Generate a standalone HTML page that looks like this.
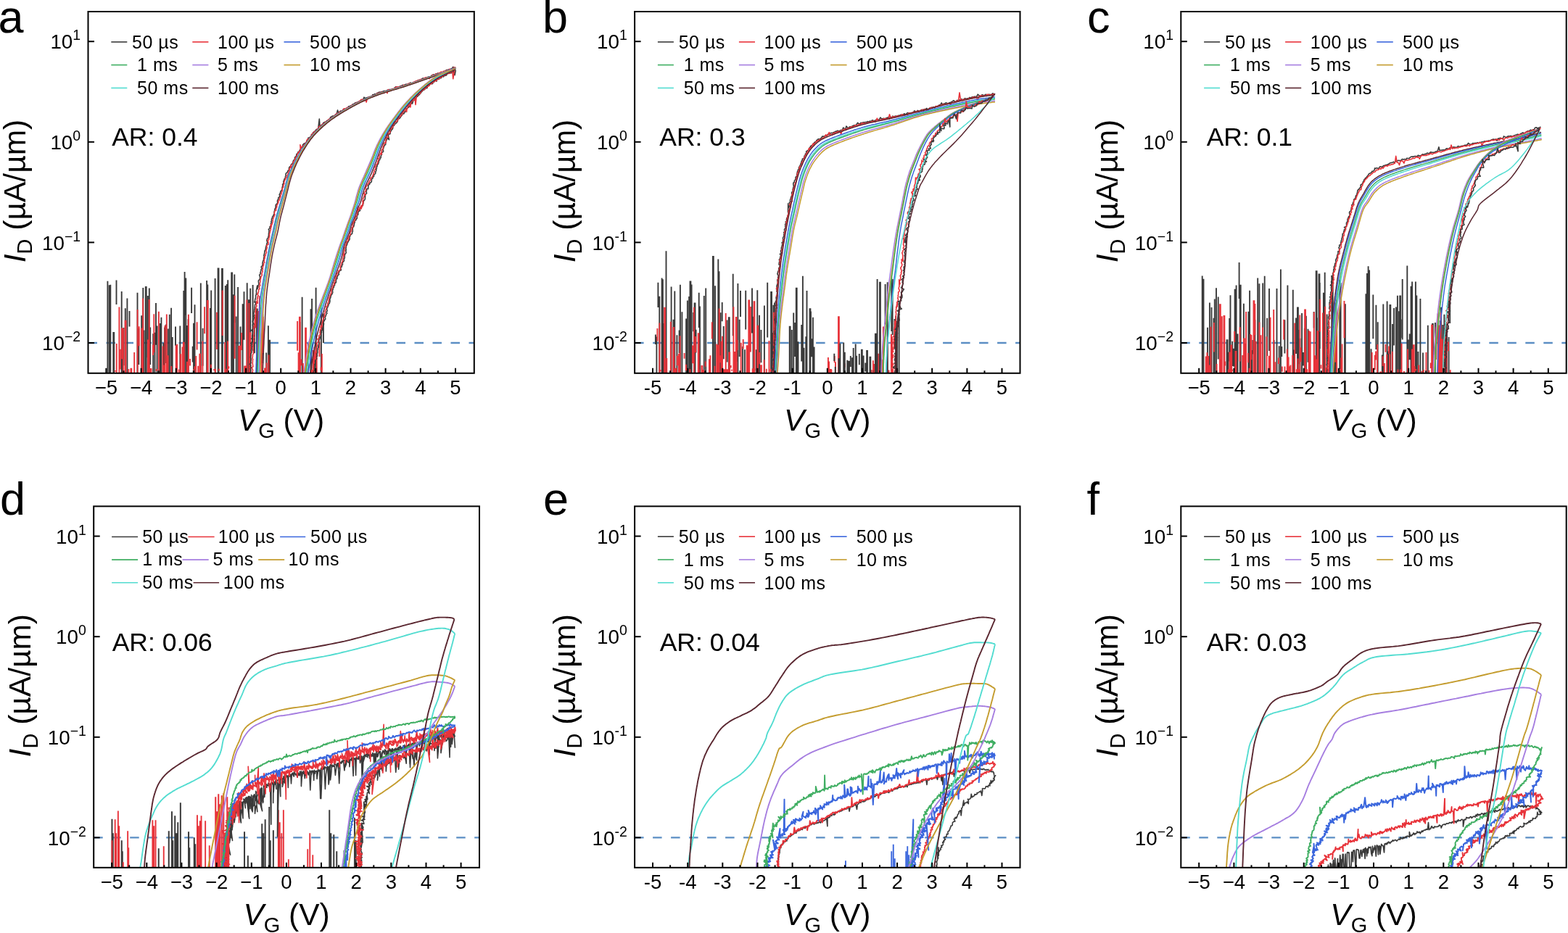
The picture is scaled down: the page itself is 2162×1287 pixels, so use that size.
<!DOCTYPE html>
<html><head><meta charset="utf-8"><style>html,body{margin:0;padding:0;background:#fff;overflow:hidden}svg{display:block}</style></head><body>
<svg xmlns="http://www.w3.org/2000/svg" width="2162" height="1287" viewBox="0 0 2162 1287" font-family='"Liberation Sans", Arial, sans-serif'>
<rect width="2162" height="1287" fill="#fff"/>
<line x1="121.5" y1="473" x2="653.8" y2="473" stroke="#5b8ec4" stroke-width="2.4" stroke-dasharray="12.5 12.5"/>
<line x1="875.1" y1="473" x2="1406.5" y2="473" stroke="#5b8ec4" stroke-width="2.4" stroke-dasharray="12.5 12.5"/>
<line x1="1628.3" y1="473" x2="2159.7" y2="473" stroke="#5b8ec4" stroke-width="2.4" stroke-dasharray="12.5 12.5"/>
<line x1="129.2" y1="1155.4" x2="661.0" y2="1155.4" stroke="#5b8ec4" stroke-width="2.4" stroke-dasharray="12.5 12.5"/>
<line x1="875.1" y1="1155.4" x2="1406.5" y2="1155.4" stroke="#5b8ec4" stroke-width="2.4" stroke-dasharray="12.5 12.5"/>
<line x1="1628.3" y1="1155.4" x2="2159.7" y2="1155.4" stroke="#5b8ec4" stroke-width="2.4" stroke-dasharray="12.5 12.5"/>
<clipPath id="clipa"><rect x="121.5" y="16.0" width="532.3" height="498.8"/></clipPath><g clip-path="url(#clipa)">
<path d="M148.4 517.8V387.7M150.7 517.8V393.2M152.3 517.8V392.7M156.3 517.8V458.9H157.2V489.9M157.2 489.9V517.8M160.5 419.9V386.5M167.7 517.8V402.1M169.2 517.8V481.2M170.5 504.2V451.9M172.8 517.8V425.2M175.4 517.8V411.5M178.5 450.6V429.0M189.5 517.8V403.8M191.4 502.9V452.9M195.2 517.8V435.3M197.3 517.8V397.1M198.5 517.8V455.4M200.8 517.8V396.0H201.7V462.9M201.7 462.9V517.8M203.8 493.2V408.0M205.8 517.8V397.5M207.2 503.0V451.4M211.2 517.8V460.3M213.5 517.8V458.7M215.0 475.8V417.9M216.6 517.8V449.4M220.7 517.8V446.1M222.4 517.8V437.7M225.4 517.8V473.3M227.0 517.8V451.4M229.0 501.1V447.5M231.7 517.8V453.4M233.8 517.8V433.7M236.1 517.8V424.8M237.7 517.8V465.1M242.0 476.7V450.6M248.3 517.8V449.6M253.3 517.8V401.9H254.2V463.8M254.2 463.8V517.8M254.6 434.7V374.9M256.3 517.8V383.6M258.1 517.8V449.0M259.5 517.8V440.3M264.1 432.1V396.7M265.7 499.4V477.8M267.0 517.8V446.8H267.9V468.1M267.9 468.1V517.8M268.5 517.8V420.3M276.8 517.8V390.6M279.6 504.8V452.8M285.1 517.8V387.0M286.3 517.8V392.4M289.9 517.8V425.1M291.2 517.8V400.5M296.6 517.8V384.0M300.6 517.8V370.4H301.5V407.6M301.5 407.6V517.8M306.0 517.8V371.0H306.9V400.5M306.9 400.5V517.8M310.8 517.8V393.9M312.8 517.8V392.1M314.2 517.8V386.3M319.2 517.8V376.4H320.1V408.6M320.1 408.6V517.8M322.0 517.8V406.2M323.3 445.2V378.6M325.7 517.8V436.6M328.1 517.8V396.1M329.9 517.8V478.5H330.8V488.0M330.8 488.0V517.8M331.5 517.8V450.5M334.6 517.8V419.2M336.5 468.8V402.2M340.7 517.8V390.3M342.8 517.8V414.2H343.7V467.7M343.7 467.7V517.8M345.2 517.8V397.8M348.6 484.2V393.0M350.9 487.3V445.9M353.9 517.8V426.5H354.8V442.4M354.8 442.4V517.8M362.3 501.1V433.6M367.2 517.8V486.6M369.9 517.8V449.2M371.2 517.8V469.8H372.1V496.2M372.1 496.2V517.8" fill="none" stroke="#3a3a3a" stroke-width="1.9" stroke-linecap="butt"/>
<path d="M158.6 512.8V511.0M160.7 517.8V474.0M164.4 517.8V423.4M165.9 509.6V481.7M168.1 495.2V452.1M169.9 517.8V453.0M172.6 517.8V442.8H173.5V457.5M173.5 457.5V517.8M177.3 517.8V509.0M180.4 517.8V508.8H181.3V510.5M181.3 510.5V517.8M185.2 517.8V485.9M189.6 517.8V427.0M191.7 477.2V450.3M195.5 517.8V452.4M197.1 517.8V411.5M203.9 517.8V468.4M205.7 517.8V413.1M207.6 517.8V509.0H208.5V510.9M208.5 510.9V517.8M211.0 490.0V475.8M212.3 486.2V433.3M215.8 512.1V508.9M218.9 517.8V429.7M224.5 517.8V477.5M225.8 517.8V503.6M227.5 517.8V448.7M229.8 517.8V433.4M231.6 517.8V490.3M236.3 517.8V505.1M242.7 517.8V476.3M244.2 517.8V474.7M246.8 517.8V509.6M249.1 517.8V488.3M251.5 517.8V478.4M252.8 517.8V472.7H253.7V477.8M253.7 477.8V517.8M257.9 517.8V499.6H258.8V507.7M258.8 507.7V517.8M259.9 517.8V433.8M262.1 504.5V495.1M267.2 517.8V509.2M268.4 509.4V505.2M270.2 517.8V491.0M271.6 482.6V444.3M273.2 517.8V504.8M275.3 517.8V488.6H276.2V497.4M276.2 497.4V517.8M276.7 517.8V504.3M279.4 517.8V470.5M282.1 460.3V423.2M285.8 517.8V414.9H286.7V459.1M286.7 459.1V517.8M290.8 517.8V502.8M295.3 511.3V508.9M296.9 517.8V508.8M299.0 481.9V430.7M301.9 511.4V508.8M306.7 463.0V400.4M310.1 517.8V472.0M311.6 513.8V508.8M314.0 517.8V470.5M315.4 508.6V505.3M323.6 494.8V407.7M329.3 517.8V477.1M331.1 517.8V476.5M333.1 482.9V458.9M337.1 517.8V505.5H338.0V507.7M338.0 507.7V517.8M339.1 510.1V504.5M340.3 517.8V413.4M343.4 517.8V418.1M345.3 517.8V458.3M352.6 452.4V425.3M355.9 517.8V429.1M357.8 517.8V408.2M360.8 517.8V429.8M362.8 487.1V436.7M365.0 517.8V508.4H365.9V510.2M365.9 510.2V517.8M367.6 517.8V500.4M370.5 517.8V489.4" fill="none" stroke="#e8333a" stroke-width="1.9" stroke-linecap="butt"/>
<path d="M413.6 517.8V444.1M416.6 517.8V409.7M424.9 517.8V473.7M428.5 517.8V427.2H429.4V477.6M429.4 477.6V517.8M430.1 483.9V411.9M435.6 517.8V396.8M442.9 517.8V421.0M445.9 472.9V432.4" fill="none" stroke="#3a3a3a" stroke-width="1.9" stroke-linecap="butt"/>
<path d="M410.1 483.7V442.9M411.6 517.8V486.2M412.9 517.8V437.7H413.8V463.7M413.8 463.7V517.8M415.5 504.3V495.5M417.9 517.8V501.1M419.6 514.0V510.2M421.1 517.8V452.7H422.0V462.1M422.0 462.1V517.8M424.3 517.8V509.8M429.9 517.8V509.9M431.9 517.8V482.9M433.5 517.8V478.6M436.7 517.8V484.6M440.4 492.1V471.5M442.5 510.9V506.4M443.9 517.8V488.1" fill="none" stroke="#e8333a" stroke-width="1.9" stroke-linecap="butt"/>
<path d="M628.2 92.8L626.9 94.0L624.6 92.3L623.5 94.1L622.1 95.0L620.7 95.7L619.0 95.7L617.5 96.2L615.9 96.5L614.5 97.4L613.1 98.3L611.7 99.0L610.1 100.1L608.5 99.7L607.2 100.6L605.6 101.2L603.9 101.1L602.3 101.6L600.8 102.0L599.6 103.3L597.7 102.9L596.2 103.5L594.8 104.5L593.6 106.0L592.0 106.0L590.3 106.1L588.9 107.1L587.2 107.0L585.8 107.9L584.2 108.1L582.5 108.1L581.2 109.4L579.8 110.1L578.2 110.5L576.6 110.6L575.4 112.1L573.7 112.2L572.2 112.8L570.8 113.5L569.2 114.0L567.9 115.0L565.9 114.1L564.4 114.9L563.1 115.9L561.5 116.3L559.8 116.3L558.3 116.8L557.0 117.9L555.1 117.3L553.7 118.2L552.2 118.7L550.7 119.4L549.2 119.9L547.7 120.5L545.8 119.7L544.4 120.8L543.2 122.4L541.6 122.5L540.2 123.4L538.5 123.6L536.8 123.5L535.3 123.9L533.8 124.6L532.4 125.4L530.7 125.6L529.0 125.6L527.6 126.3L526.0 126.6L524.5 127.3L522.7 127.1L521.4 128.2L519.8 128.4L518.9 130.6L516.8 129.5L515.5 130.7L513.8 130.6L512.8 132.5L511.3 133.2L509.7 133.4L508.2 134.1L506.7 134.6L505.1 135.1L503.5 135.3L501.9 134.2L500.8 137.2L499.2 137.7L497.9 138.5L496.5 139.4L495.0 139.9L493.6 140.8L492.1 141.3L490.4 141.6L489.0 142.4L487.8 143.5L486.2 143.9L485.2 145.4L483.5 145.7L482.2 146.6L480.5 146.9L479.5 148.4L478.3 149.5L476.5 151.2L475.2 150.7L473.4 150.6L472.5 152.3L471.2 153.2L469.2 153.1L468.2 154.5L466.7 155.2L465.5 151.9L464.2 157.2L462.7 157.8L461.7 159.3L460.3 160.0L458.3 160.0L457.1 161.1L455.6 161.7L455.1 163.9L453.6 164.5L452.6 165.8L451.0 166.4L449.4 167.9L448.3 168.2L446.8 168.9L445.6 169.9L444.9 171.6L443.4 172.3L442.2 173.4L441.1 174.5L440.3 164.1L438.8 176.8L438.0 178.3L436.1 178.6L435.2 180.0L434.0 181.1L432.7 182.1L431.5 183.1L431.6 185.4L429.4 185.6L429.3 187.6L428.1 188.7L426.9 189.8L424.9 190.3L425.0 192.4L423.6 193.3L422.8 194.7L422.4 196.4L421.0 197.4L419.2 198.1L418.1 199.3L417.5 199.6L417.2 202.6L416.0 203.7L414.4 205.6L414.0 206.2L413.1 207.5L412.5 209.1L410.7 209.9L410.7 211.8L408.9 212.5L408.7 214.3L408.1 215.8L406.6 216.8L406.4 218.6L406.3 220.3L404.7 221.3L404.1 222.8L403.9 224.5L402.9 225.8L401.5 226.8L401.1 228.5L400.1 229.7L398.8 230.9L398.4 232.4L398.6 234.4L397.0 235.4L396.5 236.9L395.4 238.2L394.2 239.4L394.0 241.1L393.9 242.8L393.3 244.3L393.3 246.0L391.9 247.2L391.7 248.8L390.8 250.2L391.1 252.0L390.4 253.5L389.5 254.9L390.0 256.7L389.1 258.1L389.3 259.8L389.0 261.4L388.0 262.8L386.9 264.1L386.5 265.7L386.0 267.2L385.1 268.6L386.2 270.7L384.7 271.9L383.6 273.2L383.9 275.0L382.6 276.2L382.5 277.9L382.7 279.7L381.8 281.1L380.4 282.3L380.1 283.9L380.2 285.6L379.6 287.1L378.9 288.6L378.7 290.2L378.2 291.7L378.1 293.4L378.2 295.1L377.2 296.4L376.6 298.0L375.5 299.3L375.4 300.9L374.4 302.3L374.7 304.1L373.9 305.5L374.1 307.3L373.4 308.7L373.9 310.5L373.0 311.9L371.8 313.2L372.3 315.1L370.3 316.2L371.1 318.1L370.8 319.7L370.8 321.3L370.3 322.9L370.6 324.5L369.9 326.0L370.0 327.7L368.6 329.0L368.2 330.3L367.8 332.2L368.9 334.0L368.1 335.5L367.8 337.1L367.3 338.6L366.8 340.2L366.4 341.7L366.3 343.3L365.8 344.9L364.9 346.3L364.8 348.0L364.6 349.6L364.3 351.1L363.8 352.7L364.4 354.4L363.5 355.9L363.8 357.6L363.1 359.1L362.6 360.6L362.1 362.2L362.0 363.8L362.0 365.4L362.5 365.6L360.1 368.3L361.2 370.2L360.1 371.6L359.8 373.2L359.4 374.7L358.9 376.3L359.1 377.9L357.6 379.3L358.3 381.1L358.5 382.8L358.4 384.4L357.6 385.9L356.3 387.2L356.5 388.9L356.6 390.6L356.9 392.3L356.1 393.7L355.8 395.3L355.0 398.5L354.5 398.3L354.7 394.1L353.3 401.4L353.6 403.1L353.4 404.7L353.3 406.3L352.5 407.8L352.6 409.4L352.5 411.0L351.9 412.6L351.6 414.2L350.9 417.0L351.8 415.7L352.7 419.1L351.5 420.6L351.5 421.5L351.2 423.8L351.1 425.4L350.7 427.0L350.5 428.6L350.2 430.2L349.8 431.8L350.0 433.4L350.4 435.0L349.0 436.5L350.8 437.0L349.9 439.8L349.5 441.4L348.3 442.9L348.5 444.5L349.2 446.2L348.4 447.8L348.5 449.4L348.8 451.0L348.5 452.6L348.6 454.2L346.6 455.7L348.5 457.4L348.0 462.0L348.2 460.6L347.9 462.2L347.6 463.8L348.1 465.5L346.9 467.0L347.9 468.7L348.0 470.3L346.8 472.8L345.8 473.4L347.1 475.1L346.4 476.6L347.1 478.3L346.7 479.5L346.9 481.5L346.4 483.1L346.8 484.7L346.8 486.3L346.0 487.9L345.8 489.5L345.9 491.1L345.4 492.7L345.9 494.3L346.2 495.9L345.9 497.5L345.7 499.1L346.1 500.7L344.3 502.3L345.8 503.9L345.3 505.5L346.4 507.2L345.1 508.7L345.8 510.4L345.6 513.2L344.8 513.6L345.2 515.2L344.8 516.8L345.1 518.4L345.4 520.0" fill="none" stroke="#3a3a3a" stroke-width="1.6" stroke-linejoin="round"/>
<path d="M628.3 93.3L626.5 93.0L625.0 93.8L623.8 95.1L622.2 96.6L620.4 95.1L619.1 96.3L617.6 96.8L616.1 97.5L614.5 97.6L613.0 98.3L611.3 98.4L610.1 99.7L608.2 99.1L606.8 100.1L605.4 100.8L603.8 101.3L602.6 102.7L600.6 101.9L599.5 103.5L597.9 103.9L596.1 103.5L595.2 105.9L593.4 105.5L592.1 108.6L590.3 106.5L589.0 107.5L587.1 107.1L585.6 107.6L584.2 108.4L582.8 109.5L581.1 109.5L579.4 109.5L578.2 110.8L576.6 111.0L575.0 111.3L573.5 112.1L572.0 112.5L570.5 113.2L569.1 114.1L567.7 115.0L566.0 114.8L564.4 115.2L562.8 115.6L561.4 116.4L560.0 117.2L558.4 117.5L556.6 117.3L555.5 118.9L553.7 118.7L552.3 119.7L550.8 120.1L549.0 119.7L547.4 120.1L545.9 120.6L544.4 121.2L543.1 122.6L541.6 123.2L539.9 123.1L538.5 124.0L537.0 124.5L535.0 123.6L534.0 128.7L532.3 125.8L530.7 126.0L529.3 128.7L527.7 127.2L526.0 127.1L524.9 128.7L522.9 127.9L521.7 129.4L519.8 129.0L518.7 130.5L517.1 130.8L515.6 131.5L514.0 131.8L512.8 132.9L511.3 133.6L509.6 133.7L508.0 134.2L506.7 135.2L505.1 141.0L503.7 136.8L502.3 137.1L500.7 137.4L498.9 137.4L498.0 137.2L496.2 139.2L494.8 140.0L493.7 141.4L492.0 141.6L490.6 142.4L489.2 143.2L487.9 144.2L486.4 144.8L484.9 145.3L483.5 146.1L482.4 147.5L480.7 147.7L479.3 148.5L477.6 148.9L476.6 150.2L474.4 149.7L473.4 151.2L472.6 152.9L471.3 153.9L469.6 154.3L467.9 154.6L467.1 156.3L465.3 156.5L463.9 157.3L462.7 158.4L461.5 159.5L460.2 160.4L459.2 161.8L457.5 162.1L456.2 163.1L454.8 163.8L453.5 164.9L452.0 165.6L451.3 167.2L449.9 168.0L448.2 168.5L447.5 170.2L445.9 170.8L444.3 171.4L443.8 173.2L441.9 173.6L440.4 174.3L439.3 175.5L439.6 178.1L437.2 178.0L436.8 179.9L435.8 181.2L433.7 181.3L432.9 182.8L431.9 184.0L430.3 184.8L429.9 186.6L428.8 187.8L428.2 189.4L427.2 190.6L425.8 191.5L423.9 192.1L423.1 193.5L423.3 195.7L421.7 196.5L421.2 198.1L419.8 199.1L419.4 200.7L417.9 201.7L416.5 202.6L415.3 203.8L413.9 199.7L414.3 207.0L413.7 208.5L412.2 209.5L411.9 211.2L411.3 210.7L409.8 213.7L409.3 215.3L408.6 216.7L407.2 217.8L407.2 219.6L406.5 220.0L405.4 222.3L404.4 223.6L404.1 225.3L402.5 237.2L401.6 227.5L400.8 228.9L400.4 231.6L399.5 231.9L399.1 233.5L399.1 235.3L398.2 236.7L397.6 238.1L397.2 239.7L396.5 241.1L395.7 242.5L396.0 244.4L393.8 245.3L393.9 247.0L392.8 248.3L392.3 249.8L391.6 251.3L391.9 253.1L391.3 254.6L390.6 256.1L390.8 257.8L389.8 259.2L388.6 260.5L389.6 262.5L388.4 265.1L388.0 265.3L388.2 267.1L387.2 268.5L386.8 270.0L386.8 271.7L385.8 273.1L385.7 274.7L385.1 276.2L383.7 277.4L383.9 279.2L383.1 280.6L382.6 282.2L381.5 283.5L381.8 285.3L381.2 286.8L380.4 288.2L380.7 290.0L378.8 291.1L378.6 292.7L378.2 294.3L379.0 296.2L378.2 297.6L377.6 299.1L377.0 300.6L376.5 302.2L376.2 303.8L376.2 305.4L375.8 307.0L375.3 308.5L374.8 310.0L374.1 311.5L374.1 313.2L373.4 309.8L373.4 316.3L372.9 317.8L372.4 319.4L372.2 321.0L371.6 322.5L371.5 324.1L371.7 325.8L371.2 327.4L370.6 329.5L370.8 330.5L369.0 331.8L369.9 333.6L370.0 335.3L370.1 337.0L367.9 338.2L367.7 339.8L368.3 341.5L367.8 343.1L367.4 344.6L366.8 346.4L367.5 347.9L366.3 350.7L366.2 350.9L366.1 352.6L364.8 354.0L365.3 355.7L364.4 357.1L364.4 358.8L364.1 360.4L364.8 362.1L363.2 363.5L363.7 365.2L363.0 366.7L362.9 366.4L362.2 369.8L362.4 371.5L361.7 373.0L362.1 374.7L361.2 376.2L361.0 377.8L361.3 379.5L360.4 380.9L359.7 382.4L359.5 384.0L359.1 385.6L358.9 387.2L358.8 388.8L358.4 390.4L358.1 392.0L358.8 393.7L357.3 395.1L357.5 396.8L357.9 398.5L356.5 399.8L356.7 401.5L355.2 406.5L355.2 404.5L354.9 406.1L356.2 407.9L355.0 409.4L355.4 411.0L354.4 412.5L355.3 418.1L353.9 415.7L353.5 417.3L354.0 419.0L353.2 420.2L354.1 422.2L353.0 423.7L353.0 425.3L353.5 427.0L352.6 428.5L352.1 430.1L352.8 431.7L352.8 434.8L351.8 434.9L352.6 436.6L351.7 438.1L351.9 439.7L351.5 441.3L351.3 442.9L351.3 444.5L351.0 446.1L351.8 447.8L350.2 449.3L350.5 450.9L349.5 452.5L350.9 454.2L350.7 455.8L350.9 457.4L350.4 459.0L350.4 460.6L350.0 462.2L349.5 463.7L351.0 465.5L349.7 467.0L349.8 468.6L350.4 470.3L349.6 471.8L349.3 473.4L348.9 475.0L349.1 476.6L349.2 478.2L348.2 479.8L349.0 481.4L349.2 483.1L349.4 484.7L349.3 486.3L349.4 487.9L348.3 489.5L348.5 491.1L348.1 492.7L348.4 496.2L348.8 495.9L348.3 497.5L348.5 499.1L348.1 500.7L348.5 502.3L348.6 503.9L348.9 505.6L347.2 507.1L347.7 508.7L348.6 510.4L347.4 518.8L347.9 513.6L347.4 515.2L347.5 516.8L346.4 518.4L347.3 520.0" fill="none" stroke="#e8333a" stroke-width="1.6" stroke-linejoin="round"/>
<path d="M628.2 93.6L626.4 94.2L624.6 94.9L622.8 95.5L621.0 96.1L619.3 96.8L617.5 97.4L615.7 98.1L613.9 98.7L612.1 99.4L610.3 100.0L608.5 100.6L606.7 101.3L604.9 101.9L603.1 102.5L601.4 103.2L599.6 103.8L597.8 104.5L596.0 105.1L594.2 105.7L592.4 106.3L590.6 107.0L588.8 107.6L587.0 108.2L585.2 108.9L583.4 109.5L581.6 110.1L579.8 110.7L578.0 111.4L576.2 112.0L574.4 112.6L572.7 113.2L570.9 113.9L569.1 114.5L567.3 115.1L565.5 115.7L563.7 116.3L561.9 116.9L560.0 117.5L558.2 118.1L556.4 118.7L554.6 119.3L552.8 119.8L551.0 120.4L549.2 120.9L547.4 121.5L545.5 122.0L543.7 122.6L541.9 123.1L540.1 123.7L538.2 124.2L536.4 124.8L534.6 125.3L532.8 125.9L531.0 126.5L529.2 127.0L527.4 127.6L525.6 128.2L523.8 128.8L522.0 129.5L520.2 130.1L518.4 130.8L516.6 131.5L514.9 132.2L513.1 132.9L511.3 133.6L509.6 134.3L507.8 135.0L506.1 135.8L504.3 136.5L502.6 137.3L500.9 138.1L499.1 138.9L497.4 139.7L495.7 140.6L494.0 141.4L492.3 142.3L490.6 143.2L488.9 144.0L487.3 144.9L485.6 145.8L483.9 146.7L482.3 147.7L480.6 148.6L479.0 149.5L477.3 150.5L475.7 151.4L474.0 152.4L472.4 153.4L470.8 154.4L469.2 155.4L467.5 156.4L465.9 157.4L464.3 158.4L462.7 159.4L461.1 160.5L459.6 161.5L458.0 162.6L456.4 163.7L454.9 164.8L453.4 166.0L451.9 167.1L450.4 168.3L448.9 169.5L447.4 170.7L446.0 171.9L444.5 173.1L443.1 174.4L441.7 175.7L440.3 177.0L438.9 178.3L437.6 179.6L436.2 181.0L434.9 182.3L433.6 183.7L432.3 185.1L431.0 186.5L429.8 187.9L428.5 189.4L427.3 190.9L426.2 192.4L425.0 193.9L423.9 195.4L422.7 196.9L421.6 198.5L420.5 200.0L419.5 201.6L418.4 203.2L417.3 204.7L416.3 206.3L415.3 207.9L414.3 209.6L413.4 211.2L412.4 212.8L411.5 214.5L410.5 216.2L409.6 217.8L408.7 219.5L407.8 221.2L406.9 222.8L406.0 224.5L405.1 226.2L404.3 227.9L403.4 229.6L402.6 231.3L401.7 233.0L400.9 234.7L400.1 236.4L399.4 238.2L398.6 239.9L397.9 241.7L397.3 243.5L396.6 245.2L396.0 247.1L395.5 248.9L394.9 250.7L394.4 252.5L394.0 254.4L393.5 256.2L393.0 258.1L392.6 259.9L392.1 261.7L391.6 263.6L391.0 265.4L390.5 267.2L389.9 269.0L389.4 270.8L388.8 272.7L388.2 274.5L387.7 276.3L387.1 278.1L386.6 279.9L386.0 281.7L385.5 283.5L384.9 285.4L384.4 287.2L383.8 289.0L383.3 290.8L382.8 292.7L382.2 294.5L381.7 296.3L381.2 298.2L380.8 300.0L380.3 301.8L379.8 303.7L379.4 305.5L379.0 307.4L378.5 309.2L378.1 311.1L377.7 312.9L377.3 314.8L376.9 316.6L376.5 318.5L376.0 320.4L375.6 322.2L375.2 324.1L374.8 325.9L374.3 327.8L373.9 329.6L373.5 331.5L373.1 333.3L372.7 335.2L372.3 337.0L371.9 338.9L371.5 340.8L371.2 342.6L370.8 344.5L370.4 346.4L370.0 348.2L369.7 350.1L369.3 352.0L369.0 353.8L368.6 355.7L368.2 357.6L367.9 359.4L367.6 361.3L367.2 363.2L366.9 365.0L366.6 366.9L366.3 368.8L365.9 370.7L365.6 372.5L365.3 374.4L364.9 376.3L364.6 378.1L364.3 380.0L363.9 381.9L363.6 383.8L363.2 385.6L362.9 387.5L362.6 389.4L362.2 391.2L361.9 393.1L361.6 395.0L361.3 396.9L360.9 398.7L360.6 400.6L360.3 402.5L360.0 404.3L359.7 406.2L359.4 408.1L359.2 410.0L358.9 411.9L358.7 413.7L358.6 415.6L358.4 417.5L358.2 419.4L358.0 421.3L357.9 423.2L357.7 425.1L357.6 427.0L357.5 428.9L357.3 430.8L357.2 432.7L357.0 434.6L356.9 436.5L356.8 438.4L356.6 440.3L356.5 442.2L356.4 444.1L356.3 446.0L356.1 447.9L356.0 449.7L355.9 451.6L355.7 453.5L355.6 455.4L355.5 457.3L355.4 459.2L355.2 461.1L355.1 463.0L355.0 464.9L354.9 466.8L354.8 468.7L354.7 470.6L354.6 472.5L354.5 474.4L354.4 476.3L354.3 478.2L354.2 480.1L354.1 482.0L354.0 483.9L353.9 485.8L353.8 487.7L353.7 489.6L353.7 491.5L353.6 493.4L353.5 495.3L353.4 497.2L353.4 499.1L353.3 501.0L353.2 502.9L353.2 504.8L353.1 506.7L353.0 508.6L353.0 510.5L352.9 512.4L352.8 514.3L352.8 516.2L352.7 518.1L352.7 520.0" fill="none" stroke="#3a66dd" stroke-width="1.5" stroke-linejoin="round"/>
<path d="M628.2 93.8L626.4 94.4L624.6 95.1L622.8 95.7L621.1 96.4L619.3 97.0L617.5 97.7L615.7 98.3L613.9 98.9L612.1 99.6L610.4 100.2L608.6 100.9L606.8 101.5L605.0 102.1L603.2 102.8L601.4 103.4L599.6 104.1L597.8 104.7L596.1 105.3L594.3 105.9L592.5 106.6L590.7 107.2L588.9 107.8L587.1 108.5L585.3 109.1L583.5 109.7L581.7 110.4L579.9 111.0L578.2 111.6L576.4 112.2L574.6 112.9L572.8 113.5L571.0 114.1L569.2 114.7L567.4 115.3L565.6 115.9L563.8 116.5L562.0 117.1L560.2 117.7L558.4 118.3L556.6 118.9L554.8 119.5L553.0 120.1L551.2 120.6L549.3 121.2L547.5 121.7L545.7 122.3L543.9 122.8L542.1 123.4L540.3 123.9L538.4 124.4L536.6 125.0L534.8 125.5L533.0 126.1L531.2 126.7L529.4 127.3L527.6 127.8L525.8 128.4L524.0 129.1L522.2 129.7L520.4 130.3L518.6 131.0L516.9 131.7L515.1 132.4L513.3 133.1L511.6 133.8L509.8 134.5L508.1 135.2L506.3 136.0L504.6 136.7L502.8 137.5L501.1 138.3L499.4 139.1L497.7 139.9L496.0 140.8L494.3 141.6L492.6 142.5L490.9 143.4L489.2 144.2L487.6 145.1L485.9 146.0L484.2 146.9L482.6 147.9L480.9 148.8L479.3 149.7L477.6 150.7L476.0 151.6L474.3 152.6L472.7 153.6L471.1 154.6L469.5 155.6L467.9 156.6L466.3 157.6L464.7 158.6L463.1 159.6L461.5 160.7L459.9 161.7L458.4 162.8L456.8 163.9L455.3 165.0L453.7 166.1L452.2 167.3L450.7 168.4L449.2 169.6L447.8 170.8L446.3 172.1L444.9 173.3L443.5 174.6L442.1 175.9L440.7 177.2L439.3 178.5L438.0 179.8L436.6 181.1L435.3 182.5L434.0 183.9L432.7 185.2L431.4 186.6L430.2 188.1L429.0 189.5L427.8 191.0L426.6 192.5L425.4 194.0L424.3 195.5L423.2 197.1L422.1 198.6L421.0 200.2L420.0 201.7L418.9 203.3L417.9 204.9L416.9 206.5L415.9 208.1L414.9 209.8L413.9 211.4L413.0 213.0L412.1 214.7L411.1 216.4L410.2 218.0L409.3 219.7L408.5 221.4L407.6 223.1L406.7 224.7L405.9 226.4L405.0 228.1L404.2 229.8L403.4 231.5L402.6 233.3L401.8 235.0L401.0 236.7L400.3 238.4L399.5 240.2L398.9 242.0L398.2 243.8L397.6 245.6L397.0 247.4L396.5 249.2L396.0 251.0L395.5 252.8L395.0 254.7L394.5 256.5L394.1 258.3L393.6 260.2L393.1 262.0L392.6 263.9L392.1 265.7L391.6 267.5L391.1 269.3L390.5 271.1L390.0 273.0L389.4 274.8L388.9 276.6L388.3 278.4L387.8 280.2L387.3 282.0L386.7 283.9L386.2 285.7L385.7 287.5L385.1 289.3L384.6 291.1L384.1 293.0L383.6 294.8L383.1 296.6L382.6 298.5L382.1 300.3L381.7 302.1L381.2 304.0L380.8 305.8L380.4 307.7L380.0 309.5L379.6 311.4L379.2 313.2L378.8 315.1L378.4 317.0L378.0 318.8L377.6 320.7L377.1 322.5L376.7 324.3L376.2 326.2L375.8 328.0L375.4 329.9L375.0 331.7L374.5 333.6L374.1 335.4L373.7 337.3L373.3 339.1L372.9 341.0L372.6 342.9L372.2 344.7L371.8 346.6L371.4 348.4L371.1 350.3L370.7 352.2L370.4 354.0L370.0 355.9L369.7 357.8L369.3 359.6L369.0 361.5L368.7 363.4L368.4 365.2L368.1 367.1L367.7 369.0L367.4 370.9L367.1 372.7L366.8 374.6L366.5 376.5L366.2 378.3L365.8 380.2L365.5 382.1L365.2 383.9L364.8 385.8L364.5 387.7L364.2 389.5L363.9 391.4L363.6 393.3L363.3 395.2L363.0 397.0L362.7 398.9L362.4 400.8L362.1 402.6L361.8 404.5L361.5 406.4L361.3 408.3L361.1 410.2L360.9 412.0L360.7 413.9L360.5 415.8L360.3 417.7L360.2 419.6L360.0 421.5L359.9 423.4L359.7 425.3L359.6 427.2L359.5 429.1L359.4 430.9L359.2 432.8L359.1 434.7L359.0 436.6L358.9 438.5L358.7 440.4L358.6 442.3L358.5 444.2L358.4 446.1L358.2 448.0L358.1 449.9L358.0 451.8L357.9 453.7L357.8 455.6L357.6 457.4L357.5 459.3L357.4 461.2L357.3 463.1L357.2 465.0L357.1 466.9L357.0 468.8L356.9 470.7L356.8 472.6L356.7 474.5L356.6 476.4L356.5 478.3L356.4 480.2L356.3 482.1L356.2 484.0L356.1 485.9L356.0 487.8L355.9 489.7L355.9 491.6L355.8 493.5L355.7 495.3L355.7 497.2L355.6 499.1L355.5 501.0L355.5 502.9L355.4 504.8L355.3 506.7L355.3 508.6L355.2 510.5L355.1 512.4L355.1 514.3L355.0 516.2L354.9 518.1L354.9 520.0" fill="none" stroke="#3fae62" stroke-width="1.5" stroke-linejoin="round"/>
<path d="M628.2 93.9L626.4 94.5L624.6 95.2L622.9 95.8L621.1 96.5L619.3 97.1L617.5 97.8L615.7 98.4L613.9 99.0L612.2 99.7L610.4 100.3L608.6 101.0L606.8 101.6L605.0 102.3L603.2 102.9L601.4 103.5L599.7 104.2L597.9 104.8L596.1 105.4L594.3 106.1L592.5 106.7L590.7 107.3L588.9 107.9L587.1 108.6L585.4 109.2L583.6 109.8L581.8 110.5L580.0 111.1L578.2 111.7L576.4 112.3L574.6 113.0L572.8 113.6L571.0 114.2L569.2 114.8L567.5 115.4L565.7 116.0L563.9 116.6L562.1 117.3L560.3 117.9L558.5 118.4L556.7 119.0L554.9 119.6L553.0 120.2L551.2 120.7L549.4 121.3L547.6 121.8L545.8 122.4L544.0 122.9L542.2 123.5L540.3 124.0L538.5 124.6L536.7 125.1L534.9 125.7L533.1 126.2L531.3 126.8L529.5 127.4L527.7 127.9L525.9 128.5L524.1 129.1L522.3 129.8L520.5 130.4L518.7 131.1L517.0 131.8L515.2 132.5L513.4 133.2L511.7 133.9L509.9 134.6L508.2 135.3L506.4 136.1L504.7 136.8L503.0 137.6L501.2 138.4L499.5 139.2L497.8 140.0L496.1 140.9L494.4 141.7L492.7 142.6L491.0 143.4L489.4 144.3L487.7 145.2L486.0 146.1L484.4 147.0L482.7 148.0L481.1 148.9L479.4 149.8L477.8 150.8L476.1 151.7L474.5 152.7L472.9 153.7L471.2 154.6L469.6 155.6L468.0 156.6L466.4 157.7L464.8 158.7L463.2 159.7L461.7 160.7L460.1 161.8L458.5 162.9L457.0 164.0L455.4 165.1L453.9 166.2L452.4 167.3L450.9 168.5L449.4 169.7L448.0 170.9L446.5 172.1L445.1 173.4L443.7 174.6L442.3 175.9L440.9 177.2L439.5 178.5L438.2 179.9L436.8 181.2L435.5 182.6L434.2 183.9L432.9 185.3L431.6 186.7L430.4 188.1L429.1 189.6L428.0 191.1L426.8 192.6L425.6 194.1L424.5 195.6L423.4 197.1L422.3 198.7L421.3 200.3L420.2 201.8L419.1 203.4L418.1 205.0L417.1 206.6L416.1 208.2L415.1 209.8L414.2 211.5L413.3 213.1L412.3 214.8L411.4 216.4L410.5 218.1L409.7 219.8L408.8 221.5L407.9 223.2L407.1 224.8L406.2 226.5L405.4 228.2L404.6 229.9L403.7 231.7L402.9 233.4L402.2 235.1L401.4 236.8L400.7 238.6L400.0 240.3L399.3 242.1L398.7 243.9L398.1 245.7L397.5 247.5L396.9 249.3L396.4 251.1L395.9 253.0L395.5 254.8L395.0 256.6L394.5 258.5L394.1 260.3L393.6 262.2L393.1 264.0L392.6 265.8L392.1 267.6L391.6 269.5L391.0 271.3L390.5 273.1L390.0 274.9L389.4 276.7L388.9 278.5L388.4 280.4L387.8 282.2L387.3 284.0L386.8 285.8L386.3 287.6L385.7 289.5L385.2 291.3L384.7 293.1L384.2 294.9L383.7 296.8L383.2 298.6L382.8 300.4L382.3 302.3L381.9 304.1L381.5 306.0L381.1 307.8L380.7 309.7L380.3 311.5L379.9 313.4L379.5 315.2L379.1 317.1L378.7 318.9L378.3 320.8L377.8 322.6L377.4 324.5L376.9 326.3L376.5 328.2L376.1 330.0L375.6 331.9L375.2 333.7L374.8 335.5L374.4 337.4L374.0 339.3L373.6 341.1L373.2 343.0L372.8 344.8L372.4 346.7L372.1 348.5L371.7 350.4L371.4 352.3L371.0 354.1L370.7 356.0L370.3 357.9L370.0 359.7L369.7 361.6L369.4 363.5L369.0 365.3L368.7 367.2L368.4 369.1L368.1 370.9L367.8 372.8L367.5 374.7L367.2 376.6L366.9 378.4L366.6 380.3L366.2 382.2L365.9 384.0L365.6 385.9L365.3 387.8L365.0 389.6L364.6 391.5L364.4 393.4L364.1 395.2L363.8 397.1L363.5 399.0L363.2 400.9L362.9 402.7L362.6 404.6L362.4 406.5L362.1 408.4L361.9 410.2L361.7 412.1L361.6 414.0L361.4 415.9L361.2 417.8L361.1 419.7L360.9 421.6L360.8 423.5L360.7 425.3L360.5 427.2L360.4 429.1L360.3 431.0L360.2 432.9L360.0 434.8L359.9 436.7L359.8 438.6L359.7 440.5L359.6 442.4L359.5 444.3L359.3 446.2L359.2 448.0L359.1 449.9L359.0 451.8L358.9 453.7L358.8 455.6L358.6 457.5L358.5 459.4L358.4 461.3L358.3 463.2L358.2 465.1L358.1 467.0L358.0 468.9L357.9 470.8L357.8 472.6L357.7 474.5L357.6 476.4L357.5 478.3L357.4 480.2L357.3 482.1L357.2 484.0L357.1 485.9L357.0 487.8L357.0 489.7L356.9 491.6L356.8 493.5L356.7 495.4L356.7 497.3L356.6 499.2L356.5 501.1L356.5 502.9L356.4 504.8L356.3 506.7L356.3 508.6L356.2 510.5L356.1 512.4L356.1 514.3L356.0 516.2L355.9 518.1L355.9 520.0" fill="none" stroke="#52dcd0" stroke-width="1.5" stroke-linejoin="round"/>
<path d="M628.2 94.0L626.4 94.7L624.6 95.3L622.9 96.0L621.1 96.6L619.3 97.2L617.5 97.9L615.7 98.5L614.0 99.2L612.2 99.8L610.4 100.5L608.6 101.1L606.8 101.8L605.0 102.4L603.3 103.0L601.5 103.7L599.7 104.3L597.9 104.9L596.1 105.6L594.3 106.2L592.6 106.8L590.8 107.5L589.0 108.1L587.2 108.7L585.4 109.4L583.6 110.0L581.8 110.6L580.1 111.2L578.3 111.9L576.5 112.5L574.7 113.1L572.9 113.7L571.1 114.3L569.3 115.0L567.5 115.6L565.7 116.2L563.9 116.8L562.2 117.4L560.4 118.0L558.6 118.6L556.8 119.2L555.0 119.8L553.1 120.3L551.3 120.9L549.5 121.4L547.7 122.0L545.9 122.5L544.1 123.1L542.3 123.6L540.5 124.1L538.6 124.7L536.8 125.2L535.0 125.8L533.2 126.3L531.4 126.9L529.6 127.5L527.8 128.1L526.0 128.7L524.2 129.3L522.4 129.9L520.6 130.6L518.9 131.2L517.1 131.9L515.3 132.6L513.6 133.3L511.8 134.0L510.1 134.7L508.3 135.4L506.6 136.2L504.8 137.0L503.1 137.7L501.4 138.5L499.7 139.3L498.0 140.2L496.3 141.0L494.6 141.8L492.9 142.7L491.2 143.6L489.5 144.4L487.9 145.3L486.2 146.2L484.5 147.2L482.9 148.1L481.2 149.0L479.6 149.9L478.0 150.9L476.3 151.8L474.7 152.8L473.1 153.8L471.4 154.8L469.8 155.8L468.2 156.8L466.6 157.8L465.0 158.8L463.4 159.8L461.9 160.9L460.3 161.9L458.7 163.0L457.2 164.1L455.6 165.2L454.1 166.3L452.6 167.4L451.1 168.6L449.6 169.8L448.2 171.0L446.7 172.2L445.3 173.5L443.9 174.7L442.5 176.0L441.1 177.3L439.8 178.6L438.4 180.0L437.1 181.3L435.7 182.7L434.4 184.0L433.1 185.4L431.9 186.8L430.6 188.2L429.4 189.7L428.2 191.1L427.1 192.6L425.9 194.2L424.8 195.7L423.7 197.2L422.6 198.8L421.6 200.4L420.5 201.9L419.5 203.5L418.4 205.1L417.4 206.7L416.4 208.3L415.5 209.9L414.5 211.6L413.6 213.2L412.7 214.9L411.8 216.6L410.9 218.2L410.1 219.9L409.2 221.6L408.3 223.3L407.5 225.0L406.7 226.7L405.8 228.4L405.0 230.1L404.2 231.8L403.5 233.5L402.7 235.3L402.0 237.0L401.2 238.8L400.5 240.5L399.9 242.3L399.3 244.1L398.7 245.9L398.1 247.7L397.6 249.5L397.0 251.3L396.5 253.1L396.1 255.0L395.6 256.8L395.2 258.7L394.7 260.5L394.2 262.3L393.8 264.2L393.3 266.0L392.8 267.8L392.3 269.6L391.7 271.5L391.2 273.3L390.7 275.1L390.2 276.9L389.7 278.7L389.1 280.6L388.6 282.4L388.1 284.2L387.6 286.0L387.1 287.8L386.6 289.7L386.0 291.5L385.5 293.3L385.0 295.1L384.5 297.0L384.1 298.8L383.6 300.6L383.2 302.5L382.7 304.3L382.3 306.2L382.0 308.0L381.6 309.9L381.2 311.7L380.8 313.6L380.4 315.4L380.0 317.3L379.6 319.1L379.2 321.0L378.7 322.8L378.3 324.7L377.9 326.5L377.4 328.3L377.0 330.2L376.5 332.0L376.1 333.9L375.6 335.7L375.2 337.6L374.8 339.4L374.4 341.3L374.1 343.1L373.7 345.0L373.3 346.8L372.9 348.7L372.6 350.5L372.2 352.4L371.9 354.3L371.5 356.1L371.2 358.0L370.9 359.8L370.6 361.7L370.3 363.6L370.0 365.5L369.7 367.3L369.4 369.2L369.1 371.1L368.8 372.9L368.5 374.8L368.1 376.7L367.8 378.5L367.5 380.4L367.2 382.3L366.9 384.1L366.6 386.0L366.3 387.9L366.0 389.7L365.7 391.6L365.4 393.5L365.1 395.4L364.8 397.2L364.5 399.1L364.3 401.0L364.0 402.8L363.7 404.7L363.5 406.6L363.3 408.5L363.1 410.3L362.9 412.2L362.7 414.1L362.6 416.0L362.4 417.9L362.3 419.8L362.2 421.7L362.0 423.6L361.9 425.4L361.8 427.3L361.7 429.2L361.5 431.1L361.4 433.0L361.3 434.9L361.2 436.8L361.1 438.7L361.0 440.6L360.9 442.5L360.7 444.3L360.6 446.2L360.5 448.1L360.4 450.0L360.3 451.9L360.2 453.8L360.1 455.7L360.0 457.6L359.9 459.5L359.7 461.4L359.6 463.2L359.5 465.1L359.4 467.0L359.3 468.9L359.2 470.8L359.1 472.7L359.0 474.6L358.9 476.5L358.8 478.4L358.7 480.3L358.7 482.2L358.6 484.0L358.5 485.9L358.4 487.8L358.3 489.7L358.3 491.6L358.2 493.5L358.1 495.4L358.0 497.3L358.0 499.2L357.9 501.1L357.8 503.0L357.8 504.9L357.7 506.8L357.6 508.6L357.6 510.5L357.5 512.4L357.4 514.3L357.4 516.2L357.3 518.1L357.2 520.0" fill="none" stroke="#a67ee0" stroke-width="1.5" stroke-linejoin="round"/>
<path d="M628.2 94.2L626.4 94.8L624.6 95.4L622.9 96.1L621.1 96.7L619.3 97.4L617.5 98.0L615.8 98.7L614.0 99.3L612.2 100.0L610.4 100.6L608.6 101.3L606.9 101.9L605.1 102.5L603.3 103.2L601.5 103.8L599.7 104.4L598.0 105.1L596.2 105.7L594.4 106.3L592.6 107.0L590.8 107.6L589.0 108.2L587.3 108.9L585.5 109.5L583.7 110.1L581.9 110.8L580.1 111.4L578.3 112.0L576.6 112.6L574.8 113.3L573.0 113.9L571.2 114.5L569.4 115.1L567.6 115.7L565.8 116.3L564.0 116.9L562.2 117.5L560.4 118.1L558.7 118.7L556.9 119.3L555.1 119.9L553.2 120.5L551.4 121.0L549.6 121.6L547.8 122.1L546.0 122.7L544.2 123.2L542.4 123.7L540.6 124.3L538.8 124.8L536.9 125.4L535.1 125.9L533.3 126.5L531.5 127.0L529.7 127.6L527.9 128.2L526.1 128.8L524.3 129.4L522.6 130.0L520.8 130.7L519.0 131.3L517.2 132.0L515.5 132.7L513.7 133.4L512.0 134.1L510.2 134.8L508.5 135.6L506.7 136.3L505.0 137.1L503.3 137.9L501.6 138.7L499.9 139.5L498.1 140.3L496.4 141.1L494.8 142.0L493.1 142.8L491.4 143.7L489.7 144.6L488.1 145.5L486.4 146.4L484.7 147.3L483.1 148.2L481.4 149.1L479.8 150.1L478.2 151.0L476.5 152.0L474.9 152.9L473.3 153.9L471.7 154.9L470.0 155.9L468.4 156.9L466.8 157.9L465.2 158.9L463.7 159.9L462.1 161.0L460.5 162.0L458.9 163.1L457.4 164.2L455.9 165.3L454.3 166.4L452.8 167.5L451.3 168.7L449.9 169.9L448.4 171.1L447.0 172.3L445.5 173.6L444.1 174.8L442.7 176.1L441.4 177.4L440.0 178.7L438.7 180.1L437.3 181.4L436.0 182.7L434.7 184.1L433.4 185.5L432.1 186.9L430.9 188.3L429.7 189.8L428.5 191.2L427.3 192.7L426.2 194.2L425.1 195.8L424.0 197.3L422.9 198.9L421.9 200.4L420.8 202.0L419.8 203.6L418.8 205.2L417.8 206.8L416.8 208.4L415.8 210.1L414.9 211.7L414.0 213.4L413.1 215.0L412.2 216.7L411.3 218.4L410.5 220.0L409.6 221.7L408.8 223.4L407.9 225.1L407.1 226.8L406.3 228.5L405.5 230.3L404.7 232.0L404.0 233.7L403.2 235.4L402.5 237.2L401.8 238.9L401.1 240.7L400.5 242.5L399.9 244.3L399.3 246.1L398.7 247.9L398.2 249.7L397.7 251.5L397.2 253.3L396.7 255.2L396.3 257.0L395.8 258.8L395.4 260.7L394.9 262.5L394.4 264.3L393.9 266.2L393.4 268.0L392.9 269.8L392.4 271.6L391.9 273.5L391.4 275.3L390.9 277.1L390.4 278.9L389.9 280.7L389.4 282.6L388.9 284.4L388.4 286.2L387.9 288.0L387.4 289.9L386.9 291.7L386.3 293.5L385.9 295.3L385.4 297.1L384.9 299.0L384.4 300.8L384.0 302.7L383.6 304.5L383.2 306.4L382.8 308.2L382.5 310.1L382.1 311.9L381.7 313.8L381.3 315.6L381.0 317.5L380.5 319.3L380.1 321.2L379.7 323.0L379.2 324.8L378.8 326.7L378.3 328.5L377.9 330.3L377.4 332.2L377.0 334.0L376.5 335.9L376.1 337.7L375.7 339.5L375.3 341.4L374.9 343.2L374.5 345.1L374.2 347.0L373.8 348.8L373.4 350.7L373.1 352.5L372.7 354.4L372.4 356.2L372.1 358.1L371.8 360.0L371.4 361.8L371.1 363.7L370.9 365.6L370.6 367.4L370.3 369.3L370.0 371.2L369.7 373.0L369.4 374.9L369.1 376.8L368.8 378.7L368.5 380.5L368.2 382.4L367.9 384.2L367.6 386.1L367.3 388.0L367.0 389.8L366.7 391.7L366.4 393.6L366.1 395.5L365.9 397.3L365.6 399.2L365.3 401.1L365.1 402.9L364.8 404.8L364.6 406.7L364.4 408.6L364.3 410.5L364.1 412.3L363.9 414.2L363.8 416.1L363.6 418.0L363.5 419.9L363.4 421.8L363.3 423.7L363.1 425.5L363.0 427.4L362.9 429.3L362.8 431.2L362.7 433.1L362.6 435.0L362.5 436.9L362.4 438.8L362.3 440.6L362.1 442.5L362.0 444.4L361.9 446.3L361.8 448.2L361.7 450.1L361.6 452.0L361.5 453.9L361.4 455.8L361.3 457.6L361.2 459.5L361.1 461.4L361.0 463.3L360.9 465.2L360.8 467.1L360.7 469.0L360.6 470.9L360.5 472.8L360.4 474.6L360.3 476.5L360.2 478.4L360.1 480.3L360.0 482.2L359.9 484.1L359.9 486.0L359.8 487.9L359.7 489.8L359.6 491.6L359.5 493.5L359.5 495.4L359.4 497.3L359.3 499.2L359.3 501.1L359.2 503.0L359.1 504.9L359.1 506.8L359.0 508.7L358.9 510.5L358.9 512.4L358.8 514.3L358.7 516.2L358.7 518.1L358.6 520.0" fill="none" stroke="#c49c2e" stroke-width="1.5" stroke-linejoin="round"/>
<path d="M628.2 94.5L626.4 95.1L624.7 95.8L622.9 96.4L621.1 97.1L619.3 97.7L617.6 98.4L615.8 99.0L614.0 99.7L612.3 100.3L610.5 101.0L608.7 101.6L606.9 102.3L605.2 102.9L603.4 103.5L601.6 104.2L599.8 104.8L598.1 105.4L596.3 106.1L594.5 106.7L592.7 107.3L591.0 108.0L589.2 108.6L587.4 109.2L585.6 109.9L583.8 110.5L582.1 111.1L580.3 111.7L578.5 112.4L576.7 113.0L575.0 113.6L573.2 114.2L571.4 114.9L569.6 115.5L567.8 116.1L566.0 116.7L564.2 117.3L562.5 117.9L560.7 118.5L558.9 119.1L557.1 119.7L555.3 120.3L553.5 120.8L551.7 121.4L549.9 121.9L548.1 122.5L546.3 123.0L544.5 123.6L542.7 124.1L540.9 124.6L539.0 125.2L537.2 125.7L535.4 126.3L533.6 126.8L531.8 127.4L530.0 128.0L528.2 128.5L526.5 129.1L524.7 129.7L522.9 130.4L521.1 131.0L519.3 131.7L517.6 132.3L515.8 133.0L514.1 133.7L512.3 134.4L510.6 135.1L508.8 135.9L507.1 136.6L505.4 137.4L503.7 138.2L502.0 139.0L500.3 139.8L498.6 140.6L496.9 141.4L495.2 142.3L493.5 143.1L491.8 144.0L490.2 144.9L488.5 145.8L486.8 146.7L485.2 147.6L483.5 148.5L481.9 149.4L480.3 150.4L478.6 151.3L477.0 152.3L475.4 153.2L473.8 154.2L472.2 155.2L470.5 156.2L468.9 157.2L467.4 158.2L465.8 159.2L464.2 160.2L462.6 161.2L461.0 162.3L459.5 163.4L457.9 164.5L456.4 165.5L454.9 166.7L453.4 167.8L451.9 169.0L450.4 170.2L449.0 171.4L447.6 172.6L446.1 173.8L444.7 175.1L443.3 176.4L442.0 177.7L440.6 179.0L439.3 180.3L437.9 181.6L436.6 183.0L435.3 184.3L434.0 185.7L432.7 187.1L431.5 188.5L430.3 190.0L429.1 191.4L428.0 192.9L426.9 194.5L425.8 196.0L424.7 197.6L423.7 199.1L422.6 200.7L421.6 202.3L420.6 203.9L419.6 205.5L418.6 207.1L417.6 208.7L416.7 210.3L415.8 212.0L414.9 213.7L414.0 215.3L413.2 217.0L412.3 218.7L411.5 220.4L410.6 222.1L409.8 223.8L409.0 225.5L408.2 227.2L407.5 228.9L406.7 230.6L406.0 232.4L405.3 234.1L404.6 235.9L403.9 237.6L403.2 239.4L402.5 241.2L401.9 242.9L401.3 244.7L400.8 246.5L400.3 248.3L399.7 250.2L399.2 252.0L398.7 253.8L398.3 255.6L397.8 257.5L397.4 259.3L397.0 261.1L396.5 263.0L396.0 264.8L395.6 266.6L395.1 268.4L394.6 270.3L394.2 272.1L393.7 273.9L393.2 275.7L392.8 277.6L392.3 279.4L391.8 281.2L391.4 283.1L390.9 284.9L390.4 286.7L389.9 288.5L389.4 290.3L388.9 292.2L388.4 294.0L387.9 295.8L387.4 297.6L387.0 299.5L386.6 301.3L386.2 303.1L385.8 305.0L385.4 306.8L385.1 308.7L384.7 310.5L384.4 312.4L384.0 314.2L383.7 316.1L383.3 317.9L382.9 319.8L382.5 321.6L382.0 323.5L381.5 325.3L381.1 327.1L380.6 328.9L380.1 330.8L379.6 332.6L379.2 334.4L378.7 336.2L378.3 338.1L377.9 339.9L377.5 341.8L377.1 343.6L376.7 345.4L376.3 347.3L375.9 349.1L375.6 351.0L375.2 352.9L374.9 354.7L374.6 356.6L374.3 358.4L374.0 360.3L373.7 362.1L373.4 364.0L373.1 365.9L372.8 367.7L372.6 369.6L372.3 371.5L372.0 373.3L371.8 375.2L371.5 377.1L371.2 378.9L370.9 380.8L370.6 382.7L370.3 384.5L370.0 386.4L369.7 388.3L369.5 390.1L369.2 392.0L369.0 393.9L368.7 395.7L368.5 397.6L368.2 399.5L368.0 401.3L367.8 403.2L367.6 405.1L367.5 407.0L367.3 408.9L367.2 410.7L367.0 412.6L366.9 414.5L366.8 416.4L366.7 418.3L366.5 420.1L366.4 422.0L366.3 423.9L366.2 425.8L366.1 427.7L366.0 429.6L365.9 431.4L365.8 433.3L365.7 435.2L365.6 437.1L365.6 439.0L365.5 440.9L365.4 442.7L365.3 444.6L365.2 446.5L365.1 448.4L365.0 450.3L364.9 452.2L364.8 454.1L364.7 455.9L364.6 457.8L364.5 459.7L364.4 461.6L364.3 463.5L364.2 465.4L364.1 467.2L364.0 469.1L363.9 471.0L363.9 472.9L363.8 474.8L363.7 476.7L363.6 478.5L363.5 480.4L363.4 482.3L363.3 484.2L363.3 486.1L363.2 488.0L363.1 489.8L363.0 491.7L363.0 493.6L362.9 495.5L362.8 497.4L362.7 499.3L362.7 501.2L362.6 503.0L362.5 504.9L362.5 506.8L362.4 508.7L362.3 510.6L362.3 512.5L362.2 514.3L362.1 516.2L362.1 518.1L362.0 520.0" fill="none" stroke="#5a2730" stroke-width="1.5" stroke-linejoin="round"/>
<path d="M628.3 96.8L627.1 103.7L625.2 97.8L624.5 99.7L623.0 100.4L621.4 100.8L619.8 101.3L618.1 101.4L616.4 101.7L615.7 103.8L614.2 104.3L612.4 104.5L611.4 106.0L609.6 104.3L608.6 107.5L606.9 107.8L605.6 108.8L604.1 109.4L602.3 109.6L602.0 112.2L600.0 110.2L598.7 112.9L597.2 113.5L596.5 115.4L595.0 115.8L593.6 112.4L592.2 117.7L590.5 118.1L589.4 119.2L589.0 121.4L587.1 121.6L586.0 122.7L584.8 123.9L583.2 124.5L582.2 125.8L581.0 126.8L580.2 128.3L579.1 129.5L578.1 130.7L576.6 131.5L575.8 133.0L574.2 133.7L573.4 135.1L572.4 136.4L571.6 137.8L569.9 138.5L568.5 143.0L568.2 141.2L567.4 142.7L565.5 143.2L565.7 145.4L564.5 146.5L563.6 147.8L562.1 148.8L560.7 149.7L560.1 151.2L558.6 153.9L558.9 154.4L557.5 155.3L556.9 156.9L554.5 157.1L554.4 159.0L553.1 160.1L552.3 161.5L551.4 162.8L550.1 163.8L548.3 164.5L548.5 166.7L547.6 168.5L546.7 169.3L545.6 170.5L544.0 171.4L543.6 173.0L541.8 173.8L541.8 175.7L541.5 177.4L540.5 178.7L539.3 179.8L538.8 181.4L537.9 182.7L538.1 184.6L536.0 185.4L535.4 186.9L536.5 192.8L534.2 190.4L534.0 191.0L533.1 192.9L532.5 194.4L531.8 196.8L531.6 197.5L531.7 199.3L530.2 200.4L529.6 201.9L528.9 203.4L528.6 205.0L527.8 206.4L528.7 208.4L527.8 209.8L525.9 210.9L526.6 212.8L525.6 214.2L525.2 215.7L525.2 217.4L524.0 218.7L523.7 220.3L522.5 221.6L522.3 223.2L521.9 224.8L521.4 226.3L520.3 227.6L520.1 229.3L519.3 230.7L519.3 232.4L518.7 233.9L518.7 235.6L517.7 237.0L517.9 238.8L516.9 240.1L515.5 241.2L515.6 243.1L514.2 244.2L514.0 245.9L512.5 246.9L512.4 248.7L512.3 250.4L511.3 251.7L509.6 252.7L509.6 254.4L507.8 255.4L507.8 257.1L507.6 260.6L506.8 260.2L505.5 261.4L505.5 263.2L505.0 264.7L505.7 266.5L504.2 267.8L503.7 269.3L502.8 270.8L503.7 267.6L503.4 274.2L502.8 275.8L501.5 277.1L501.1 278.6L501.0 279.8L500.5 281.8L500.3 283.5L498.5 284.4L498.0 285.9L496.8 287.0L495.8 288.4L496.6 290.5L494.6 291.5L493.7 292.9L493.3 294.5L493.7 296.2L493.9 293.0L492.1 299.1L492.4 300.9L491.3 302.2L490.7 303.8L489.1 304.6L489.3 306.5L488.5 308.0L488.4 309.6L488.0 311.2L487.6 312.7L486.2 314.1L486.3 315.7L486.2 317.3L486.4 319.1L485.7 320.1L485.6 322.2L484.1 323.4L482.9 324.6L482.6 326.2L481.8 327.7L482.2 329.6L481.5 331.0L480.6 332.4L479.9 333.8L478.9 335.2L478.7 336.8L478.1 338.3L477.2 339.7L477.2 341.4L476.9 343.0L477.3 344.8L476.7 346.2L477.3 347.9L476.8 349.5L475.5 350.9L475.4 352.5L475.2 354.1L475.3 355.8L474.2 357.2L474.5 358.9L474.0 360.4L472.6 361.6L472.3 363.2L472.4 365.0L471.3 366.3L471.3 368.0L469.5 369.0L470.0 371.0L470.3 372.8L467.9 373.6L467.7 375.2L466.7 376.6L467.4 378.6L466.0 379.7L465.4 381.2L464.7 382.7L464.9 384.5L463.8 384.4L463.3 387.3L463.5 389.1L462.6 390.5L461.8 389.7L461.5 393.5L460.3 394.8L460.3 396.5L459.0 397.7L459.1 399.5L458.2 400.9L458.8 402.7L458.4 404.3L457.7 405.8L456.7 407.1L456.1 408.6L455.9 410.3L455.3 411.7L454.7 413.2L455.0 415.0L454.7 416.6L454.3 418.2L453.2 419.5L452.9 421.1L452.2 422.6L451.7 424.1L450.7 425.5L450.8 426.0L451.2 429.0L450.0 430.3L450.9 432.2L449.7 433.5L449.4 435.1L448.7 436.6L448.0 438.1L448.8 440.0L447.7 441.3L446.9 442.8L446.0 444.2L446.4 446.0L446.4 447.6L445.7 449.1L444.5 450.5L444.7 452.2L444.6 453.8L444.3 455.4L443.4 456.8L443.6 458.5L441.7 459.7L441.9 461.4L442.6 463.2L441.8 464.7L441.0 466.2L440.9 467.8L440.4 464.7L440.0 469.8L439.8 472.5L439.7 474.1L439.1 478.6L438.9 477.2L439.4 479.0L438.0 480.3L438.2 482.0L437.6 483.5L437.8 485.2L437.7 486.8L437.0 488.3L437.4 490.0L437.0 491.6L435.7 493.0L436.8 494.8L435.2 496.2L434.7 497.7L434.6 499.3L435.2 501.0L433.7 502.4L434.1 504.1L434.4 501.8L433.8 507.3L433.8 509.0L434.1 510.6L432.6 512.0L431.9 513.5L431.4 515.1L431.8 516.8L432.0 518.4L431.4 520.0" fill="none" stroke="#3a3a3a" stroke-width="1.6" stroke-linejoin="round"/>
<path d="M627.9 95.7L626.7 96.8L624.7 108.8L623.8 98.2L622.2 98.6L621.2 100.2L619.8 101.0L618.1 101.1L616.6 101.7L615.2 102.6L613.8 103.3L612.3 103.9L610.8 104.6L609.9 105.6L608.2 106.5L606.9 107.4L605.7 108.6L604.0 108.8L602.6 109.7L601.8 111.4L600.0 111.6L598.6 112.4L597.3 113.3L596.0 114.3L594.9 115.4L593.3 115.9L592.2 117.2L591.2 118.5L589.9 119.4L588.3 120.1L587.0 121.0L586.3 122.6L584.8 123.3L583.3 124.1L582.1 125.2L580.9 126.2L579.7 127.3L579.4 129.2L577.3 129.4L576.0 130.4L575.2 131.9L574.2 133.1L573.0 144.4L572.0 135.5L571.2 136.9L570.3 138.2L568.3 138.7L567.7 140.3L566.7 141.5L565.9 147.9L564.8 144.1L564.0 145.5L562.6 146.4L560.9 151.5L560.7 154.2L559.7 150.3L559.4 152.1L557.9 152.9L556.9 154.2L555.7 155.3L554.9 156.7L553.9 158.0L553.0 159.3L552.2 160.7L550.3 161.3L549.6 162.8L549.3 164.6L548.0 165.6L547.7 167.4L546.0 168.1L544.0 168.7L543.8 170.5L543.1 171.9L541.9 173.1L541.8 174.9L540.7 176.1L539.9 177.5L538.3 178.5L537.5 179.9L538.0 182.0L537.4 183.5L535.9 184.5L534.3 185.5L533.8 187.1L535.2 189.5L532.1 189.9L532.8 191.9L531.9 193.3L531.8 197.5L531.3 196.5L529.8 197.6L529.3 199.1L529.2 200.9L528.3 202.2L528.1 203.8L528.0 205.5L526.6 206.7L526.1 208.2L526.2 213.1L524.9 211.2L524.3 212.7L523.0 214.0L523.2 215.7L523.3 217.5L521.6 218.6L521.9 220.4L521.5 222.0L520.6 223.3L520.6 225.0L519.7 226.4L518.4 227.7L518.2 229.6L517.1 230.6L517.7 232.5L517.1 234.0L515.9 235.3L516.0 237.5L515.1 238.4L514.9 240.1L514.2 241.6L513.6 243.0L512.9 244.5L511.1 245.4L510.8 247.0L510.6 248.7L509.4 249.9L508.7 251.4L508.1 252.9L506.9 254.1L506.3 255.2L505.4 257.0L504.1 258.2L504.3 260.0L504.5 261.8L504.3 263.4L503.1 264.7L501.7 267.3L504.0 268.3L502.3 269.5L502.0 271.1L501.4 272.6L500.4 274.0L500.8 281.2L499.9 277.2L500.3 279.0L499.8 283.4L497.9 288.3L498.0 283.3L497.1 287.3L496.0 285.9L495.5 289.7L494.4 288.7L494.3 290.4L493.4 285.3L492.8 293.3L492.4 294.8L492.3 296.5L491.6 297.9L490.1 299.1L490.3 300.9L489.6 302.3L489.2 303.8L488.6 305.4L487.5 306.6L487.2 308.3L486.2 309.6L486.6 311.4L486.6 313.1L485.1 314.4L485.4 316.1L484.5 317.5L484.1 319.1L483.1 320.4L482.7 321.9L483.1 323.8L481.9 325.1L481.0 326.4L481.0 328.2L479.7 329.4L480.3 331.4L479.2 332.6L477.9 333.8L477.6 335.4L477.3 337.1L476.5 338.5L476.6 340.2L475.2 341.5L474.7 343.1L475.3 344.8L474.6 346.3L474.4 347.9L474.5 349.6L474.0 348.6L474.6 352.9L473.6 350.4L473.4 354.4L472.7 357.4L472.5 359.0L472.3 360.6L471.3 362.0L470.6 363.5L470.2 365.0L469.6 366.5L469.1 368.0L469.4 369.9L469.2 371.5L468.2 372.8L466.6 373.9L466.4 375.6L465.0 376.8L464.6 378.3L464.8 380.1L463.2 381.2L463.0 382.9L462.9 384.6L462.4 386.1L461.6 387.5L461.7 389.2L460.5 390.5L461.0 392.4L459.7 393.6L459.1 395.1L458.8 396.7L458.0 398.2L457.0 399.5L456.7 401.1L456.8 402.8L456.6 404.5L455.8 405.9L455.3 407.4L454.6 408.9L454.2 410.4L453.5 411.9L453.5 413.6L453.1 415.1L453.1 416.8L451.9 418.1L451.7 419.7L451.8 421.5L449.9 422.6L449.9 424.2L449.9 425.9L449.3 427.4L448.3 428.8L448.0 430.4L448.3 432.1L447.2 433.5L447.7 436.5L446.9 436.7L446.3 438.2L445.9 439.8L445.3 441.3L444.9 442.9L444.8 444.5L444.0 445.9L444.0 451.2L443.2 449.1L442.1 450.4L442.2 452.1L442.9 453.9L441.3 455.2L441.5 456.9L440.9 458.4L441.5 460.2L441.3 461.8L439.6 463.0L439.8 464.7L440.0 466.4L437.9 467.6L438.8 469.5L438.9 471.1L437.2 473.3L436.5 473.9L437.7 475.8L437.2 477.3L436.7 478.9L436.3 479.1L436.2 482.0L435.3 486.3L435.3 485.1L434.9 487.6L435.1 488.4L435.2 495.3L434.4 491.5L433.9 493.0L433.8 494.6L433.0 496.1L433.0 497.8L432.1 499.3L432.7 501.0L432.3 502.6L431.5 504.0L431.4 505.7L431.4 507.3L432.2 509.0L431.4 510.5L431.0 512.1L430.5 513.6L430.6 515.3L430.0 516.8L429.8 518.4L429.0 519.9" fill="none" stroke="#e8333a" stroke-width="1.6" stroke-linejoin="round"/>
<path d="M628.2 95.5L626.7 96.2L625.2 96.8L623.7 97.4L622.2 98.0L620.7 98.7L619.2 99.3L617.7 99.9L616.2 100.6L614.7 101.2L613.2 101.9L611.8 102.6L610.3 103.3L608.8 104.0L607.4 104.7L605.9 105.5L604.5 106.3L603.1 107.1L601.7 107.9L600.3 108.8L598.9 109.7L597.6 110.6L596.2 111.5L594.9 112.4L593.6 113.4L592.3 114.4L591.0 115.3L589.7 116.3L588.4 117.4L587.2 118.4L585.9 119.4L584.7 120.5L583.4 121.6L582.2 122.6L581.0 123.7L579.8 124.8L578.6 125.9L577.4 127.0L576.2 128.2L575.1 129.3L573.9 130.4L572.7 131.6L571.6 132.8L570.5 133.9L569.3 135.1L568.2 136.3L567.1 137.5L566.0 138.7L564.9 139.9L563.9 141.1L562.8 142.4L561.7 143.6L560.7 144.8L559.6 146.1L558.6 147.4L557.6 148.6L556.5 149.9L555.5 151.2L554.5 152.5L553.5 153.7L552.5 155.0L551.5 156.3L550.5 157.6L549.5 158.9L548.5 160.2L547.6 161.5L546.6 162.8L545.6 164.1L544.6 165.4L543.6 166.7L542.7 168.0L541.7 169.4L540.8 170.7L539.9 172.1L539.0 173.4L538.1 174.8L537.2 176.2L536.4 177.5L535.6 178.9L534.7 180.3L533.9 181.8L533.1 183.2L532.4 184.6L531.6 186.1L530.8 187.5L530.1 188.9L529.4 190.4L528.7 191.9L527.9 193.3L527.3 194.8L526.6 196.3L525.9 197.8L525.2 199.2L524.6 200.7L523.9 202.2L523.3 203.7L522.7 205.2L522.1 206.8L521.5 208.3L520.9 209.8L520.4 211.3L519.8 212.9L519.2 214.4L518.7 215.9L518.1 217.5L517.6 219.0L517.0 220.5L516.4 222.0L515.8 223.6L515.3 225.1L514.7 226.6L514.1 228.1L513.5 229.6L512.9 231.1L512.2 232.7L511.6 234.2L511.0 235.7L510.3 237.2L509.7 238.6L509.0 240.1L508.3 241.6L507.6 243.1L506.9 244.6L506.2 246.0L505.5 247.5L504.8 249.0L504.1 250.4L503.4 251.9L502.7 253.4L502.1 254.9L501.4 256.4L500.8 257.9L500.3 259.4L499.7 261.0L499.2 262.5L498.8 264.1L498.3 265.7L497.9 267.2L497.4 268.8L497.0 270.4L496.6 272.0L496.2 273.5L495.8 275.1L495.3 276.7L494.9 278.2L494.3 279.8L493.8 281.3L493.1 282.8L492.5 284.3L491.8 285.7L491.2 287.2L490.6 288.8L490.1 290.3L489.6 291.9L489.2 293.4L488.7 295.0L488.2 296.5L487.7 298.1L487.1 299.6L486.5 301.1L485.8 302.6L485.2 304.1L484.6 305.6L484.0 307.1L483.4 308.6L482.9 310.2L482.4 311.7L481.9 313.3L481.5 314.9L481.0 316.4L480.5 318.0L480.0 319.5L479.4 321.1L478.9 322.6L478.3 324.1L477.7 325.6L477.2 327.2L476.6 328.7L476.0 330.2L475.4 331.7L474.8 333.2L474.2 334.8L473.6 336.3L473.1 337.8L472.6 339.4L472.1 340.9L471.7 342.5L471.3 344.1L470.9 345.7L470.5 347.2L470.2 348.8L469.8 350.4L469.4 352.0L468.9 353.5L468.5 355.1L468.0 356.7L467.6 358.2L467.1 359.8L466.6 361.3L466.1 362.9L465.6 364.4L465.0 366.0L464.5 367.5L464.0 369.1L463.5 370.6L463.0 372.1L462.4 373.7L461.9 375.2L461.4 376.8L460.8 378.3L460.3 379.8L459.8 381.4L459.3 382.9L458.7 384.5L458.2 386.0L457.7 387.6L457.1 389.1L456.6 390.6L456.1 392.2L455.5 393.7L455.0 395.3L454.4 396.8L453.9 398.3L453.3 399.9L452.8 401.4L452.3 402.9L451.7 404.5L451.2 406.0L450.7 407.6L450.1 409.1L449.6 410.6L449.1 412.2L448.6 413.7L448.1 415.3L447.5 416.8L447.0 418.4L446.5 419.9L446.0 421.5L445.5 423.0L445.0 424.5L444.5 426.1L444.0 427.6L443.5 429.2L443.0 430.8L442.5 432.3L442.0 433.9L441.6 435.4L441.1 437.0L440.7 438.6L440.2 440.1L439.8 441.7L439.4 443.3L438.9 444.9L438.5 446.4L438.1 448.0L437.6 449.6L437.2 451.2L436.8 452.7L436.4 454.3L436.0 455.9L435.6 457.5L435.2 459.1L434.8 460.6L434.5 462.2L434.1 463.8L433.7 465.4L433.4 467.0L433.0 468.6L432.7 470.2L432.3 471.8L432.0 473.4L431.7 475.0L431.4 476.6L431.1 478.2L430.8 479.8L430.5 481.4L430.2 483.0L430.0 484.6L429.7 486.2L429.4 487.8L429.1 489.4L428.8 491.0L428.6 492.6L428.3 494.2L428.0 495.9L427.8 497.5L427.5 499.1L427.3 500.7L427.0 502.3L426.7 503.9L426.5 505.5L426.2 507.1L425.9 508.7L425.7 510.3L425.4 512.0L425.2 513.6L424.9 515.2L424.7 516.8L424.4 518.4L424.1 520.0" fill="none" stroke="#3a66dd" stroke-width="1.5" stroke-linejoin="round"/>
<path d="M628.2 95.1L626.7 95.7L625.1 96.2L623.6 96.8L622.1 97.4L620.5 97.9L619.0 98.5L617.5 99.1L616.0 99.7L614.4 100.3L612.9 100.9L611.4 101.5L609.9 102.2L608.4 102.9L606.9 103.6L605.5 104.3L604.0 105.0L602.6 105.8L601.2 106.7L599.8 107.5L598.4 108.4L597.1 109.4L595.7 110.3L594.4 111.3L593.1 112.2L591.8 113.2L590.5 114.2L589.2 115.2L587.9 116.3L586.6 117.3L585.4 118.4L584.1 119.4L582.9 120.5L581.7 121.6L580.4 122.7L579.2 123.7L578.0 124.8L576.8 125.9L575.6 127.0L574.4 128.2L573.2 129.3L572.0 130.4L570.8 131.6L569.7 132.8L568.5 133.9L567.4 135.1L566.3 136.3L565.2 137.5L564.0 138.7L562.9 139.9L561.8 141.1L560.8 142.3L559.7 143.6L558.6 144.8L557.5 146.1L556.5 147.3L555.5 148.6L554.4 149.9L553.4 151.2L552.4 152.4L551.4 153.7L550.4 155.0L549.4 156.3L548.4 157.6L547.4 158.9L546.4 160.3L545.4 161.6L544.5 162.9L543.5 164.2L542.5 165.5L541.5 166.8L540.6 168.2L539.6 169.5L538.7 170.8L537.8 172.2L536.8 173.5L535.9 174.9L535.0 176.3L534.2 177.7L533.3 179.0L532.4 180.4L531.6 181.9L530.8 183.3L530.0 184.7L529.2 186.1L528.4 187.6L527.6 189.0L526.8 190.4L526.1 191.9L525.3 193.3L524.6 194.8L523.9 196.3L523.2 197.7L522.5 199.2L521.8 200.7L521.1 202.2L520.4 203.7L519.8 205.2L519.2 206.7L518.6 208.3L518.0 209.8L517.5 211.3L516.9 212.9L516.3 214.4L515.8 216.0L515.2 217.5L514.6 219.0L514.0 220.5L513.4 222.1L512.8 223.6L512.2 225.1L511.5 226.6L510.9 228.1L510.3 229.6L509.6 231.1L509.0 232.6L508.3 234.1L507.7 235.6L507.0 237.1L506.3 238.6L505.7 240.1L505.0 241.6L504.3 243.1L503.6 244.6L502.9 246.1L502.3 247.6L501.6 249.1L500.9 250.6L500.2 252.1L499.6 253.6L498.9 255.1L498.3 256.6L497.7 258.1L497.2 259.7L496.6 261.2L496.1 262.8L495.6 264.3L495.2 265.9L494.8 267.5L494.3 269.1L493.9 270.7L493.5 272.2L493.1 273.8L492.7 275.4L492.2 277.0L491.7 278.6L491.2 280.1L490.7 281.7L490.2 283.2L489.6 284.7L489.0 286.3L488.5 287.8L488.0 289.4L487.5 290.9L487.0 292.5L486.5 294.0L486.0 295.6L485.4 297.1L484.9 298.7L484.3 300.2L483.7 301.7L483.1 303.3L482.5 304.8L481.9 306.3L481.4 307.9L480.8 309.4L480.3 310.9L479.8 312.5L479.3 314.1L478.8 315.6L478.2 317.2L477.7 318.7L477.2 320.3L476.6 321.8L476.1 323.4L475.5 324.9L475.0 326.4L474.4 328.0L473.9 329.5L473.3 331.1L472.7 332.6L472.1 334.1L471.5 335.6L470.9 337.2L470.4 338.7L469.9 340.3L469.4 341.8L468.9 343.4L468.5 345.0L468.0 346.5L467.5 348.1L467.1 349.7L466.6 351.2L466.1 352.8L465.7 354.4L465.2 355.9L464.7 357.5L464.2 359.1L463.7 360.6L463.2 362.2L462.7 363.8L462.2 365.3L461.7 366.9L461.3 368.4L460.8 370.0L460.3 371.6L459.8 373.1L459.3 374.7L458.8 376.3L458.3 377.8L457.8 379.4L457.3 380.9L456.8 382.5L456.3 384.1L455.8 385.6L455.3 387.2L454.7 388.7L454.2 390.3L453.6 391.8L453.1 393.3L452.5 394.9L452.0 396.4L451.4 398.0L450.8 399.5L450.3 401.0L449.7 402.6L449.1 404.1L448.6 405.7L448.0 407.2L447.5 408.7L446.9 410.3L446.4 411.8L445.8 413.4L445.3 414.9L444.7 416.5L444.1 418.0L443.6 419.5L443.0 421.1L442.5 422.6L441.9 424.1L441.4 425.7L440.8 427.2L440.3 428.8L439.8 430.3L439.3 431.9L438.8 433.5L438.3 435.0L437.8 436.6L437.4 438.2L436.9 439.7L436.4 441.3L436.0 442.9L435.5 444.5L435.1 446.0L434.7 447.6L434.2 449.2L433.8 450.8L433.4 452.4L433.0 454.0L432.6 455.6L432.2 457.1L431.8 458.7L431.4 460.3L431.0 461.9L430.6 463.5L430.3 465.1L429.9 466.7L429.6 468.3L429.2 469.9L428.9 471.5L428.6 473.1L428.3 474.7L428.0 476.3L427.7 478.0L427.4 479.6L427.1 481.2L426.8 482.8L426.5 484.4L426.2 486.0L425.9 487.6L425.7 489.3L425.4 490.9L425.1 492.5L424.9 494.1L424.6 495.7L424.3 497.3L424.1 499.0L423.8 500.6L423.6 502.2L423.3 503.8L423.0 505.4L422.8 507.1L422.5 508.7L422.3 510.3L422.0 511.9L421.8 513.5L421.5 515.1L421.2 516.8L421.0 518.4L420.7 520.0" fill="none" stroke="#3fae62" stroke-width="1.5" stroke-linejoin="round"/>
<path d="M628.2 95.2L626.7 95.9L625.2 96.5L623.7 97.0L622.1 97.6L620.6 98.2L619.1 98.8L617.6 99.4L616.1 100.0L614.6 100.7L613.1 101.3L611.6 101.9L610.1 102.6L608.6 103.3L607.1 104.0L605.7 104.8L604.2 105.5L602.8 106.3L601.4 107.2L600.0 108.0L598.6 108.9L597.3 109.8L595.9 110.8L594.6 111.7L593.3 112.7L592.0 113.7L590.7 114.7L589.4 115.7L588.1 116.7L586.9 117.7L585.6 118.8L584.4 119.9L583.1 120.9L581.9 122.0L580.7 123.1L579.4 124.2L578.2 125.3L577.0 126.4L575.8 127.5L574.6 128.6L573.5 129.8L572.3 130.9L571.1 132.1L570.0 133.2L568.9 134.4L567.7 135.6L566.6 136.8L565.5 138.0L564.4 139.2L563.3 140.4L562.2 141.6L561.1 142.8L560.1 144.1L559.0 145.3L558.0 146.6L556.9 147.8L555.9 149.1L554.9 150.4L553.9 151.7L552.8 153.0L551.8 154.3L550.8 155.5L549.8 156.8L548.9 158.1L547.9 159.4L546.9 160.8L545.9 162.1L544.9 163.4L543.9 164.7L543.0 166.0L542.0 167.3L541.0 168.6L540.1 170.0L539.2 171.3L538.2 172.7L537.3 174.0L536.5 175.4L535.6 176.8L534.7 178.2L533.9 179.6L533.0 181.0L532.2 182.4L531.4 183.8L530.6 185.2L529.8 186.7L529.1 188.1L528.3 189.6L527.6 191.0L526.8 192.5L526.1 193.9L525.4 195.4L524.7 196.9L524.0 198.3L523.3 199.8L522.6 201.3L522.0 202.8L521.3 204.3L520.7 205.8L520.1 207.4L519.5 208.9L519.0 210.4L518.4 212.0L517.8 213.5L517.3 215.0L516.7 216.6L516.1 218.1L515.6 219.6L515.0 221.1L514.4 222.7L513.8 224.2L513.2 225.7L512.5 227.2L511.9 228.7L511.3 230.2L510.7 231.7L510.0 233.3L509.4 234.8L508.7 236.3L508.1 237.7L507.4 239.2L506.7 240.7L506.0 242.2L505.4 243.7L504.7 245.2L504.0 246.7L503.3 248.1L502.6 249.6L501.9 251.1L501.2 252.6L500.6 254.1L499.9 255.6L499.3 257.1L498.7 258.7L498.2 260.2L497.7 261.7L497.2 263.3L496.7 264.9L496.3 266.4L495.8 268.0L495.4 269.6L495.0 271.2L494.6 272.8L494.2 274.3L493.7 275.9L493.3 277.5L492.8 279.0L492.3 280.6L491.7 282.1L491.1 283.6L490.5 285.1L489.9 286.6L489.4 288.2L488.8 289.7L488.3 291.3L487.9 292.9L487.4 294.4L486.9 296.0L486.3 297.5L485.8 299.0L485.2 300.6L484.6 302.1L484.0 303.6L483.3 305.1L482.7 306.6L482.2 308.2L481.6 309.7L481.1 311.3L480.6 312.8L480.2 314.4L479.7 315.9L479.2 317.5L478.6 319.0L478.1 320.6L477.5 322.1L477.0 323.7L476.4 325.2L475.9 326.7L475.3 328.3L474.7 329.8L474.1 331.3L473.5 332.9L472.9 334.4L472.3 335.9L471.8 337.4L471.3 339.0L470.8 340.5L470.3 342.1L469.9 343.7L469.5 345.2L469.0 346.8L468.6 348.4L468.1 350.0L467.7 351.5L467.3 353.1L466.8 354.7L466.3 356.2L465.8 357.8L465.4 359.4L464.9 360.9L464.4 362.5L463.9 364.0L463.4 365.6L462.9 367.1L462.4 368.7L461.9 370.2L461.4 371.8L460.9 373.4L460.3 374.9L459.8 376.5L459.3 378.0L458.8 379.6L458.3 381.1L457.8 382.7L457.3 384.2L456.8 385.8L456.2 387.3L455.7 388.9L455.2 390.4L454.6 392.0L454.1 393.5L453.5 395.0L453.0 396.6L452.4 398.1L451.8 399.7L451.3 401.2L450.7 402.7L450.2 404.3L449.6 405.8L449.1 407.3L448.5 408.9L448.0 410.4L447.5 412.0L446.9 413.5L446.4 415.1L445.8 416.6L445.3 418.1L444.8 419.7L444.2 421.2L443.7 422.8L443.1 424.3L442.6 425.9L442.1 427.4L441.6 428.9L441.1 430.5L440.6 432.1L440.1 433.6L439.6 435.2L439.1 436.8L438.7 438.3L438.2 439.9L437.8 441.5L437.3 443.0L436.9 444.6L436.5 446.2L436.0 447.8L435.6 449.4L435.2 450.9L434.8 452.5L434.3 454.1L433.9 455.7L433.5 457.3L433.2 458.9L432.8 460.4L432.4 462.0L432.0 463.6L431.7 465.2L431.3 466.8L431.0 468.4L430.6 470.0L430.3 471.6L430.0 473.2L429.6 474.8L429.3 476.4L429.0 478.0L428.7 479.7L428.4 481.3L428.2 482.9L427.9 484.5L427.6 486.1L427.3 487.7L427.1 489.3L426.8 490.9L426.5 492.5L426.2 494.2L426.0 495.8L425.7 497.4L425.5 499.0L425.2 500.6L424.9 502.2L424.7 503.9L424.4 505.5L424.2 507.1L423.9 508.7L423.6 510.3L423.4 511.9L423.1 513.5L422.9 515.2L422.6 516.8L422.3 518.4L422.1 520.0" fill="none" stroke="#52dcd0" stroke-width="1.5" stroke-linejoin="round"/>
<path d="M628.2 94.7L626.7 95.3L625.1 95.8L623.5 96.3L622.0 96.8L620.4 97.3L618.9 97.9L617.3 98.4L615.7 99.0L614.2 99.5L612.7 100.1L611.1 100.7L609.6 101.3L608.1 102.0L606.6 102.6L605.1 103.3L603.6 104.1L602.2 104.9L600.8 105.7L599.4 106.6L598.0 107.5L596.6 108.4L595.3 109.3L594.0 110.3L592.6 111.3L591.3 112.3L590.0 113.3L588.8 114.4L587.5 115.4L586.2 116.4L585.0 117.5L583.7 118.6L582.5 119.6L581.2 120.7L580.0 121.8L578.7 122.9L577.5 124.0L576.3 125.0L575.0 126.2L573.8 127.3L572.6 128.4L571.4 129.5L570.2 130.7L569.1 131.8L567.9 133.0L566.7 134.1L565.6 135.3L564.5 136.5L563.3 137.7L562.2 138.9L561.1 140.1L560.0 141.3L558.9 142.6L557.8 143.8L556.7 145.0L555.7 146.3L554.6 147.6L553.6 148.8L552.5 150.1L551.5 151.4L550.5 152.7L549.5 154.0L548.5 155.3L547.5 156.6L546.5 157.9L545.5 159.3L544.5 160.6L543.6 161.9L542.6 163.2L541.6 164.5L540.6 165.9L539.6 167.2L538.7 168.5L537.7 169.8L536.8 171.2L535.8 172.5L534.9 173.9L534.0 175.3L533.0 176.6L532.1 178.0L531.3 179.4L530.4 180.8L529.5 182.2L528.7 183.6L527.8 185.0L527.0 186.4L526.2 187.9L525.4 189.3L524.6 190.7L523.8 192.2L523.0 193.6L522.3 195.1L521.5 196.6L520.8 198.0L520.0 199.5L519.3 201.0L518.7 202.5L518.0 204.0L517.4 205.5L516.8 207.1L516.2 208.6L515.6 210.1L515.0 211.7L514.4 213.2L513.9 214.7L513.3 216.3L512.7 217.8L512.1 219.3L511.4 220.9L510.8 222.4L510.1 223.9L509.5 225.4L508.8 226.9L508.2 228.4L507.5 229.9L506.9 231.4L506.2 232.9L505.5 234.4L504.9 235.9L504.2 237.5L503.5 239.0L502.9 240.5L502.2 242.0L501.6 243.5L500.9 245.0L500.2 246.5L499.5 248.0L498.9 249.5L498.2 251.0L497.6 252.5L496.9 254.0L496.3 255.6L495.7 257.1L495.1 258.6L494.5 260.2L494.0 261.7L493.5 263.3L493.1 264.9L492.6 266.5L492.2 268.0L491.7 269.6L491.3 271.2L490.9 272.8L490.5 274.4L490.1 276.0L489.7 277.6L489.2 279.2L488.8 280.8L488.3 282.3L487.8 283.9L487.3 285.5L486.8 287.0L486.3 288.6L485.7 290.2L485.2 291.7L484.7 293.3L484.2 294.8L483.7 296.4L483.1 298.0L482.6 299.5L482.0 301.1L481.5 302.6L480.9 304.1L480.3 305.7L479.7 307.2L479.2 308.8L478.6 310.3L478.0 311.9L477.5 313.4L476.9 315.0L476.4 316.5L475.9 318.1L475.3 319.6L474.8 321.2L474.3 322.7L473.7 324.3L473.2 325.9L472.7 327.4L472.2 329.0L471.6 330.5L471.0 332.1L470.4 333.6L469.8 335.1L469.2 336.7L468.6 338.2L468.1 339.8L467.5 341.3L467.0 342.9L466.5 344.4L466.0 346.0L465.4 347.5L464.9 349.1L464.4 350.7L463.9 352.2L463.4 353.8L462.9 355.4L462.4 356.9L461.9 358.5L461.4 360.1L460.9 361.6L460.4 363.2L460.0 364.8L459.5 366.4L459.1 368.0L458.6 369.5L458.1 371.1L457.7 372.7L457.2 374.3L456.8 375.9L456.3 377.4L455.8 379.0L455.4 380.6L454.9 382.2L454.4 383.7L453.9 385.3L453.3 386.9L452.8 388.4L452.3 390.0L451.7 391.5L451.1 393.1L450.6 394.6L450.0 396.1L449.4 397.7L448.8 399.2L448.2 400.8L447.7 402.3L447.1 403.8L446.5 405.4L445.9 406.9L445.3 408.5L444.7 410.0L444.2 411.5L443.6 413.1L443.0 414.6L442.4 416.2L441.8 417.7L441.2 419.2L440.6 420.8L440.1 422.3L439.5 423.8L438.9 425.4L438.3 426.9L437.7 428.5L437.2 430.0L436.7 431.6L436.2 433.1L435.7 434.7L435.2 436.3L434.7 437.8L434.2 439.4L433.8 441.0L433.3 442.6L432.8 444.2L432.4 445.7L432.0 447.3L431.5 448.9L431.1 450.5L430.7 452.1L430.2 453.7L429.8 455.3L429.4 456.9L429.0 458.5L428.7 460.1L428.3 461.7L427.9 463.3L427.5 464.9L427.2 466.5L426.8 468.1L426.5 469.7L426.1 471.3L425.8 472.9L425.5 474.5L425.2 476.2L424.9 477.8L424.6 479.4L424.3 481.0L424.0 482.6L423.7 484.3L423.5 485.9L423.2 487.5L422.9 489.1L422.6 490.7L422.4 492.4L422.1 494.0L421.9 495.6L421.6 497.2L421.3 498.9L421.1 500.5L420.8 502.1L420.6 503.7L420.3 505.4L420.1 507.0L419.8 508.6L419.5 510.2L419.3 511.9L419.0 513.5L418.8 515.1L418.5 516.8L418.3 518.4L418.0 520.0" fill="none" stroke="#a67ee0" stroke-width="1.5" stroke-linejoin="round"/>
<path d="M628.2 94.9L626.7 95.5L625.1 96.0L623.6 96.6L622.0 97.1L620.5 97.6L618.9 98.2L617.4 98.7L615.9 99.3L614.3 99.9L612.8 100.5L611.3 101.1L609.8 101.8L608.2 102.4L606.8 103.1L605.3 103.8L603.8 104.6L602.4 105.3L601.0 106.2L599.6 107.1L598.2 108.0L596.8 108.9L595.5 109.8L594.2 110.8L592.9 111.8L591.5 112.8L590.3 113.8L589.0 114.8L587.7 115.8L586.4 116.9L585.2 117.9L583.9 119.0L582.7 120.1L581.4 121.1L580.2 122.2L579.0 123.3L577.7 124.4L576.5 125.5L575.3 126.6L574.1 127.7L572.9 128.8L571.7 130.0L570.5 131.1L569.4 132.3L568.2 133.4L567.1 134.6L565.9 135.8L564.8 137.0L563.7 138.2L562.6 139.4L561.5 140.6L560.4 141.8L559.3 143.1L558.2 144.3L557.1 145.6L556.1 146.8L555.0 148.1L554.0 149.4L553.0 150.6L552.0 151.9L550.9 153.2L549.9 154.5L548.9 155.8L548.0 157.1L547.0 158.4L546.0 159.8L545.0 161.1L544.0 162.4L543.0 163.7L542.0 165.0L541.1 166.3L540.1 167.7L539.1 169.0L538.2 170.3L537.3 171.7L536.3 173.0L535.4 174.4L534.5 175.8L533.6 177.1L532.7 178.5L531.9 179.9L531.0 181.3L530.2 182.7L529.3 184.2L528.5 185.6L527.7 187.0L526.9 188.4L526.1 189.9L525.3 191.3L524.6 192.8L523.8 194.2L523.1 195.7L522.3 197.2L521.6 198.6L520.9 200.1L520.2 201.6L519.6 203.1L518.9 204.6L518.3 206.1L517.7 207.7L517.1 209.2L516.5 210.7L516.0 212.3L515.4 213.8L514.8 215.4L514.2 216.9L513.6 218.4L513.0 219.9L512.4 221.5L511.8 223.0L511.2 224.5L510.5 226.0L509.9 227.5L509.2 229.0L508.6 230.5L507.9 232.0L507.2 233.5L506.6 235.0L505.9 236.5L505.3 238.1L504.6 239.6L503.9 241.1L503.3 242.6L502.6 244.1L501.9 245.5L501.2 247.0L500.6 248.5L499.9 250.0L499.2 251.5L498.6 253.0L497.9 254.6L497.3 256.1L496.7 257.6L496.1 259.1L495.6 260.7L495.1 262.3L494.6 263.8L494.1 265.4L493.7 267.0L493.2 268.6L492.8 270.1L492.4 271.7L492.0 273.3L491.6 274.9L491.1 276.5L490.7 278.1L490.2 279.6L489.7 281.2L489.2 282.8L488.7 284.3L488.2 285.9L487.6 287.4L487.1 289.0L486.6 290.5L486.1 292.1L485.6 293.7L485.1 295.2L484.5 296.8L484.0 298.3L483.4 299.9L482.9 301.4L482.3 302.9L481.7 304.5L481.1 306.0L480.5 307.5L480.0 309.1L479.4 310.6L478.9 312.2L478.4 313.7L477.8 315.3L477.3 316.8L476.8 318.4L476.2 319.9L475.7 321.5L475.2 323.1L474.6 324.6L474.1 326.2L473.6 327.7L473.0 329.3L472.5 330.8L471.9 332.3L471.3 333.9L470.6 335.4L470.1 336.9L469.5 338.5L469.0 340.0L468.5 341.6L468.0 343.1L467.5 344.7L467.0 346.3L466.5 347.8L466.0 349.4L465.5 351.0L465.0 352.5L464.5 354.1L464.0 355.7L463.5 357.2L463.0 358.8L462.5 360.3L462.1 361.9L461.6 363.5L461.1 365.1L460.6 366.6L460.2 368.2L459.7 369.8L459.2 371.3L458.7 372.9L458.3 374.5L457.8 376.1L457.3 377.6L456.8 379.2L456.3 380.8L455.9 382.3L455.3 383.9L454.8 385.5L454.3 387.0L453.8 388.6L453.2 390.1L452.7 391.7L452.1 393.2L451.5 394.7L451.0 396.3L450.4 397.8L449.8 399.4L449.3 400.9L448.7 402.4L448.1 404.0L447.5 405.5L447.0 407.1L446.4 408.6L445.8 410.1L445.3 411.7L444.7 413.2L444.1 414.8L443.6 416.3L443.0 417.8L442.4 419.4L441.8 420.9L441.3 422.5L440.7 424.0L440.1 425.5L439.6 427.1L439.0 428.6L438.5 430.2L438.0 431.7L437.5 433.3L437.0 434.9L436.5 436.4L436.0 438.0L435.6 439.6L435.1 441.2L434.6 442.7L434.2 444.3L433.8 445.9L433.3 447.5L432.9 449.1L432.5 450.6L432.0 452.2L431.6 453.8L431.2 455.4L430.8 457.0L430.4 458.6L430.0 460.2L429.6 461.8L429.3 463.4L428.9 465.0L428.6 466.6L428.2 468.2L427.9 469.8L427.5 471.4L427.2 473.0L426.9 474.6L426.6 476.3L426.3 477.9L426.0 479.5L425.7 481.1L425.4 482.7L425.1 484.3L424.8 486.0L424.6 487.6L424.3 489.2L424.0 490.8L423.8 492.4L423.5 494.1L423.2 495.7L423.0 497.3L422.7 498.9L422.4 500.5L422.2 502.2L421.9 503.8L421.7 505.4L421.4 507.0L421.2 508.6L420.9 510.3L420.7 511.9L420.4 513.5L420.1 515.1L419.9 516.8L419.6 518.4L419.4 520.0" fill="none" stroke="#c49c2e" stroke-width="1.5" stroke-linejoin="round"/>
<path d="M628.2 95.9L626.7 96.6L625.3 97.2L623.8 97.9L622.3 98.6L620.8 99.2L619.4 99.9L617.9 100.6L616.4 101.3L615.0 102.0L613.5 102.7L612.1 103.4L610.6 104.1L609.2 104.9L607.7 105.6L606.3 106.4L604.9 107.2L603.5 108.0L602.1 108.9L600.7 109.7L599.4 110.6L598.0 111.5L596.7 112.4L595.3 113.4L594.0 114.3L592.7 115.3L591.4 116.2L590.1 117.2L588.8 118.2L587.6 119.3L586.3 120.3L585.1 121.4L583.9 122.4L582.7 123.5L581.5 124.6L580.3 125.7L579.1 126.8L577.9 127.9L576.8 129.1L575.6 130.2L574.5 131.4L573.3 132.5L572.2 133.7L571.1 134.9L570.0 136.1L568.9 137.3L567.8 138.5L566.7 139.7L565.6 140.9L564.6 142.1L563.5 143.4L562.5 144.6L561.5 145.9L560.4 147.1L559.4 148.4L558.4 149.7L557.4 150.9L556.4 152.2L555.4 153.5L554.4 154.8L553.4 156.1L552.4 157.3L551.4 158.6L550.4 159.9L549.4 161.2L548.5 162.5L547.5 163.8L546.5 165.1L545.5 166.4L544.6 167.7L543.6 169.0L542.7 170.3L541.8 171.7L540.9 173.0L540.0 174.4L539.1 175.8L538.3 177.2L537.5 178.6L536.7 180.0L535.9 181.4L535.1 182.8L534.3 184.2L533.6 185.7L532.9 187.1L532.2 188.6L531.5 190.1L530.8 191.5L530.1 193.0L529.4 194.5L528.8 196.0L528.1 197.4L527.5 198.9L526.9 200.4L526.3 201.9L525.6 203.4L525.0 204.9L524.5 206.5L523.9 208.0L523.3 209.5L522.8 211.0L522.2 212.6L521.7 214.1L521.1 215.6L520.6 217.1L520.0 218.7L519.5 220.2L518.9 221.7L518.4 223.2L517.8 224.8L517.2 226.3L516.7 227.8L516.1 229.3L515.5 230.8L514.9 232.4L514.3 233.9L513.7 235.4L513.1 236.9L512.5 238.4L511.8 239.9L511.1 241.3L510.4 242.8L509.7 244.3L509.0 245.7L508.3 247.2L507.6 248.6L506.8 250.1L506.1 251.5L505.4 253.0L504.7 254.5L504.1 256.0L503.5 257.5L502.9 259.0L502.3 260.5L501.8 262.0L501.3 263.6L500.9 265.1L500.4 266.7L500.0 268.3L499.6 269.8L499.2 271.4L498.8 273.0L498.4 274.6L498.0 276.1L497.5 277.7L497.0 279.2L496.4 280.7L495.8 282.2L495.1 283.7L494.3 285.1L493.6 286.5L492.9 288.0L492.4 289.5L491.8 291.1L491.4 292.6L490.9 294.2L490.5 295.7L490.0 297.3L489.4 298.8L488.8 300.3L488.2 301.8L487.5 303.3L486.9 304.8L486.2 306.3L485.6 307.8L485.0 309.3L484.5 310.8L484.1 312.4L483.7 314.0L483.3 315.5L482.8 317.1L482.4 318.6L481.8 320.2L481.3 321.7L480.7 323.2L480.1 324.7L479.5 326.2L478.9 327.8L478.3 329.3L477.7 330.8L477.1 332.3L476.5 333.8L475.9 335.3L475.3 336.8L474.8 338.3L474.3 339.9L473.9 341.5L473.6 343.0L473.2 344.6L472.9 346.2L472.6 347.8L472.3 349.4L471.9 351.0L471.6 352.5L471.2 354.1L470.8 355.7L470.3 357.2L469.9 358.8L469.4 360.4L468.9 361.9L468.4 363.4L467.8 365.0L467.3 366.5L466.8 368.0L466.2 369.6L465.7 371.1L465.1 372.6L464.5 374.1L464.0 375.6L463.4 377.2L462.9 378.7L462.3 380.2L461.7 381.7L461.2 383.3L460.7 384.8L460.1 386.3L459.6 387.9L459.1 389.4L458.5 390.9L458.0 392.5L457.5 394.0L456.9 395.5L456.4 397.1L455.9 398.6L455.4 400.2L454.8 401.7L454.3 403.2L453.8 404.8L453.3 406.3L452.8 407.8L452.3 409.4L451.8 410.9L451.3 412.5L450.8 414.0L450.3 415.6L449.8 417.1L449.3 418.7L448.8 420.2L448.4 421.8L447.9 423.3L447.4 424.9L446.9 426.4L446.5 428.0L446.0 429.5L445.5 431.1L445.1 432.6L444.6 434.2L444.2 435.8L443.8 437.3L443.3 438.9L442.9 440.5L442.5 442.0L442.1 443.6L441.6 445.2L441.2 446.7L440.8 448.3L440.4 449.9L439.9 451.4L439.5 453.0L439.1 454.6L438.7 456.2L438.3 457.7L438.0 459.3L437.6 460.9L437.2 462.5L436.8 464.1L436.5 465.6L436.1 467.2L435.8 468.8L435.4 470.4L435.1 472.0L434.8 473.6L434.5 475.2L434.2 476.8L433.9 478.4L433.6 480.0L433.3 481.6L433.0 483.2L432.7 484.8L432.4 486.4L432.2 488.0L431.9 489.6L431.6 491.2L431.3 492.8L431.1 494.4L430.8 496.0L430.5 497.6L430.3 499.2L430.0 500.8L429.7 502.4L429.5 504.0L429.2 505.6L428.9 507.2L428.7 508.8L428.4 510.4L428.2 512.0L427.9 513.6L427.6 515.2L427.4 516.8L427.1 518.4L426.8 520.0" fill="none" stroke="#5a2730" stroke-width="1.5" stroke-linejoin="round"/>
</g>
<clipPath id="clipb"><rect x="875.1" y="16.0" width="531.4" height="498.8"/></clipPath><g clip-path="url(#clipb)">
<path d="M903.9 474.9V461.5M905.4 517.8V464.6M907.4 424.1V389.8M909.3 517.8V408.8M912.6 517.8V383.6M913.9 517.8V385.3M915.7 517.8V445.9M918.5 517.8V346.2M925.6 517.8V395.5M928.5 517.8V440.8M930.3 517.8V401.6M933.4 517.8V462.2M936.6 487.0V455.6M937.9 517.8V392.7M940.4 517.8V430.2M946.1 517.8V440.4H947.0V463.4M947.0 463.4V517.8M947.9 517.8V414.6M950.1 517.8V408.9M951.5 517.8V388.5H952.4V437.0M952.4 437.0V517.8M953.6 517.8V392.4M956.1 457.2V431.0M957.6 517.8V418.4H958.5V460.4M958.5 460.4V517.8M959.6 486.5V454.7M963.7 452.0V403.8M965.0 517.8V422.4M970.8 517.8V408.1M973.2 517.8V397.5M982.9 517.8V353.9H983.8V392.0M983.8 392.0V517.8M986.0 517.8V394.2M990.3 517.8V357.6M991.5 517.8V374.2M993.5 517.8V431.2M995.7 443.3V416.9M997.7 495.2V450.0M1002.5 499.5V441.6M1004.8 517.8V438.2H1005.7V456.0M1005.7 456.0V517.8M1010.7 463.2V377.8M1015.3 498.9V478.9M1017.4 517.8V390.9M1019.7 491.9V440.8M1021.0 436.9V400.9M1024.1 517.8V478.1M1026.9 517.8V482.3M1028.2 454.4V400.7M1037.0 459.6V397.4M1038.5 517.8V436.7M1042.8 517.8V483.2H1043.7V492.0M1043.7 492.0V517.8M1044.3 517.8V400.2M1047.0 517.8V434.7M1049.4 500.2V455.1M1053.9 517.8V421.4M1058.2 465.6V389.8M1063.1 517.8V402.9H1064.0V433.3M1064.0 433.3V517.8M1064.7 493.7V459.1M1066.4 517.8V420.7M1067.9 517.8V417.5" fill="none" stroke="#3a3a3a" stroke-width="1.9" stroke-linecap="butt"/>
<path d="M906.4 470.4V453.1M909.4 517.8V445.6M910.7 512.6V509.9M916.1 517.8V424.7H917.0V450.7M917.0 450.7V517.8M919.3 517.8V494.1M924.8 517.8V443.7M928.4 517.8V452.0H929.3V480.8M929.3 480.8V517.8M930.0 517.8V508.7M931.7 517.8V508.6H932.6V512.0M932.6 512.0V517.8M933.8 504.3V490.7M935.8 517.8V487.7M937.6 517.8V463.3M943.6 494.7V486.9M945.9 511.3V502.8M947.6 510.3V508.8M951.4 517.8V509.2M955.0 501.3V476.6M956.9 517.8V423.8M959.1 486.3V464.1M962.7 517.8V460.2H963.6V485.2M963.6 485.2V517.8M963.9 512.7V509.8M967.4 517.8V504.9H968.3V507.7M968.3 507.7V517.8M970.1 517.8V509.9M972.6 505.7V498.6M977.9 517.8V496.1H978.8V502.1M978.8 502.1V517.8M979.4 517.8V490.2M981.8 467.4V444.2M985.3 517.8V504.8M988.2 517.8V474.5M989.8 517.8V476.6H990.7V484.3M990.7 484.3V517.8M991.7 517.8V425.5M993.3 500.3V490.2M994.5 517.8V471.8H995.4V480.9M995.4 480.9V517.8M996.0 517.8V463.7M997.5 517.8V510.3H998.4V511.5M998.4 511.5V517.8M999.2 517.8V510.3H1000.1V511.2M1000.1 511.2V517.8M1000.7 517.8V432.0M1002.1 517.8V510.2H1003.0V511.9M1003.0 511.9V517.8M1003.6 517.8V510.1M1005.3 517.8V486.4H1006.2V493.5M1006.2 493.5V517.8M1007.7 507.6V504.0M1009.0 511.6V509.8M1011.4 517.8V423.3M1013.2 517.8V485.1M1014.8 517.8V437.9H1015.7V482.4M1015.7 482.4V517.8M1016.6 483.1V469.1M1021.7 517.8V472.8M1024.7 481.1V468.1M1029.7 517.8V477.1H1030.6V498.4M1030.6 498.4V517.8M1032.3 517.8V414.5H1033.2V460.2M1033.2 460.2V517.8M1034.9 485.5V423.0M1037.7 517.8V508.3M1039.5 517.8V416.1H1040.4V467.2M1040.4 467.2V517.8M1040.7 510.9V508.3M1044.3 517.8V449.6H1045.2V467.1M1045.2 467.1V517.8M1047.4 502.3V485.9M1049.0 517.8V504.2H1049.9V510.2M1049.9 510.2V517.8M1053.6 517.8V496.3M1056.8 517.8V508.7M1060.5 517.8V470.1M1062.7 512.9V509.0M1066.8 484.6V430.8" fill="none" stroke="#e8333a" stroke-width="1.9" stroke-linecap="butt"/>
<path d="M1088.7 517.8V450.8H1089.6V484.4M1089.6 484.4V517.8M1091.8 517.8V454.9M1094.2 517.8V431.6M1096.2 492.0V445.1M1097.8 517.8V397.7H1098.7V426.6M1098.7 426.6V517.8M1099.6 517.8V472.3H1100.5V489.5M1100.5 489.5V517.8M1105.2 498.5V448.1M1106.9 517.8V380.8M1108.5 517.8V479.7M1111.3 517.8V465.2H1112.2V475.9M1112.2 475.9V517.8M1112.5 517.8V401.1M1116.5 517.8V426.2H1117.4V456.4M1117.4 456.4V517.8M1118.0 485.6V429.5M1119.3 492.3V467.3M1120.9 517.8V437.8M1122.6 517.8V478.5" fill="none" stroke="#3a3a3a" stroke-width="1.9" stroke-linecap="butt"/>
<path d="M1141.9 517.8V493.0M1143.1 517.8V498.4M1145.0 517.8V509.9H1145.9V510.8M1145.9 510.8V517.8M1146.4 517.8V509.9M1150.7 500.3V491.1M1152.0 517.8V499.2M1156.0 517.8V437.3H1156.9V473.5M1156.9 473.5V517.8M1157.9 511.8V509.9M1164.9 506.7V501.2M1200.3 513.7V512.2M1201.7 517.8V510.2M1203.9 517.8V497.2M1205.2 517.8V502.1M1207.4 517.8V479.2M1211.0 517.8V487.8M1213.4 517.8V446.6M1216.0 517.8V496.7H1216.9V500.7M1216.9 500.7V517.8M1217.9 517.8V450.6M1223.7 517.8V466.5M1225.6 517.8V510.6M1228.9 517.8V461.1M1230.1 495.6V464.6M1234.4 517.8V490.7H1235.3V504.5M1235.3 504.5V517.8M1235.9 510.5V505.6M1237.2 511.9V510.0" fill="none" stroke="#e8333a" stroke-width="1.9" stroke-linecap="butt"/>
<path d="M1150.3 498.0V487.7M1151.7 517.8V506.1M1156.5 517.8V494.2M1158.4 517.8V473.7M1163.2 517.8V472.4M1164.8 517.8V485.8M1168.3 517.8V496.7M1170.1 517.8V498.8H1171.0V502.0M1171.0 502.0V517.8M1172.8 506.1V490.9M1174.9 517.8V494.2H1175.8V504.2M1175.8 504.2V517.8M1176.7 517.8V480.1M1179.7 517.8V474.6M1181.1 517.8V490.8M1184.8 503.2V488.1M1187.9 517.8V482.6H1188.8V498.5M1188.8 498.5V517.8M1189.2 517.8V490.6M1190.6 517.8V490.6M1193.3 512.5V500.6M1195.1 517.8V484.0H1196.0V487.2M1196.0 487.2V517.8M1199.4 517.8V492.8H1200.3V499.8M1200.3 499.8V517.8M1203.9 512.5V511.5M1206.9 517.8V460.8H1207.8V490.5M1207.8 490.5V517.8M1209.6 517.8V385.0M1213.0 517.8V389.7H1213.9V424.9M1213.9 424.9V517.8M1220.6 447.6V392.1M1223.7 517.8V389.3M1229.3 457.1V382.9M1230.6 462.1V384.9M1233.5 481.0V439.9M1235.2 517.8V436.1M1237.0 517.8V442.9M1239.6 517.8V417.7" fill="none" stroke="#3a3a3a" stroke-width="1.9" stroke-linecap="butt"/>
<path d="M1372.0 129.4L1370.5 129.8L1368.7 128.8L1367.3 130.3L1365.7 130.6L1364.1 130.3L1362.5 130.5L1360.9 130.7L1359.2 130.3L1357.7 131.2L1356.2 131.7L1354.4 130.7L1352.9 131.6L1351.4 132.6L1349.6 131.3L1348.2 130.2L1346.7 133.4L1345.0 133.4L1343.4 133.3L1341.9 133.8L1340.2 133.9L1338.8 135.0L1337.1 134.4L1335.7 135.5L1334.1 135.8L1332.6 136.5L1330.7 135.6L1329.3 136.5L1328.0 138.1L1326.0 136.5L1324.6 137.7L1323.0 137.7L1321.7 139.4L1319.8 138.3L1318.5 139.6L1317.1 140.7L1314.9 138.6L1313.5 139.7L1312.1 140.5L1310.7 141.5L1309.0 141.6L1307.7 142.7L1305.9 142.3L1304.1 141.8L1302.8 142.9L1301.1 143.1L1299.8 144.3L1298.2 141.9L1296.6 144.9L1295.0 144.9L1293.6 146.2L1292.2 146.8L1290.4 146.5L1288.6 148.9L1287.3 147.5L1285.8 148.0L1284.2 148.3L1282.7 148.7L1281.2 149.4L1279.5 152.8L1277.9 149.4L1276.5 150.5L1274.9 150.6L1273.4 151.2L1271.9 151.8L1270.2 151.6L1268.8 152.8L1267.3 153.5L1265.4 152.4L1264.0 153.6L1262.4 153.8L1260.8 152.9L1259.4 154.8L1257.8 155.2L1256.2 155.5L1254.6 155.7L1253.1 156.2L1251.3 155.6L1249.9 156.8L1248.6 158.0L1246.7 156.8L1245.3 158.2L1243.7 158.3L1242.0 158.2L1240.6 159.3L1239.0 159.2L1237.4 159.8L1235.9 160.2L1234.2 160.0L1232.8 161.3L1230.9 160.1L1229.5 163.2L1227.8 161.0L1226.4 163.8L1224.7 161.8L1223.3 162.6L1221.7 162.8L1220.2 163.8L1218.5 163.4L1216.9 163.7L1215.5 163.9L1213.9 162.0L1212.3 165.2L1210.6 165.0L1209.0 165.1L1207.5 165.6L1206.0 166.6L1204.3 166.2L1202.6 165.7L1201.4 167.7L1199.6 167.0L1198.2 168.1L1196.2 167.6L1195.0 168.5L1193.3 168.6L1191.8 168.8L1190.1 168.7L1188.7 169.9L1187.1 169.1L1185.8 171.3L1183.9 170.5L1182.5 169.3L1181.0 172.0L1179.4 172.5L1177.8 172.7L1176.4 173.5L1174.9 174.0L1173.6 175.2L1171.8 174.9L1170.4 175.9L1169.0 176.6L1166.9 174.0L1165.7 179.2L1164.0 177.1L1162.7 176.1L1161.5 179.5L1159.8 179.5L1158.3 180.1L1156.9 180.9L1154.9 180.3L1153.5 181.1L1151.9 181.3L1150.5 182.3L1149.0 182.7L1147.7 183.8L1145.8 183.3L1144.5 184.4L1143.2 185.5L1141.4 185.3L1140.3 186.9L1138.9 187.6L1137.1 187.7L1135.6 188.2L1133.7 188.1L1132.9 190.0L1131.6 190.9L1130.4 192.0L1128.3 191.7L1127.1 192.8L1125.7 193.7L1125.2 195.6L1123.5 196.0L1122.5 197.4L1121.4 198.5L1120.6 199.9L1119.1 200.7L1117.6 201.6L1117.1 203.3L1116.0 204.4L1115.4 205.9L1114.4 207.2L1112.8 208.1L1111.6 209.2L1112.1 211.4L1110.5 212.3L1110.3 214.1L1109.1 215.2L1108.8 216.9L1108.4 218.4L1106.3 219.2L1106.3 221.0L1105.2 222.3L1104.8 224.7L1104.2 225.3L1103.9 227.0L1103.1 228.4L1102.4 229.8L1101.4 231.2L1101.6 233.0L1100.4 234.2L1100.0 235.8L1099.3 237.3L1099.2 238.9L1098.7 240.4L1098.8 242.1L1097.9 243.6L1096.9 244.9L1097.1 246.7L1096.3 248.1L1095.3 249.5L1095.4 251.2L1093.8 252.4L1093.9 255.8L1095.4 256.2L1094.1 257.5L1093.7 259.1L1093.3 260.6L1093.0 262.2L1093.5 264.0L1091.8 265.2L1091.6 266.8L1092.2 268.6L1091.5 270.1L1090.9 271.6L1090.4 273.1L1089.9 274.7L1089.3 276.2L1089.9 278.0L1088.4 279.3L1088.7 281.0L1089.7 282.8L1088.2 284.2L1088.0 285.5L1087.1 287.1L1086.7 280.8L1086.5 292.5L1086.8 292.1L1087.1 289.7L1087.0 296.3L1086.3 296.9L1085.8 298.4L1085.7 300.0L1084.9 300.7L1084.4 303.1L1084.8 304.8L1083.1 306.1L1084.1 307.9L1082.6 309.3L1082.9 310.9L1082.7 312.6L1083.3 314.3L1081.9 315.7L1081.4 317.2L1082.6 319.1L1080.8 320.4L1081.3 322.1L1080.8 323.6L1081.0 325.3L1080.2 326.8L1079.4 328.3L1079.8 330.0L1079.4 331.5L1079.3 338.8L1078.2 334.6L1078.8 336.3L1078.5 337.9L1078.1 339.5L1077.6 341.0L1077.3 342.6L1077.6 344.3L1076.6 345.7L1076.6 347.4L1077.5 349.1L1075.4 350.4L1076.8 352.2L1076.0 353.8L1075.7 355.3L1075.3 356.9L1074.3 358.4L1075.7 360.2L1074.6 361.7L1074.6 360.8L1074.0 364.8L1075.5 366.6L1074.1 369.8L1073.7 369.7L1073.9 371.3L1073.8 372.9L1072.8 374.4L1072.4 376.0L1071.9 377.6L1072.5 379.2L1073.6 381.0L1072.6 382.5L1073.0 384.1L1071.9 385.6L1071.9 387.2L1072.3 388.9L1072.6 388.0L1071.9 392.1L1071.2 393.6L1070.9 395.2L1071.1 396.8L1070.5 398.4L1071.4 400.0L1070.8 401.7L1071.6 403.3L1071.4 404.9L1071.4 406.5L1071.8 408.2L1070.2 409.7L1070.1 411.3L1070.4 412.9L1070.3 414.5L1069.3 416.0L1069.2 417.7L1070.5 419.3L1069.2 420.9L1069.9 422.5L1070.3 424.2L1069.9 425.7L1069.7 427.3L1069.7 428.9L1069.9 430.5L1069.7 432.1L1069.8 433.8L1070.0 435.4L1068.5 436.9L1069.5 438.6L1068.2 440.1L1068.2 441.7L1069.3 443.4L1069.1 445.0L1068.8 446.6L1069.5 448.2L1069.2 449.8L1068.7 451.4L1068.1 453.0L1068.7 454.6L1068.5 456.2L1067.3 457.3L1067.7 459.4L1067.7 461.0L1068.5 462.6L1068.4 464.3L1068.6 465.9L1067.2 472.8L1067.8 469.0L1068.1 470.7L1067.6 472.2L1067.3 473.8L1069.0 475.5L1067.2 477.1L1066.4 478.6L1067.4 480.3L1066.7 481.9L1067.5 483.5L1067.1 485.1L1066.5 486.7L1067.2 485.6L1067.3 489.9L1066.4 491.5L1066.5 493.1L1066.2 494.7L1065.8 496.3L1066.0 497.9L1066.3 499.5L1066.3 501.1L1066.0 502.7L1066.0 504.3L1066.2 499.4L1065.5 507.5L1066.0 509.2L1064.9 510.7L1066.4 512.4L1065.3 514.0L1066.1 515.6L1066.3 517.2L1065.4 518.8L1065.4 520.4L1066.0 522.0" fill="none" stroke="#3a3a3a" stroke-width="1.6" stroke-linejoin="round"/>
<path d="M1372.0 130.0L1370.4 129.8L1368.8 130.0L1367.2 130.7L1365.6 130.7L1364.0 131.0L1362.3 130.3L1360.7 130.5L1359.3 131.8L1357.7 132.0L1356.1 132.3L1354.5 132.6L1352.7 131.6L1351.3 133.0L1349.7 132.7L1348.0 140.0L1346.7 134.1L1345.0 134.1L1343.5 134.5L1341.7 134.0L1340.4 135.6L1338.7 135.5L1337.2 135.8L1335.5 135.8L1334.2 137.2L1332.6 137.3L1330.9 137.0L1329.2 137.0L1327.8 138.1L1326.2 137.8L1324.7 138.7L1323.0 127.9L1321.5 139.2L1319.9 139.6L1318.4 139.9L1316.8 140.5L1315.5 141.7L1313.7 141.3L1312.1 141.5L1310.7 144.1L1309.1 142.7L1307.5 142.8L1306.0 143.4L1304.4 143.7L1302.9 144.2L1301.1 143.7L1299.6 144.3L1298.1 145.0L1296.5 145.3L1295.0 145.7L1293.4 146.0L1292.0 147.0L1290.2 146.6L1289.0 148.1L1287.3 148.2L1285.8 148.6L1284.1 148.5L1282.5 148.8L1281.1 149.9L1279.7 150.7L1278.0 153.6L1276.5 151.4L1274.7 150.8L1273.5 153.8L1271.5 151.1L1270.3 153.0L1268.6 152.8L1267.1 153.5L1265.5 153.5L1264.0 154.1L1262.3 154.4L1260.8 154.7L1259.2 155.0L1257.7 155.4L1256.3 156.6L1254.5 156.1L1252.9 156.2L1251.7 158.1L1250.0 157.9L1248.5 158.5L1247.0 158.9L1245.2 158.3L1243.5 158.0L1242.1 159.3L1240.6 160.0L1239.0 160.3L1237.3 159.7L1236.0 161.2L1234.2 160.9L1232.7 161.3L1231.2 160.9L1229.6 162.4L1228.1 162.9L1226.5 157.7L1225.0 163.6L1223.4 164.1L1221.7 163.5L1220.2 164.1L1218.4 163.7L1217.1 165.2L1215.4 165.1L1213.9 165.6L1212.4 166.2L1210.7 166.2L1209.3 163.2L1207.5 167.9L1206.1 167.5L1204.4 167.0L1202.8 167.6L1201.2 167.7L1199.9 169.1L1198.2 168.9L1196.6 169.2L1194.6 170.0L1193.7 170.6L1191.9 169.7L1190.5 171.0L1188.4 169.6L1187.3 171.4L1185.7 171.7L1184.0 171.6L1182.8 173.1L1181.0 173.0L1179.3 172.7L1177.9 173.8L1176.6 175.1L1174.8 174.7L1173.3 175.2L1172.0 176.3L1170.4 176.8L1168.9 177.3L1167.4 177.8L1166.1 179.0L1164.1 178.1L1163.0 179.9L1161.1 179.2L1159.7 185.2L1158.3 181.0L1156.9 181.7L1155.1 181.5L1153.7 182.5L1152.3 183.3L1150.6 183.3L1149.0 183.7L1147.8 186.3L1146.4 185.7L1144.4 185.2L1143.3 182.5L1141.4 186.3L1140.1 187.4L1138.6 185.9L1137.1 188.4L1136.0 190.0L1134.4 190.3L1132.7 191.9L1131.8 192.3L1130.3 192.8L1128.8 193.4L1127.3 194.2L1125.9 195.0L1124.9 196.4L1123.7 197.5L1122.6 198.7L1122.0 200.3L1121.1 198.0L1119.3 202.2L1118.6 203.2L1117.0 204.5L1116.6 206.2L1115.4 204.5L1114.6 208.7L1113.1 209.6L1112.7 211.2L1111.6 212.4L1111.2 214.1L1109.7 215.1L1109.7 216.9L1108.4 218.1L1108.5 219.9L1107.9 221.4L1106.9 222.7L1105.7 223.9L1105.3 225.5L1105.7 227.4L1105.0 228.9L1103.6 229.0L1102.1 231.2L1102.6 233.1L1102.2 234.7L1100.9 235.9L1100.8 237.6L1099.4 238.8L1099.6 240.5L1098.9 242.0L1099.4 243.8L1098.2 245.2L1098.0 246.8L1097.8 249.5L1097.8 250.1L1097.1 251.5L1096.3 253.0L1096.0 254.6L1095.9 256.2L1095.3 257.7L1094.8 259.2L1094.4 260.8L1093.3 262.2L1094.1 264.0L1092.9 265.4L1093.6 267.2L1091.8 268.4L1092.5 270.2L1092.0 271.7L1091.5 273.3L1090.8 274.8L1092.5 277.8L1091.1 278.1L1090.5 279.6L1089.5 281.1L1088.7 282.5L1090.5 284.5L1089.8 286.0L1089.0 287.5L1088.1 290.1L1087.6 290.5L1087.4 292.1L1087.5 293.8L1087.2 295.4L1086.3 296.8L1086.2 298.4L1085.9 300.0L1085.5 301.6L1085.4 303.2L1085.7 304.9L1083.9 306.2L1084.8 308.0L1084.3 309.5L1084.4 311.2L1083.8 312.7L1083.8 314.3L1083.4 315.9L1083.9 317.6L1082.4 318.9L1082.0 320.5L1082.1 324.2L1081.9 323.8L1082.0 325.4L1082.3 327.1L1081.9 328.6L1081.1 330.1L1079.8 331.5L1080.7 333.3L1080.2 334.9L1079.4 336.4L1080.3 338.1L1079.2 339.6L1079.1 341.2L1079.3 342.8L1078.0 344.3L1078.1 345.9L1078.2 347.5L1078.6 349.2L1077.8 350.7L1077.5 352.3L1076.8 353.8L1076.5 355.4L1076.3 357.0L1075.4 358.5L1075.3 360.1L1075.8 361.8L1075.3 363.3L1075.9 365.0L1075.7 366.6L1075.7 368.3L1074.6 369.7L1074.8 371.4L1074.4 372.9L1074.1 374.5L1074.3 376.2L1074.5 377.8L1074.3 379.4L1074.3 381.0L1073.6 382.6L1073.2 384.1L1072.4 385.7L1073.2 387.4L1072.5 388.9L1072.3 390.5L1072.8 392.2L1072.7 395.8L1072.7 395.4L1072.7 395.3L1072.1 398.5L1071.7 400.1L1072.1 401.8L1070.9 396.9L1072.2 405.0L1071.4 406.5L1070.4 408.1L1071.6 409.8L1071.4 411.4L1071.3 413.0L1070.7 414.5L1070.8 416.1L1070.4 417.7L1070.6 419.3L1071.7 421.0L1069.9 422.5L1071.2 424.2L1070.7 425.8L1069.7 427.3L1070.7 429.0L1069.4 430.5L1069.5 438.6L1069.6 433.8L1069.8 435.4L1070.0 437.0L1070.3 438.6L1070.3 440.2L1069.7 441.8L1070.2 443.4L1069.8 445.0L1069.4 446.6L1069.2 448.2L1069.0 449.8L1068.8 451.4L1068.6 453.0L1068.7 454.6L1069.3 456.3L1068.5 457.8L1069.2 459.5L1069.6 461.1L1068.3 462.6L1068.7 464.3L1068.5 465.9L1067.9 467.4L1069.4 469.1L1068.0 470.7L1068.5 472.3L1068.8 473.9L1068.5 475.5L1067.7 477.1L1068.3 478.7L1068.3 480.3L1067.1 481.9L1066.4 483.4L1067.8 485.1L1067.3 486.7L1067.5 488.3L1066.4 489.9L1066.9 491.5L1066.3 493.1L1067.6 494.7L1067.6 496.3L1067.2 497.9L1066.5 499.5L1067.2 501.2L1066.4 502.7L1066.8 504.4L1065.9 506.1L1066.3 504.0L1066.7 509.2L1067.1 510.8L1066.1 512.4L1065.9 511.8L1065.9 515.6L1065.9 517.2L1066.3 518.8L1065.6 520.4L1065.8 522.0" fill="none" stroke="#e8333a" stroke-width="1.6" stroke-linejoin="round"/>
<path d="M1372.0 130.8L1370.0 131.1L1368.1 131.4L1366.1 131.6L1364.2 131.9L1362.2 132.1L1360.2 132.4L1358.3 132.6L1356.3 132.9L1354.4 133.2L1352.4 133.5L1350.5 133.9L1348.5 134.2L1346.6 134.6L1344.6 134.9L1342.7 135.3L1340.8 135.7L1338.8 136.1L1336.9 136.5L1335.0 137.0L1333.0 137.4L1331.1 137.8L1329.2 138.2L1327.3 138.7L1325.3 139.1L1323.4 139.5L1321.5 140.0L1319.6 140.4L1317.6 140.9L1315.7 141.3L1313.8 141.8L1311.9 142.3L1309.9 142.7L1308.0 143.2L1306.1 143.7L1304.2 144.1L1302.3 144.6L1300.3 145.1L1298.4 145.6L1296.5 146.1L1294.6 146.6L1292.7 147.1L1290.8 147.6L1288.9 148.1L1287.0 148.6L1285.1 149.2L1283.2 149.7L1281.3 150.2L1279.3 150.7L1277.4 151.2L1275.5 151.7L1273.6 152.2L1271.7 152.7L1269.8 153.2L1267.9 153.7L1266.0 154.2L1264.0 154.7L1262.1 155.1L1260.2 155.6L1258.3 156.1L1256.4 156.6L1254.5 157.1L1252.5 157.5L1250.6 158.0L1248.7 158.5L1246.8 158.9L1244.9 159.4L1242.9 159.9L1241.0 160.3L1239.1 160.8L1237.2 161.3L1235.3 161.7L1233.3 162.2L1231.4 162.6L1229.5 163.1L1227.6 163.5L1225.6 163.9L1223.7 164.3L1221.8 164.8L1219.8 165.2L1217.9 165.5L1216.0 165.9L1214.0 166.3L1212.1 166.7L1210.2 167.1L1208.2 167.5L1206.3 167.9L1204.4 168.3L1202.4 168.7L1200.5 169.1L1198.6 169.5L1196.6 170.0L1194.7 170.5L1192.8 170.9L1190.9 171.4L1189.0 172.0L1187.1 172.5L1185.2 173.0L1183.3 173.6L1181.4 174.2L1179.5 174.8L1177.6 175.4L1175.8 176.0L1173.9 176.6L1172.0 177.3L1170.1 177.9L1168.3 178.5L1166.4 179.2L1164.5 179.9L1162.7 180.5L1160.8 181.2L1159.0 181.8L1157.1 182.5L1155.2 183.2L1153.4 183.9L1151.5 184.5L1149.7 185.2L1147.8 185.9L1146.0 186.6L1144.1 187.3L1142.3 188.1L1140.5 188.8L1138.7 189.6L1136.9 190.4L1135.1 191.3L1133.3 192.2L1131.6 193.2L1130.0 194.3L1128.4 195.4L1126.8 196.7L1125.3 198.0L1123.9 199.3L1122.5 200.7L1121.1 202.1L1119.8 203.6L1118.5 205.1L1117.3 206.6L1116.1 208.2L1115.0 209.9L1113.9 211.5L1112.9 213.2L1111.9 214.9L1111.0 216.7L1110.1 218.4L1109.2 220.2L1108.3 222.0L1107.5 223.8L1106.7 225.6L1105.9 227.4L1105.1 229.2L1104.3 231.0L1103.6 232.8L1102.9 234.7L1102.2 236.6L1101.6 238.4L1101.0 240.3L1100.4 242.2L1099.9 244.1L1099.3 246.0L1098.8 247.9L1098.3 249.8L1097.8 251.7L1097.3 253.6L1096.8 255.6L1096.3 257.5L1095.8 259.4L1095.4 261.3L1094.9 263.2L1094.4 265.1L1094.0 267.1L1093.6 269.0L1093.1 270.9L1092.7 272.9L1092.3 274.8L1091.8 276.7L1091.4 278.7L1091.0 280.6L1090.6 282.5L1090.2 284.5L1089.8 286.4L1089.4 288.3L1089.0 290.3L1088.7 292.2L1088.3 294.1L1087.9 296.1L1087.5 298.0L1087.1 299.9L1086.7 301.9L1086.3 303.8L1085.9 305.8L1085.6 307.7L1085.2 309.6L1084.8 311.6L1084.5 313.5L1084.1 315.5L1083.8 317.4L1083.4 319.4L1083.1 321.3L1082.7 323.3L1082.4 325.2L1082.1 327.2L1081.7 329.1L1081.4 331.1L1081.1 333.0L1080.8 335.0L1080.4 336.9L1080.1 338.9L1079.8 340.8L1079.5 342.8L1079.2 344.7L1078.9 346.7L1078.6 348.6L1078.3 350.6L1078.0 352.5L1077.7 354.5L1077.4 356.4L1077.2 358.4L1076.9 360.4L1076.6 362.3L1076.4 364.3L1076.1 366.2L1075.9 368.2L1075.7 370.2L1075.4 372.1L1075.2 374.1L1075.0 376.0L1074.8 378.0L1074.5 380.0L1074.3 381.9L1074.1 383.9L1073.9 385.9L1073.7 387.8L1073.6 389.8L1073.4 391.8L1073.2 393.7L1073.0 395.7L1072.8 397.7L1072.6 399.6L1072.5 401.6L1072.3 403.6L1072.1 405.5L1072.0 407.5L1071.8 409.5L1071.7 411.5L1071.5 413.4L1071.4 415.4L1071.2 417.4L1071.1 419.3L1071.0 421.3L1070.8 423.3L1070.7 425.3L1070.6 427.2L1070.5 429.2L1070.4 431.2L1070.3 433.2L1070.3 435.1L1070.2 437.1L1070.1 439.1L1070.0 441.0L1070.0 443.0L1069.9 445.0L1069.8 447.0L1069.7 448.9L1069.6 450.9L1069.6 452.9L1069.5 454.9L1069.4 456.8L1069.3 458.8L1069.2 460.8L1069.1 462.8L1069.0 464.7L1068.9 466.7L1068.8 468.7L1068.6 470.7L1068.5 472.6L1068.4 474.6L1068.3 476.6L1068.2 478.6L1068.1 480.5L1068.0 482.5L1068.0 484.5L1067.9 486.5L1067.8 488.4L1067.7 490.4L1067.6 492.4L1067.5 494.3L1067.4 496.3L1067.4 498.3L1067.3 500.3L1067.2 502.2L1067.1 504.2L1067.1 506.2L1067.0 508.2L1066.9 510.1L1066.9 512.1L1066.8 514.1L1066.7 516.1L1066.7 518.0L1066.6 520.0L1066.6 522.0" fill="none" stroke="#5a2730" stroke-width="1.5" stroke-linejoin="round"/>
<path d="M1372.0 133.7L1370.1 134.0L1368.1 134.2L1366.2 134.5L1364.2 134.7L1362.3 135.0L1360.3 135.2L1358.4 135.5L1356.5 135.7L1354.5 136.0L1352.6 136.3L1350.7 136.6L1348.7 136.9L1346.8 137.3L1344.9 137.6L1343.0 138.0L1341.0 138.4L1339.1 138.8L1337.2 139.1L1335.3 139.5L1333.4 139.9L1331.4 140.3L1329.5 140.7L1327.6 141.1L1325.7 141.5L1323.8 141.9L1321.9 142.4L1320.0 142.8L1318.0 143.2L1316.1 143.6L1314.2 144.1L1312.3 144.5L1310.4 144.9L1308.5 145.4L1306.6 145.8L1304.7 146.3L1302.8 146.7L1300.9 147.2L1299.0 147.6L1297.1 148.1L1295.2 148.6L1293.3 149.1L1291.4 149.5L1289.5 150.0L1287.6 150.5L1285.7 151.0L1283.8 151.5L1281.9 152.0L1280.0 152.5L1278.1 153.0L1276.2 153.5L1274.3 154.0L1272.4 154.5L1270.5 154.9L1268.6 155.4L1266.8 155.9L1264.9 156.4L1263.0 156.9L1261.1 157.4L1259.2 157.9L1257.3 158.4L1255.4 159.0L1253.5 159.5L1251.6 160.0L1249.7 160.5L1247.9 161.0L1246.0 161.5L1244.1 162.0L1242.2 162.6L1240.3 163.1L1238.4 163.6L1236.5 164.1L1234.7 164.6L1232.8 165.1L1230.9 165.6L1229.0 166.1L1227.1 166.5L1225.2 167.0L1223.3 167.4L1221.4 167.9L1219.5 168.3L1217.6 168.8L1215.7 169.2L1213.8 169.6L1211.8 170.1L1209.9 170.5L1208.0 170.9L1206.1 171.4L1204.2 171.8L1202.3 172.3L1200.4 172.8L1198.5 173.2L1196.6 173.7L1194.7 174.2L1192.8 174.7L1191.0 175.3L1189.1 175.8L1187.2 176.4L1185.3 176.9L1183.5 177.5L1181.6 178.1L1179.7 178.7L1177.9 179.3L1176.0 180.0L1174.2 180.6L1172.3 181.2L1170.5 181.9L1168.6 182.5L1166.8 183.2L1164.9 183.8L1163.1 184.5L1161.3 185.2L1159.4 185.8L1157.6 186.5L1155.7 187.2L1153.9 187.9L1152.1 188.6L1150.2 189.3L1148.4 190.0L1146.6 190.7L1144.8 191.4L1143.0 192.2L1141.2 193.0L1139.4 193.8L1137.6 194.6L1135.9 195.6L1134.2 196.5L1132.6 197.6L1131.0 198.7L1129.5 200.0L1128.0 201.2L1126.6 202.6L1125.2 204.0L1123.8 205.4L1122.5 206.8L1121.2 208.3L1120.0 209.8L1118.8 211.4L1117.7 213.0L1116.6 214.7L1115.6 216.3L1114.6 218.0L1113.6 219.7L1112.7 221.4L1111.8 223.2L1110.9 224.9L1110.1 226.7L1109.3 228.5L1108.5 230.3L1107.7 232.1L1107.0 233.9L1106.3 235.7L1105.6 237.5L1105.0 239.4L1104.3 241.2L1103.7 243.1L1103.2 245.0L1102.6 246.9L1102.1 248.7L1101.6 250.6L1101.2 252.5L1100.7 254.4L1100.2 256.3L1099.7 258.2L1099.2 260.1L1098.8 262.0L1098.3 263.9L1097.8 265.8L1097.4 267.7L1096.9 269.6L1096.5 271.6L1096.1 273.5L1095.6 275.4L1095.2 277.3L1094.8 279.2L1094.4 281.1L1094.0 283.0L1093.6 284.9L1093.2 286.9L1092.8 288.8L1092.4 290.7L1091.9 292.6L1091.5 294.5L1091.1 296.4L1090.7 298.3L1090.3 300.3L1089.9 302.2L1089.5 304.1L1089.1 306.0L1088.7 307.9L1088.3 309.8L1087.9 311.8L1087.6 313.7L1087.2 315.6L1086.9 317.5L1086.5 319.5L1086.2 321.4L1085.8 323.3L1085.5 325.2L1085.2 327.2L1084.9 329.1L1084.5 331.0L1084.2 333.0L1083.9 334.9L1083.6 336.8L1083.3 338.8L1082.9 340.7L1082.6 342.6L1082.3 344.6L1082.0 346.5L1081.7 348.4L1081.4 350.4L1081.1 352.3L1080.8 354.2L1080.5 356.2L1080.2 358.1L1079.9 360.0L1079.6 362.0L1079.4 363.9L1079.1 365.9L1078.8 367.8L1078.6 369.7L1078.3 371.7L1078.1 373.6L1077.9 375.6L1077.6 377.5L1077.4 379.5L1077.2 381.4L1077.0 383.3L1076.8 385.3L1076.6 387.2L1076.3 389.2L1076.1 391.1L1075.9 393.1L1075.7 395.0L1075.5 397.0L1075.3 398.9L1075.1 400.9L1074.9 402.8L1074.7 404.8L1074.5 406.7L1074.3 408.7L1074.2 410.6L1074.0 412.5L1073.8 414.5L1073.6 416.4L1073.4 418.4L1073.3 420.3L1073.1 422.3L1073.0 424.2L1072.8 426.2L1072.7 428.2L1072.5 430.1L1072.4 432.1L1072.3 434.0L1072.2 436.0L1072.1 437.9L1072.0 439.9L1071.9 441.8L1071.8 443.8L1071.7 445.7L1071.6 447.7L1071.5 449.6L1071.4 451.6L1071.3 453.6L1071.2 455.5L1071.1 457.5L1071.0 459.4L1070.9 461.4L1070.8 463.3L1070.7 465.3L1070.6 467.2L1070.5 469.2L1070.4 471.2L1070.3 473.1L1070.2 475.1L1070.1 477.0L1070.0 479.0L1069.9 480.9L1069.8 482.9L1069.7 484.8L1069.6 486.8L1069.5 488.8L1069.4 490.7L1069.3 492.7L1069.2 494.6L1069.1 496.6L1069.0 498.5L1069.0 500.5L1068.9 502.4L1068.8 504.4L1068.7 506.3L1068.6 508.3L1068.5 510.3L1068.4 512.2L1068.3 514.2L1068.3 516.1L1068.2 518.1L1068.2 520.0L1068.1 522.0" fill="none" stroke="#3a66dd" stroke-width="1.5" stroke-linejoin="round"/>
<path d="M1372.0 135.5L1370.1 135.7L1368.1 136.0L1366.2 136.2L1364.3 136.4L1362.3 136.7L1360.4 136.9L1358.5 137.2L1356.5 137.4L1354.6 137.7L1352.7 138.0L1350.8 138.3L1348.9 138.6L1346.9 138.9L1345.0 139.3L1343.1 139.6L1341.2 140.0L1339.3 140.3L1337.4 140.7L1335.5 141.1L1333.5 141.4L1331.6 141.8L1329.7 142.2L1327.8 142.6L1325.9 143.0L1324.0 143.4L1322.1 143.8L1320.2 144.2L1318.3 144.6L1316.4 145.0L1314.5 145.4L1312.6 145.8L1310.7 146.2L1308.8 146.7L1306.9 147.1L1305.0 147.5L1303.1 148.0L1301.2 148.4L1299.3 148.9L1297.4 149.3L1295.5 149.8L1293.6 150.2L1291.7 150.7L1289.9 151.2L1288.0 151.6L1286.1 152.1L1284.2 152.6L1282.3 153.1L1280.4 153.5L1278.5 154.0L1276.6 154.5L1274.8 155.0L1272.9 155.5L1271.0 156.0L1269.1 156.5L1267.2 157.0L1265.4 157.5L1263.5 158.0L1261.6 158.5L1259.7 159.0L1257.9 159.6L1256.0 160.1L1254.1 160.6L1252.2 161.2L1250.4 161.7L1248.5 162.3L1246.6 162.8L1244.8 163.3L1242.9 163.9L1241.0 164.4L1239.2 165.0L1237.3 165.5L1235.4 166.0L1233.6 166.6L1231.7 167.1L1229.8 167.6L1227.9 168.1L1226.1 168.6L1224.2 169.1L1222.3 169.5L1220.4 170.0L1218.5 170.5L1216.6 170.9L1214.7 171.4L1212.9 171.9L1211.0 172.3L1209.1 172.8L1207.2 173.3L1205.3 173.7L1203.4 174.2L1201.5 174.7L1199.7 175.2L1197.8 175.7L1195.9 176.2L1194.0 176.7L1192.1 177.3L1190.3 177.8L1188.4 178.4L1186.6 178.9L1184.7 179.5L1182.9 180.1L1181.0 180.7L1179.2 181.4L1177.3 182.0L1175.5 182.6L1173.6 183.2L1171.8 183.9L1170.0 184.5L1168.1 185.2L1166.3 185.8L1164.5 186.5L1162.6 187.2L1160.8 187.8L1159.0 188.5L1157.1 189.2L1155.3 189.9L1153.5 190.6L1151.7 191.3L1149.9 192.0L1148.1 192.7L1146.3 193.4L1144.5 194.2L1142.7 195.0L1140.9 195.8L1139.2 196.6L1137.5 197.5L1135.8 198.5L1134.1 199.6L1132.6 200.7L1131.0 201.9L1129.6 203.2L1128.2 204.6L1126.8 205.9L1125.4 207.3L1124.1 208.8L1122.9 210.3L1121.6 211.8L1120.5 213.3L1119.3 214.9L1118.2 216.5L1117.2 218.1L1116.2 219.8L1115.2 221.5L1114.3 223.2L1113.4 224.9L1112.5 226.7L1111.7 228.4L1110.8 230.2L1110.1 232.0L1109.3 233.8L1108.6 235.6L1107.9 237.4L1107.2 239.2L1106.6 241.1L1106.0 242.9L1105.4 244.8L1104.8 246.6L1104.3 248.5L1103.8 250.4L1103.3 252.3L1102.9 254.2L1102.4 256.1L1101.9 257.9L1101.4 259.8L1101.0 261.7L1100.5 263.6L1100.1 265.5L1099.6 267.4L1099.2 269.3L1098.7 271.2L1098.3 273.1L1097.8 275.0L1097.4 276.9L1097.0 278.8L1096.6 280.7L1096.1 282.6L1095.7 284.5L1095.3 286.4L1094.9 288.3L1094.5 290.2L1094.1 292.1L1093.7 294.0L1093.3 295.9L1092.8 297.8L1092.4 299.7L1092.0 301.6L1091.6 303.5L1091.1 305.4L1090.7 307.3L1090.3 309.2L1089.9 311.1L1089.6 313.0L1089.2 314.9L1088.9 316.8L1088.5 318.8L1088.2 320.7L1087.8 322.6L1087.5 324.5L1087.2 326.4L1086.9 328.4L1086.5 330.3L1086.2 332.2L1085.9 334.1L1085.6 336.0L1085.3 338.0L1085.0 339.9L1084.6 341.8L1084.3 343.7L1084.0 345.6L1083.7 347.6L1083.4 349.5L1083.1 351.4L1082.8 353.3L1082.5 355.3L1082.2 357.2L1081.9 359.1L1081.6 361.0L1081.3 363.0L1081.0 364.9L1080.7 366.8L1080.5 368.7L1080.2 370.7L1080.0 372.6L1079.7 374.5L1079.5 376.5L1079.2 378.4L1079.0 380.3L1078.8 382.3L1078.6 384.2L1078.3 386.1L1078.1 388.1L1077.9 390.0L1077.7 391.9L1077.5 393.9L1077.3 395.8L1077.1 397.7L1076.8 399.7L1076.6 401.6L1076.4 403.5L1076.2 405.5L1076.0 407.4L1075.8 409.3L1075.6 411.3L1075.4 413.2L1075.2 415.1L1075.0 417.1L1074.8 419.0L1074.6 420.9L1074.4 422.9L1074.3 424.8L1074.1 426.8L1073.9 428.7L1073.8 430.6L1073.6 432.6L1073.5 434.5L1073.3 436.5L1073.2 438.4L1073.1 440.3L1073.0 442.3L1072.9 444.2L1072.7 446.2L1072.6 448.1L1072.5 450.1L1072.4 452.0L1072.3 453.9L1072.2 455.9L1072.1 457.8L1072.0 459.8L1071.9 461.7L1071.8 463.7L1071.7 465.6L1071.6 467.6L1071.5 469.5L1071.4 471.4L1071.3 473.4L1071.3 475.3L1071.2 477.3L1071.1 479.2L1071.0 481.2L1070.9 483.1L1070.8 485.1L1070.7 487.0L1070.6 488.9L1070.5 490.9L1070.4 492.8L1070.3 494.8L1070.2 496.7L1070.1 498.7L1069.9 500.6L1069.8 502.6L1069.7 504.5L1069.6 506.4L1069.5 508.4L1069.4 510.3L1069.4 512.3L1069.3 514.2L1069.2 516.2L1069.1 518.1L1069.1 520.1L1069.1 522.0" fill="none" stroke="#52dcd0" stroke-width="1.5" stroke-linejoin="round"/>
<path d="M1372.0 136.6L1370.1 136.9L1368.2 137.1L1366.2 137.3L1364.3 137.6L1362.4 137.8L1360.4 138.0L1358.5 138.3L1356.6 138.5L1354.7 138.8L1352.8 139.1L1350.8 139.4L1348.9 139.7L1347.0 140.0L1345.1 140.3L1343.2 140.7L1341.3 141.0L1339.4 141.4L1337.5 141.7L1335.6 142.1L1333.7 142.5L1331.8 142.8L1329.9 143.2L1328.0 143.6L1326.1 144.0L1324.2 144.3L1322.3 144.7L1320.4 145.1L1318.5 145.5L1316.6 145.9L1314.7 146.3L1312.8 146.7L1310.9 147.1L1309.0 147.5L1307.1 148.0L1305.2 148.4L1303.3 148.8L1301.4 149.2L1299.5 149.7L1297.6 150.1L1295.8 150.6L1293.9 151.0L1292.0 151.5L1290.1 151.9L1288.2 152.4L1286.3 152.8L1284.5 153.3L1282.6 153.8L1280.7 154.3L1278.8 154.7L1276.9 155.2L1275.1 155.7L1273.2 156.2L1271.3 156.7L1269.4 157.2L1267.6 157.7L1265.7 158.2L1263.8 158.7L1261.9 159.2L1260.1 159.8L1258.2 160.3L1256.4 160.9L1254.5 161.4L1252.7 162.0L1250.8 162.5L1248.9 163.1L1247.1 163.6L1245.2 164.2L1243.4 164.8L1241.5 165.3L1239.7 165.9L1237.8 166.4L1236.0 167.0L1234.1 167.5L1232.2 168.1L1230.4 168.6L1228.5 169.1L1226.7 169.6L1224.8 170.1L1222.9 170.6L1221.0 171.1L1219.2 171.6L1217.3 172.1L1215.4 172.6L1213.5 173.1L1211.7 173.5L1209.8 174.0L1207.9 174.5L1206.0 175.0L1204.1 175.5L1202.3 176.0L1200.4 176.5L1198.5 177.0L1196.7 177.5L1194.8 178.0L1192.9 178.6L1191.1 179.1L1189.2 179.7L1187.4 180.3L1185.5 180.9L1183.7 181.5L1181.8 182.1L1180.0 182.7L1178.2 183.3L1176.3 183.9L1174.5 184.6L1172.7 185.2L1170.8 185.9L1169.0 186.5L1167.2 187.2L1165.4 187.8L1163.5 188.5L1161.7 189.2L1159.9 189.8L1158.1 190.5L1156.3 191.2L1154.5 191.9L1152.7 192.6L1150.9 193.3L1149.1 194.0L1147.3 194.8L1145.5 195.5L1143.7 196.3L1141.9 197.1L1140.2 198.0L1138.5 198.9L1136.8 199.9L1135.2 200.9L1133.6 202.0L1132.1 203.3L1130.6 204.5L1129.2 205.9L1127.9 207.2L1126.5 208.6L1125.2 210.1L1124.0 211.6L1122.7 213.1L1121.6 214.6L1120.4 216.2L1119.3 217.8L1118.3 219.4L1117.2 221.0L1116.2 222.7L1115.3 224.4L1114.4 226.1L1113.5 227.8L1112.7 229.6L1111.9 231.4L1111.1 233.1L1110.4 234.9L1109.7 236.7L1109.0 238.5L1108.3 240.4L1107.7 242.2L1107.1 244.0L1106.5 245.9L1105.9 247.7L1105.4 249.6L1104.9 251.5L1104.5 253.4L1104.0 255.3L1103.5 257.1L1103.1 259.0L1102.6 260.9L1102.1 262.8L1101.7 264.7L1101.2 266.6L1100.8 268.4L1100.3 270.3L1099.9 272.2L1099.5 274.1L1099.0 276.0L1098.6 277.9L1098.2 279.8L1097.7 281.7L1097.3 283.6L1096.9 285.5L1096.5 287.4L1096.1 289.3L1095.7 291.1L1095.3 293.0L1094.9 294.9L1094.4 296.8L1094.0 298.7L1093.6 300.6L1093.1 302.5L1092.7 304.4L1092.3 306.3L1091.8 308.2L1091.4 310.1L1091.0 312.0L1090.7 313.9L1090.3 315.8L1090.0 317.7L1089.6 319.6L1089.3 321.5L1088.9 323.4L1088.6 325.3L1088.3 327.2L1088.0 329.1L1087.7 331.1L1087.4 333.0L1087.0 334.9L1086.7 336.8L1086.4 338.7L1086.1 340.6L1085.8 342.5L1085.5 344.5L1085.1 346.4L1084.8 348.3L1084.5 350.2L1084.2 352.1L1083.9 354.0L1083.6 355.9L1083.3 357.9L1083.0 359.8L1082.7 361.7L1082.4 363.6L1082.1 365.5L1081.8 367.4L1081.5 369.4L1081.3 371.3L1081.0 373.2L1080.8 375.1L1080.5 377.0L1080.3 379.0L1080.1 380.9L1079.8 382.8L1079.6 384.8L1079.4 386.7L1079.2 388.6L1079.0 390.5L1078.7 392.5L1078.5 394.4L1078.3 396.3L1078.1 398.2L1077.8 400.2L1077.6 402.1L1077.4 404.0L1077.2 405.9L1076.9 407.9L1076.7 409.8L1076.5 411.7L1076.3 413.6L1076.1 415.6L1075.9 417.5L1075.7 419.4L1075.5 421.4L1075.3 423.3L1075.1 425.2L1074.9 427.1L1074.7 429.1L1074.6 431.0L1074.4 432.9L1074.3 434.9L1074.1 436.8L1074.0 438.7L1073.8 440.7L1073.7 442.6L1073.6 444.5L1073.5 446.5L1073.3 448.4L1073.2 450.3L1073.1 452.3L1073.0 454.2L1072.9 456.1L1072.8 458.1L1072.7 460.0L1072.6 462.0L1072.5 463.9L1072.4 465.8L1072.3 467.8L1072.2 469.7L1072.1 471.6L1072.0 473.6L1072.0 475.5L1071.9 477.5L1071.8 479.4L1071.7 481.3L1071.6 483.3L1071.5 485.2L1071.4 487.1L1071.3 489.1L1071.2 491.0L1071.1 492.9L1070.9 494.9L1070.8 496.8L1070.7 498.8L1070.6 500.7L1070.5 502.6L1070.4 504.6L1070.3 506.5L1070.2 508.4L1070.1 510.4L1070.0 512.3L1069.9 514.2L1069.8 516.2L1069.7 518.1L1069.7 520.1L1069.7 522.0" fill="none" stroke="#3fae62" stroke-width="1.5" stroke-linejoin="round"/>
<path d="M1372.0 139.0L1370.1 139.2L1368.2 139.4L1366.3 139.6L1364.4 139.9L1362.4 140.1L1360.5 140.3L1358.6 140.5L1356.7 140.8L1354.8 141.0L1352.9 141.3L1351.0 141.6L1349.1 141.9L1347.2 142.2L1345.3 142.5L1343.4 142.8L1341.5 143.1L1339.6 143.5L1337.7 143.8L1335.8 144.1L1333.9 144.5L1332.0 144.8L1330.1 145.2L1328.2 145.5L1326.4 145.9L1324.5 146.3L1322.6 146.6L1320.7 147.0L1318.8 147.4L1316.9 147.7L1315.0 148.1L1313.1 148.5L1311.3 148.9L1309.4 149.3L1307.5 149.7L1305.6 150.1L1303.7 150.5L1301.8 150.9L1300.0 151.3L1298.1 151.7L1296.2 152.2L1294.3 152.6L1292.5 153.0L1290.6 153.4L1288.7 153.9L1286.8 154.3L1285.0 154.8L1283.1 155.2L1281.2 155.7L1279.4 156.1L1277.5 156.6L1275.6 157.1L1273.8 157.6L1271.9 158.1L1270.0 158.6L1268.2 159.1L1266.3 159.6L1264.5 160.1L1262.6 160.7L1260.8 161.2L1259.0 161.8L1257.1 162.4L1255.3 163.0L1253.5 163.5L1251.6 164.1L1249.8 164.7L1248.0 165.3L1246.1 165.9L1244.3 166.5L1242.5 167.1L1240.7 167.7L1238.8 168.3L1237.0 168.9L1235.2 169.5L1233.3 170.1L1231.5 170.6L1229.7 171.2L1227.8 171.8L1226.0 172.3L1224.1 172.8L1222.3 173.4L1220.4 173.9L1218.6 174.4L1216.7 174.9L1214.9 175.4L1213.0 175.9L1211.2 176.5L1209.3 177.0L1207.5 177.5L1205.6 178.0L1203.8 178.5L1201.9 179.0L1200.1 179.6L1198.2 180.1L1196.4 180.7L1194.5 181.2L1192.7 181.8L1190.8 182.4L1189.0 183.0L1187.2 183.5L1185.4 184.1L1183.5 184.8L1181.7 185.4L1179.9 186.0L1178.1 186.6L1176.2 187.2L1174.4 187.9L1172.6 188.5L1170.8 189.2L1169.0 189.8L1167.2 190.5L1165.4 191.2L1163.6 191.8L1161.8 192.5L1160.0 193.2L1158.2 193.9L1156.4 194.6L1154.6 195.3L1152.8 196.0L1151.0 196.7L1149.2 197.4L1147.5 198.2L1145.7 199.0L1144.0 199.8L1142.2 200.6L1140.5 201.5L1138.9 202.5L1137.3 203.6L1135.7 204.7L1134.2 205.9L1132.7 207.1L1131.3 208.5L1130.0 209.8L1128.7 211.2L1127.4 212.7L1126.2 214.1L1124.9 215.6L1123.7 217.1L1122.6 218.7L1121.5 220.2L1120.4 221.8L1119.4 223.5L1118.4 225.1L1117.4 226.8L1116.5 228.5L1115.6 230.2L1114.8 231.9L1114.0 233.7L1113.2 235.4L1112.5 237.2L1111.8 239.0L1111.1 240.8L1110.5 242.6L1109.9 244.5L1109.3 246.3L1108.7 248.1L1108.1 249.9L1107.6 251.8L1107.1 253.7L1106.7 255.6L1106.3 257.4L1105.8 259.3L1105.4 261.2L1104.9 263.0L1104.5 264.9L1104.0 266.8L1103.6 268.7L1103.1 270.5L1102.7 272.4L1102.3 274.3L1101.8 276.1L1101.4 278.0L1101.0 279.9L1100.5 281.8L1100.1 283.7L1099.7 285.5L1099.3 287.4L1098.9 289.3L1098.4 291.2L1098.0 293.0L1097.6 294.9L1097.2 296.8L1096.7 298.7L1096.3 300.5L1095.8 302.4L1095.4 304.3L1094.9 306.2L1094.5 308.0L1094.0 309.9L1093.6 311.8L1093.2 313.7L1092.9 315.6L1092.5 317.4L1092.1 319.3L1091.8 321.2L1091.5 323.1L1091.2 325.0L1090.8 326.9L1090.5 328.8L1090.2 330.7L1089.9 332.6L1089.6 334.5L1089.3 336.4L1089.0 338.3L1088.7 340.2L1088.4 342.1L1088.0 344.0L1087.7 345.9L1087.4 347.8L1087.1 349.7L1086.8 351.6L1086.4 353.5L1086.1 355.4L1085.8 357.3L1085.5 359.2L1085.2 361.1L1084.9 363.0L1084.6 364.9L1084.3 366.8L1084.0 368.7L1083.7 370.6L1083.4 372.5L1083.2 374.4L1082.9 376.3L1082.7 378.2L1082.4 380.1L1082.2 382.1L1082.0 384.0L1081.7 385.9L1081.5 387.8L1081.3 389.7L1081.0 391.6L1080.8 393.5L1080.6 395.4L1080.3 397.3L1080.1 399.2L1079.8 401.2L1079.6 403.1L1079.3 405.0L1079.1 406.9L1078.9 408.8L1078.6 410.7L1078.4 412.6L1078.1 414.5L1077.9 416.4L1077.7 418.3L1077.4 420.2L1077.2 422.2L1077.0 424.1L1076.8 426.0L1076.6 427.9L1076.4 429.8L1076.2 431.7L1076.0 433.6L1075.8 435.6L1075.7 437.5L1075.5 439.4L1075.3 441.3L1075.2 443.2L1075.0 445.1L1074.9 447.1L1074.7 449.0L1074.6 450.9L1074.5 452.8L1074.4 454.7L1074.3 456.7L1074.2 458.6L1074.1 460.5L1074.0 462.4L1073.9 464.3L1073.8 466.3L1073.7 468.2L1073.6 470.1L1073.5 472.0L1073.4 474.0L1073.4 475.9L1073.3 477.8L1073.2 479.7L1073.1 481.6L1073.0 483.6L1072.9 485.5L1072.8 487.4L1072.7 489.3L1072.5 491.3L1072.4 493.2L1072.3 495.1L1072.2 497.0L1072.1 498.9L1071.9 500.9L1071.8 502.8L1071.7 504.7L1071.6 506.6L1071.4 508.5L1071.3 510.5L1071.2 512.4L1071.1 514.3L1071.0 516.2L1071.0 518.2L1070.9 520.1L1070.9 522.0" fill="none" stroke="#a67ee0" stroke-width="1.5" stroke-linejoin="round"/>
<path d="M1372.0 140.7L1370.1 140.9L1368.2 141.1L1366.3 141.4L1364.4 141.6L1362.5 141.8L1360.6 142.0L1358.7 142.2L1356.8 142.5L1354.9 142.7L1353.0 143.0L1351.1 143.2L1349.2 143.5L1347.3 143.8L1345.4 144.1L1343.5 144.4L1341.7 144.7L1339.8 145.0L1337.9 145.4L1336.0 145.7L1334.1 146.0L1332.2 146.3L1330.3 146.7L1328.5 147.0L1326.6 147.3L1324.7 147.7L1322.8 148.0L1320.9 148.4L1319.0 148.7L1317.2 149.1L1315.3 149.5L1313.4 149.8L1311.5 150.2L1309.7 150.6L1307.8 151.0L1305.9 151.4L1304.0 151.8L1302.2 152.2L1300.3 152.5L1298.4 152.9L1296.6 153.3L1294.7 153.8L1292.8 154.2L1290.9 154.6L1289.1 155.0L1287.2 155.4L1285.4 155.9L1283.5 156.3L1281.6 156.7L1279.8 157.2L1277.9 157.7L1276.1 158.1L1274.2 158.6L1272.4 159.1L1270.5 159.6L1268.7 160.1L1266.8 160.7L1265.0 161.2L1263.2 161.8L1261.3 162.3L1259.5 162.9L1257.7 163.5L1255.9 164.1L1254.1 164.7L1252.3 165.3L1250.5 166.0L1248.6 166.6L1246.8 167.2L1245.0 167.9L1243.2 168.5L1241.4 169.1L1239.6 169.7L1237.8 170.4L1236.0 171.0L1234.2 171.6L1232.4 172.2L1230.5 172.8L1228.7 173.3L1226.9 173.9L1225.1 174.5L1223.2 175.0L1221.4 175.6L1219.6 176.1L1217.7 176.7L1215.9 177.2L1214.0 177.8L1212.2 178.3L1210.4 178.8L1208.5 179.4L1206.7 179.9L1204.9 180.4L1203.0 181.0L1201.2 181.5L1199.4 182.1L1197.5 182.6L1195.7 183.2L1193.9 183.8L1192.1 184.4L1190.2 185.0L1188.4 185.6L1186.6 186.2L1184.8 186.8L1183.0 187.4L1181.2 188.0L1179.4 188.6L1177.6 189.3L1175.7 189.9L1173.9 190.5L1172.1 191.2L1170.3 191.8L1168.5 192.5L1166.8 193.1L1165.0 193.8L1163.2 194.5L1161.4 195.2L1159.6 195.9L1157.8 196.6L1156.0 197.3L1154.3 198.0L1152.5 198.7L1150.7 199.4L1149.0 200.2L1147.2 201.0L1145.5 201.8L1143.8 202.6L1142.1 203.5L1140.4 204.5L1138.8 205.5L1137.3 206.7L1135.8 207.9L1134.3 209.1L1132.9 210.4L1131.6 211.8L1130.3 213.2L1129.0 214.6L1127.8 216.1L1126.6 217.6L1125.4 219.1L1124.2 220.6L1123.1 222.1L1122.0 223.7L1120.9 225.3L1119.9 226.9L1119.0 228.6L1118.1 230.3L1117.2 231.9L1116.3 233.7L1115.5 235.4L1114.8 237.2L1114.1 238.9L1113.4 240.7L1112.8 242.5L1112.1 244.3L1111.5 246.2L1110.9 248.0L1110.3 249.8L1109.7 251.6L1109.2 253.5L1108.8 255.3L1108.4 257.2L1108.0 259.1L1107.6 260.9L1107.1 262.8L1106.7 264.6L1106.2 266.5L1105.8 268.4L1105.3 270.2L1104.9 272.1L1104.5 274.0L1104.0 275.8L1103.6 277.7L1103.2 279.5L1102.7 281.4L1102.3 283.3L1101.9 285.1L1101.5 287.0L1101.0 288.9L1100.6 290.7L1100.2 292.6L1099.8 294.5L1099.4 296.3L1098.9 298.2L1098.5 300.1L1098.0 301.9L1097.5 303.8L1097.1 305.6L1096.6 307.5L1096.1 309.3L1095.7 311.2L1095.3 313.1L1094.9 314.9L1094.5 316.8L1094.1 318.7L1093.8 320.6L1093.5 322.5L1093.1 324.3L1092.8 326.2L1092.5 328.1L1092.2 330.0L1091.9 331.9L1091.6 333.8L1091.3 335.7L1091.0 337.6L1090.7 339.5L1090.4 341.3L1090.1 343.2L1089.7 345.1L1089.4 347.0L1089.1 348.9L1088.8 350.8L1088.4 352.7L1088.1 354.6L1087.8 356.4L1087.5 358.3L1087.1 360.2L1086.8 362.1L1086.5 364.0L1086.2 365.9L1085.9 367.8L1085.6 369.7L1085.3 371.5L1085.1 373.4L1084.8 375.3L1084.5 377.2L1084.3 379.1L1084.0 381.0L1083.8 382.9L1083.6 384.8L1083.3 386.7L1083.1 388.6L1082.8 390.5L1082.6 392.4L1082.4 394.3L1082.1 396.2L1081.9 398.1L1081.6 400.0L1081.3 401.9L1081.1 403.8L1080.8 405.7L1080.6 407.6L1080.3 409.5L1080.0 411.4L1079.8 413.3L1079.5 415.2L1079.3 417.1L1079.0 419.0L1078.8 420.9L1078.5 422.8L1078.3 424.7L1078.1 426.6L1077.9 428.5L1077.6 430.4L1077.4 432.3L1077.2 434.2L1077.0 436.1L1076.8 438.0L1076.6 439.9L1076.4 441.8L1076.3 443.7L1076.1 445.6L1075.9 447.5L1075.8 449.4L1075.7 451.3L1075.5 453.2L1075.4 455.1L1075.3 457.0L1075.2 459.0L1075.1 460.9L1075.0 462.8L1074.9 464.7L1074.8 466.6L1074.7 468.5L1074.7 470.4L1074.6 472.3L1074.5 474.2L1074.4 476.2L1074.3 478.1L1074.2 480.0L1074.1 481.9L1074.0 483.8L1073.9 485.7L1073.8 487.6L1073.7 489.5L1073.6 491.4L1073.5 493.4L1073.3 495.3L1073.2 497.2L1073.1 499.1L1072.9 501.0L1072.8 502.9L1072.7 504.8L1072.5 506.7L1072.4 508.6L1072.3 510.5L1072.1 512.4L1072.0 514.4L1071.9 516.3L1071.9 518.2L1071.8 520.1L1071.8 522.0" fill="none" stroke="#c49c2e" stroke-width="1.5" stroke-linejoin="round"/>
<path d="M1369.4 133.0L1368.0 133.5L1366.6 134.1L1365.2 134.6L1363.8 135.2L1362.3 135.7L1360.9 136.2L1359.5 136.8L1358.1 137.3L1356.7 137.8L1355.3 138.4L1353.9 138.9L1352.4 139.4L1351.0 140.0L1349.6 140.5L1348.2 141.1L1346.8 141.6L1345.4 142.1L1344.0 142.7L1342.6 143.2L1341.1 143.8L1339.7 144.3L1338.3 144.9L1336.9 145.4L1335.5 146.0L1334.1 146.5L1332.7 147.1L1331.3 147.7L1329.9 148.2L1328.5 148.8L1327.1 149.4L1325.7 150.0L1324.3 150.6L1322.9 151.2L1321.6 151.8L1320.2 152.4L1318.8 153.1L1317.5 153.7L1316.1 154.4L1314.8 155.2L1313.5 155.9L1312.2 156.7L1310.9 157.5L1309.7 158.4L1308.5 159.3L1307.3 160.2L1306.1 161.1L1304.9 162.1L1303.7 163.0L1302.6 164.0L1301.3 164.9L1300.1 165.8L1298.9 166.7L1297.7 167.6L1296.5 168.5L1295.3 169.4L1294.1 170.4L1292.9 171.3L1291.8 172.3L1290.6 173.3L1289.5 174.2L1288.3 175.2L1287.2 176.2L1286.1 177.2L1284.9 178.2L1283.8 179.2L1282.7 180.3L1281.7 181.4L1280.6 182.5L1279.6 183.6L1278.7 184.8L1277.8 186.0L1277.0 187.3L1276.2 188.5L1275.4 189.8L1274.6 191.1L1273.9 192.5L1273.1 193.8L1272.4 195.1L1271.7 196.4L1271.0 197.8L1270.2 199.1L1269.5 200.4L1268.8 201.8L1268.1 203.1L1267.5 204.5L1266.8 205.8L1266.1 207.2L1265.5 208.5L1264.9 209.9L1264.2 211.3L1263.6 212.7L1263.0 214.1L1262.5 215.5L1261.9 216.9L1261.4 218.3L1260.8 219.7L1260.3 221.1L1259.7 222.5L1259.2 223.9L1258.6 225.3L1258.0 226.7L1257.4 228.1L1256.9 229.5L1256.3 230.9L1255.7 232.3L1255.2 233.7L1254.6 235.1L1254.1 236.6L1253.6 238.0L1253.2 239.4L1252.7 240.9L1252.3 242.3L1251.8 243.8L1251.4 245.2L1251.0 246.7L1250.6 248.1L1250.2 249.6L1249.8 251.0L1249.3 252.5L1249.0 253.9L1248.6 255.4L1248.3 256.9L1247.9 258.4L1247.6 259.8L1247.3 261.3L1247.0 262.8L1246.7 264.3L1246.5 265.8L1246.2 267.3L1245.9 268.7L1245.6 270.2L1245.3 271.7L1245.0 273.2L1244.7 274.7L1244.5 276.2L1244.2 277.7L1243.9 279.1L1243.6 280.6L1243.3 282.1L1243.0 283.6L1242.8 285.1L1242.5 286.6L1242.2 288.0L1241.9 289.5L1241.6 291.0L1241.3 292.5L1241.0 294.0L1240.7 295.5L1240.4 296.9L1240.1 298.4L1239.8 299.9L1239.5 301.4L1239.2 302.9L1238.9 304.3L1238.6 305.8L1238.3 307.3L1238.0 308.8L1237.7 310.3L1237.4 311.7L1237.1 313.2L1236.8 314.7L1236.5 316.2L1236.2 317.7L1236.0 319.2L1235.7 320.7L1235.4 322.2L1235.2 323.6L1234.9 325.1L1234.7 326.6L1234.4 328.1L1234.2 329.6L1233.9 331.1L1233.7 332.6L1233.5 334.1L1233.2 335.6L1233.0 337.1L1232.8 338.6L1232.5 340.1L1232.3 341.6L1232.1 343.0L1231.9 344.5L1231.6 346.0L1231.4 347.5L1231.2 349.0L1231.0 350.5L1230.8 352.0L1230.6 353.5L1230.4 355.0L1230.2 356.5L1230.0 358.0L1229.8 359.5L1229.6 361.0L1229.4 362.5L1229.2 364.0L1229.0 365.5L1228.8 367.0L1228.7 368.5L1228.5 370.0L1228.2 371.5L1228.0 373.0L1227.8 374.5L1227.6 376.0L1227.4 377.5L1227.2 379.0L1227.0 380.5L1226.8 382.0L1226.6 383.5L1226.4 385.0L1226.2 386.5L1226.0 388.0L1225.8 389.5L1225.6 391.0L1225.4 392.5L1225.2 394.0L1225.0 395.5L1224.8 397.0L1224.6 398.5L1224.5 400.0L1224.3 401.5L1224.1 403.0L1224.0 404.5L1223.8 406.0L1223.7 407.5L1223.5 409.0L1223.4 410.5L1223.2 412.0L1223.1 413.5L1223.0 415.0L1222.8 416.5L1222.7 418.0L1222.5 419.5L1222.4 421.0L1222.2 422.5L1222.1 424.1L1221.9 425.6L1221.8 427.1L1221.6 428.6L1221.5 430.1L1221.4 431.6L1221.2 433.1L1221.1 434.6L1220.9 436.1L1220.8 437.6L1220.6 439.1L1220.5 440.6L1220.3 442.1L1220.2 443.6L1220.0 445.1L1219.9 446.6L1219.8 448.1L1219.6 449.6L1219.5 451.1L1219.3 452.6L1219.1 454.1L1219.0 455.6L1218.8 457.1L1218.6 458.7L1218.5 460.2L1218.3 461.7L1218.1 463.2L1218.0 464.7L1217.8 466.2L1217.7 467.7L1217.5 469.2L1217.4 470.7L1217.2 472.2L1217.1 473.7L1217.0 475.2L1216.9 476.7L1216.8 478.2L1216.7 479.7L1216.6 481.2L1216.5 482.7L1216.4 484.2L1216.3 485.8L1216.2 487.3L1216.1 488.8L1216.0 490.3L1216.0 491.8L1215.9 493.3L1215.8 494.8L1215.8 496.3L1215.7 497.8L1215.6 499.3L1215.5 500.9L1215.5 502.4L1215.4 503.9L1215.3 505.4L1215.3 506.9L1215.2 508.4L1215.1 509.9L1215.1 511.4L1215.0 512.9L1214.9 514.4L1214.9 516.0L1214.8 517.5L1214.8 519.0L1214.8 520.5L1214.8 522.0" fill="none" stroke="#a67ee0" stroke-width="1.5" stroke-linejoin="round"/>
<path d="M1369.4 133.1L1368.0 133.7L1366.6 134.2L1365.2 134.8L1363.8 135.3L1362.4 135.9L1361.0 136.4L1359.6 136.9L1358.2 137.5L1356.8 138.0L1355.3 138.6L1353.9 139.1L1352.5 139.6L1351.1 140.2L1349.7 140.7L1348.3 141.3L1346.9 141.8L1345.5 142.4L1344.1 142.9L1342.7 143.5L1341.3 144.0L1339.9 144.6L1338.5 145.1L1337.1 145.7L1335.7 146.3L1334.3 146.8L1332.9 147.4L1331.5 148.0L1330.1 148.5L1328.7 149.1L1327.3 149.7L1326.0 150.3L1324.6 150.9L1323.2 151.5L1321.8 152.1L1320.5 152.8L1319.1 153.4L1317.8 154.1L1316.4 154.8L1315.1 155.6L1313.8 156.3L1312.5 157.1L1311.3 157.9L1310.0 158.8L1308.8 159.7L1307.6 160.6L1306.4 161.5L1305.3 162.5L1304.1 163.4L1302.9 164.4L1301.8 165.3L1300.6 166.2L1299.4 167.2L1298.2 168.1L1297.0 169.0L1295.8 170.0L1294.7 170.9L1293.5 171.9L1292.3 172.8L1291.2 173.8L1290.1 174.8L1289.0 175.8L1287.9 176.8L1286.7 177.9L1285.6 178.9L1284.6 179.9L1283.5 181.0L1282.5 182.1L1281.4 183.2L1280.5 184.4L1279.6 185.5L1278.7 186.8L1277.9 188.0L1277.1 189.3L1276.3 190.6L1275.5 191.9L1274.8 193.2L1274.1 194.5L1273.4 195.9L1272.7 197.2L1271.9 198.5L1271.2 199.9L1270.6 201.2L1269.9 202.5L1269.2 203.9L1268.5 205.3L1267.9 206.6L1267.3 208.0L1266.6 209.3L1266.0 210.7L1265.4 212.1L1264.8 213.5L1264.3 214.9L1263.7 216.3L1263.2 217.7L1262.6 219.1L1262.1 220.5L1261.5 221.9L1261.0 223.3L1260.5 224.7L1259.9 226.1L1259.3 227.5L1258.8 228.9L1258.2 230.3L1257.6 231.7L1257.1 233.1L1256.5 234.5L1256.0 235.9L1255.5 237.3L1255.0 238.8L1254.5 240.2L1254.1 241.6L1253.6 243.1L1253.2 244.5L1252.8 246.0L1252.4 247.4L1252.0 248.9L1251.6 250.3L1251.2 251.8L1250.7 253.2L1250.3 254.7L1250.0 256.1L1249.6 257.6L1249.3 259.1L1249.0 260.6L1248.7 262.0L1248.4 263.5L1248.1 265.0L1247.8 266.5L1247.5 267.9L1247.2 269.4L1246.9 270.9L1246.6 272.4L1246.4 273.9L1246.1 275.3L1245.8 276.8L1245.5 278.3L1245.2 279.8L1244.9 281.3L1244.6 282.7L1244.4 284.2L1244.1 285.7L1243.8 287.2L1243.5 288.7L1243.2 290.1L1242.9 291.6L1242.6 293.1L1242.3 294.6L1242.0 296.0L1241.7 297.5L1241.4 299.0L1241.1 300.5L1240.8 302.0L1240.5 303.4L1240.2 304.9L1239.9 306.4L1239.6 307.9L1239.3 309.3L1239.0 310.8L1238.7 312.3L1238.4 313.8L1238.2 315.3L1237.9 316.7L1237.6 318.2L1237.4 319.7L1237.1 321.2L1236.9 322.7L1236.6 324.2L1236.4 325.7L1236.2 327.1L1235.9 328.6L1235.7 330.1L1235.5 331.6L1235.2 333.1L1235.0 334.6L1234.8 336.1L1234.6 337.6L1234.3 339.1L1234.1 340.6L1233.9 342.0L1233.7 343.5L1233.5 345.0L1233.3 346.5L1233.1 348.0L1232.9 349.5L1232.7 351.0L1232.5 352.5L1232.3 354.0L1232.1 355.5L1231.9 357.0L1231.7 358.5L1231.5 360.0L1231.4 361.5L1231.2 363.0L1231.0 364.5L1230.8 366.0L1230.6 367.5L1230.4 368.9L1230.2 370.4L1230.0 371.9L1229.8 373.4L1229.6 374.9L1229.4 376.4L1229.2 377.9L1229.0 379.4L1228.8 380.9L1228.6 382.4L1228.4 383.9L1228.2 385.4L1228.0 386.9L1227.8 388.4L1227.6 389.9L1227.4 391.4L1227.2 392.9L1227.0 394.3L1226.8 395.8L1226.6 397.3L1226.5 398.8L1226.3 400.3L1226.1 401.8L1226.0 403.3L1225.8 404.8L1225.6 406.3L1225.5 407.8L1225.3 409.3L1225.2 410.8L1225.0 412.3L1224.9 413.8L1224.7 415.3L1224.6 416.8L1224.4 418.3L1224.3 419.8L1224.1 421.3L1224.0 422.8L1223.8 424.3L1223.7 425.8L1223.5 427.3L1223.4 428.8L1223.2 430.3L1223.1 431.8L1223.0 433.3L1222.8 434.8L1222.7 436.3L1222.5 437.8L1222.4 439.3L1222.2 440.8L1222.1 442.3L1221.9 443.8L1221.8 445.3L1221.7 446.8L1221.5 448.3L1221.4 449.8L1221.2 451.3L1221.1 452.8L1220.9 454.3L1220.8 455.8L1220.6 457.3L1220.4 458.8L1220.3 460.3L1220.1 461.8L1220.0 463.3L1219.8 464.8L1219.6 466.3L1219.5 467.8L1219.3 469.3L1219.2 470.8L1219.1 472.3L1219.0 473.8L1218.8 475.3L1218.7 476.8L1218.6 478.3L1218.5 479.8L1218.4 481.3L1218.3 482.8L1218.3 484.4L1218.2 485.9L1218.1 487.4L1218.0 488.9L1217.9 490.4L1217.9 491.9L1217.8 493.4L1217.7 494.9L1217.7 496.4L1217.6 497.9L1217.5 499.4L1217.5 500.9L1217.4 502.4L1217.3 503.9L1217.3 505.4L1217.2 506.9L1217.1 508.4L1217.1 509.9L1217.0 511.5L1217.0 513.0L1216.9 514.5L1216.8 516.0L1216.8 517.5L1216.8 519.0L1216.8 520.5L1216.8 522.0" fill="none" stroke="#c49c2e" stroke-width="1.5" stroke-linejoin="round"/>
<path d="M1369.4 133.2L1368.0 133.7L1366.6 134.3L1365.2 134.8L1363.8 135.4L1362.4 135.9L1361.0 136.5L1359.6 137.0L1358.2 137.6L1356.8 138.1L1355.4 138.7L1354.0 139.2L1352.6 139.8L1351.2 140.3L1349.8 140.8L1348.4 141.4L1347.0 141.9L1345.6 142.5L1344.2 143.1L1342.8 143.6L1341.4 144.2L1340.0 144.7L1338.6 145.3L1337.2 145.8L1335.8 146.4L1334.4 147.0L1333.0 147.6L1331.6 148.1L1330.2 148.7L1328.8 149.3L1327.5 149.9L1326.1 150.5L1324.7 151.1L1323.3 151.7L1322.0 152.3L1320.6 153.0L1319.3 153.6L1317.9 154.3L1316.6 155.0L1315.3 155.7L1314.0 156.5L1312.7 157.3L1311.4 158.1L1310.2 159.0L1309.0 159.9L1307.8 160.8L1306.6 161.7L1305.5 162.7L1304.3 163.7L1303.1 164.6L1302.0 165.6L1300.8 166.5L1299.6 167.4L1298.4 168.3L1297.3 169.3L1296.1 170.2L1294.9 171.2L1293.8 172.1L1292.6 173.1L1291.5 174.1L1290.4 175.1L1289.3 176.1L1288.2 177.2L1287.1 178.2L1286.0 179.2L1284.9 180.3L1283.9 181.3L1282.9 182.4L1281.9 183.6L1280.9 184.7L1280.0 185.9L1279.1 187.1L1278.3 188.4L1277.5 189.7L1276.7 191.0L1276.0 192.3L1275.3 193.6L1274.5 194.9L1273.8 196.3L1273.1 197.6L1272.4 198.9L1271.7 200.2L1271.1 201.6L1270.4 202.9L1269.7 204.3L1269.1 205.6L1268.5 207.0L1267.8 208.4L1267.2 209.7L1266.6 211.1L1266.0 212.5L1265.4 213.9L1264.9 215.3L1264.3 216.7L1263.8 218.1L1263.3 219.5L1262.7 220.9L1262.2 222.3L1261.6 223.7L1261.1 225.1L1260.5 226.5L1260.0 227.9L1259.4 229.3L1258.9 230.7L1258.3 232.1L1257.8 233.5L1257.2 234.9L1256.7 236.3L1256.2 237.7L1255.7 239.2L1255.2 240.6L1254.8 242.0L1254.3 243.5L1253.9 244.9L1253.5 246.4L1253.1 247.8L1252.7 249.2L1252.3 250.7L1251.8 252.1L1251.4 253.6L1251.0 255.0L1250.7 256.5L1250.3 258.0L1250.0 259.4L1249.7 260.9L1249.4 262.4L1249.1 263.9L1248.8 265.3L1248.5 266.8L1248.2 268.3L1247.9 269.8L1247.6 271.2L1247.3 272.7L1247.0 274.2L1246.7 275.7L1246.4 277.1L1246.2 278.6L1245.9 280.1L1245.6 281.6L1245.3 283.1L1245.0 284.5L1244.7 286.0L1244.4 287.5L1244.1 289.0L1243.8 290.4L1243.5 291.9L1243.3 293.4L1243.0 294.9L1242.7 296.3L1242.3 297.8L1242.0 299.3L1241.7 300.8L1241.4 302.2L1241.1 303.7L1240.8 305.2L1240.5 306.7L1240.3 308.1L1240.0 309.6L1239.7 311.1L1239.4 312.6L1239.1 314.1L1238.9 315.5L1238.6 317.0L1238.3 318.5L1238.1 320.0L1237.8 321.5L1237.6 323.0L1237.4 324.4L1237.1 325.9L1236.9 327.4L1236.7 328.9L1236.4 330.4L1236.2 331.9L1236.0 333.4L1235.8 334.9L1235.6 336.3L1235.3 337.8L1235.1 339.3L1234.9 340.8L1234.7 342.3L1234.5 343.8L1234.3 345.3L1234.1 346.8L1233.9 348.3L1233.7 349.8L1233.5 351.2L1233.3 352.7L1233.1 354.2L1232.9 355.7L1232.8 357.2L1232.6 358.7L1232.4 360.2L1232.2 361.7L1232.0 363.2L1231.9 364.7L1231.7 366.2L1231.5 367.7L1231.3 369.2L1231.1 370.7L1230.9 372.2L1230.7 373.6L1230.5 375.1L1230.3 376.6L1230.1 378.1L1229.9 379.6L1229.7 381.1L1229.5 382.6L1229.3 384.1L1229.1 385.6L1228.9 387.1L1228.7 388.6L1228.5 390.1L1228.3 391.5L1228.1 393.0L1227.9 394.5L1227.7 396.0L1227.6 397.5L1227.4 399.0L1227.2 400.5L1227.0 402.0L1226.9 403.5L1226.7 405.0L1226.6 406.5L1226.4 408.0L1226.2 409.5L1226.1 411.0L1225.9 412.5L1225.8 414.0L1225.6 415.5L1225.5 417.0L1225.3 418.5L1225.2 420.0L1225.0 421.5L1224.9 423.0L1224.7 424.5L1224.6 426.0L1224.4 427.5L1224.3 429.0L1224.1 430.5L1224.0 431.9L1223.8 433.4L1223.7 434.9L1223.5 436.4L1223.4 437.9L1223.3 439.4L1223.1 440.9L1223.0 442.4L1222.8 443.9L1222.7 445.4L1222.5 446.9L1222.4 448.4L1222.2 449.9L1222.1 451.4L1222.0 452.9L1221.8 454.4L1221.6 455.9L1221.5 457.4L1221.3 458.9L1221.2 460.4L1221.0 461.9L1220.9 463.4L1220.7 464.9L1220.6 466.4L1220.4 467.9L1220.3 469.4L1220.1 470.9L1220.0 472.4L1219.9 473.9L1219.8 475.4L1219.7 476.9L1219.6 478.4L1219.5 479.9L1219.4 481.4L1219.3 482.9L1219.2 484.4L1219.1 485.9L1219.0 487.4L1219.0 488.9L1218.9 490.4L1218.8 491.9L1218.7 493.4L1218.7 494.9L1218.6 496.4L1218.5 497.9L1218.5 499.4L1218.4 500.9L1218.3 502.4L1218.3 503.9L1218.2 505.5L1218.2 507.0L1218.1 508.5L1218.0 510.0L1218.0 511.5L1217.9 513.0L1217.9 514.5L1217.8 516.0L1217.8 517.5L1217.8 519.0L1217.7 520.5L1217.8 522.0" fill="none" stroke="#3fae62" stroke-width="1.5" stroke-linejoin="round"/>
<path d="M1369.4 133.4L1368.0 134.0L1366.6 134.6L1365.2 135.1L1363.9 135.7L1362.5 136.2L1361.1 136.8L1359.7 137.4L1358.3 137.9L1356.9 138.5L1355.5 139.0L1354.2 139.6L1352.8 140.2L1351.4 140.7L1350.0 141.3L1348.6 141.9L1347.2 142.4L1345.8 143.0L1344.5 143.5L1343.1 144.1L1341.7 144.7L1340.3 145.3L1338.9 145.8L1337.5 146.4L1336.2 147.0L1334.8 147.6L1333.4 148.2L1332.0 148.8L1330.7 149.3L1329.3 149.9L1327.9 150.5L1326.6 151.2L1325.2 151.8L1323.8 152.4L1322.5 153.0L1321.1 153.7L1319.8 154.4L1318.5 155.1L1317.2 155.8L1315.9 156.5L1314.6 157.3L1313.3 158.1L1312.1 158.9L1310.9 159.8L1309.7 160.7L1308.5 161.6L1307.3 162.5L1306.2 163.5L1305.1 164.5L1303.9 165.5L1302.8 166.4L1301.7 167.4L1300.5 168.4L1299.4 169.3L1298.3 170.3L1297.1 171.3L1296.0 172.3L1294.9 173.2L1293.8 174.2L1292.7 175.3L1291.6 176.3L1290.5 177.3L1289.5 178.4L1288.4 179.5L1287.4 180.5L1286.4 181.6L1285.4 182.7L1284.4 183.9L1283.5 185.0L1282.6 186.2L1281.7 187.4L1280.9 188.7L1280.1 189.9L1279.3 191.2L1278.6 192.5L1277.8 193.8L1277.1 195.1L1276.4 196.4L1275.7 197.8L1275.1 199.1L1274.4 200.4L1273.7 201.8L1273.1 203.1L1272.5 204.5L1271.9 205.9L1271.3 207.2L1270.7 208.6L1270.1 210.0L1269.5 211.3L1269.0 212.7L1268.4 214.1L1267.9 215.5L1267.3 216.9L1266.8 218.3L1266.3 219.7L1265.8 221.1L1265.2 222.5L1264.7 223.9L1264.2 225.3L1263.7 226.7L1263.1 228.1L1262.6 229.5L1262.1 230.9L1261.5 232.3L1261.0 233.7L1260.5 235.1L1259.9 236.5L1259.4 237.9L1259.0 239.3L1258.5 240.7L1258.0 242.2L1257.5 243.6L1257.1 245.0L1256.7 246.4L1256.2 247.9L1255.8 249.3L1255.4 250.8L1255.0 252.2L1254.6 253.6L1254.2 255.1L1253.8 256.5L1253.5 258.0L1253.1 259.4L1252.8 260.9L1252.5 262.4L1252.1 263.8L1251.8 265.3L1251.5 266.7L1251.2 268.2L1250.9 269.7L1250.6 271.1L1250.3 272.6L1250.0 274.1L1249.7 275.5L1249.4 277.0L1249.1 278.5L1248.8 279.9L1248.5 281.4L1248.2 282.9L1247.9 284.3L1247.6 285.8L1247.3 287.3L1247.0 288.7L1246.7 290.2L1246.4 291.7L1246.1 293.1L1245.8 294.6L1245.6 296.1L1245.3 297.5L1245.0 299.0L1244.7 300.5L1244.4 301.9L1244.1 303.4L1243.8 304.9L1243.5 306.3L1243.2 307.8L1242.9 309.3L1242.6 310.7L1242.4 312.2L1242.1 313.7L1241.9 315.2L1241.6 316.6L1241.4 318.1L1241.1 319.6L1240.9 321.1L1240.7 322.5L1240.5 324.0L1240.3 325.5L1240.0 327.0L1239.8 328.5L1239.6 329.9L1239.4 331.4L1239.2 332.9L1239.0 334.4L1238.8 335.9L1238.7 337.4L1238.5 338.8L1238.3 340.3L1238.1 341.8L1237.9 343.3L1237.7 344.8L1237.5 346.3L1237.3 347.7L1237.2 349.2L1237.0 350.7L1236.8 352.2L1236.7 353.7L1236.5 355.2L1236.3 356.7L1236.2 358.1L1236.0 359.6L1235.8 361.1L1235.7 362.6L1235.5 364.1L1235.3 365.6L1235.2 367.1L1235.0 368.6L1234.8 370.0L1234.6 371.5L1234.5 373.0L1234.3 374.5L1234.1 376.0L1233.9 377.5L1233.7 378.9L1233.5 380.4L1233.3 381.9L1233.1 383.4L1232.9 384.9L1232.7 386.4L1232.5 387.8L1232.4 389.3L1232.2 390.8L1232.0 392.3L1231.8 393.8L1231.6 395.3L1231.4 396.8L1231.2 398.2L1231.1 399.7L1230.9 401.2L1230.7 402.7L1230.5 404.2L1230.3 405.7L1230.2 407.2L1230.0 408.6L1229.8 410.1L1229.7 411.6L1229.5 413.1L1229.3 414.6L1229.2 416.1L1229.0 417.6L1228.9 419.1L1228.7 420.5L1228.5 422.0L1228.4 423.5L1228.2 425.0L1228.1 426.5L1227.9 428.0L1227.8 429.5L1227.6 431.0L1227.5 432.4L1227.3 433.9L1227.2 435.4L1227.0 436.9L1226.9 438.4L1226.8 439.9L1226.6 441.4L1226.5 442.9L1226.3 444.4L1226.2 445.9L1226.1 447.3L1225.9 448.8L1225.8 450.3L1225.6 451.8L1225.5 453.3L1225.3 454.8L1225.2 456.3L1225.1 457.8L1224.9 459.3L1224.8 460.7L1224.6 462.2L1224.5 463.7L1224.3 465.2L1224.2 466.7L1224.1 468.2L1223.9 469.7L1223.8 471.2L1223.7 472.7L1223.6 474.2L1223.5 475.7L1223.4 477.1L1223.3 478.6L1223.2 480.1L1223.1 481.6L1223.0 483.1L1222.9 484.6L1222.9 486.1L1222.8 487.6L1222.7 489.1L1222.7 490.6L1222.6 492.1L1222.5 493.6L1222.5 495.1L1222.4 496.6L1222.4 498.1L1222.3 499.6L1222.2 501.1L1222.2 502.6L1222.1 504.1L1222.1 505.5L1222.0 507.0L1222.0 508.5L1221.9 510.0L1221.9 511.5L1221.8 513.0L1221.8 514.5L1221.7 516.0L1221.7 517.5L1221.7 519.0L1221.7 520.5L1221.7 522.0" fill="none" stroke="#3a66dd" stroke-width="1.5" stroke-linejoin="round"/>
<path d="M1369.6 132.7L1367.5 133.7L1366.7 135.8L1364.9 135.7L1363.5 136.5L1362.4 138.1L1360.5 137.7L1359.5 139.5L1357.9 139.8L1356.2 140.0L1354.1 139.1L1353.1 140.8L1351.4 141.0L1350.1 140.0L1349.1 143.7L1347.7 144.7L1345.4 143.4L1344.4 145.2L1342.8 147.0L1341.0 145.5L1340.4 145.3L1338.4 147.5L1336.8 148.0L1335.0 147.8L1334.0 149.5L1332.3 140.0L1331.1 150.9L1329.2 150.7L1328.0 154.3L1326.9 153.4L1325.6 154.3L1324.1 155.0L1322.6 155.5L1321.1 156.1L1320.1 167.4L1318.4 157.8L1317.3 159.1L1315.5 159.4L1314.8 159.1L1313.3 161.7L1311.1 161.5L1309.9 162.6L1308.7 163.8L1308.0 165.3L1306.2 165.8L1305.8 167.8L1304.3 168.5L1302.8 163.6L1302.1 170.9L1300.2 170.1L1299.4 172.7L1299.0 174.6L1297.3 175.1L1296.7 176.9L1295.6 178.0L1294.7 179.3L1293.3 180.2L1292.0 181.3L1292.7 183.8L1289.8 183.6L1289.7 185.6L1288.9 187.0L1286.8 187.5L1287.3 189.8L1285.3 190.4L1284.3 191.7L1284.7 193.8L1283.9 195.2L1282.4 196.2L1281.5 197.6L1281.4 199.3L1280.9 200.8L1279.2 201.8L1278.8 203.4L1278.1 204.9L1277.7 206.4L1277.1 207.9L1276.5 209.4L1275.4 210.7L1276.6 212.9L1274.6 213.9L1273.9 215.4L1274.2 217.2L1272.6 218.3L1273.5 220.3L1274.1 222.2L1271.3 223.0L1271.2 220.9L1270.5 226.1L1269.0 227.3L1269.0 229.0L1270.2 231.1L1269.5 232.6L1267.0 233.4L1268.6 235.7L1268.0 237.2L1267.7 238.8L1266.2 239.9L1265.9 241.6L1265.6 244.0L1264.6 244.5L1263.9 246.0L1263.2 247.4L1262.5 245.1L1262.2 250.5L1262.1 252.2L1261.7 253.7L1261.1 255.3L1260.6 256.8L1261.3 265.4L1260.1 260.0L1258.8 261.3L1259.8 263.2L1257.6 264.3L1256.8 265.8L1258.8 268.0L1257.5 264.9L1258.5 271.2L1258.3 272.8L1256.1 273.9L1256.0 275.6L1255.4 277.1L1255.5 278.8L1254.7 280.2L1255.2 282.0L1255.0 283.6L1254.2 285.1L1253.6 286.6L1254.3 288.4L1253.3 289.8L1253.5 291.0L1251.7 292.8L1251.3 294.3L1252.5 296.2L1251.5 299.5L1251.1 299.2L1251.0 300.8L1250.5 302.4L1249.1 303.8L1250.5 307.3L1249.1 307.1L1250.7 309.0L1248.5 310.2L1248.7 311.9L1249.9 310.9L1247.6 315.0L1248.4 316.7L1247.8 318.3L1246.8 319.8L1247.1 321.4L1247.3 323.1L1246.7 324.6L1246.3 326.2L1246.6 327.7L1245.4 329.4L1247.1 331.2L1246.2 329.7L1247.2 332.2L1246.4 328.7L1245.5 337.5L1246.6 339.2L1246.2 340.9L1245.3 342.3L1246.7 344.1L1245.0 345.5L1244.8 347.1L1243.8 348.7L1244.3 350.3L1244.8 352.0L1245.1 359.5L1244.8 355.2L1243.7 359.9L1242.9 358.3L1244.6 360.0L1242.9 361.5L1243.0 363.1L1244.0 364.8L1243.6 366.4L1242.8 368.0L1241.8 369.5L1242.2 371.1L1243.0 372.8L1243.2 374.5L1242.4 376.0L1242.8 377.7L1241.9 379.2L1241.2 380.7L1242.0 382.5L1241.5 384.0L1241.9 385.7L1240.7 387.2L1239.7 388.7L1241.0 390.5L1240.7 392.0L1239.7 385.7L1239.9 395.2L1239.3 396.7L1239.2 398.4L1240.1 400.1L1240.2 401.7L1238.6 403.1L1238.7 404.8L1238.6 406.4L1238.1 407.9L1238.6 409.6L1237.6 411.1L1238.6 412.9L1235.8 425.2L1237.3 416.0L1236.6 417.5L1237.2 419.2L1237.3 420.8L1237.4 422.5L1235.5 423.9L1236.1 423.4L1235.5 427.1L1235.8 428.8L1235.1 430.3L1235.6 432.0L1235.6 433.6L1235.3 435.2L1235.0 436.8L1235.3 438.4L1235.3 440.0L1234.6 452.2L1233.6 443.1L1235.7 444.9L1233.5 446.4L1234.2 453.0L1234.1 449.6L1233.4 451.2L1233.2 452.8L1232.8 455.4L1234.8 456.2L1232.9 457.6L1233.6 459.3L1232.9 460.9L1233.3 462.5L1231.6 464.0L1233.1 465.7L1232.5 467.3L1232.1 468.9L1233.1 470.6L1231.6 472.1L1232.4 473.7L1232.4 475.3L1233.0 477.0L1232.3 478.6L1231.8 480.1L1232.0 481.8L1230.6 483.3L1231.8 485.0L1230.3 486.5L1229.4 488.1L1231.8 489.8L1231.3 491.4L1231.5 493.0L1230.1 494.6L1231.7 516.5L1230.3 497.8L1230.6 495.8L1230.4 501.0L1231.7 502.7L1230.1 499.6L1229.8 505.9L1232.3 507.5L1231.0 509.1L1229.3 510.7L1230.4 512.3L1231.2 517.5L1230.8 515.6L1230.5 517.2L1231.1 521.1L1231.0 520.4L1230.6 522.0" fill="none" stroke="#e8333a" stroke-width="1.6" stroke-linejoin="round"/>
<path d="M1369.6 132.3L1367.3 133.6L1366.9 136.5L1364.4 134.9L1363.0 135.9L1362.3 137.9L1360.7 138.4L1358.9 138.2L1357.8 139.8L1356.0 139.8L1354.7 140.7L1353.7 142.4L1351.9 142.4L1350.5 143.1L1348.4 142.4L1347.0 143.3L1346.4 145.7L1344.9 146.4L1343.4 146.9L1340.9 145.4L1340.0 149.9L1339.2 149.3L1337.5 149.4L1335.7 149.5L1334.1 149.8L1331.8 148.8L1331.2 151.2L1330.6 151.5L1328.8 153.6L1326.2 152.0L1324.9 153.1L1324.6 156.0L1322.5 155.5L1320.5 155.2L1319.9 157.4L1318.5 163.9L1316.8 158.5L1315.7 157.2L1314.3 160.7L1313.9 162.8L1311.9 162.9L1309.8 162.9L1309.8 175.1L1308.2 166.0L1307.5 167.6L1306.7 168.2L1306.4 170.9L1302.8 169.8L1303.9 173.1L1300.8 172.3L1302.0 175.7L1301.7 177.7L1299.2 177.4L1296.4 177.1L1297.9 180.5L1295.8 171.1L1295.8 182.8L1292.6 182.4L1293.4 184.9L1291.1 185.3L1290.7 187.0L1289.7 188.2L1288.2 189.2L1287.2 190.5L1286.5 191.9L1287.5 194.4L1286.4 195.6L1285.6 194.0L1283.5 197.7L1283.6 199.6L1284.3 198.8L1282.0 202.3L1283.3 204.7L1280.3 205.1L1281.5 207.3L1277.8 207.7L1278.9 209.8L1278.5 211.3L1278.5 213.0L1276.7 214.2L1278.7 216.5L1275.9 221.4L1276.0 219.0L1273.8 220.0L1277.5 222.9L1275.0 223.8L1275.5 225.6L1274.7 227.0L1272.1 227.9L1272.7 229.8L1271.6 231.1L1272.2 233.0L1271.3 234.4L1271.6 236.2L1270.4 237.5L1268.6 238.6L1267.9 240.0L1269.0 242.1L1269.2 243.8L1267.8 245.1L1267.5 246.7L1268.2 248.6L1265.2 249.3L1267.9 239.4L1265.5 253.2L1263.9 254.0L1264.2 255.7L1264.2 257.4L1263.7 258.9L1265.2 261.0L1262.9 262.0L1263.4 263.8L1262.2 265.2L1262.0 266.8L1261.3 268.3L1262.5 270.2L1258.1 270.8L1258.8 272.6L1259.9 274.6L1260.2 276.3L1258.5 277.5L1258.1 279.1L1258.6 280.8L1258.0 282.4L1257.6 283.9L1258.4 285.3L1254.9 286.6L1257.3 288.8L1256.0 288.4L1256.0 291.8L1252.2 292.6L1255.4 295.0L1252.8 296.0L1252.8 297.7L1254.4 299.7L1252.4 300.9L1254.5 303.0L1254.5 304.6L1252.7 305.9L1253.3 307.6L1252.9 309.2L1252.7 310.8L1253.4 312.5L1251.8 313.9L1249.9 315.2L1250.4 316.9L1251.8 318.7L1250.7 323.5L1250.9 321.9L1249.5 323.3L1248.6 324.9L1251.0 326.7L1249.2 328.1L1248.1 329.7L1248.8 331.3L1249.4 333.0L1247.4 334.5L1248.8 327.4L1249.4 337.8L1248.6 339.4L1249.8 341.1L1248.6 342.6L1247.1 344.1L1248.6 345.8L1247.5 347.4L1247.2 349.0L1248.3 350.7L1247.2 352.2L1247.6 353.8L1247.9 355.5L1247.8 357.1L1247.6 358.7L1246.3 361.3L1247.2 361.9L1247.6 363.5L1247.0 365.1L1247.8 366.8L1246.2 368.2L1246.3 369.9L1246.8 371.5L1245.3 373.0L1246.8 374.7L1245.8 376.3L1246.5 378.0L1246.9 379.6L1244.5 381.0L1246.4 382.8L1244.6 384.2L1243.2 385.7L1245.3 387.5L1244.0 389.0L1245.4 390.8L1244.8 392.3L1244.3 393.9L1243.5 395.4L1242.4 396.9L1246.3 399.0L1243.2 403.9L1243.9 402.0L1242.4 403.4L1242.8 405.1L1243.8 406.8L1243.9 410.3L1240.8 409.6L1243.2 411.6L1242.2 413.1L1242.7 414.8L1238.5 415.8L1240.6 417.7L1239.1 419.2L1239.9 420.9L1241.1 422.7L1241.4 424.3L1243.3 426.1L1239.6 427.3L1237.4 428.7L1239.5 430.6L1238.4 433.0L1240.0 433.8L1238.2 435.3L1238.4 436.9L1238.4 438.5L1239.1 440.2L1240.2 441.9L1238.4 433.0L1237.2 444.9L1236.9 446.5L1237.3 448.1L1238.8 449.8L1237.4 451.3L1235.1 453.5L1236.0 454.5L1236.7 456.1L1235.9 454.1L1237.5 459.4L1237.3 461.0L1234.7 468.5L1237.0 464.2L1237.5 465.9L1236.0 467.4L1237.4 469.1L1235.4 470.2L1236.4 472.2L1235.4 473.8L1235.4 475.4L1234.1 476.9L1236.7 478.7L1234.0 480.2L1234.3 481.8L1235.5 483.4L1235.4 483.6L1234.5 486.6L1233.6 488.2L1235.8 489.9L1233.6 491.4L1235.0 493.1L1235.3 491.5L1233.4 496.2L1234.2 497.9L1235.7 499.5L1233.2 501.1L1235.1 502.7L1234.3 504.3L1231.7 506.9L1233.2 507.5L1235.4 509.1L1234.4 510.7L1233.8 512.4L1233.3 516.5L1234.3 515.6L1235.7 517.2L1235.7 518.8L1235.5 520.4L1234.9 522.0" fill="none" stroke="#3a3a3a" stroke-width="1.6" stroke-linejoin="round"/>
<path d="M1369.4 135.5L1368.0 136.9L1366.2 138.8L1364.0 141.0L1361.6 143.5L1359.0 146.2L1356.3 148.9L1353.5 151.6L1350.9 154.3L1348.4 156.7L1346.1 158.9L1344.0 160.9L1342.0 162.7L1340.0 164.5L1338.1 166.2L1336.2 167.8L1334.3 169.4L1332.4 171.0L1330.5 172.5L1328.6 174.1L1326.7 175.7L1324.8 177.3L1322.8 178.9L1320.9 180.5L1318.9 182.1L1317.0 183.7L1315.0 185.2L1313.0 186.8L1311.1 188.3L1309.1 189.8L1307.2 191.2L1305.2 192.6L1303.1 194.0L1301.0 195.4L1298.9 196.7L1296.8 198.0L1294.8 199.3L1292.9 200.6L1291.0 201.8L1289.3 203.0L1287.8 204.2L1286.5 205.3L1285.3 206.4L1284.2 207.4L1283.3 208.4L1282.4 209.3L1281.7 210.3L1280.9 211.3L1280.2 212.3L1279.5 213.4L1278.7 214.5L1277.9 215.7L1277.2 216.9L1276.5 218.1L1275.9 219.4L1275.3 220.7L1274.6 222.0L1274.0 223.3L1273.5 224.7L1272.9 226.1L1272.3 227.5L1271.7 228.9L1271.2 230.4L1270.6 231.9L1270.1 233.4L1269.6 235.0L1269.1 236.6L1268.6 238.2L1268.1 239.8L1267.6 241.4L1267.1 243.0L1266.6 244.6L1266.1 246.1L1265.7 247.6L1265.2 249.1L1264.7 250.6L1264.2 252.2L1263.7 253.9L1263.2 255.7L1262.6 257.8L1262.0 260.0L1261.3 262.5L1260.6 265.2L1259.8 268.1L1259.0 271.2L1258.1 274.4L1257.3 277.6L1256.4 280.8L1255.6 284.0L1254.8 287.1L1254.0 290.0L1253.3 292.8L1252.5 295.6L1251.8 298.3L1251.1 301.0L1250.4 303.6L1249.7 306.2L1249.0 308.9L1248.3 311.5L1247.7 314.1L1247.0 316.8L1246.4 319.5L1245.7 322.2L1245.1 324.8L1244.5 327.5L1243.8 330.2L1243.2 332.9L1242.7 335.6L1242.1 338.2L1241.5 340.9L1241.0 343.6L1240.5 346.3L1240.0 349.0L1239.5 351.6L1239.1 354.3L1238.6 357.0L1238.2 359.7L1237.8 362.4L1237.3 365.0L1236.9 367.7L1236.5 370.4L1236.1 373.1L1235.7 375.7L1235.2 378.4L1234.8 381.1L1234.4 383.8L1234.0 386.4L1233.6 389.1L1233.3 391.8L1232.9 394.4L1232.5 397.1L1232.1 399.8L1231.8 402.5L1231.4 405.1L1231.0 407.8L1230.7 410.5L1230.3 413.2L1230.0 415.9L1229.7 418.5L1229.3 421.2L1229.0 423.9L1228.7 426.6L1228.4 429.3L1228.0 431.9L1227.7 434.6L1227.4 437.3L1227.1 440.0L1226.8 442.7L1226.6 445.3L1226.3 448.0L1226.0 450.7L1225.7 453.3L1225.5 455.9L1225.2 458.5L1224.9 461.0L1224.7 463.6L1224.4 466.2L1224.2 468.8L1224.0 471.6L1223.7 474.5L1223.5 477.5L1223.3 480.8L1223.0 484.5L1222.8 488.3L1222.6 492.3L1222.4 496.4L1222.2 500.3L1222.0 504.0L1221.8 507.5L1221.6 510.5L1221.5 513.0L1221.4 515.0L1221.3 516.6L1221.2 517.9L1221.2 518.9L1221.1 519.7L1221.1 520.3L1221.1 520.8L1221.0 521.2L1221.0 521.6L1221.0 522.0" fill="none" stroke="#52dcd0" stroke-width="1.5" stroke-linejoin="round"/>
<path d="M1372.0 129.1L1370.5 131.1L1368.5 133.7L1366.1 136.8L1363.5 140.3L1360.7 144.0L1357.7 147.9L1354.7 151.8L1351.7 155.7L1348.8 159.3L1346.1 162.7L1343.5 165.9L1340.9 169.0L1338.3 172.0L1335.7 175.1L1333.1 178.1L1330.6 181.0L1328.0 184.0L1325.4 186.9L1322.8 189.7L1320.2 192.5L1317.6 195.3L1314.8 198.1L1312.0 200.9L1309.2 203.6L1306.4 206.3L1303.7 209.0L1301.1 211.5L1298.7 213.9L1296.4 216.2L1294.3 218.4L1292.5 220.4L1290.8 222.2L1289.3 223.8L1288.0 225.4L1286.7 226.9L1285.6 228.3L1284.5 229.7L1283.4 231.1L1282.4 232.5L1281.3 234.0L1280.2 235.6L1279.2 237.2L1278.2 238.8L1277.2 240.4L1276.3 242.1L1275.4 243.7L1274.6 245.2L1273.8 246.7L1273.0 248.2L1272.3 249.5L1271.6 250.7L1271.1 251.6L1270.6 252.4L1270.1 253.1L1269.7 253.8L1269.3 254.6L1268.8 255.6L1268.3 256.7L1267.8 258.2L1267.1 260.0L1266.3 262.2L1265.5 264.8L1264.6 267.7L1263.6 270.7L1262.6 274.0L1261.6 277.3L1260.6 280.6L1259.7 283.9L1258.8 287.0L1258.0 290.0L1257.3 292.8L1256.5 295.6L1255.9 298.3L1255.2 301.0L1254.6 303.6L1254.0 306.2L1253.4 308.9L1252.9 311.5L1252.4 314.1L1252.0 316.8L1251.6 319.5L1251.3 322.2L1251.0 324.8L1250.7 327.5L1250.5 330.2L1250.3 332.9L1250.1 335.6L1249.9 338.2L1249.7 340.9L1249.5 343.6L1249.3 346.3L1249.1 349.0L1248.9 351.6L1248.7 354.3L1248.6 357.0L1248.4 359.7L1248.2 362.4L1248.0 365.0L1247.8 367.7L1247.5 370.4L1247.2 373.1L1246.9 375.7L1246.6 378.4L1246.2 381.1L1245.8 383.8L1245.5 386.4L1245.1 389.1L1244.7 391.8L1244.4 394.4L1244.0 397.1L1243.6 399.8L1243.3 402.5L1242.9 405.1L1242.6 407.8L1242.2 410.5L1241.8 413.2L1241.5 415.9L1241.1 418.5L1240.8 421.2L1240.5 423.9L1240.2 426.6L1239.9 429.3L1239.6 431.9L1239.3 434.6L1239.0 437.3L1238.8 440.0L1238.5 442.7L1238.3 445.3L1238.0 448.0L1237.8 450.7L1237.6 453.3L1237.4 455.8L1237.2 458.2L1237.0 460.6L1236.8 463.0L1236.6 465.5L1236.5 468.2L1236.3 471.0L1236.1 474.1L1236.0 477.5L1235.9 481.4L1235.7 486.0L1235.6 491.0L1235.5 496.2L1235.4 501.4L1235.3 506.6L1235.2 511.4L1235.1 515.7L1235.1 519.3L1235.0 522.0" fill="none" stroke="#5a2730" stroke-width="1.5" stroke-linejoin="round"/>
</g>
<clipPath id="clipc"><rect x="1628.3" y="16.0" width="531.4" height="498.8"/></clipPath><g clip-path="url(#clipc)">
<path d="M1657.7 517.8V380.4M1659.5 517.8V384.7M1665.0 517.8V451.7M1667.9 517.8V417.5M1670.5 517.8V423.9M1673.5 517.8V439.6H1674.4V466.1M1674.4 466.1V517.8M1674.8 517.8V412.4M1677.0 517.8V397.2M1679.7 495.5V409.6M1687.9 468.0V446.8M1691.6 517.8V469.1H1692.5V491.0M1692.5 491.0V517.8M1693.4 517.8V485.7M1695.2 498.4V439.1M1696.5 517.8V407.3M1699.2 505.0V470.8M1701.0 505.6V480.8M1702.6 517.8V399.7H1703.5V441.5M1703.5 441.5V517.8M1704.6 517.8V393.5M1706.5 517.8V460.5M1708.6 412.0V362.1M1709.8 517.8V393.7H1710.7V447.3M1710.7 447.3V517.8M1714.9 471.9V418.8M1717.8 500.1V486.0M1721.4 517.8V430.6H1722.3V459.8M1722.3 459.8V517.8M1723.1 517.8V400.7M1725.5 517.8V483.9H1726.4V490.0M1726.4 490.0V517.8M1727.4 488.4V469.0M1730.4 517.8V441.2M1734.2 517.8V383.4M1736.4 517.8V391.2M1741.2 517.8V390.5M1743.7 517.8V380.8M1747.2 491.0V438.7M1750.0 484.1V398.0M1756.6 517.8V469.0M1760.5 517.8V397.9M1763.7 517.8V477.3M1765.9 517.8V371.4M1767.3 492.0V477.9M1771.4 487.6V441.2M1775.4 517.8V393.6M1782.8 517.8V399.7M1784.1 517.8V482.5M1787.0 488.1V438.5M1789.0 517.8V424.4H1789.9V469.5M1789.9 469.5V517.8M1790.3 502.2V455.0M1792.5 517.8V466.8M1795.1 517.8V432.1M1796.8 504.6V485.9M1798.8 517.8V453.8H1799.7V465.0M1799.7 465.0V517.8M1800.0 517.8V436.7H1800.9V472.5M1800.9 472.5V517.8M1803.5 499.8V453.8M1811.6 452.6V429.9M1814.7 517.8V374.2H1815.6V401.6M1815.6 401.6V517.8M1816.0 517.8V438.2M1818.5 517.8V378.5H1819.4V400.5M1819.4 400.5V517.8M1819.8 481.1V389.9M1824.9 517.8V403.7M1826.7 517.8V375.8M1829.6 517.8V433.4M1836.3 517.8V380.8H1837.2V434.4M1837.2 434.4V517.8M1837.7 478.3V384.8M1838.9 517.8V450.7H1839.8V473.9M1839.8 473.9V517.8M1840.5 517.8V417.7M1841.8 517.8V457.5M1847.3 517.8V385.7M1848.6 517.8V390.1M1854.0 517.8V420.2H1854.9V449.2M1854.9 449.2V517.8" fill="none" stroke="#3a3a3a" stroke-width="1.9" stroke-linecap="butt"/>
<path d="M1662.7 517.8V491.5M1664.4 517.8V486.3M1666.1 517.8V491.1M1667.7 517.8V504.5H1668.6V506.3M1668.6 506.3V517.8M1669.5 517.8V450.8M1673.8 485.5V445.1M1677.6 517.8V502.0M1681.9 517.8V420.1H1682.8V471.3M1682.8 471.3V517.8M1683.1 517.8V496.1M1684.8 517.8V436.3M1687.5 517.8V435.9H1688.4V457.6M1688.4 457.6V517.8M1689.3 504.6V498.5M1694.0 517.8V509.5M1695.3 517.8V486.5H1696.2V490.7M1696.2 490.7V517.8M1697.3 517.8V476.5H1698.2V494.6M1698.2 494.6V517.8M1699.0 512.3V509.5M1702.2 472.0V457.1M1703.5 517.8V485.0H1704.4V500.2M1704.4 500.2V517.8M1709.6 498.5V451.3M1713.2 517.8V490.9H1714.1V501.7M1714.1 501.7V517.8M1715.0 517.8V467.4H1715.9V481.8M1715.9 481.8V517.8M1716.3 517.8V473.7M1718.1 517.8V430.0M1720.9 500.2V487.1M1722.6 517.8V507.8M1724.2 517.8V461.1M1725.4 496.2V462.0M1728.5 517.8V415.2H1729.4V437.4M1729.4 437.4V517.8M1730.4 462.2V419.0M1731.7 517.8V470.8M1736.5 517.8V444.5M1738.5 517.8V462.3M1741.1 517.8V451.6M1746.5 517.8V464.3M1749.7 517.8V490.8M1751.6 517.8V437.8M1756.2 517.8V427.1M1758.4 517.8V499.2M1763.0 501.9V493.5M1767.8 512.8V505.6M1770.2 468.6V440.8M1771.5 517.8V505.5M1774.8 517.8V481.4M1776.6 517.8V492.6M1777.9 517.8V506.2H1778.8V508.6M1778.8 508.6V517.8M1779.4 517.8V503.4M1782.2 517.8V489.9M1785.2 517.8V445.6M1787.9 517.8V510.1H1788.8V512.0M1788.8 512.0V517.8M1789.5 517.8V494.4M1791.1 517.8V510.2H1792.0V512.6M1792.0 512.6V517.8M1792.3 517.8V434.6M1793.6 499.2V479.3M1799.1 517.8V427.5H1800.0V445.7M1800.0 445.7V517.8M1801.3 517.8V510.2H1802.2V511.1M1802.2 511.1V517.8M1804.8 517.8V456.0M1806.7 517.8V457.2M1811.8 517.8V430.4M1813.6 517.8V490.2M1815.0 517.8V496.4H1815.9V505.5M1815.9 505.5V517.8M1816.5 517.8V457.1H1817.4V490.1M1817.4 490.1V517.8M1820.1 457.6V412.8M1821.4 508.6V503.3M1823.9 517.8V431.5M1827.2 517.8V422.7M1828.8 517.8V507.4M1832.5 517.8V455.7M1836.2 502.9V485.4M1841.2 499.8V417.4M1843.2 517.8V413.5M1847.2 511.2V508.9M1849.2 517.8V493.5M1850.5 517.8V474.6M1853.5 466.2V414.9" fill="none" stroke="#e8333a" stroke-width="1.9" stroke-linecap="butt"/>
<path d="M1883.4 517.8V405.2M1884.9 517.8V377.0M1886.6 517.8V367.2M1888.1 517.8V372.6M1890.5 517.8V481.3M1893.3 467.3V406.4M1897.4 482.1V420.7M1899.7 517.8V444.3M1905.8 517.8V489.5M1907.3 517.8V419.6M1912.6 517.8V415.5M1914.1 517.8V484.5M1916.4 517.8V421.0H1917.3V457.8M1917.3 457.8V517.8M1920.0 517.8V446.9M1922.1 476.4V425.1M1924.9 517.8V423.6M1926.9 517.8V407.8M1929.0 517.8V430.2H1929.9V453.4M1929.9 453.4V517.8M1930.2 517.8V408.4H1931.1V471.6M1931.1 471.6V517.8M1931.6 466.2V440.4M1933.7 468.4V384.9M1940.3 517.8V366.6M1941.7 517.8V468.4M1943.7 496.2V460.6M1945.5 517.8V394.8M1947.1 517.8V388.5M1951.9 517.8V388.4M1953.3 517.8V407.6M1955.4 517.8V484.9M1958.4 517.8V411.9M1962.0 517.8V486.6M1968.8 517.8V448.8M1975.0 517.8V447.0H1975.9V467.2M1975.9 467.2V517.8M1978.9 517.8V444.9M1985.7 517.8V442.2M1987.1 517.8V423.8M1989.3 490.2V448.0M1991.4 473.7V433.7M1993.0 517.8V447.5H1993.9V457.3M1993.9 457.3V517.8M1994.8 517.8V456.7M1997.6 517.8V465.1M1999.2 445.9V408.2" fill="none" stroke="#3a3a3a" stroke-width="1.9" stroke-linecap="butt"/>
<path d="M1891.7 517.8V486.1M1893.5 517.8V508.0M1895.8 510.1V489.7M1897.0 496.6V484.5M1899.1 517.8V475.1M1903.1 517.8V512.6M1905.0 517.8V512.6M1906.6 505.0V491.2M1908.8 517.8V501.1M1910.5 485.7V474.9M1912.2 517.8V488.9M1915.1 487.7V477.6M1916.3 517.8V488.4M1919.7 517.8V484.7M1927.5 517.8V509.4M1931.1 517.8V510.5H1932.0V512.1M1932.0 512.1V517.8M1932.6 517.8V473.7M1935.9 517.8V512.1M1941.0 517.8V481.6M1947.0 517.8V481.6M1948.8 517.8V476.3H1949.7V494.3M1949.7 494.3V517.8M1950.6 512.4V505.0M1952.3 511.3V509.0M1956.1 517.8V503.5M1960.3 517.8V511.8M1962.9 517.8V510.1M1966.5 517.8V486.1M1970.4 517.8V510.8M1972.7 508.0V500.5M1974.1 517.8V448.6H1975.0V458.6M1975.0 458.6V517.8M1979.9 495.9V451.2M1982.5 517.8V432.6M1984.4 517.8V449.4H1985.3V469.3M1985.3 469.3V517.8M1986.5 517.8V431.3M1987.9 517.8V468.4H1988.8V492.3M1988.8 492.3V517.8M1990.1 517.8V502.5M1991.7 502.8V478.6M1994.5 517.8V483.0M1997.0 484.2V471.4M1999.7 517.8V510.3" fill="none" stroke="#e8333a" stroke-width="1.9" stroke-linecap="butt"/>
<path d="M2124.2 174.7L2123.0 176.2L2121.3 176.2L2120.0 177.4L2118.2 175.7L2116.3 176.5L2115.4 178.8L2113.7 178.8L2112.4 179.9L2110.5 179.2L2109.1 180.4L2107.5 180.7L2106.0 181.0L2104.6 181.9L2103.2 182.9L2101.8 183.8L2099.8 182.9L2098.4 183.7L2096.9 184.3L2095.7 185.8L2093.9 185.6L2092.2 185.3L2090.7 186.1L2089.2 186.5L2087.6 186.8L2086.2 188.1L2084.6 188.1L2082.8 187.5L2081.2 188.0L2079.6 187.8L2078.1 188.7L2076.7 189.8L2074.8 188.6L2073.4 187.9L2072.1 191.7L2070.4 191.1L2068.6 190.2L2067.1 191.1L2065.5 191.0L2064.0 194.1L2062.4 192.0L2060.8 192.6L2059.1 192.1L2057.6 192.6L2056.0 193.1L2054.6 194.3L2052.9 194.1L2051.4 194.4L2049.7 194.5L2048.3 195.2L2046.5 194.8L2045.1 195.8L2043.4 195.7L2042.0 196.5L2040.2 196.2L2038.9 197.7L2037.1 196.6L2035.6 197.5L2033.9 197.3L2032.4 197.9L2030.8 197.6L2029.3 198.7L2027.8 199.5L2026.0 198.7L2024.5 197.4L2022.9 199.8L2021.4 200.3L2019.8 200.3L2018.2 201.0L2016.7 201.2L2015.1 201.5L2013.5 202.1L2012.0 202.3L2010.2 201.6L2008.9 203.4L2007.3 203.4L2005.5 203.0L2003.9 202.9L2002.4 203.7L2000.8 204.0L1999.1 203.8L1997.8 205.7L1996.1 205.0L1994.4 204.8L1993.1 206.2L1991.6 206.9L1989.9 206.9L1988.3 207.0L1986.7 207.4L1985.1 207.7L1983.9 202.8L1982.1 208.8L1980.4 208.7L1979.0 209.6L1977.5 210.2L1975.9 210.4L1974.1 210.1L1972.4 209.7L1971.1 211.3L1969.5 211.8L1967.8 211.1L1966.5 212.6L1964.8 212.4L1963.3 213.4L1961.5 212.7L1960.1 213.8L1958.7 214.8L1957.2 215.3L1955.3 214.2L1954.0 215.8L1952.4 215.6L1950.6 215.6L1949.1 216.1L1947.4 216.0L1945.8 216.2L1944.4 217.2L1943.0 218.4L1941.4 218.5L1939.7 218.2L1938.6 220.3L1936.7 219.5L1935.2 220.0L1933.3 219.4L1932.1 221.1L1930.7 221.7L1928.9 221.3L1927.2 221.5L1925.9 222.5L1924.1 222.2L1923.1 224.4L1921.1 223.3L1919.7 224.5L1918.0 224.4L1916.5 224.9L1915.2 226.1L1913.7 226.7L1912.3 227.5L1910.6 227.6L1909.2 228.4L1907.5 228.5L1906.4 230.1L1904.6 230.0L1902.9 229.9L1901.6 231.2L1900.7 232.8L1898.3 231.6L1896.8 232.4L1895.7 231.9L1894.7 235.2L1893.4 236.1L1891.7 236.4L1891.0 238.3L1889.5 238.8L1888.0 239.6L1886.8 240.7L1886.1 242.3L1884.9 243.3L1884.2 244.8L1882.6 245.6L1882.0 247.1L1880.7 248.2L1880.4 249.9L1879.3 251.1L1879.0 252.8L1878.0 254.1L1876.2 254.9L1876.1 256.7L1876.1 258.6L1874.5 259.5L1874.1 261.1L1873.0 261.2L1871.7 263.5L1871.7 265.3L1871.0 266.7L1871.1 268.6L1869.7 269.7L1869.2 271.2L1868.7 274.6L1868.0 274.2L1866.7 275.4L1866.7 277.1L1866.1 278.6L1865.3 280.1L1865.3 281.8L1863.6 282.9L1864.7 284.9L1863.3 286.2L1863.2 287.8L1862.8 289.4L1862.6 291.0L1860.8 292.1L1860.5 293.7L1861.2 295.6L1859.6 302.9L1859.6 298.5L1859.1 300.0L1858.4 301.5L1857.9 303.0L1858.1 304.8L1857.4 306.2L1856.4 307.6L1856.6 309.4L1856.4 312.3L1856.1 312.6L1853.5 313.4L1855.7 315.8L1853.5 316.8L1853.3 318.4L1852.7 319.9L1852.5 321.5L1851.1 322.8L1851.2 324.5L1850.9 326.1L1850.5 327.7L1850.0 329.2L1849.9 330.8L1849.2 332.3L1849.1 334.0L1848.5 335.4L1849.1 337.3L1846.6 338.3L1847.1 340.1L1846.0 341.4L1846.6 343.3L1846.6 344.9L1846.5 346.6L1844.9 346.8L1845.0 349.5L1844.3 351.0L1843.6 352.5L1843.6 354.1L1843.2 355.7L1842.4 357.1L1841.8 358.6L1841.7 360.3L1842.3 362.1L1840.8 363.4L1840.5 365.0L1840.4 366.6L1839.3 368.0L1839.4 369.7L1839.4 371.3L1838.8 371.6L1838.7 374.4L1838.4 376.0L1837.6 377.5L1837.9 379.2L1838.0 380.8L1836.2 381.1L1837.6 384.0L1837.4 385.6L1836.5 387.1L1835.5 388.6L1835.9 390.3L1836.1 391.9L1834.5 393.4L1836.2 395.2L1835.3 396.7L1835.7 398.4L1835.6 400.0L1836.3 401.7L1834.7 403.1L1834.9 404.7L1834.4 406.3L1835.2 408.0L1833.6 409.5L1834.2 410.5L1834.6 412.8L1833.6 414.3L1834.0 416.0L1833.0 417.5L1833.2 419.1L1833.1 420.7L1833.6 422.4L1833.3 422.0L1832.8 425.6L1833.8 427.2L1834.0 428.9L1832.5 430.4L1832.7 432.0L1832.4 433.6L1832.7 435.2L1831.9 436.8L1831.7 438.4L1832.2 440.0L1832.3 441.6L1831.9 443.2L1831.8 444.8L1831.4 446.4L1831.9 448.0L1832.2 449.7L1831.3 451.2L1831.4 452.9L1831.1 454.5L1830.5 456.0L1830.4 457.6L1831.1 459.3L1830.6 460.9L1831.8 462.5L1830.9 464.1L1831.1 465.7L1831.1 467.3L1830.4 468.9L1830.4 470.5L1831.2 472.2L1830.9 473.8L1830.6 475.4L1829.5 476.9L1830.0 478.6L1830.0 480.2L1830.8 481.8L1830.5 483.4L1831.1 485.0L1830.7 486.6L1830.7 488.2L1830.1 489.8L1830.3 490.3L1830.7 493.1L1829.6 494.7L1830.0 496.3L1830.3 497.9L1830.1 499.5L1830.4 501.1L1829.3 502.7L1829.7 504.3L1830.7 505.9L1829.5 507.5L1830.5 509.1L1829.9 510.7L1829.8 512.3L1829.9 514.0L1830.5 515.6L1830.5 517.2L1830.6 518.8L1830.3 520.4L1829.8 522.0" fill="none" stroke="#3a3a3a" stroke-width="1.6" stroke-linejoin="round"/>
<path d="M2124.4 176.4L2123.1 177.7L2121.7 178.3L2120.1 178.7L2118.4 178.8L2117.0 179.6L2115.6 180.4L2113.6 179.1L2112.2 180.4L2110.7 181.0L2109.2 181.6L2107.4 181.2L2106.0 182.1L2104.3 182.1L2103.1 183.6L2101.6 184.1L2100.1 184.7L2098.6 185.2L2097.1 185.9L2095.2 185.2L2093.9 186.3L2092.4 187.1L2090.9 188.0L2089.5 188.7L2087.6 187.9L2086.0 188.0L2084.6 189.1L2082.9 188.7L2081.3 189.0L2079.8 189.7L2078.4 190.6L2076.6 189.9L2075.1 190.9L2073.5 193.3L2072.0 191.4L2070.2 190.6L2068.7 191.6L2067.3 193.3L2065.7 192.9L2063.9 191.8L2062.5 193.2L2060.8 192.9L2059.3 193.6L2057.6 193.2L2056.1 193.6L2054.6 194.3L2053.1 195.1L2051.4 195.1L2049.8 194.9L2048.2 195.5L2046.8 196.4L2045.1 196.4L2043.5 200.8L2041.9 196.8L2040.3 196.8L2038.8 197.3L2037.2 197.7L2035.7 198.1L2034.0 198.2L2032.5 198.6L2031.0 199.4L2029.4 199.6L2027.8 199.7L2026.3 201.4L2024.6 200.3L2023.1 200.9L2021.7 201.8L2020.0 201.5L2018.2 201.2L2016.8 202.3L2015.2 202.3L2013.7 203.0L2012.1 203.1L2010.6 204.0L2009.0 204.0L2007.3 203.7L2005.8 204.6L2004.1 204.2L2002.7 205.2L2001.0 200.0L1999.7 206.4L1997.7 204.9L1996.4 206.4L1994.8 206.7L1993.3 207.2L1991.8 208.1L1990.3 208.6L1988.7 208.7L1987.3 209.8L1985.5 209.5L1983.7 208.9L1982.3 209.5L1980.9 210.6L1979.3 211.1L1977.7 211.2L1976.2 211.9L1974.8 212.8L1972.8 211.5L1971.4 212.5L1970.0 213.4L1968.3 213.3L1966.9 214.4L1965.2 214.2L1963.6 214.5L1962.0 214.4L1960.3 214.2L1959.0 215.8L1957.3 219.2L1955.9 216.5L1954.4 217.3L1952.5 216.2L1951.2 217.8L1949.8 218.7L1948.0 218.1L1946.6 219.3L1945.1 219.8L1943.5 220.1L1942.0 220.7L1940.5 221.1L1938.7 220.8L1937.2 221.4L1935.8 225.1L1934.0 222.0L1932.4 222.0L1930.9 222.6L1929.5 227.8L1928.0 224.2L1926.3 224.2L1924.7 215.4L1923.3 225.2L1921.8 225.7L1920.4 226.8L1918.7 226.7L1917.3 227.5L1915.6 227.6L1914.1 228.1L1912.8 229.3L1910.8 228.6L1909.4 229.4L1908.1 230.5L1907.1 232.2L1904.9 231.1L1904.1 233.3L1901.9 232.3L1900.9 233.9L1899.4 234.5L1897.5 234.4L1896.7 236.2L1895.5 237.3L1893.7 237.6L1892.5 238.6L1891.5 239.9L1890.0 240.7L1889.1 242.0L1887.5 242.7L1886.2 243.7L1885.5 245.2L1884.2 246.2L1883.1 247.4L1881.8 248.5L1881.5 250.2L1880.4 251.5L1879.5 252.8L1878.9 254.3L1878.7 256.0L1877.4 257.2L1877.2 258.9L1876.6 261.8L1875.2 261.4L1874.4 262.9L1873.7 264.3L1873.2 265.8L1872.1 267.1L1871.8 268.7L1870.9 270.1L1870.6 271.7L1869.8 273.1L1869.7 274.8L1867.6 275.7L1866.7 277.1L1866.8 278.9L1866.4 280.4L1866.9 282.3L1866.1 283.7L1864.8 285.0L1864.2 286.5L1864.9 288.4L1864.1 283.1L1863.3 291.2L1863.5 293.0L1861.8 294.1L1862.6 296.1L1860.9 297.2L1861.3 299.0L1860.8 300.6L1858.9 301.6L1859.1 303.4L1859.5 305.2L1858.5 306.6L1858.2 308.1L1857.6 309.7L1857.0 311.1L1856.6 312.7L1855.3 314.0L1855.2 317.5L1855.2 317.3L1854.5 318.8L1853.9 320.3L1852.9 321.6L1853.3 323.4L1853.2 325.1L1851.6 326.3L1852.1 328.1L1852.1 329.8L1851.8 331.3L1851.4 332.9L1851.1 333.6L1849.3 335.7L1849.5 337.4L1848.8 338.8L1849.6 340.7L1848.6 342.1L1847.6 343.5L1846.6 344.9L1847.1 346.7L1846.9 348.3L1847.0 350.0L1845.5 351.3L1844.4 352.6L1844.7 354.4L1844.7 356.0L1844.0 357.5L1844.1 359.2L1843.1 360.6L1842.6 362.1L1842.0 365.2L1841.6 365.2L1842.0 366.9L1841.2 368.4L1840.2 369.8L1841.4 371.7L1840.2 373.1L1840.1 374.7L1838.7 376.1L1838.1 377.7L1839.3 379.5L1838.1 380.9L1839.0 382.7L1838.6 382.6L1839.3 385.9L1837.8 387.4L1838.1 389.0L1838.8 390.7L1837.1 392.1L1837.6 393.8L1837.5 395.4L1836.8 397.0L1837.0 398.6L1837.8 400.3L1837.0 401.8L1836.4 403.4L1836.0 404.9L1836.3 406.6L1835.1 408.1L1835.6 409.7L1835.0 411.3L1835.1 412.9L1835.8 414.6L1835.5 416.2L1834.7 417.7L1834.1 419.3L1833.6 420.9L1834.3 421.7L1834.7 424.2L1833.7 425.7L1834.2 427.4L1834.3 429.0L1832.9 430.5L1832.8 432.1L1833.4 433.7L1833.9 435.4L1833.3 436.9L1834.0 438.9L1833.4 440.1L1832.2 441.7L1832.8 446.2L1832.4 444.9L1831.9 446.5L1832.8 448.2L1832.3 449.8L1833.8 451.4L1832.8 453.0L1831.4 454.5L1832.5 456.2L1832.4 457.8L1831.6 459.4L1832.1 461.0L1831.5 462.6L1832.1 464.2L1831.1 465.8L1831.3 467.4L1831.5 469.0L1830.8 470.6L1832.2 472.2L1831.1 473.8L1831.0 475.4L1831.7 477.0L1831.3 478.6L1830.7 486.4L1830.5 481.8L1831.4 483.5L1831.5 485.1L1831.1 486.7L1830.6 488.3L1831.1 489.9L1831.0 491.5L1831.4 493.1L1831.9 494.7L1831.4 496.3L1831.5 497.9L1830.8 499.5L1831.3 501.1L1830.4 508.8L1830.3 505.1L1831.3 505.9L1830.3 507.5L1831.3 509.2L1831.4 510.8L1831.0 512.4L1830.7 514.0L1830.7 515.6L1831.0 517.2L1831.8 518.8L1830.5 520.4L1831.4 522.0" fill="none" stroke="#e8333a" stroke-width="1.6" stroke-linejoin="round"/>
<path d="M2125.0 182.6L2123.3 183.0L2121.6 183.5L2119.9 184.0L2118.2 184.5L2116.5 184.9L2114.8 185.4L2113.1 185.9L2111.5 186.3L2109.8 186.8L2108.1 187.3L2106.4 187.7L2104.7 188.2L2103.0 188.6L2101.3 189.1L2099.6 189.5L2097.9 189.9L2096.2 190.4L2094.4 190.8L2092.7 191.2L2091.0 191.5L2089.3 191.9L2087.6 192.3L2085.9 192.6L2084.1 193.0L2082.4 193.3L2080.7 193.7L2078.9 194.0L2077.2 194.3L2075.5 194.7L2073.8 195.0L2072.0 195.3L2070.3 195.6L2068.6 196.0L2066.8 196.3L2065.1 196.6L2063.4 197.0L2061.6 197.3L2059.9 197.6L2058.2 198.0L2056.5 198.3L2054.7 198.7L2053.0 199.1L2051.3 199.4L2049.6 199.8L2047.9 200.2L2046.1 200.5L2044.4 200.9L2042.7 201.3L2041.0 201.7L2039.3 202.1L2037.6 202.5L2035.8 202.8L2034.1 203.2L2032.4 203.6L2030.7 204.0L2029.0 204.4L2027.3 204.8L2025.5 205.2L2023.8 205.6L2022.1 206.0L2020.4 206.4L2018.7 206.8L2017.0 207.2L2015.3 207.7L2013.6 208.1L2011.9 208.5L2010.2 209.0L2008.5 209.4L2006.8 209.8L2005.1 210.3L2003.4 210.7L2001.7 211.2L2000.0 211.7L1998.3 212.1L1996.6 212.6L1994.9 213.0L1993.2 213.5L1991.5 214.0L1989.8 214.5L1988.1 214.9L1986.4 215.4L1984.7 215.9L1983.0 216.4L1981.3 216.8L1979.6 217.3L1977.9 217.8L1976.2 218.3L1974.6 218.7L1972.9 219.2L1971.2 219.7L1969.5 220.1L1967.8 220.6L1966.1 221.1L1964.4 221.5L1962.7 222.0L1961.0 222.4L1959.3 222.9L1957.6 223.3L1955.9 223.8L1954.2 224.3L1952.5 224.7L1950.8 225.2L1949.1 225.6L1947.4 226.1L1945.7 226.6L1944.0 227.1L1942.3 227.5L1940.6 228.0L1938.9 228.5L1937.2 229.0L1935.6 229.6L1933.9 230.1L1932.2 230.6L1930.5 231.1L1928.9 231.7L1927.2 232.2L1925.5 232.8L1923.8 233.4L1922.2 233.9L1920.5 234.5L1918.9 235.1L1917.2 235.7L1915.6 236.3L1913.9 237.0L1912.3 237.6L1910.7 238.3L1909.0 239.0L1907.4 239.7L1905.8 240.5L1904.3 241.3L1902.7 242.1L1901.2 242.9L1899.7 243.8L1898.2 244.8L1896.7 245.8L1895.3 246.8L1894.0 248.0L1892.6 249.1L1891.4 250.3L1890.2 251.6L1889.0 253.0L1888.0 254.3L1886.9 255.7L1885.9 257.2L1885.0 258.7L1884.1 260.2L1883.2 261.7L1882.3 263.2L1881.4 264.8L1880.6 266.3L1879.7 267.8L1878.8 269.3L1877.9 270.9L1877.0 272.4L1876.1 273.9L1875.3 275.4L1874.4 276.9L1873.7 278.5L1872.9 280.1L1872.3 281.7L1871.7 283.4L1871.1 285.1L1870.5 286.7L1870.0 288.4L1869.5 290.1L1869.0 291.8L1868.5 293.5L1868.0 295.2L1867.5 296.8L1866.9 298.5L1866.4 300.2L1865.9 301.9L1865.3 303.5L1864.8 305.2L1864.3 306.9L1863.7 308.6L1863.2 310.3L1862.7 311.9L1862.1 313.6L1861.6 315.3L1861.0 317.0L1860.5 318.6L1860.0 320.3L1859.5 322.0L1859.0 323.7L1858.5 325.4L1858.0 327.1L1857.5 328.8L1857.0 330.5L1856.6 332.2L1856.1 333.9L1855.6 335.6L1855.2 337.3L1854.7 339.0L1854.3 340.7L1853.9 342.4L1853.4 344.1L1853.0 345.8L1852.6 347.5L1852.1 349.2L1851.7 350.9L1851.2 352.6L1850.8 354.3L1850.4 356.0L1849.9 357.7L1849.5 359.4L1849.0 361.1L1848.6 362.8L1848.2 364.5L1847.8 366.2L1847.3 368.0L1847.0 369.7L1846.6 371.4L1846.2 373.1L1845.9 374.8L1845.5 376.6L1845.2 378.3L1844.9 380.0L1844.6 381.8L1844.3 383.5L1844.0 385.2L1843.8 387.0L1843.5 388.7L1843.3 390.5L1843.0 392.2L1842.8 394.0L1842.5 395.7L1842.3 397.4L1842.0 399.2L1841.8 400.9L1841.6 402.7L1841.3 404.4L1841.1 406.2L1840.9 407.9L1840.6 409.7L1840.4 411.4L1840.2 413.1L1840.0 414.9L1839.8 416.6L1839.5 418.4L1839.3 420.1L1839.1 421.9L1838.9 423.6L1838.8 425.4L1838.6 427.1L1838.4 428.9L1838.2 430.6L1838.0 432.4L1837.9 434.1L1837.7 435.9L1837.5 437.6L1837.4 439.4L1837.2 441.1L1837.1 442.9L1836.9 444.7L1836.8 446.4L1836.7 448.2L1836.5 449.9L1836.4 451.7L1836.3 453.4L1836.2 455.2L1836.1 456.9L1835.9 458.7L1835.8 460.5L1835.7 462.2L1835.6 464.0L1835.5 465.7L1835.4 467.5L1835.3 469.2L1835.2 471.0L1835.1 472.7L1835.0 474.5L1834.9 476.3L1834.9 478.0L1834.8 479.8L1834.7 481.5L1834.6 483.3L1834.5 485.1L1834.5 486.8L1834.4 488.6L1834.3 490.3L1834.3 492.1L1834.2 493.8L1834.2 495.6L1834.1 497.4L1834.1 499.1L1834.0 500.9L1834.0 502.6L1833.9 504.4L1833.9 506.2L1833.8 507.9L1833.8 509.7L1833.7 511.4L1833.7 513.2L1833.7 515.0L1833.6 516.7L1833.6 518.5L1833.5 520.2L1833.5 522.0" fill="none" stroke="#5a2730" stroke-width="1.5" stroke-linejoin="round"/>
<path d="M2125.1 183.9L2123.4 184.4L2121.7 184.8L2120.0 185.3L2118.3 185.8L2116.7 186.2L2115.0 186.7L2113.3 187.1L2111.6 187.6L2109.9 188.0L2108.2 188.5L2106.5 188.9L2104.8 189.3L2103.1 189.8L2101.4 190.2L2099.7 190.6L2098.0 191.0L2096.3 191.4L2094.6 191.8L2092.9 192.2L2091.2 192.5L2089.5 192.9L2087.8 193.3L2086.0 193.6L2084.3 193.9L2082.6 194.3L2080.9 194.6L2079.2 194.9L2077.4 195.3L2075.7 195.6L2074.0 195.9L2072.3 196.2L2070.6 196.6L2068.8 196.9L2067.1 197.2L2065.4 197.5L2063.7 197.9L2061.9 198.2L2060.2 198.6L2058.5 198.9L2056.8 199.3L2055.1 199.6L2053.4 200.0L2051.7 200.4L2049.9 200.8L2048.2 201.1L2046.5 201.5L2044.8 201.9L2043.1 202.3L2041.4 202.7L2039.7 203.1L2038.0 203.5L2036.3 203.9L2034.6 204.2L2032.9 204.6L2031.2 205.0L2029.5 205.5L2027.7 205.9L2026.0 206.3L2024.3 206.7L2022.6 207.1L2020.9 207.5L2019.2 207.9L2017.5 208.4L2015.8 208.8L2014.1 209.2L2012.5 209.7L2010.8 210.1L2009.1 210.6L2007.4 211.0L2005.7 211.5L2004.0 211.9L2002.3 212.4L2000.6 212.9L1998.9 213.4L1997.3 213.8L1995.6 214.3L1993.9 214.8L1992.2 215.3L1990.5 215.8L1988.8 216.2L1987.2 216.7L1985.5 217.2L1983.8 217.7L1982.1 218.2L1980.4 218.7L1978.8 219.2L1977.1 219.6L1975.4 220.1L1973.7 220.6L1972.0 221.1L1970.3 221.6L1968.6 222.0L1967.0 222.5L1965.3 223.0L1963.6 223.4L1961.9 223.9L1960.2 224.4L1958.5 224.8L1956.8 225.3L1955.1 225.8L1953.5 226.2L1951.8 226.7L1950.1 227.2L1948.4 227.6L1946.7 228.1L1945.0 228.6L1943.3 229.1L1941.7 229.6L1940.0 230.1L1938.3 230.6L1936.6 231.1L1935.0 231.7L1933.3 232.2L1931.6 232.8L1930.0 233.3L1928.3 233.9L1926.7 234.4L1925.0 235.0L1923.3 235.6L1921.7 236.1L1920.0 236.7L1918.4 237.3L1916.7 238.0L1915.1 238.6L1913.5 239.2L1911.9 239.9L1910.3 240.6L1908.7 241.3L1907.1 242.1L1905.5 242.8L1903.9 243.6L1902.4 244.5L1900.9 245.4L1899.4 246.3L1898.0 247.3L1896.6 248.3L1895.2 249.4L1893.9 250.6L1892.6 251.8L1891.4 253.0L1890.2 254.4L1889.1 255.7L1888.1 257.1L1887.1 258.5L1886.1 260.0L1885.2 261.5L1884.3 263.0L1883.4 264.5L1882.6 266.0L1881.7 267.5L1880.8 269.1L1880.0 270.6L1879.0 272.1L1878.1 273.6L1877.2 275.0L1876.3 276.5L1875.5 278.1L1874.7 279.6L1874.0 281.2L1873.3 282.8L1872.7 284.5L1872.1 286.1L1871.6 287.8L1871.0 289.5L1870.5 291.2L1870.0 292.8L1869.5 294.5L1869.0 296.2L1868.5 297.9L1868.0 299.5L1867.5 301.2L1866.9 302.9L1866.4 304.6L1865.9 306.2L1865.4 307.9L1864.8 309.6L1864.3 311.2L1863.8 312.9L1863.2 314.6L1862.7 316.3L1862.2 317.9L1861.6 319.6L1861.1 321.3L1860.6 322.9L1860.1 324.6L1859.6 326.3L1859.1 328.0L1858.6 329.7L1858.2 331.4L1857.7 333.0L1857.2 334.7L1856.8 336.4L1856.3 338.1L1855.9 339.8L1855.4 341.5L1855.0 343.2L1854.6 344.9L1854.1 346.6L1853.7 348.3L1853.3 350.0L1852.9 351.7L1852.4 353.4L1852.0 355.1L1851.5 356.8L1851.1 358.5L1850.7 360.2L1850.3 361.9L1849.8 363.6L1849.4 365.3L1849.0 367.0L1848.6 368.7L1848.2 370.4L1847.8 372.1L1847.5 373.8L1847.1 375.6L1846.8 377.3L1846.5 379.0L1846.2 380.7L1845.9 382.5L1845.6 384.2L1845.3 385.9L1845.0 387.6L1844.8 389.4L1844.5 391.1L1844.2 392.8L1844.0 394.6L1843.7 396.3L1843.5 398.0L1843.2 399.8L1843.0 401.5L1842.7 403.2L1842.5 405.0L1842.2 406.7L1842.0 408.5L1841.8 410.2L1841.5 411.9L1841.3 413.7L1841.1 415.4L1840.9 417.1L1840.7 418.9L1840.4 420.6L1840.2 422.4L1840.0 424.1L1839.8 425.8L1839.6 427.6L1839.5 429.3L1839.3 431.1L1839.1 432.8L1838.9 434.6L1838.7 436.3L1838.6 438.0L1838.4 439.8L1838.2 441.5L1838.1 443.3L1837.9 445.0L1837.8 446.8L1837.6 448.5L1837.5 450.3L1837.4 452.0L1837.2 453.8L1837.1 455.5L1837.0 457.2L1836.9 459.0L1836.7 460.7L1836.6 462.5L1836.5 464.2L1836.4 466.0L1836.3 467.7L1836.2 469.5L1836.1 471.2L1836.0 473.0L1835.9 474.7L1835.8 476.5L1835.7 478.2L1835.6 480.0L1835.5 481.7L1835.4 483.5L1835.3 485.2L1835.2 487.0L1835.2 488.7L1835.1 490.5L1835.0 492.2L1835.0 494.0L1834.9 495.7L1834.8 497.5L1834.8 499.2L1834.7 501.0L1834.7 502.7L1834.6 504.5L1834.6 506.2L1834.5 508.0L1834.5 509.7L1834.4 511.5L1834.4 513.2L1834.3 515.0L1834.3 516.7L1834.2 518.5L1834.2 520.2L1834.1 522.0" fill="none" stroke="#3a66dd" stroke-width="1.5" stroke-linejoin="round"/>
<path d="M2125.3 186.0L2123.6 186.4L2121.9 186.9L2120.2 187.3L2118.5 187.7L2116.8 188.1L2115.2 188.5L2113.5 189.0L2111.8 189.4L2110.1 189.8L2108.4 190.2L2106.7 190.6L2105.0 191.0L2103.3 191.4L2101.6 191.8L2100.0 192.2L2098.3 192.6L2096.6 193.0L2094.9 193.3L2093.2 193.7L2091.5 194.0L2089.7 194.4L2088.0 194.7L2086.3 195.0L2084.6 195.4L2082.9 195.7L2081.2 196.0L2079.5 196.3L2077.8 196.7L2076.1 197.0L2074.4 197.3L2072.6 197.6L2070.9 197.9L2069.2 198.3L2067.5 198.6L2065.8 198.9L2064.1 199.3L2062.4 199.6L2060.7 200.0L2059.0 200.3L2057.3 200.7L2055.6 201.0L2053.9 201.4L2052.2 201.8L2050.5 202.2L2048.8 202.6L2047.1 203.0L2045.4 203.4L2043.7 203.7L2042.0 204.2L2040.3 204.6L2038.6 205.0L2036.9 205.4L2035.2 205.8L2033.5 206.2L2031.9 206.6L2030.2 207.0L2028.5 207.4L2026.8 207.9L2025.1 208.3L2023.4 208.7L2021.7 209.2L2020.1 209.6L2018.4 210.0L2016.7 210.5L2015.0 210.9L2013.3 211.4L2011.7 211.8L2010.0 212.3L2008.3 212.8L2006.6 213.3L2005.0 213.7L2003.3 214.2L2001.6 214.7L2000.0 215.2L1998.3 215.7L1996.6 216.2L1995.0 216.7L1993.3 217.2L1991.6 217.7L1990.0 218.2L1988.3 218.7L1986.6 219.2L1985.0 219.7L1983.3 220.2L1981.6 220.7L1980.0 221.2L1978.3 221.7L1976.6 222.2L1975.0 222.7L1973.3 223.2L1971.6 223.7L1970.0 224.2L1968.3 224.7L1966.6 225.1L1965.0 225.6L1963.3 226.1L1961.6 226.6L1959.9 227.1L1958.3 227.5L1956.6 228.0L1954.9 228.5L1953.3 229.0L1951.6 229.5L1949.9 230.0L1948.2 230.5L1946.6 231.0L1944.9 231.5L1943.2 232.0L1941.6 232.5L1939.9 233.0L1938.3 233.5L1936.6 234.1L1935.0 234.6L1933.3 235.2L1931.7 235.7L1930.0 236.3L1928.4 236.8L1926.7 237.4L1925.1 238.0L1923.4 238.6L1921.8 239.2L1920.2 239.8L1918.5 240.4L1916.9 241.0L1915.3 241.6L1913.7 242.3L1912.1 243.0L1910.5 243.7L1908.9 244.4L1907.3 245.2L1905.8 245.9L1904.2 246.8L1902.7 247.6L1901.3 248.6L1899.8 249.5L1898.4 250.5L1897.0 251.6L1895.7 252.7L1894.4 253.9L1893.2 255.2L1892.1 256.5L1890.9 257.8L1889.9 259.1L1888.8 260.5L1887.8 262.0L1886.9 263.4L1886.0 264.9L1885.1 266.4L1884.3 267.9L1883.4 269.4L1882.5 270.9L1881.6 272.4L1880.7 273.9L1879.8 275.3L1878.8 276.8L1877.9 278.3L1877.0 279.8L1876.2 281.3L1875.5 282.9L1874.8 284.5L1874.2 286.1L1873.6 287.8L1873.1 289.4L1872.6 291.1L1872.0 292.7L1871.5 294.4L1871.0 296.1L1870.5 297.7L1870.0 299.4L1869.5 301.1L1869.0 302.7L1868.5 304.4L1868.0 306.1L1867.5 307.7L1867.0 309.4L1866.5 311.1L1866.0 312.7L1865.4 314.4L1864.9 316.0L1864.4 317.7L1863.9 319.4L1863.3 321.0L1862.8 322.7L1862.3 324.4L1861.8 326.0L1861.3 327.7L1860.8 329.4L1860.3 331.0L1859.9 332.7L1859.4 334.4L1858.9 336.1L1858.5 337.7L1858.0 339.4L1857.6 341.1L1857.2 342.8L1856.7 344.5L1856.3 346.2L1855.9 347.9L1855.4 349.5L1855.0 351.2L1854.6 352.9L1854.2 354.6L1853.8 356.3L1853.3 358.0L1852.9 359.7L1852.5 361.4L1852.1 363.1L1851.7 364.8L1851.3 366.4L1850.9 368.1L1850.5 369.8L1850.1 371.5L1849.7 373.2L1849.4 374.9L1849.0 376.6L1848.7 378.4L1848.4 380.1L1848.1 381.8L1847.8 383.5L1847.5 385.2L1847.2 386.9L1846.9 388.6L1846.6 390.4L1846.3 392.1L1846.1 393.8L1845.8 395.5L1845.5 397.2L1845.3 399.0L1845.0 400.7L1844.8 402.4L1844.5 404.1L1844.2 405.8L1844.0 407.6L1843.7 409.3L1843.5 411.0L1843.2 412.7L1843.0 414.5L1842.8 416.2L1842.5 417.9L1842.3 419.6L1842.1 421.4L1841.9 423.1L1841.7 424.8L1841.5 426.5L1841.3 428.3L1841.1 430.0L1840.9 431.7L1840.7 433.5L1840.5 435.2L1840.3 436.9L1840.1 438.6L1839.9 440.4L1839.8 442.1L1839.6 443.8L1839.4 445.6L1839.3 447.3L1839.1 449.0L1839.0 450.8L1838.8 452.5L1838.7 454.2L1838.5 456.0L1838.4 457.7L1838.3 459.4L1838.1 461.2L1838.0 462.9L1837.9 464.6L1837.7 466.4L1837.6 468.1L1837.5 469.9L1837.4 471.6L1837.2 473.3L1837.1 475.1L1837.0 476.8L1836.9 478.5L1836.8 480.3L1836.7 482.0L1836.6 483.7L1836.5 485.5L1836.4 487.2L1836.3 489.0L1836.2 490.7L1836.1 492.4L1836.1 494.2L1836.0 495.9L1835.9 497.6L1835.9 499.4L1835.8 501.1L1835.7 502.9L1835.7 504.6L1835.6 506.3L1835.5 508.1L1835.5 509.8L1835.4 511.6L1835.3 513.3L1835.3 515.0L1835.2 516.8L1835.2 518.5L1835.1 520.3L1835.0 522.0" fill="none" stroke="#3fae62" stroke-width="1.5" stroke-linejoin="round"/>
<path d="M2125.4 187.8L2123.7 188.1L2122.0 188.5L2120.4 188.9L2118.7 189.3L2117.0 189.7L2115.3 190.1L2113.6 190.5L2112.0 190.9L2110.3 191.3L2108.6 191.7L2106.9 192.1L2105.2 192.4L2103.5 192.8L2101.8 193.2L2100.1 193.6L2098.5 193.9L2096.8 194.3L2095.1 194.6L2093.4 194.9L2091.7 195.3L2090.0 195.6L2088.3 195.9L2086.6 196.2L2084.9 196.6L2083.2 196.9L2081.5 197.2L2079.8 197.5L2078.1 197.8L2076.4 198.1L2074.7 198.4L2073.0 198.8L2071.3 199.1L2069.6 199.4L2067.9 199.7L2066.2 200.1L2064.5 200.4L2062.8 200.8L2061.1 201.1L2059.4 201.5L2057.7 201.9L2056.0 202.2L2054.3 202.6L2052.6 203.0L2050.9 203.4L2049.3 203.8L2047.6 204.2L2045.9 204.6L2044.2 205.0L2042.5 205.4L2040.8 205.8L2039.2 206.2L2037.5 206.6L2035.8 207.0L2034.1 207.5L2032.4 207.9L2030.8 208.3L2029.1 208.8L2027.4 209.2L2025.7 209.6L2024.1 210.1L2022.4 210.5L2020.7 211.0L2019.1 211.4L2017.4 211.9L2015.7 212.3L2014.1 212.8L2012.4 213.3L2010.7 213.8L2009.1 214.3L2007.4 214.7L2005.8 215.2L2004.1 215.7L2002.5 216.2L2000.8 216.7L1999.1 217.3L1997.5 217.8L1995.8 218.3L1994.2 218.8L1992.5 219.3L1990.9 219.8L1989.2 220.3L1987.6 220.9L1985.9 221.4L1984.3 221.9L1982.6 222.4L1981.0 222.9L1979.3 223.4L1977.7 223.9L1976.0 224.4L1974.4 224.9L1972.7 225.5L1971.1 226.0L1969.4 226.4L1967.7 226.9L1966.1 227.4L1964.4 227.9L1962.8 228.4L1961.1 228.9L1959.5 229.4L1957.8 229.9L1956.1 230.4L1954.5 230.9L1952.8 231.4L1951.2 231.9L1949.5 232.4L1947.9 232.9L1946.2 233.4L1944.6 233.9L1942.9 234.5L1941.3 235.0L1939.6 235.5L1938.0 236.1L1936.3 236.6L1934.7 237.2L1933.1 237.7L1931.4 238.3L1929.8 238.9L1928.1 239.4L1926.5 240.0L1924.9 240.6L1923.3 241.2L1921.6 241.8L1920.0 242.4L1918.4 243.0L1916.8 243.6L1915.2 244.3L1913.6 245.0L1912.0 245.6L1910.4 246.4L1908.9 247.1L1907.3 247.9L1905.8 248.7L1904.3 249.5L1902.8 250.4L1901.3 251.4L1899.9 252.4L1898.6 253.4L1897.2 254.6L1896.0 255.7L1894.7 256.9L1893.6 258.2L1892.4 259.5L1891.3 260.8L1890.3 262.2L1889.3 263.6L1888.3 265.0L1887.4 266.5L1886.5 268.0L1885.7 269.5L1884.8 271.0L1883.9 272.5L1883.0 274.0L1882.1 275.4L1881.1 276.8L1880.1 278.3L1879.2 279.7L1878.3 281.2L1877.5 282.7L1876.7 284.3L1876.1 285.9L1875.5 287.5L1874.9 289.1L1874.3 290.8L1873.8 292.4L1873.3 294.1L1872.8 295.7L1872.3 297.4L1871.8 299.0L1871.3 300.7L1870.8 302.4L1870.3 304.0L1869.9 305.7L1869.4 307.3L1868.9 309.0L1868.4 310.7L1867.9 312.3L1867.3 314.0L1866.8 315.6L1866.3 317.3L1865.8 318.9L1865.3 320.6L1864.8 322.2L1864.2 323.9L1863.7 325.5L1863.2 327.2L1862.7 328.8L1862.2 330.5L1861.8 332.2L1861.3 333.8L1860.8 335.5L1860.4 337.2L1859.9 338.8L1859.4 340.5L1859.0 342.2L1858.6 343.9L1858.1 345.5L1857.7 347.2L1857.3 348.9L1856.9 350.6L1856.5 352.3L1856.1 353.9L1855.6 355.6L1855.2 357.3L1854.8 359.0L1854.4 360.7L1854.0 362.3L1853.6 364.0L1853.2 365.7L1852.8 367.4L1852.4 369.1L1852.1 370.8L1851.7 372.5L1851.3 374.2L1851.0 375.9L1850.6 377.5L1850.3 379.2L1850.0 380.9L1849.6 382.6L1849.3 384.3L1849.0 386.1L1848.7 387.8L1848.4 389.5L1848.2 391.2L1847.9 392.9L1847.6 394.6L1847.3 396.3L1847.0 398.0L1846.8 399.7L1846.5 401.4L1846.2 403.1L1846.0 404.8L1845.7 406.5L1845.4 408.3L1845.2 410.0L1844.9 411.7L1844.7 413.4L1844.4 415.1L1844.2 416.8L1843.9 418.5L1843.7 420.2L1843.5 422.0L1843.2 423.7L1843.0 425.4L1842.8 427.1L1842.6 428.8L1842.4 430.5L1842.2 432.3L1842.0 434.0L1841.8 435.7L1841.6 437.4L1841.4 439.1L1841.2 440.9L1841.0 442.6L1840.9 444.3L1840.7 446.0L1840.5 447.8L1840.4 449.5L1840.2 451.2L1840.0 452.9L1839.9 454.6L1839.7 456.4L1839.6 458.1L1839.4 459.8L1839.3 461.5L1839.1 463.3L1839.0 465.0L1838.8 466.7L1838.7 468.4L1838.6 470.2L1838.4 471.9L1838.3 473.6L1838.2 475.3L1838.1 477.1L1837.9 478.8L1837.8 480.5L1837.7 482.2L1837.6 484.0L1837.5 485.7L1837.4 487.4L1837.3 489.2L1837.2 490.9L1837.1 492.6L1837.0 494.3L1836.9 496.1L1836.8 497.8L1836.7 499.5L1836.7 501.2L1836.6 503.0L1836.5 504.7L1836.4 506.4L1836.4 508.2L1836.3 509.9L1836.2 511.6L1836.2 513.4L1836.1 515.1L1836.0 516.8L1836.0 518.5L1835.9 520.3L1835.8 522.0" fill="none" stroke="#52dcd0" stroke-width="1.5" stroke-linejoin="round"/>
<path d="M2125.7 190.9L2124.0 191.2L2122.3 191.6L2120.6 191.9L2119.0 192.3L2117.3 192.6L2115.6 192.9L2113.9 193.3L2112.2 193.6L2110.6 194.0L2108.9 194.3L2107.2 194.7L2105.5 195.0L2103.9 195.3L2102.2 195.7L2100.5 196.0L2098.8 196.3L2097.1 196.6L2095.4 196.9L2093.8 197.2L2092.1 197.5L2090.4 197.8L2088.7 198.1L2087.0 198.4L2085.3 198.7L2083.6 199.0L2081.9 199.3L2080.3 199.6L2078.6 199.9L2076.9 200.2L2075.2 200.5L2073.5 200.8L2071.8 201.2L2070.2 201.5L2068.5 201.8L2066.8 202.2L2065.1 202.5L2063.4 202.9L2061.8 203.2L2060.1 203.6L2058.4 204.0L2056.8 204.3L2055.1 204.7L2053.4 205.1L2051.7 205.5L2050.1 205.9L2048.4 206.3L2046.8 206.8L2045.1 207.2L2043.4 207.6L2041.8 208.0L2040.1 208.5L2038.5 208.9L2036.8 209.3L2035.2 209.8L2033.5 210.2L2031.8 210.7L2030.2 211.1L2028.5 211.6L2026.9 212.0L2025.2 212.5L2023.6 213.0L2022.0 213.5L2020.3 213.9L2018.7 214.4L2017.0 214.9L2015.4 215.4L2013.7 215.9L2012.1 216.4L2010.5 216.9L2008.8 217.4L2007.2 217.9L2005.6 218.5L2003.9 219.0L2002.3 219.5L2000.7 220.1L1999.1 220.6L1997.4 221.1L1995.8 221.7L1994.2 222.2L1992.6 222.8L1990.9 223.3L1989.3 223.8L1987.7 224.4L1986.1 224.9L1984.4 225.5L1982.8 226.0L1981.2 226.5L1979.6 227.1L1977.9 227.6L1976.3 228.1L1974.7 228.6L1973.0 229.2L1971.4 229.7L1969.8 230.2L1968.1 230.7L1966.5 231.2L1964.9 231.8L1963.2 232.3L1961.6 232.8L1960.0 233.3L1958.3 233.8L1956.7 234.3L1955.1 234.9L1953.4 235.4L1951.8 235.9L1950.2 236.4L1948.6 237.0L1946.9 237.5L1945.3 238.0L1943.7 238.6L1942.0 239.1L1940.4 239.7L1938.8 240.2L1937.2 240.8L1935.6 241.3L1934.0 241.9L1932.3 242.5L1930.7 243.1L1929.1 243.6L1927.5 244.2L1925.9 244.8L1924.3 245.4L1922.7 246.0L1921.1 246.6L1919.5 247.2L1917.9 247.9L1916.3 248.5L1914.7 249.2L1913.2 249.9L1911.6 250.6L1910.1 251.3L1908.5 252.1L1907.0 253.0L1905.6 253.8L1904.1 254.7L1902.7 255.7L1901.3 256.7L1900.0 257.8L1898.7 258.9L1897.5 260.1L1896.3 261.4L1895.1 262.6L1894.0 263.9L1892.9 265.2L1891.8 266.5L1890.9 268.0L1889.9 269.4L1889.1 270.9L1888.2 272.3L1887.3 273.8L1886.5 275.3L1885.5 276.7L1884.6 278.2L1883.6 279.5L1882.5 280.9L1881.5 282.3L1880.6 283.7L1879.8 285.2L1879.0 286.8L1878.4 288.3L1877.7 289.9L1877.2 291.6L1876.6 293.2L1876.1 294.8L1875.6 296.4L1875.1 298.1L1874.6 299.7L1874.1 301.4L1873.7 303.0L1873.2 304.7L1872.7 306.3L1872.2 308.0L1871.8 309.6L1871.3 311.3L1870.8 312.9L1870.3 314.5L1869.8 316.2L1869.3 317.8L1868.8 319.5L1868.3 321.1L1867.8 322.7L1867.3 324.4L1866.8 326.0L1866.3 327.6L1865.8 329.3L1865.3 330.9L1864.8 332.6L1864.3 334.2L1863.8 335.9L1863.4 337.5L1862.9 339.1L1862.4 340.8L1862.0 342.5L1861.6 344.1L1861.1 345.8L1860.7 347.4L1860.3 349.1L1859.9 350.8L1859.5 352.4L1859.1 354.1L1858.7 355.8L1858.3 357.4L1857.9 359.1L1857.5 360.8L1857.1 362.4L1856.7 364.1L1856.4 365.8L1856.0 367.4L1855.6 369.1L1855.3 370.8L1854.9 372.5L1854.5 374.1L1854.2 375.8L1853.8 377.5L1853.5 379.2L1853.1 380.8L1852.8 382.5L1852.5 384.2L1852.2 385.9L1851.9 387.6L1851.5 389.3L1851.2 390.9L1850.9 392.6L1850.6 394.3L1850.3 396.0L1850.0 397.7L1849.7 399.4L1849.5 401.1L1849.2 402.8L1848.9 404.4L1848.6 406.1L1848.3 407.8L1848.0 409.5L1847.8 411.2L1847.5 412.9L1847.2 414.6L1847.0 416.3L1846.7 418.0L1846.5 419.7L1846.2 421.4L1846.0 423.1L1845.7 424.8L1845.5 426.5L1845.2 428.2L1845.0 429.9L1844.8 431.6L1844.6 433.2L1844.3 434.9L1844.1 436.6L1843.9 438.3L1843.7 440.0L1843.5 441.8L1843.3 443.5L1843.1 445.2L1842.9 446.9L1842.8 448.6L1842.6 450.3L1842.4 452.0L1842.2 453.7L1842.0 455.4L1841.9 457.1L1841.7 458.8L1841.5 460.5L1841.3 462.2L1841.2 463.9L1841.0 465.6L1840.8 467.3L1840.7 469.0L1840.5 470.7L1840.4 472.4L1840.2 474.1L1840.1 475.8L1839.9 477.5L1839.8 479.2L1839.6 481.0L1839.5 482.7L1839.4 484.4L1839.2 486.1L1839.1 487.8L1839.0 489.5L1838.9 491.2L1838.8 492.9L1838.7 494.6L1838.6 496.3L1838.5 498.0L1838.4 499.8L1838.3 501.5L1838.2 503.2L1838.1 504.9L1838.0 506.6L1837.9 508.3L1837.8 510.0L1837.7 511.7L1837.7 513.4L1837.6 515.2L1837.5 516.9L1837.4 518.6L1837.3 520.3L1837.2 522.0" fill="none" stroke="#a67ee0" stroke-width="1.5" stroke-linejoin="round"/>
<path d="M2125.8 192.6L2124.1 192.9L2122.5 193.2L2120.8 193.6L2119.1 193.9L2117.4 194.2L2115.8 194.5L2114.1 194.8L2112.4 195.2L2110.7 195.5L2109.1 195.8L2107.4 196.1L2105.7 196.4L2104.0 196.7L2102.4 197.0L2100.7 197.3L2099.0 197.6L2097.3 197.9L2095.7 198.2L2094.0 198.5L2092.3 198.8L2090.6 199.0L2088.9 199.3L2087.3 199.6L2085.6 199.9L2083.9 200.2L2082.2 200.5L2080.5 200.8L2078.9 201.1L2077.2 201.4L2075.5 201.7L2073.8 202.0L2072.2 202.3L2070.5 202.6L2068.8 203.0L2067.1 203.3L2065.5 203.6L2063.8 204.0L2062.1 204.4L2060.5 204.7L2058.8 205.1L2057.2 205.5L2055.5 205.9L2053.9 206.3L2052.2 206.7L2050.5 207.1L2048.9 207.5L2047.2 208.0L2045.6 208.4L2043.9 208.8L2042.3 209.3L2040.7 209.7L2039.0 210.2L2037.4 210.6L2035.7 211.1L2034.1 211.5L2032.4 212.0L2030.8 212.4L2029.2 212.9L2027.5 213.4L2025.9 213.9L2024.3 214.3L2022.6 214.8L2021.0 215.3L2019.4 215.8L2017.7 216.3L2016.1 216.8L2014.5 217.3L2012.9 217.9L2011.2 218.4L2009.6 218.9L2008.0 219.4L2006.4 220.0L2004.8 220.5L2003.2 221.1L2001.6 221.6L1999.9 222.2L1998.3 222.7L1996.7 223.3L1995.1 223.8L1993.5 224.4L1991.9 224.9L1990.3 225.5L1988.7 226.0L1987.1 226.6L1985.4 227.2L1983.8 227.7L1982.2 228.2L1980.6 228.8L1979.0 229.3L1977.4 229.9L1975.8 230.4L1974.1 230.9L1972.5 231.5L1970.9 232.0L1969.3 232.5L1967.7 233.1L1966.0 233.6L1964.4 234.1L1962.8 234.7L1961.2 235.2L1959.6 235.7L1957.9 236.2L1956.3 236.8L1954.7 237.3L1953.1 237.8L1951.5 238.4L1949.9 238.9L1948.2 239.5L1946.6 240.0L1945.0 240.5L1943.4 241.1L1941.8 241.6L1940.2 242.2L1938.6 242.8L1937.0 243.3L1935.4 243.9L1933.8 244.5L1932.2 245.1L1930.6 245.7L1929.0 246.2L1927.4 246.8L1925.8 247.4L1924.2 248.0L1922.6 248.6L1921.0 249.2L1919.4 249.9L1917.8 250.5L1916.3 251.2L1914.7 251.8L1913.1 252.6L1911.6 253.3L1910.1 254.1L1908.6 254.9L1907.1 255.7L1905.7 256.6L1904.2 257.6L1902.9 258.6L1901.5 259.6L1900.3 260.7L1899.0 261.9L1897.8 263.1L1896.6 264.3L1895.4 265.6L1894.3 266.8L1893.3 268.2L1892.3 269.6L1891.4 271.0L1890.5 272.5L1889.6 273.9L1888.7 275.4L1887.9 276.9L1886.9 278.3L1885.9 279.7L1884.9 281.0L1883.9 282.4L1882.9 283.7L1881.9 285.2L1881.1 286.6L1880.3 288.2L1879.6 289.7L1879.0 291.3L1878.4 292.9L1877.9 294.5L1877.4 296.1L1876.9 297.8L1876.4 299.4L1875.9 301.0L1875.4 302.7L1875.0 304.3L1874.5 306.0L1874.0 307.6L1873.6 309.2L1873.1 310.9L1872.6 312.5L1872.2 314.2L1871.7 315.8L1871.2 317.4L1870.7 319.0L1870.2 320.7L1869.7 322.3L1869.2 323.9L1868.7 325.6L1868.2 327.2L1867.7 328.8L1867.2 330.4L1866.7 332.1L1866.2 333.7L1865.7 335.3L1865.3 337.0L1864.8 338.6L1864.3 340.3L1863.9 341.9L1863.4 343.5L1863.0 345.2L1862.6 346.8L1862.1 348.5L1861.7 350.1L1861.3 351.8L1860.9 353.4L1860.5 355.1L1860.1 356.8L1859.8 358.4L1859.4 360.1L1859.0 361.7L1858.6 363.4L1858.3 365.1L1857.9 366.7L1857.5 368.4L1857.2 370.1L1856.8 371.7L1856.5 373.4L1856.1 375.1L1855.8 376.7L1855.4 378.4L1855.1 380.1L1854.7 381.7L1854.4 383.4L1854.1 385.1L1853.7 386.8L1853.4 388.4L1853.1 390.1L1852.8 391.8L1852.5 393.4L1852.2 395.1L1851.9 396.8L1851.6 398.5L1851.2 400.1L1850.9 401.8L1850.6 403.5L1850.4 405.2L1850.1 406.9L1849.8 408.5L1849.5 410.2L1849.2 411.9L1848.9 413.6L1848.6 415.3L1848.4 416.9L1848.1 418.6L1847.8 420.3L1847.6 422.0L1847.3 423.7L1847.1 425.4L1846.8 427.0L1846.6 428.7L1846.4 430.4L1846.1 432.1L1845.9 433.8L1845.7 435.5L1845.4 437.2L1845.2 438.9L1845.0 440.6L1844.8 442.2L1844.6 443.9L1844.4 445.6L1844.2 447.3L1844.0 449.0L1843.8 450.7L1843.6 452.4L1843.4 454.1L1843.2 455.8L1843.0 457.5L1842.9 459.2L1842.7 460.9L1842.5 462.6L1842.3 464.2L1842.1 465.9L1842.0 467.6L1841.8 469.3L1841.6 471.0L1841.4 472.7L1841.3 474.4L1841.1 476.1L1841.0 477.8L1840.8 479.5L1840.6 481.2L1840.5 482.9L1840.4 484.6L1840.2 486.3L1840.1 488.0L1839.9 489.7L1839.8 491.4L1839.7 493.1L1839.6 494.8L1839.5 496.5L1839.4 498.2L1839.3 499.9L1839.2 501.6L1839.1 503.3L1839.0 505.0L1838.9 506.7L1838.8 508.4L1838.7 510.1L1838.6 511.8L1838.5 513.5L1838.4 515.2L1838.3 516.9L1838.2 518.6L1838.1 520.3L1838.0 522.0" fill="none" stroke="#c49c2e" stroke-width="1.5" stroke-linejoin="round"/>
<path d="M2123.0 178.0L2121.7 178.4L2120.4 178.9L2119.2 179.3L2117.9 179.8L2116.6 180.2L2115.3 180.7L2114.0 181.1L2112.8 181.5L2111.5 182.0L2110.2 182.4L2108.9 182.9L2107.6 183.3L2106.4 183.8L2105.1 184.2L2103.8 184.7L2102.5 185.1L2101.3 185.6L2100.0 186.0L2098.7 186.4L2097.4 186.9L2096.1 187.3L2094.8 187.7L2093.5 188.1L2092.3 188.6L2091.0 189.0L2089.7 189.4L2088.4 189.8L2087.1 190.2L2085.8 190.7L2084.5 191.1L2083.3 191.6L2082.0 192.0L2080.7 192.5L2079.5 193.1L2078.2 193.6L2077.0 194.2L2075.8 194.8L2074.6 195.4L2073.4 196.0L2072.2 196.7L2071.1 197.4L2069.9 198.1L2068.7 198.8L2067.6 199.5L2066.5 200.3L2065.3 201.0L2064.2 201.8L2063.1 202.6L2062.0 203.3L2060.9 204.1L2059.8 204.9L2058.7 205.8L2057.7 206.6L2056.6 207.4L2055.5 208.3L2054.5 209.1L2053.4 210.0L2052.4 210.8L2051.4 211.7L2050.4 212.6L2049.4 213.6L2048.4 214.5L2047.5 215.5L2046.5 216.5L2045.6 217.4L2044.7 218.4L2043.8 219.4L2042.9 220.5L2042.0 221.5L2041.1 222.5L2040.3 223.5L2039.4 224.6L2038.6 225.7L2037.8 226.8L2037.0 227.9L2036.2 229.0L2035.5 230.1L2034.7 231.3L2034.0 232.4L2033.3 233.5L2032.5 234.7L2031.8 235.8L2031.1 237.0L2030.3 238.1L2029.6 239.2L2028.9 240.4L2028.1 241.5L2027.4 242.6L2026.7 243.8L2026.0 245.0L2025.3 246.1L2024.7 247.3L2024.0 248.5L2023.4 249.7L2022.8 250.9L2022.3 252.2L2021.7 253.4L2021.2 254.7L2020.7 255.9L2020.1 257.2L2019.6 258.4L2019.1 259.7L2018.7 260.9L2018.2 262.2L2017.8 263.5L2017.3 264.8L2016.9 266.1L2016.5 267.3L2016.1 268.6L2015.7 269.9L2015.3 271.2L2015.0 272.6L2014.7 273.9L2014.4 275.2L2014.1 276.5L2013.8 277.8L2013.5 279.2L2013.2 280.5L2012.9 281.8L2012.6 283.1L2012.3 284.4L2012.0 285.8L2011.7 287.1L2011.3 288.4L2011.0 289.7L2010.6 291.0L2010.2 292.3L2009.9 293.6L2009.5 294.9L2009.1 296.2L2008.7 297.5L2008.3 298.8L2007.9 300.1L2007.5 301.4L2007.1 302.7L2006.7 304.0L2006.3 305.3L2005.9 306.6L2005.5 307.8L2005.1 309.1L2004.7 310.4L2004.3 311.7L2003.9 313.0L2003.6 314.3L2003.2 315.6L2002.9 317.0L2002.5 318.3L2002.2 319.6L2001.8 320.9L2001.5 322.2L2001.2 323.5L2000.9 324.8L2000.5 326.1L2000.2 327.5L1999.9 328.8L1999.6 330.1L1999.3 331.4L1999.0 332.7L1998.7 334.1L1998.4 335.4L1998.1 336.7L1997.8 338.0L1997.5 339.4L1997.2 340.7L1996.9 342.0L1996.7 343.3L1996.4 344.6L1996.1 346.0L1995.8 347.3L1995.5 348.6L1995.3 349.9L1995.0 351.3L1994.7 352.6L1994.4 353.9L1994.2 355.3L1993.9 356.6L1993.7 357.9L1993.4 359.2L1993.1 360.6L1992.9 361.9L1992.6 363.2L1992.4 364.6L1992.1 365.9L1991.9 367.2L1991.6 368.6L1991.4 369.9L1991.1 371.2L1990.9 372.6L1990.7 373.9L1990.4 375.2L1990.2 376.6L1990.0 377.9L1989.7 379.2L1989.5 380.6L1989.3 381.9L1989.0 383.2L1988.8 384.6L1988.6 385.9L1988.4 387.2L1988.1 388.6L1987.9 389.9L1987.7 391.2L1987.5 392.6L1987.3 393.9L1987.1 395.3L1986.9 396.6L1986.7 397.9L1986.5 399.3L1986.3 400.6L1986.1 402.0L1985.9 403.3L1985.7 404.6L1985.5 406.0L1985.3 407.3L1985.1 408.7L1985.0 410.0L1984.8 411.4L1984.6 412.7L1984.4 414.0L1984.2 415.4L1984.1 416.7L1983.9 418.1L1983.7 419.4L1983.6 420.8L1983.4 422.1L1983.3 423.4L1983.1 424.8L1982.9 426.1L1982.8 427.5L1982.6 428.8L1982.5 430.2L1982.4 431.5L1982.2 432.9L1982.1 434.2L1982.0 435.6L1981.8 436.9L1981.7 438.3L1981.6 439.6L1981.4 441.0L1981.3 442.3L1981.2 443.7L1981.1 445.0L1980.9 446.4L1980.8 447.7L1980.7 449.0L1980.5 450.4L1980.4 451.7L1980.3 453.1L1980.1 454.4L1980.0 455.8L1979.8 457.1L1979.7 458.5L1979.5 459.8L1979.4 461.2L1979.3 462.5L1979.1 463.9L1979.0 465.2L1978.8 466.6L1978.7 467.9L1978.6 469.3L1978.5 470.6L1978.3 472.0L1978.2 473.3L1978.1 474.7L1978.0 476.0L1977.9 477.4L1977.8 478.7L1977.7 480.1L1977.6 481.4L1977.6 482.8L1977.5 484.1L1977.4 485.5L1977.3 486.8L1977.3 488.2L1977.2 489.5L1977.1 490.9L1977.1 492.2L1977.0 493.6L1976.9 494.9L1976.9 496.3L1976.8 497.6L1976.7 499.0L1976.7 500.3L1976.6 501.7L1976.6 503.1L1976.5 504.4L1976.4 505.8L1976.4 507.1L1976.3 508.5L1976.3 509.8L1976.2 511.2L1976.1 512.5L1976.1 513.9L1976.0 515.2L1975.9 516.6L1975.9 517.9L1975.9 519.3L1975.8 520.6L1975.8 522.0" fill="none" stroke="#a67ee0" stroke-width="1.5" stroke-linejoin="round"/>
<path d="M2123.0 178.0L2121.7 178.5L2120.5 178.9L2119.2 179.4L2118.0 179.9L2116.7 180.4L2115.4 180.8L2114.2 181.3L2112.9 181.8L2111.7 182.3L2110.4 182.7L2109.1 183.2L2107.9 183.7L2106.6 184.2L2105.4 184.6L2104.1 185.1L2102.8 185.6L2101.6 186.1L2100.3 186.6L2099.1 187.0L2097.8 187.5L2096.5 187.9L2095.3 188.4L2094.0 188.8L2092.7 189.3L2091.4 189.7L2090.2 190.2L2088.9 190.6L2087.6 191.1L2086.4 191.5L2085.1 192.0L2083.8 192.5L2082.6 193.0L2081.3 193.5L2080.1 194.0L2078.8 194.5L2077.6 195.1L2076.4 195.7L2075.2 196.3L2074.0 196.9L2072.8 197.6L2071.6 198.2L2070.5 198.9L2069.3 199.6L2068.2 200.3L2067.0 201.0L2065.9 201.7L2064.7 202.5L2063.6 203.2L2062.5 204.0L2061.4 204.7L2060.3 205.5L2059.2 206.3L2058.1 207.1L2057.0 207.9L2056.0 208.7L2054.9 209.6L2053.8 210.4L2052.8 211.3L2051.8 212.2L2050.8 213.0L2049.8 214.0L2048.8 214.9L2047.8 215.8L2046.9 216.8L2046.0 217.8L2045.1 218.8L2044.2 219.8L2043.3 220.8L2042.4 221.8L2041.5 222.9L2040.7 223.9L2039.9 225.0L2039.1 226.1L2038.3 227.2L2037.5 228.3L2036.8 229.4L2036.0 230.6L2035.3 231.7L2034.6 232.8L2033.9 234.0L2033.2 235.1L2032.5 236.3L2031.8 237.4L2031.0 238.6L2030.3 239.7L2029.6 240.9L2028.9 242.0L2028.2 243.2L2027.5 244.3L2026.9 245.5L2026.2 246.7L2025.6 247.9L2025.0 249.1L2024.4 250.3L2023.8 251.5L2023.3 252.8L2022.7 254.0L2022.2 255.2L2021.7 256.5L2021.2 257.7L2020.7 259.0L2020.2 260.2L2019.7 261.5L2019.3 262.8L2018.8 264.1L2018.4 265.3L2017.9 266.6L2017.5 267.9L2017.1 269.2L2016.7 270.5L2016.4 271.8L2016.0 273.1L2015.7 274.4L2015.4 275.7L2015.1 277.0L2014.8 278.3L2014.5 279.7L2014.2 281.0L2013.9 282.3L2013.6 283.6L2013.2 284.9L2012.9 286.2L2012.6 287.6L2012.3 288.9L2011.9 290.2L2011.6 291.5L2011.2 292.8L2010.8 294.1L2010.5 295.4L2010.1 296.7L2009.7 298.0L2009.3 299.3L2008.9 300.5L2008.5 301.8L2008.1 303.1L2007.7 304.4L2007.3 305.7L2007.0 307.0L2006.6 308.3L2006.2 309.6L2005.8 310.9L2005.4 312.2L2005.1 313.5L2004.7 314.8L2004.4 316.1L2004.0 317.4L2003.7 318.7L2003.3 320.0L2003.0 321.3L2002.7 322.6L2002.4 324.0L2002.0 325.3L2001.7 326.6L2001.4 327.9L2001.1 329.2L2000.8 330.5L2000.5 331.8L2000.2 333.2L1999.9 334.5L1999.6 335.8L1999.3 337.1L1999.1 338.4L1998.8 339.8L1998.5 341.1L1998.2 342.4L1997.9 343.7L1997.6 345.0L1997.4 346.4L1997.1 347.7L1996.8 349.0L1996.6 350.3L1996.3 351.7L1996.0 353.0L1995.8 354.3L1995.5 355.6L1995.2 357.0L1995.0 358.3L1994.7 359.6L1994.5 360.9L1994.2 362.3L1994.0 363.6L1993.7 364.9L1993.5 366.3L1993.2 367.6L1993.0 368.9L1992.8 370.2L1992.5 371.6L1992.3 372.9L1992.0 374.2L1991.8 375.6L1991.6 376.9L1991.3 378.2L1991.1 379.6L1990.9 380.9L1990.6 382.2L1990.4 383.6L1990.2 384.9L1990.0 386.2L1989.7 387.5L1989.5 388.9L1989.3 390.2L1989.1 391.6L1988.9 392.9L1988.7 394.2L1988.5 395.6L1988.3 396.9L1988.1 398.2L1987.9 399.6L1987.7 400.9L1987.5 402.2L1987.3 403.6L1987.1 404.9L1986.9 406.3L1986.8 407.6L1986.6 408.9L1986.4 410.3L1986.2 411.6L1986.1 413.0L1985.9 414.3L1985.7 415.6L1985.6 417.0L1985.4 418.3L1985.2 419.7L1985.1 421.0L1984.9 422.3L1984.7 423.7L1984.6 425.0L1984.4 426.4L1984.3 427.7L1984.1 429.1L1984.0 430.4L1983.9 431.7L1983.7 433.1L1983.6 434.4L1983.5 435.8L1983.3 437.1L1983.2 438.5L1983.1 439.8L1982.9 441.1L1982.8 442.5L1982.7 443.8L1982.6 445.2L1982.4 446.5L1982.3 447.9L1982.2 449.2L1982.0 450.6L1981.9 451.9L1981.8 453.3L1981.6 454.6L1981.5 455.9L1981.4 457.3L1981.2 458.6L1981.1 460.0L1980.9 461.3L1980.8 462.7L1980.7 464.0L1980.5 465.3L1980.4 466.7L1980.3 468.0L1980.1 469.4L1980.0 470.7L1979.9 472.1L1979.8 473.4L1979.7 474.8L1979.6 476.1L1979.5 477.5L1979.4 478.8L1979.3 480.2L1979.3 481.5L1979.2 482.9L1979.1 484.2L1979.0 485.6L1979.0 486.9L1978.9 488.3L1978.8 489.6L1978.8 491.0L1978.7 492.3L1978.6 493.7L1978.6 495.0L1978.5 496.4L1978.5 497.7L1978.4 499.1L1978.3 500.4L1978.3 501.8L1978.2 503.1L1978.2 504.4L1978.1 505.8L1978.0 507.1L1978.0 508.5L1977.9 509.8L1977.9 511.2L1977.8 512.5L1977.8 513.9L1977.7 515.2L1977.6 516.6L1977.6 517.9L1977.6 519.3L1977.5 520.6L1977.5 522.0" fill="none" stroke="#c49c2e" stroke-width="1.5" stroke-linejoin="round"/>
<path d="M2123.0 178.0L2121.7 178.5L2120.5 179.0L2119.2 179.5L2118.0 180.0L2116.7 180.4L2115.5 180.9L2114.2 181.4L2113.0 181.9L2111.7 182.4L2110.5 182.9L2109.2 183.4L2108.0 183.9L2106.7 184.4L2105.5 184.9L2104.2 185.4L2103.0 185.8L2101.7 186.3L2100.5 186.8L2099.2 187.3L2098.0 187.8L2096.7 188.3L2095.5 188.7L2094.2 189.2L2092.9 189.7L2091.7 190.1L2090.4 190.6L2089.1 191.0L2087.9 191.5L2086.6 192.0L2085.4 192.4L2084.1 192.9L2082.9 193.4L2081.6 193.9L2080.4 194.5L2079.1 195.0L2077.9 195.6L2076.7 196.1L2075.5 196.8L2074.3 197.4L2073.1 198.0L2071.9 198.7L2070.7 199.3L2069.6 200.0L2068.4 200.7L2067.3 201.4L2066.1 202.1L2065.0 202.8L2063.9 203.6L2062.8 204.3L2061.6 205.1L2060.5 205.8L2059.4 206.6L2058.3 207.4L2057.3 208.2L2056.2 209.0L2055.1 209.8L2054.1 210.6L2053.0 211.5L2052.0 212.4L2051.0 213.2L2050.0 214.2L2049.0 215.1L2048.0 216.0L2047.1 217.0L2046.2 218.0L2045.2 219.0L2044.4 220.0L2043.5 221.0L2042.6 222.0L2041.7 223.1L2040.9 224.1L2040.1 225.2L2039.3 226.3L2038.5 227.4L2037.8 228.5L2037.0 229.6L2036.3 230.8L2035.6 231.9L2034.9 233.1L2034.2 234.2L2033.5 235.4L2032.8 236.5L2032.1 237.7L2031.4 238.8L2030.7 240.0L2030.0 241.1L2029.3 242.3L2028.6 243.4L2028.0 244.6L2027.3 245.8L2026.7 247.0L2026.0 248.2L2025.4 249.4L2024.9 250.6L2024.3 251.8L2023.8 253.0L2023.2 254.3L2022.7 255.5L2022.2 256.8L2021.7 258.0L2021.2 259.3L2020.7 260.5L2020.2 261.8L2019.8 263.1L2019.3 264.3L2018.9 265.6L2018.5 266.9L2018.1 268.2L2017.7 269.5L2017.3 270.8L2016.9 272.1L2016.6 273.4L2016.2 274.7L2015.9 276.0L2015.6 277.3L2015.3 278.6L2015.0 279.9L2014.7 281.2L2014.3 282.5L2014.0 283.9L2013.7 285.2L2013.4 286.5L2013.1 287.8L2012.7 289.1L2012.4 290.4L2012.0 291.7L2011.7 293.0L2011.3 294.3L2010.9 295.6L2010.6 296.9L2010.2 298.2L2009.8 299.5L2009.4 300.8L2009.0 302.1L2008.6 303.4L2008.3 304.7L2007.9 305.9L2007.5 307.2L2007.1 308.5L2006.7 309.8L2006.4 311.1L2006.0 312.4L2005.6 313.7L2005.3 315.0L2004.9 316.3L2004.6 317.6L2004.3 318.9L2003.9 320.2L2003.6 321.6L2003.3 322.9L2003.0 324.2L2002.6 325.5L2002.3 326.8L2002.0 328.1L2001.7 329.4L2001.4 330.7L2001.1 332.1L2000.8 333.4L2000.5 334.7L2000.3 336.0L2000.0 337.3L1999.7 338.7L1999.4 340.0L1999.1 341.3L1998.8 342.6L1998.6 343.9L1998.3 345.3L1998.0 346.6L1997.7 347.9L1997.5 349.2L1997.2 350.5L1996.9 351.9L1996.7 353.2L1996.4 354.5L1996.2 355.8L1995.9 357.2L1995.6 358.5L1995.4 359.8L1995.1 361.1L1994.9 362.5L1994.7 363.8L1994.4 365.1L1994.2 366.4L1993.9 367.8L1993.7 369.1L1993.4 370.4L1993.2 371.8L1993.0 373.1L1992.7 374.4L1992.5 375.7L1992.2 377.1L1992.0 378.4L1991.8 379.7L1991.5 381.1L1991.3 382.4L1991.1 383.7L1990.9 385.0L1990.6 386.4L1990.4 387.7L1990.2 389.0L1990.0 390.4L1989.8 391.7L1989.6 393.0L1989.4 394.4L1989.2 395.7L1989.0 397.0L1988.8 398.4L1988.6 399.7L1988.4 401.0L1988.2 402.4L1988.0 403.7L1987.8 405.1L1987.7 406.4L1987.5 407.7L1987.3 409.1L1987.1 410.4L1987.0 411.7L1986.8 413.1L1986.6 414.4L1986.5 415.8L1986.3 417.1L1986.1 418.4L1986.0 419.8L1985.8 421.1L1985.7 422.5L1985.5 423.8L1985.3 425.1L1985.2 426.5L1985.0 427.8L1984.9 429.2L1984.8 430.5L1984.6 431.8L1984.5 433.2L1984.3 434.5L1984.2 435.9L1984.1 437.2L1983.9 438.6L1983.8 439.9L1983.7 441.2L1983.6 442.6L1983.4 443.9L1983.3 445.3L1983.2 446.6L1983.0 448.0L1982.9 449.3L1982.8 450.6L1982.7 452.0L1982.5 453.3L1982.4 454.7L1982.3 456.0L1982.1 457.4L1982.0 458.7L1981.8 460.0L1981.7 461.4L1981.6 462.7L1981.4 464.1L1981.3 465.4L1981.2 466.8L1981.0 468.1L1980.9 469.4L1980.8 470.8L1980.7 472.1L1980.6 473.5L1980.5 474.8L1980.4 476.2L1980.3 477.5L1980.2 478.9L1980.1 480.2L1980.1 481.6L1980.0 482.9L1979.9 484.3L1979.8 485.6L1979.8 486.9L1979.7 488.3L1979.6 489.6L1979.6 491.0L1979.5 492.3L1979.5 493.7L1979.4 495.0L1979.3 496.4L1979.3 497.7L1979.2 499.1L1979.2 500.4L1979.1 501.8L1979.1 503.1L1979.0 504.5L1978.9 505.8L1978.9 507.2L1978.8 508.5L1978.8 509.9L1978.7 511.2L1978.7 512.6L1978.6 513.9L1978.5 515.3L1978.5 516.6L1978.4 518.0L1978.4 519.3L1978.4 520.7L1978.3 522.0" fill="none" stroke="#3fae62" stroke-width="1.5" stroke-linejoin="round"/>
<path d="M2123.0 178.0L2121.8 178.5L2120.6 179.1L2119.4 179.6L2118.1 180.2L2116.9 180.8L2115.7 181.3L2114.5 181.9L2113.3 182.4L2112.1 183.0L2110.9 183.5L2109.7 184.1L2108.5 184.6L2107.3 185.2L2106.0 185.7L2104.8 186.3L2103.6 186.8L2102.4 187.4L2101.2 187.9L2100.0 188.5L2098.8 189.0L2097.5 189.6L2096.3 190.1L2095.1 190.6L2093.9 191.1L2092.6 191.6L2091.4 192.1L2090.2 192.7L2088.9 193.2L2087.7 193.7L2086.5 194.2L2085.2 194.7L2084.0 195.3L2082.8 195.8L2081.5 196.3L2080.3 196.9L2079.1 197.4L2077.9 198.0L2076.7 198.6L2075.5 199.2L2074.3 199.8L2073.1 200.4L2071.9 201.0L2070.7 201.6L2069.5 202.3L2068.4 202.9L2067.2 203.6L2066.0 204.2L2064.9 204.9L2063.7 205.6L2062.6 206.3L2061.5 207.0L2060.4 207.7L2059.2 208.5L2058.1 209.2L2057.0 210.0L2056.0 210.8L2054.9 211.5L2053.8 212.4L2052.8 213.2L2051.7 214.0L2050.7 214.9L2049.7 215.8L2048.8 216.8L2047.8 217.7L2046.9 218.7L2046.0 219.7L2045.1 220.7L2044.3 221.7L2043.4 222.8L2042.6 223.8L2041.8 224.9L2041.0 226.0L2040.3 227.1L2039.5 228.2L2038.8 229.4L2038.1 230.5L2037.4 231.6L2036.8 232.8L2036.1 234.0L2035.4 235.1L2034.8 236.3L2034.1 237.5L2033.5 238.6L2032.8 239.8L2032.2 241.0L2031.5 242.1L2030.9 243.3L2030.2 244.5L2029.6 245.7L2029.0 246.9L2028.4 248.1L2027.9 249.3L2027.3 250.5L2026.8 251.7L2026.2 253.0L2025.7 254.2L2025.2 255.4L2024.7 256.7L2024.2 257.9L2023.8 259.2L2023.3 260.4L2022.8 261.7L2022.4 263.0L2021.9 264.2L2021.5 265.5L2021.0 266.8L2020.6 268.0L2020.2 269.3L2019.8 270.6L2019.4 271.9L2019.0 273.1L2018.6 274.4L2018.3 275.7L2017.9 277.0L2017.6 278.3L2017.3 279.6L2016.9 280.9L2016.6 282.2L2016.3 283.5L2016.0 284.8L2015.6 286.1L2015.3 287.4L2015.0 288.7L2014.6 290.0L2014.3 291.3L2013.9 292.6L2013.6 293.9L2013.2 295.2L2012.9 296.5L2012.5 297.8L2012.2 299.1L2011.8 300.4L2011.4 301.7L2011.1 303.0L2010.7 304.3L2010.4 305.6L2010.0 306.9L2009.6 308.2L2009.3 309.4L2008.9 310.7L2008.6 312.0L2008.2 313.3L2007.9 314.6L2007.6 315.9L2007.2 317.2L2006.9 318.5L2006.6 319.8L2006.3 321.1L2006.0 322.4L2005.6 323.7L2005.3 325.1L2005.0 326.4L2004.7 327.7L2004.4 329.0L2004.1 330.3L2003.9 331.6L2003.6 332.9L2003.3 334.2L2003.0 335.5L2002.7 336.9L2002.4 338.2L2002.2 339.5L2001.9 340.8L2001.6 342.1L2001.4 343.4L2001.1 344.7L2000.8 346.1L2000.6 347.4L2000.3 348.7L2000.0 350.0L1999.8 351.3L1999.5 352.6L1999.3 354.0L1999.0 355.3L1998.8 356.6L1998.5 357.9L1998.3 359.2L1998.1 360.6L1997.8 361.9L1997.6 363.2L1997.3 364.5L1997.1 365.8L1996.9 367.2L1996.6 368.5L1996.4 369.8L1996.2 371.1L1995.9 372.5L1995.7 373.8L1995.4 375.1L1995.2 376.4L1995.0 377.7L1994.7 379.1L1994.5 380.4L1994.3 381.7L1994.1 383.0L1993.8 384.4L1993.6 385.7L1993.4 387.0L1993.2 388.3L1993.0 389.7L1992.7 391.0L1992.5 392.3L1992.3 393.6L1992.1 395.0L1991.9 396.3L1991.7 397.6L1991.6 398.9L1991.4 400.3L1991.2 401.6L1991.0 402.9L1990.9 404.3L1990.7 405.6L1990.5 406.9L1990.3 408.3L1990.2 409.6L1990.0 410.9L1989.9 412.3L1989.7 413.6L1989.6 414.9L1989.4 416.3L1989.2 417.6L1989.1 418.9L1988.9 420.3L1988.8 421.6L1988.6 422.9L1988.5 424.3L1988.3 425.6L1988.2 426.9L1988.0 428.3L1987.9 429.6L1987.8 430.9L1987.6 432.3L1987.5 433.6L1987.3 434.9L1987.2 436.3L1987.1 437.6L1986.9 439.0L1986.8 440.3L1986.7 441.6L1986.6 443.0L1986.4 444.3L1986.3 445.6L1986.2 447.0L1986.0 448.3L1985.9 449.6L1985.8 451.0L1985.7 452.3L1985.5 453.7L1985.4 455.0L1985.3 456.3L1985.2 457.7L1985.0 459.0L1984.9 460.3L1984.8 461.7L1984.6 463.0L1984.5 464.3L1984.4 465.7L1984.3 467.0L1984.2 468.4L1984.1 469.7L1984.0 471.0L1983.9 472.4L1983.8 473.7L1983.7 475.1L1983.6 476.4L1983.5 477.7L1983.4 479.1L1983.3 480.4L1983.3 481.8L1983.2 483.1L1983.1 484.4L1983.1 485.8L1983.0 487.1L1983.0 488.5L1982.9 489.8L1982.8 491.1L1982.8 492.5L1982.7 493.8L1982.7 495.2L1982.6 496.5L1982.6 497.8L1982.5 499.2L1982.5 500.5L1982.4 501.9L1982.4 503.2L1982.3 504.6L1982.3 505.9L1982.2 507.2L1982.2 508.6L1982.1 509.9L1982.1 511.3L1982.0 512.6L1982.0 513.9L1981.9 515.3L1981.9 516.6L1981.8 518.0L1981.8 519.3L1981.8 520.7L1981.8 522.0" fill="none" stroke="#3a66dd" stroke-width="1.5" stroke-linejoin="round"/>
<path d="M2122.8 177.6L2121.4 179.7L2120.6 180.3L2118.9 180.5L2117.0 180.6L2116.6 183.0L2114.7 182.9L2113.8 184.6L2112.0 184.7L2110.7 185.7L2108.9 185.9L2108.0 186.4L2106.4 186.9L2105.6 189.7L2104.2 190.5L2102.5 190.8L2101.5 192.2L2099.9 192.6L2098.2 190.0L2097.2 192.4L2095.5 195.9L2094.6 197.9L2092.8 196.4L2091.9 198.1L2090.3 198.6L2089.0 199.6L2087.6 200.4L2085.3 199.5L2084.1 200.7L2083.1 202.3L2081.5 202.6L2079.6 202.3L2079.0 205.1L2077.0 204.6L2075.7 205.5L2073.7 205.0L2072.2 205.6L2070.8 206.3L2069.1 206.5L2068.0 207.9L2066.4 208.4L2065.3 209.7L2063.9 210.5L2062.5 211.2L2060.7 211.5L2059.6 212.7L2057.6 212.6L2056.9 214.4L2054.9 214.4L2053.3 214.9L2052.5 216.7L2051.4 217.7L2050.5 219.1L2048.2 219.2L2048.3 221.4L2047.2 222.6L2045.0 223.0L2045.0 225.0L2043.9 226.2L2042.7 227.4L2042.8 229.3L2042.0 230.7L2040.4 231.7L2041.1 232.8L2039.9 235.0L2040.2 236.2L2039.6 238.4L2038.6 239.7L2037.3 240.9L2037.3 242.7L2035.4 243.6L2035.0 245.2L2034.9 246.9L2034.5 248.4L2033.4 249.8L2033.0 251.3L2032.6 252.9L2031.6 254.2L2031.5 255.9L2029.8 257.0L2030.0 258.8L2029.0 260.1L2028.6 261.7L2028.6 263.4L2029.2 265.3L2027.2 266.3L2027.2 268.0L2027.0 269.7L2025.8 271.0L2025.9 270.9L2024.6 274.0L2023.6 275.3L2024.2 277.2L2022.8 278.5L2024.1 280.5L2021.0 281.3L2021.3 283.1L2021.3 284.7L2021.1 286.4L2021.6 288.2L2019.5 289.3L2019.3 290.9L2020.4 292.8L2018.9 294.1L2017.4 295.4L2018.5 297.3L2016.6 298.5L2017.4 300.3L2018.6 302.3L2015.4 303.2L2016.9 305.2L2015.7 300.9L2016.1 308.4L2015.2 313.1L2014.1 311.2L2015.9 313.2L2014.3 314.5L2013.6 316.0L2014.2 317.8L2013.5 319.3L2014.2 321.1L2012.7 319.5L2012.5 324.0L2010.0 325.1L2011.8 327.2L2011.5 328.7L2010.3 329.7L2010.6 331.8L2010.1 333.4L2009.8 336.3L2008.6 336.3L2009.7 338.2L2008.5 339.6L2008.6 341.3L2007.3 341.3L2008.0 344.4L2007.3 346.0L2006.7 347.5L2007.0 349.2L2007.5 350.9L2006.6 352.4L2006.3 353.9L2005.5 355.4L2005.7 357.1L2006.2 358.8L2004.7 362.7L2004.5 361.8L2006.0 363.7L2003.4 364.9L2004.9 366.8L2004.2 368.3L2003.2 369.7L2003.9 371.5L2001.7 373.3L2001.5 374.4L2002.5 378.5L2001.6 377.7L2001.6 379.3L2001.6 380.9L2000.8 382.4L2001.9 384.2L2000.5 385.6L2000.8 387.3L1999.8 388.8L2000.6 392.4L1999.3 392.0L2000.0 393.7L1998.7 395.1L1999.1 396.8L1999.7 398.5L1998.8 400.0L1998.2 401.6L1998.9 403.3L1997.2 404.7L1998.2 406.4L1997.4 408.0L1998.1 410.2L1996.9 411.2L1998.2 416.3L1996.9 414.4L1997.5 416.1L1996.8 417.6L1995.6 419.1L1996.6 420.8L1995.1 422.3L1996.2 424.0L1996.5 425.7L1995.5 427.2L1993.8 428.6L1995.8 430.5L1994.7 432.0L1994.9 433.6L1995.5 435.3L1995.9 436.9L1994.8 438.4L1993.6 439.9L1994.2 441.6L1992.9 443.1L1994.5 444.9L1993.5 446.4L1993.8 448.0L1992.6 449.6L1991.9 451.1L1993.4 452.9L1993.1 454.5L1993.1 456.1L1993.0 457.7L1992.9 459.3L1993.4 460.9L1991.5 462.4L1993.3 464.2L1993.2 465.8L1991.4 467.2L1992.1 467.5L1991.5 470.5L1992.9 472.2L1991.7 475.1L1992.4 475.4L1991.3 476.9L1991.8 478.6L1991.6 480.2L1992.0 481.8L1988.8 483.3L1992.7 485.0L1991.1 486.6L1990.8 488.2L1991.3 489.8L1991.8 491.4L1991.3 496.7L1990.4 494.6L1991.8 496.3L1990.7 497.9L1990.1 499.3L1990.9 494.9L1991.2 502.7L1990.6 504.3L1989.4 505.9L1990.7 507.5L1991.8 509.2L1990.4 510.7L1989.6 512.3L1990.4 514.0L1990.2 515.6L1990.5 517.2L1990.0 518.8L1989.8 520.4L1991.1 522.0" fill="none" stroke="#e8333a" stroke-width="1.6" stroke-linejoin="round"/>
<path d="M2122.8 177.7L2121.0 178.0L2120.9 180.6L2118.9 180.6L2117.9 182.0L2116.0 182.0L2115.2 183.7L2113.2 185.4L2112.6 185.6L2109.7 184.3L2109.7 187.1L2107.8 187.2L2107.3 189.3L2105.9 190.1L2103.3 189.1L2102.9 191.5L2101.7 192.5L2100.1 193.1L2099.5 195.1L2097.8 195.4L2096.0 195.5L2096.0 198.5L2092.9 196.6L2093.1 208.7L2090.0 198.1L2090.1 201.6L2088.1 201.1L2087.1 202.8L2085.4 203.1L2083.7 203.2L2082.0 203.4L2080.6 204.2L2078.9 204.2L2077.0 203.9L2076.1 206.0L2074.3 205.6L2072.7 206.1L2071.9 207.3L2069.9 207.6L2068.9 209.6L2066.7 210.7L2065.1 204.9L2064.4 207.4L2062.8 211.6L2061.5 212.7L2060.7 214.5L2058.6 214.1L2057.1 214.7L2055.1 214.6L2053.7 215.5L2052.4 214.0L2053.5 220.3L2051.1 220.0L2049.3 220.4L2048.3 221.8L2047.4 223.1L2046.8 224.7L2043.9 219.9L2043.9 224.0L2045.5 229.4L2045.7 231.3L2042.1 231.3L2041.5 232.8L2041.5 234.5L2040.1 235.7L2039.5 237.2L2039.7 239.0L2039.5 240.4L2041.2 243.1L2038.1 243.5L2037.2 244.9L2037.3 246.7L2035.8 247.8L2034.1 248.9L2034.3 249.9L2033.5 252.2L2033.7 253.9L2034.3 255.8L2033.3 257.2L2032.4 258.6L2031.3 259.9L2031.8 261.8L2031.2 263.3L2029.6 264.5L2029.5 266.1L2028.9 267.6L2028.5 269.2L2027.3 270.5L2027.6 272.3L2026.7 273.7L2025.9 275.1L2026.0 276.9L2025.4 279.4L2025.6 280.1L2024.5 281.4L2023.5 285.8L2021.8 284.0L2022.9 286.0L2018.9 286.9L2021.3 288.1L2021.9 290.7L2020.0 291.9L2020.0 293.6L2019.4 295.1L2019.1 296.7L2020.6 298.7L2019.4 300.1L2018.9 301.6L2019.1 303.3L2017.8 304.6L2018.1 306.4L2017.8 307.9L2019.0 309.9L2016.6 311.0L2015.9 312.5L2015.9 314.1L2016.2 315.9L2013.3 316.9L2013.8 318.6L2014.5 320.4L2013.5 321.9L2014.0 323.6L2013.4 325.1L2014.6 327.0L2014.7 328.7L2012.6 329.9L2012.7 331.6L2013.4 333.4L2012.3 334.8L2011.1 336.2L2010.8 337.8L2010.8 339.4L2011.9 341.3L2010.5 342.6L2008.6 343.9L2008.9 344.4L2006.7 346.9L2010.1 349.1L2008.4 346.3L2008.0 350.6L2009.2 353.8L2009.1 355.5L2007.9 356.9L2008.2 355.8L2005.6 362.8L2007.2 361.7L2007.8 363.4L2008.0 365.1L2005.2 366.3L2006.4 368.1L2003.5 363.5L2004.3 371.0L2005.8 372.9L2004.4 374.3L2002.8 375.7L2005.1 376.5L2003.9 379.1L2004.6 380.9L2004.0 382.4L2002.8 383.8L2002.9 385.5L2000.5 386.7L2002.7 388.7L2002.0 385.3L2000.3 391.6L2001.9 393.5L2000.7 394.9L2000.6 396.6L2000.5 398.2L2000.6 399.8L2001.6 401.6L2001.7 403.2L1999.1 404.5L2000.7 408.0L2001.0 407.9L1999.5 409.4L1998.9 410.4L2000.1 412.7L1998.1 417.6L1997.3 415.7L1999.8 417.5L1999.7 419.2L1997.2 420.5L1998.7 416.2L1997.0 423.8L1998.9 425.6L1997.8 427.1L1999.5 428.9L1995.9 430.1L1996.9 431.8L1999.3 433.7L1996.8 435.1L1997.6 436.8L1996.5 438.3L1997.0 439.9L1997.7 441.6L1998.7 443.4L1997.8 444.9L1996.1 446.3L1995.5 447.9L1997.2 449.7L1996.8 451.2L1997.4 452.9L1996.1 454.4L1993.6 455.8L1995.9 457.6L1993.9 459.1L1994.6 460.8L1992.9 463.2L1994.5 461.4L1994.6 465.6L1994.7 467.2L1995.5 468.9L1993.6 470.4L1995.0 472.1L1994.8 473.7L1992.7 475.2L1992.2 476.8L1994.8 476.8L1993.3 480.1L1994.4 481.7L1994.2 483.3L1992.5 484.9L1992.0 485.1L1994.1 488.2L1991.9 489.7L1994.2 491.4L1994.0 493.0L1993.0 494.6L1992.0 496.2L1992.2 497.8L1992.8 499.4L1991.3 501.0L1993.1 502.7L1991.5 499.8L1991.6 505.9L1994.2 507.5L1992.5 509.1L1990.2 510.7L1991.5 512.3L1993.1 513.9L1992.9 509.3L1992.4 517.2L1993.8 518.8L1994.5 523.1L1993.2 524.2" fill="none" stroke="#3a3a3a" stroke-width="1.6" stroke-linejoin="round"/>
<path d="M2123.0 180.8L2121.9 182.5L2120.4 184.6L2118.7 187.2L2116.7 190.1L2114.6 193.2L2112.4 196.4L2110.1 199.7L2107.9 202.9L2105.7 205.9L2103.6 208.6L2101.6 211.2L2099.5 213.8L2097.5 216.3L2095.4 218.9L2093.3 221.4L2091.2 223.8L2089.1 226.1L2087.0 228.3L2084.9 230.3L2082.8 232.2L2080.7 233.9L2078.6 235.4L2076.6 236.7L2074.5 237.8L2072.4 238.9L2070.3 240.0L2068.2 241.0L2066.2 242.1L2064.1 243.3L2062.0 244.6L2059.9 246.0L2057.7 247.5L2055.5 249.0L2053.3 250.6L2051.2 252.2L2049.0 253.7L2046.9 255.3L2044.9 256.9L2043.0 258.4L2041.2 259.9L2039.5 261.4L2037.9 262.8L2036.3 264.3L2034.8 265.7L2033.4 267.1L2032.0 268.5L2030.7 269.9L2029.5 271.2L2028.4 272.5L2027.3 273.8L2026.3 275.0L2025.4 276.2L2024.6 277.4L2023.9 278.5L2023.2 279.6L2022.6 280.7L2022.1 281.7L2021.5 282.8L2020.9 283.8L2020.4 284.9L2019.9 285.9L2019.4 286.7L2019.0 287.5L2018.6 288.3L2018.2 289.1L2017.8 289.9L2017.4 290.9L2017.1 292.0L2016.6 293.4L2016.2 295.0L2015.7 296.9L2015.2 299.0L2014.7 301.4L2014.2 303.9L2013.6 306.6L2013.1 309.3L2012.6 312.0L2012.0 314.8L2011.5 317.4L2011.0 320.0L2010.5 322.5L2010.0 325.0L2009.5 327.4L2008.9 329.9L2008.4 332.4L2007.9 334.9L2007.4 337.4L2006.9 339.9L2006.5 342.4L2006.0 345.0L2005.6 347.6L2005.1 350.3L2004.7 352.9L2004.3 355.6L2003.9 358.3L2003.6 361.0L2003.2 363.8L2002.8 366.5L2002.4 369.3L2002.0 372.0L2001.6 374.8L2001.2 377.6L2000.8 380.4L2000.4 383.2L1999.9 386.0L1999.5 388.8L1999.1 391.6L1998.7 394.4L1998.4 397.2L1998.0 400.0L1997.7 402.7L1997.3 405.4L1997.0 408.1L1996.7 410.8L1996.4 413.5L1996.1 416.2L1995.8 418.9L1995.6 421.6L1995.3 424.3L1995.0 427.0L1994.7 429.8L1994.5 432.6L1994.2 435.4L1993.9 438.3L1993.7 441.1L1993.4 444.0L1993.2 446.8L1993.0 449.6L1992.7 452.3L1992.5 455.0L1992.3 457.5L1992.1 459.9L1991.8 462.2L1991.6 464.4L1991.4 466.6L1991.2 468.9L1991.0 471.3L1990.8 474.0L1990.7 476.8L1990.5 480.0L1990.4 483.7L1990.2 488.0L1990.1 492.7L1990.0 497.6L1989.9 502.6L1989.8 507.4L1989.7 512.0L1989.6 516.0L1989.6 519.4L1989.5 522.0" fill="none" stroke="#52dcd0" stroke-width="1.5" stroke-linejoin="round"/>
<path d="M2123.0 178.0L2121.9 180.3L2120.4 183.2L2118.7 186.7L2116.7 190.6L2114.6 194.8L2112.4 199.2L2110.1 203.6L2107.9 207.8L2105.7 211.9L2103.6 215.5L2101.6 218.9L2099.5 222.2L2097.5 225.6L2095.4 228.8L2093.3 232.0L2091.2 235.0L2089.1 238.0L2087.0 240.8L2084.9 243.5L2082.8 246.0L2080.7 248.3L2078.6 250.4L2076.6 252.4L2074.5 254.2L2072.4 255.9L2070.3 257.6L2068.2 259.2L2066.2 260.8L2064.1 262.4L2062.0 264.1L2059.8 265.9L2057.6 267.6L2055.2 269.4L2052.9 271.2L2050.6 272.9L2048.3 274.7L2046.2 276.3L2044.3 277.9L2042.6 279.3L2041.2 280.7L2040.1 281.9L2039.3 282.9L2038.8 283.9L2038.5 284.7L2038.3 285.5L2038.1 286.3L2037.9 287.1L2037.7 287.9L2037.3 288.9L2036.8 290.0L2036.1 291.2L2035.3 292.5L2034.5 293.8L2033.6 295.2L2032.6 296.6L2031.7 298.1L2030.7 299.6L2029.8 301.1L2028.8 302.7L2027.9 304.3L2027.0 305.9L2026.1 307.6L2025.1 309.3L2024.2 311.0L2023.3 312.8L2022.4 314.5L2021.5 316.4L2020.6 318.2L2019.7 320.2L2018.9 322.1L2018.1 324.1L2017.3 326.1L2016.6 328.1L2015.9 330.2L2015.2 332.3L2014.5 334.4L2013.8 336.6L2013.1 338.9L2012.4 341.2L2011.8 343.6L2011.2 346.1L2010.5 348.6L2009.9 351.3L2009.3 353.9L2008.7 356.7L2008.2 359.4L2007.6 362.2L2007.1 365.0L2006.5 367.7L2006.0 370.4L2005.5 373.1L2005.0 375.7L2004.5 378.4L2004.0 381.1L2003.6 383.8L2003.1 386.4L2002.7 389.1L2002.3 391.8L2001.9 394.4L2001.5 397.1L2001.1 399.8L2000.8 402.5L2000.5 405.1L2000.2 407.8L1999.9 410.5L1999.7 413.2L1999.4 415.9L1999.1 418.5L1998.9 421.2L1998.6 423.9L1998.3 426.6L1998.0 429.3L1997.8 431.9L1997.5 434.6L1997.2 437.3L1997.0 440.0L1996.7 442.7L1996.5 445.3L1996.2 448.0L1996.0 450.7L1995.8 453.3L1995.6 455.8L1995.4 458.2L1995.2 460.6L1995.0 463.0L1994.8 465.5L1994.6 468.2L1994.5 471.0L1994.3 474.1L1994.2 477.5L1994.1 481.4L1993.9 486.0L1993.8 491.0L1993.7 496.2L1993.6 501.4L1993.6 506.6L1993.5 511.4L1993.4 515.7L1993.3 519.3L1993.3 522.0" fill="none" stroke="#5a2730" stroke-width="1.5" stroke-linejoin="round"/>
</g>
<clipPath id="clipd"><rect x="129.2" y="698.4" width="531.8" height="498.4"/></clipPath><g clip-path="url(#clipd)">
<path d="M154.2 1221.8L154.2 1130.5L154.7 1130.5L154.7 1221.8L154.7 1221.8L155.5 1221.8L155.5 1150.0L156.0 1150.0L156.0 1221.8L156.0 1221.8L167.5 1221.8L167.5 1160.0L168.0 1160.0L168.0 1221.8L168.0 1221.8L168.5 1221.8L168.5 1175.0L169.0 1175.0L169.0 1221.8L169.0 1221.8L218.5 1221.8L218.5 1171.0L219.0 1171.0L219.0 1221.8L219.0 1221.8L232.5 1221.8L232.5 1147.0L233.0 1147.0L233.0 1221.8L233.0 1221.8L236.7 1221.8L236.7 1120.0L237.2 1120.0L237.2 1221.8L237.2 1221.8L238.0 1221.8L238.0 1160.0L238.5 1160.0L238.5 1221.8L238.5 1221.8L241.0 1221.8L241.0 1126.0L241.5 1126.0L241.5 1221.8L241.5 1221.8L243.0 1221.8L243.0 1150.0L243.5 1150.0L243.5 1221.8L243.5 1221.8L245.0 1221.8L245.0 1135.0L245.5 1135.0L245.5 1221.8L245.5 1221.8L248.6 1221.8L248.6 1108.0L249.1 1108.0L249.1 1221.8L249.1 1221.8L259.8 1221.8L259.8 1148.0L260.3 1148.0L260.3 1221.8L260.3 1221.8L261.0 1221.8L261.0 1170.0L261.5 1170.0L261.5 1221.8L261.5 1221.8L267.5 1221.8L267.5 1156.0L268.0 1156.0L268.0 1221.8L268.0 1221.8L269.0 1221.8L269.0 1165.0L269.5 1165.0L269.5 1221.8L269.5 1221.8L336.8 1221.8L336.8 1148.0L337.3 1148.0L337.3 1221.8L337.3 1221.8L341.6 1221.8L341.6 1181.0L342.1 1181.0L342.1 1221.8L342.1 1221.8L361.0 1221.8L361.0 1137.0L361.5 1137.0L361.5 1221.8L361.5 1221.8L363.0 1221.8L363.0 1150.0L363.5 1150.0L363.5 1221.8L363.5 1221.8L365.4 1221.8L365.4 1131.0L365.9 1131.0L365.9 1221.8L365.9 1221.8L371.0 1221.8L371.0 1113.7L371.5 1113.7L371.5 1221.8L371.5 1221.8L372.5 1221.8L372.5 1160.0L373.0 1160.0L373.0 1221.8L373.0 1221.8L376.6 1221.8L376.6 1146.0L377.1 1146.0L377.1 1221.8L377.1 1221.8L454.0 1221.8L454.0 1118.0L454.5 1118.0L454.5 1221.8L454.5 1221.8L456.0 1221.8L456.0 1150.0L456.5 1150.0L456.5 1221.8L456.5 1221.8L460.0 1221.8L460.0 1152.0L460.5 1152.0L460.5 1221.8L460.5 1221.8L464.0 1221.8L464.0 1175.0L464.5 1175.0L464.5 1221.8L464.5 1221.8L488.7 1221.8L488.7 1129.0L489.2 1129.0L489.2 1221.8L489.2 1221.8L490.5 1221.8L490.5 1160.0L491.0 1160.0L491.0 1221.8L491.0 1221.8" fill="none" stroke="#3a3a3a" stroke-width="1.5" stroke-linejoin="miter"/>
<path d="M154.2 1221.8L154.2 1160.0L154.7 1160.0L154.7 1221.8L154.7 1221.8L158.4 1221.8L158.4 1131.0L158.9 1131.0L158.9 1221.8L158.9 1221.8L160.0 1221.8L160.0 1150.0L160.5 1150.0L160.5 1221.8L160.5 1221.8L162.6 1221.8L162.6 1119.3L163.1 1119.3L163.1 1221.8L163.1 1221.8L164.0 1221.8L164.0 1140.0L164.5 1140.0L164.5 1221.8L164.5 1221.8L169.6 1221.8L169.6 1190.0L170.1 1190.0L170.1 1221.8L170.1 1221.8L175.9 1221.8L175.9 1147.0L176.4 1147.0L176.4 1221.8L176.4 1221.8L177.0 1221.8L177.0 1170.0L177.5 1170.0L177.5 1221.8L177.5 1221.8L210.1 1221.8L210.1 1131.9L210.6 1131.9L210.6 1221.8L210.6 1221.8L212.0 1221.8L212.0 1140.0L212.5 1140.0L212.5 1221.8L212.5 1221.8L214.3 1221.8L214.3 1132.0L214.8 1132.0L214.8 1221.8L214.8 1221.8L225.5 1221.8L225.5 1168.0L226.0 1168.0L226.0 1221.8L226.0 1221.8L271.7 1221.8L271.7 1125.0L272.2 1125.0L272.2 1221.8L272.2 1221.8L273.5 1221.8L273.5 1140.0L274.0 1140.0L274.0 1221.8L274.0 1221.8L275.5 1221.8L275.5 1133.0L276.0 1133.0L276.0 1221.8L276.0 1221.8L277.3 1221.8L277.3 1126.0L277.8 1126.0L277.8 1221.8L277.8 1221.8L282.9 1221.8L282.9 1133.0L283.4 1133.0L283.4 1221.8L283.4 1221.8L288.5 1221.8L288.5 1167.0L289.0 1167.0L289.0 1221.8L289.0 1221.8L383.6 1221.8L383.6 1118.0L384.1 1118.0L384.1 1221.8L384.1 1221.8L385.5 1221.8L385.5 1135.0L386.0 1135.0L386.0 1221.8L386.0 1221.8L388.0 1221.8L388.0 1150.0L388.5 1150.0L388.5 1221.8L388.5 1221.8L390.6 1221.8L390.6 1118.0L391.1 1118.0L391.1 1221.8L391.1 1221.8L397.6 1221.8L397.6 1186.0L398.1 1186.0L398.1 1221.8L398.1 1221.8L424.0 1221.8L424.0 1172.0L424.5 1172.0L424.5 1221.8L424.5 1221.8L427.0 1221.8L427.0 1150.0L427.5 1150.0L427.5 1221.8L427.5 1221.8L431.0 1221.8L431.0 1180.0L431.5 1180.0L431.5 1221.8L431.5 1221.8" fill="none" stroke="#e8333a" stroke-width="1.4" stroke-linejoin="miter"/>
<path d="M626.7 1009.6L626.3 1014.7L625.4 1013.8L624.4 1011.7L623.9 1013.8L622.5 1011.8L621.6 1030.1L620.6 1011.1L620.0 1044.8L619.1 1022.8L618.2 1013.2L617.3 1012.9L616.5 1014.0L615.4 1013.0L615.0 1015.5L613.9 1014.4L613.3 1016.1L612.1 1014.7L610.8 1013.2L610.8 1016.9L609.1 1013.9L608.4 1014.8L607.5 1014.8L606.4 1014.3L606.0 1016.5L605.0 1030.2L603.8 1015.2L602.8 1015.1L602.4 1016.9L601.7 1017.6L600.5 1016.9L599.7 1027.0L599.1 1018.4L598.2 1018.6L596.9 1017.5L596.1 1017.8L595.8 1019.9L594.6 1019.2L594.0 1020.3L593.7 1022.1L592.4 1028.2L591.1 1020.0L589.9 1019.2L589.1 1019.9L588.5 1020.7L588.2 1022.7L587.2 1022.6L586.2 1022.5L585.6 1023.6L584.5 1023.2L584.3 1025.3L583.1 1024.6L580.9 1021.0L580.7 1023.2L579.9 1023.5L579.1 1024.1L579.0 1026.6L578.2 1027.3L576.2 1023.8L575.4 1024.4L573.9 1047.0L574.0 1026.0L572.8 1025.2L571.6 1024.2L571.4 1026.6L569.9 1024.9L569.4 1030.2L568.2 1025.4L568.0 1028.0L567.2 1033.6L565.7 1026.2L565.3 1053.7L564.1 1027.2L563.2 1027.3L562.4 1028.1L561.6 1028.6L561.5 1032.1L560.1 1038.2L559.6 1037.4L557.7 1027.6L557.8 1032.2L556.1 1028.8L555.8 1031.3L554.9 1031.7L553.8 1036.6L552.8 1030.5L551.6 1029.0L551.3 1032.0L550.0 1030.4L549.4 1032.0L548.5 1032.0L547.9 1033.2L546.7 1034.5L545.8 1032.1L545.2 1034.0L544.2 1033.3L543.8 1035.7L542.4 1043.7L541.3 1033.1L540.4 1032.8L539.5 1042.2L539.1 1035.6L537.7 1033.1L536.6 1032.8L536.4 1035.6L535.2 1034.8L534.5 1035.8L533.5 1038.3L533.0 1037.0L531.5 1034.8L531.0 1036.3L530.0 1036.4L529.3 1037.3L527.9 1035.3L527.5 1037.3L527.2 1040.0L526.2 1039.5L524.8 1053.7L524.0 1038.1L522.5 1036.1L522.0 1037.7L520.9 1037.2L520.0 1037.2L518.8 1036.1L518.9 1040.3L518.0 1043.3L516.8 1039.3L516.2 1040.7L515.4 1041.3L514.4 1043.1L513.8 1042.4L512.5 1043.5L511.7 1041.3L511.1 1042.6L509.8 1041.0L509.0 1041.7L507.6 1040.2L507.1 1041.3L506.2 1041.5L505.0 1040.2L504.5 1042.3L503.4 1041.5L502.3 1041.0L502.0 1043.5L501.1 1043.5L501.0 1046.8L499.3 1082.3L498.5 1044.2L497.6 1044.3L496.4 1043.3L496.0 1045.6L494.6 1043.6L494.5 1046.8L493.7 1047.5L491.9 1044.1L491.3 1045.2L490.6 1069.5L489.7 1046.3L489.1 1047.7L487.9 1046.7L487.3 1047.8L486.0 1048.1L484.7 1045.3L484.4 1047.6L483.5 1047.7L482.6 1047.9L481.8 1048.1L481.1 1049.3L481.0 1052.0L479.1 1050.6L477.9 1047.9L477.6 1053.6L476.0 1057.9L476.1 1051.2L474.9 1062.8L473.3 1048.5L473.2 1050.9L472.2 1050.9L471.3 1051.0L471.0 1052.9L469.9 1052.6L468.5 1051.4L468.7 1060.8L467.7 1080.7L466.1 1052.5L466.0 1055.7L464.5 1056.5L463.6 1057.9L463.9 1057.2L462.4 1069.5L461.2 1056.5L461.3 1058.0L460.0 1056.9L457.6 1057.8L458.3 1057.6L456.2 1055.0L455.3 1054.7L455.7 1058.6L454.2 1056.8L453.1 1082.1L452.7 1058.0L451.5 1057.6L450.8 1059.1L450.4 1059.8L448.9 1058.2L447.8 1057.8L447.9 1060.8L445.5 1056.4L446.1 1061.3L444.2 1058.3L444.3 1061.6L442.8 1059.6L442.4 1061.6L441.7 1090.9L440.8 1062.4L439.8 1062.3L439.3 1063.9L438.4 1064.2L437.1 1074.4L436.5 1064.2L435.6 1064.0L434.6 1063.9L434.4 1067.2L432.4 1063.5L432.0 1065.9L430.8 1063.1L430.1 1064.5L429.3 1068.5L428.2 1064.1L427.1 1062.8L426.7 1066.1L425.9 1067.0L424.8 1065.4L423.7 1064.1L422.9 1065.1L422.0 1065.4L421.1 1065.6L420.5 1067.4L419.2 1064.6L418.6 1067.1L417.5 1065.5L416.6 1065.7L415.4 1084.6L415.2 1068.7L413.6 1064.1L413.2 1067.3L412.3 1067.4L411.7 1069.5L410.7 1069.0L410.0 1072.3L408.8 1068.4L407.9 1068.5L406.7 1067.0L405.3 1064.8L405.5 1070.4L403.7 1066.3L402.9 1066.8L402.3 1068.2L401.5 1081.0L400.7 1069.5L400.0 1070.2L398.8 1069.3L397.9 1069.7L397.3 1086.5L396.6 1071.3L395.1 1069.9L394.9 1071.9L393.5 1074.9L392.2 1069.8L392.7 1080.1L392.1 1074.7L389.3 1085.3L389.8 1073.9L389.4 1075.5L387.8 1073.6L387.2 1074.5L386.2 1074.4L384.8 1073.4L384.3 1086.1L384.4 1077.3L382.5 1153.9L382.8 1081.0L380.4 1074.9L381.0 1088.5L380.1 1078.5L379.0 1078.4L378.4 1079.2L377.2 1092.8L376.2 1078.8L376.4 1081.3L374.7 1079.8L374.0 1080.3L373.8 1137.2L372.5 1081.4L371.8 1082.1L369.8 1080.3L370.5 1083.4L369.2 1082.9L368.8 1084.0L367.2 1083.0L365.3 1081.7L365.8 1084.2L364.7 1099.4L365.3 1086.7L362.7 1104.2L363.1 1105.5L362.1 1105.6L361.2 1087.3L361.0 1095.1L359.1 1087.7L359.9 1108.8L359.7 1108.4L357.1 1108.6L358.6 1092.3L356.8 1091.9L355.9 1092.3L356.1 1093.7L353.3 1102.6L354.9 1119.6L353.8 1110.9L352.8 1112.3L351.5 1122.3L351.3 1096.3L350.9 1110.3L349.1 1111.8L349.3 1098.4L349.1 1106.3L347.7 1118.6L347.7 1101.8L347.2 1117.8L344.8 1099.4L343.5 1098.4L343.1 1127.3L341.9 1099.6L343.7 1129.1L339.8 1099.6L340.9 1103.3L338.3 1100.9L339.8 1105.0L338.7 1104.9L335.8 1102.1L336.5 1104.8L336.7 1106.7L335.1 1105.8L334.4 1119.9L333.5 1106.7L330.8 1105.1L332.4 1135.0L331.2 1130.2L330.2 1108.6L329.3 1109.0L329.6 1110.4L328.0 1115.0L326.3 1110.4L329.2 1113.5L325.5 1112.1L325.0 1113.7L325.6 1118.2L326.0 1115.6L324.0 1120.7L325.8 1117.6L324.8 1118.1L323.6 1118.5L323.3 1119.4L323.0 1120.3L322.0 1120.9L321.1 1127.8L320.7 1122.3L318.5 1122.5L321.4 1124.6L322.7 1126.0L322.1 1126.7L321.2 1127.4L317.9 1127.3L323.7 1130.0L320.0 1129.9L323.3 1131.7L320.8 1131.9L318.3 1132.2L321.3 1133.9L320.1 1143.9L320.3 1135.5L318.3 1136.0L319.2 1139.1L316.5 1137.4L318.1 1142.3L320.8 1140.2L315.3 1140.0L318.4 1141.9L315.1 1150.1L318.3 1143.4L320.1 1144.7L319.0 1145.3L319.1 1146.3L316.4 1162.8L317.4 1151.4L318.0 1148.8L316.4 1149.4L319.3 1155.4L316.4 1151.3L317.6 1154.1L313.2 1152.5L314.3 1162.3L316.7 1158.9L313.9 1155.4L314.4 1156.4L313.5 1157.2L313.4 1158.1L317.6 1179.2L308.7 1159.1L312.5 1160.7L313.5 1161.8L313.3 1162.7L313.5 1164.8L312.4 1164.3L312.7 1165.3L313.4 1166.3L312.6 1167.1L313.9 1168.2L313.0 1169.0L314.9 1170.2L313.4 1170.9L312.7 1171.7L311.5 1172.5L314.2 1173.7L309.6 1174.8L311.3 1175.2L312.2 1176.2L311.8 1177.0L309.9 1177.8L313.5 1179.0L311.2 1179.7L309.8 1181.5L310.4 1182.9L311.1 1182.4L312.6 1183.4L310.2 1184.2L312.2 1185.2L312.1 1186.1L310.9 1186.9L310.1 1212.6L309.9 1188.7L310.8 1192.7L308.8 1190.4L310.5 1192.1L306.9 1192.2L311.2 1193.3L310.3 1194.2L310.3 1195.1L311.7 1196.0L310.5 1196.9L311.5 1197.8L309.5 1198.6L310.3 1199.6L310.4 1200.5L311.0 1204.1L309.8 1202.3L313.5 1203.4L308.8 1204.0L309.2 1204.9" fill="none" stroke="#3a3a3a" stroke-width="1.6" stroke-linejoin="round"/>
<path d="M627.4 1031.8L626.0 1010.4L625.4 1012.4L624.8 1013.6L623.3 1025.6L622.7 1012.6L621.8 1012.8L621.0 1013.4L620.4 1014.8L619.0 1012.5L617.9 1011.7L617.3 1013.1L616.6 1014.0L615.5 1013.5L614.9 1014.7L613.7 1013.8L612.9 1015.8L612.4 1015.9L611.1 1014.4L610.2 1017.4L610.2 1021.1L607.7 1014.9L607.5 1015.1L606.8 1016.0L605.4 1014.1L604.4 1013.9L604.8 1027.9L603.5 1017.4L601.9 1015.0L602.0 1018.6L600.5 1016.9L600.3 1019.1L598.7 1017.0L597.1 1014.9L596.9 1017.5L596.5 1019.3L595.5 1019.0L594.7 1019.4L593.9 1019.8L593.6 1021.8L591.6 1030.6L590.7 1018.9L590.6 1021.6L589.5 1023.4L588.4 1020.5L587.6 1020.9L586.2 1019.7L586.0 1021.9L585.5 1026.7L584.3 1022.5L583.0 1021.5L582.8 1023.9L582.3 1031.8L580.9 1025.0L579.6 1022.7L579.0 1023.6L578.4 1029.2L577.7 1025.5L576.8 1025.8L575.5 1024.6L574.6 1048.7L573.8 1025.4L573.2 1026.3L572.1 1029.1L570.7 1024.3L570.3 1026.7L569.5 1026.5L569.2 1028.9L568.3 1029.1L566.6 1026.3L566.5 1032.2L565.4 1028.8L563.8 1026.3L563.6 1028.9L562.5 1028.5L561.8 1029.4L561.5 1031.9L559.8 1028.8L559.4 1047.3L558.5 1031.2L557.6 1031.2L556.1 1028.7L555.8 1031.7L554.7 1030.9L554.1 1032.2L553.5 1033.6L552.2 1032.1L551.5 1032.8L550.6 1033.3L550.0 1034.7L548.4 1031.6L547.9 1046.8L546.6 1037.8L546.0 1033.5L545.5 1035.1L544.1 1033.1L543.6 1035.1L542.7 1034.9L541.3 1033.0L540.6 1033.9L539.5 1034.6L538.5 1051.9L538.4 1036.6L536.9 1033.9L536.3 1035.3L535.3 1041.4L534.8 1036.8L533.8 1036.8L532.3 1064.0L532.0 1036.8L530.4 1034.0L530.0 1040.4L529.2 1036.6L528.5 1037.8L527.5 1037.5L526.9 1038.5L526.1 1060.1L524.5 1036.6L523.7 1036.9L523.1 1038.2L522.1 1038.3L521.1 1043.1L520.5 1039.3L520.4 1044.3L518.8 1039.8L517.7 1055.7L517.0 1040.0L515.6 1052.8L515.0 1039.6L513.8 1038.5L513.5 1041.0L512.7 1041.6L511.5 1040.4L510.6 1040.4L509.6 1046.2L509.0 1041.7L508.2 1042.0L506.5 1038.8L506.9 1044.6L505.7 1043.4L504.8 1043.5L503.4 1041.5L503.0 1043.5L502.5 1045.6L501.2 1050.0L500.1 1043.3L499.6 1058.3L498.1 1042.6L497.8 1047.6L496.6 1052.4L495.4 1043.2L495.1 1045.6L493.9 1046.4L493.2 1045.3L492.6 1046.6L491.1 1045.2L490.8 1046.8L489.7 1046.4L488.9 1046.8L487.6 1045.3L487.1 1070.5L485.8 1045.7L484.9 1045.8L484.8 1048.9L483.5 1047.6L482.8 1048.5L481.9 1057.6L481.7 1051.2L479.7 1050.4L478.9 1047.9L478.6 1050.3L477.3 1049.1L476.6 1049.8L475.4 1049.1L474.4 1048.7L473.6 1049.3L473.3 1051.3L471.7 1049.4L471.2 1050.7L470.4 1051.2L470.0 1052.8L468.3 1050.8L468.3 1053.4L467.1 1052.7L466.8 1060.6L465.4 1053.2L464.5 1053.5L464.4 1055.8L463.5 1056.2L461.2 1052.3L461.0 1054.5L460.5 1055.8L460.0 1057.0L458.4 1055.4L457.4 1055.3L457.4 1057.9L456.5 1068.6L455.6 1075.9L455.1 1059.3L453.5 1080.4L452.7 1072.0L451.5 1057.4L451.6 1060.5L450.5 1059.9L449.4 1068.2L448.4 1088.4L447.1 1061.6L446.4 1059.2L445.5 1059.4L444.5 1059.1L444.1 1063.5L442.7 1101.6L442.2 1083.3L441.7 1101.4L441.0 1063.1L439.8 1062.4L438.7 1061.6L438.0 1062.5L438.1 1066.5L436.3 1063.3L435.6 1064.3L434.0 1065.0L433.3 1062.2L432.7 1076.4L432.0 1064.7L431.0 1064.1L429.8 1063.3L429.4 1065.6L428.9 1068.2L427.8 1090.0L426.7 1065.8L425.6 1066.9L425.3 1069.0L423.7 1064.2L422.8 1064.4L422.2 1069.5L421.2 1066.1L420.3 1073.7L419.4 1066.5L418.2 1063.9L417.4 1065.2L416.7 1070.9L415.4 1063.8L414.9 1066.9L414.2 1067.8L413.6 1069.9L412.5 1068.6L411.0 1066.3L410.0 1064.8L409.6 1069.0L408.7 1067.7L407.7 1068.9L406.7 1066.9L405.6 1066.1L405.1 1071.1L403.9 1066.9L403.1 1067.8L402.6 1069.6L401.3 1068.1L401.0 1070.4L399.3 1067.6L399.4 1071.2L398.0 1070.0L397.2 1070.3L396.3 1070.4L395.1 1069.7L394.4 1070.5L394.3 1073.0L393.2 1072.6L393.0 1074.8L390.8 1071.2L391.2 1075.0L390.0 1074.4L389.0 1074.3L388.7 1075.9L386.6 1073.2L386.8 1098.8L385.3 1074.7L385.1 1076.5L383.7 1075.6L382.9 1076.0L382.3 1076.9L381.0 1076.1L380.1 1076.4L379.9 1082.1L380.1 1080.7L378.8 1080.0L376.9 1078.1L376.7 1107.6L377.0 1082.4L375.5 1081.4L373.7 1079.8L372.7 1084.2L372.6 1090.9L372.3 1089.9L370.7 1081.9L370.2 1082.9L369.6 1083.6L367.6 1081.8L366.7 1082.2L368.0 1086.3L366.8 1085.9L365.3 1085.2L363.4 1084.0L363.8 1097.1L362.1 1100.2L362.7 1107.5L360.4 1086.3L360.6 1113.0L361.6 1118.7L357.8 1106.3L358.2 1089.4L356.1 1108.8L357.3 1091.1L357.2 1103.3L357.5 1105.2L355.0 1107.0L352.6 1091.3L353.6 1093.6L352.6 1093.7L353.3 1096.0L352.8 1104.4L351.1 1096.0L350.2 1096.0L351.2 1100.0L349.0 1097.6L348.2 1119.9L346.6 1096.6L347.1 1100.3L345.8 1099.3L345.0 1115.7L344.4 1100.7L342.5 1098.6L342.3 1101.5L341.4 1100.6L340.9 1101.5L340.8 1103.2L339.9 1103.5L338.8 1108.1L337.2 1102.5L338.4 1114.6L336.8 1105.2L335.9 1105.4L335.1 1107.1L335.0 1129.0L333.3 1116.9L331.4 1124.8L331.6 1107.3L331.8 1111.5L331.1 1109.4L330.1 1109.7L329.3 1110.3L328.0 1110.4L329.8 1112.8L328.2 1118.9L329.8 1114.9L328.1 1122.1L327.3 1115.4L322.9 1128.4L324.8 1116.0L325.0 1127.0L322.6 1117.0L325.0 1119.2L323.1 1134.7L321.8 1119.7L320.7 1120.3L322.2 1121.9L320.1 1129.6L322.4 1123.9L321.3 1124.5L321.8 1125.6L319.9 1126.0L320.5 1127.9L321.5 1128.4L319.4 1128.7L320.2 1129.9L320.4 1130.9L318.9 1131.4L320.2 1132.7L319.4 1133.4L317.7 1139.7L320.5 1159.4L317.6 1135.8L319.7 1137.2L317.6 1137.7L317.9 1138.7L319.3 1155.9L317.7 1152.0L317.5 1141.4L315.4 1141.8L317.5 1143.2L318.0 1144.2L318.9 1145.3L317.4 1145.9L315.0 1146.4L315.4 1148.7L316.8 1148.6L316.6 1149.5L316.1 1150.3L314.5 1152.5L315.1 1151.9L316.3 1153.3L315.6 1159.3L315.1 1154.7L313.3 1155.3L312.9 1156.1L314.1 1157.3L314.3 1158.2L314.3 1159.2L314.9 1161.1L313.4 1160.8L314.4 1161.9L313.8 1166.0L313.1 1164.5L314.7 1164.7L312.6 1185.2L312.4 1166.2L310.6 1166.8L310.8 1167.8L311.3 1168.8L312.1 1169.8L312.0 1170.7L314.0 1176.7L314.1 1172.8L313.0 1173.5L315.5 1185.5L310.3 1175.1L313.2 1176.3L311.2 1177.0L313.1 1178.1L312.2 1185.2L312.8 1179.9L311.8 1180.7L307.5 1181.9L310.9 1182.4L309.6 1183.2L310.1 1195.0L312.8 1185.3L311.2 1186.1L312.7 1187.1L311.4 1190.1L309.4 1195.9L311.1 1189.7L312.1 1190.6L309.3 1191.4L314.0 1192.6L310.5 1193.3L312.8 1194.3L309.1 1195.0L309.8 1201.6L311.2 1196.9L309.7 1197.7L309.9 1198.7L309.2 1199.5L311.8 1200.6L308.7 1201.3L307.8 1202.2L311.7 1203.3L309.7 1217.6L308.7 1204.9" fill="none" stroke="#3a3a3a" stroke-width="1.6" stroke-linejoin="round"/>
<path d="M627.4 1016.4L625.9 1012.7L624.6 1011.9L624.3 1013.6L623.3 1013.6L623.3 1026.4L622.6 1016.5L619.9 1013.2L620.4 1015.9L619.6 1016.4L618.1 1015.1L618.5 1018.6L616.6 1016.3L617.1 1019.8L615.3 1022.4L615.2 1020.9L614.0 1019.6L612.1 1017.1L612.0 1019.5L611.4 1020.2L609.9 1019.0L610.3 1022.4L608.0 1038.6L607.8 1021.0L606.5 1020.2L605.6 1020.5L604.9 1021.1L604.4 1033.9L603.4 1045.9L602.6 1022.8L602.1 1024.0L600.9 1032.1L599.9 1023.1L599.0 1035.4L598.8 1025.2L597.4 1030.6L597.6 1027.4L596.4 1026.7L595.3 1026.3L594.0 1025.5L593.2 1025.9L592.1 1025.6L592.2 1041.4L591.3 1028.5L590.4 1028.5L589.7 1029.1L587.8 1027.3L588.3 1036.0L586.2 1028.3L585.9 1029.6L585.1 1030.1L585.0 1031.8L583.8 1034.4L582.9 1031.7L581.1 1030.3L581.3 1032.5L580.4 1032.7L579.7 1033.4L578.9 1033.7L577.7 1033.4L578.0 1036.1L576.6 1035.2L575.3 1034.7L574.8 1035.7L574.0 1037.7L573.3 1044.4L572.8 1037.9L572.0 1038.8L571.0 1056.7L569.2 1036.5L569.3 1046.5L567.6 1037.3L568.0 1040.6L566.4 1039.1L565.5 1058.7L565.0 1043.3L564.7 1042.0L564.0 1042.6L562.3 1040.9L561.5 1041.3L560.4 1041.1L560.2 1053.3L559.7 1050.4L558.4 1043.3L556.7 1045.8L556.5 1043.5L555.9 1044.4L554.3 1042.7L553.6 1043.6L552.4 1043.0L551.0 1041.8L550.8 1043.8L550.9 1046.5L549.6 1061.2L549.0 1048.1L548.1 1046.9L547.0 1046.6L546.7 1054.9L545.7 1065.3L544.7 1048.1L544.1 1048.9L543.1 1049.0L542.6 1050.0L540.1 1046.6L541.0 1050.9L539.8 1053.0L538.7 1050.2L538.3 1051.5L537.6 1052.1L535.4 1049.6L536.2 1053.5L534.6 1052.2L533.8 1052.6L534.0 1055.0L532.2 1053.5L532.5 1055.9L530.2 1053.6L529.9 1054.9L528.4 1054.3L527.9 1055.2L527.9 1057.7L526.7 1056.7L527.1 1063.4L526.3 1059.1L526.2 1060.7L525.3 1060.6L522.4 1061.3L523.4 1061.2L523.4 1070.9L521.9 1062.2L521.0 1062.6L520.4 1076.3L521.1 1072.0L518.9 1064.4L518.9 1065.5L518.2 1066.1L518.4 1067.3L516.8 1072.4L517.0 1068.6L516.4 1069.2L514.8 1069.3L516.4 1072.3L516.1 1072.2L515.7 1074.2L512.4 1072.2L512.8 1073.5L511.3 1073.8L512.1 1075.2L510.3 1075.4L512.0 1082.2L510.8 1077.6L512.1 1079.1L509.3 1079.0L508.8 1087.4L509.6 1081.1L508.0 1081.4L509.8 1083.1L510.3 1084.2L508.5 1084.6L505.4 1084.5L509.6 1086.8L508.7 1090.0L508.0 1088.2L509.4 1094.7L506.7 1089.7L507.4 1090.8L508.4 1092.0L509.1 1093.1L506.4 1093.4L506.3 1094.3L506.2 1095.2L506.1 1096.1L506.8 1102.7L505.9 1097.9L504.9 1098.6L505.0 1104.3L506.0 1100.7L504.9 1113.5L505.5 1102.4L503.0 1102.9L504.3 1104.1L503.6 1104.9L504.8 1106.0L501.7 1106.4L502.2 1126.8L502.3 1108.3L503.7 1109.5L505.0 1111.1L503.3 1111.2L504.0 1112.3L502.7 1113.0L504.9 1114.2L503.3 1114.9L502.4 1115.7L502.6 1123.7L502.4 1117.5L503.2 1118.9L503.0 1121.3L503.4 1120.4L502.2 1121.1L501.8 1122.0L502.8 1123.0L502.0 1123.8L502.1 1125.3L502.9 1125.8L498.8 1126.2L502.6 1127.5L500.1 1130.2L501.8 1129.3L503.0 1130.3L501.4 1131.0L498.0 1131.6L501.1 1132.8L501.9 1136.4L500.9 1136.2L498.7 1135.3L500.1 1162.2L498.1 1137.1L499.8 1138.1L499.5 1139.0L500.0 1140.0L500.8 1141.0L500.4 1144.5L497.9 1142.5L498.4 1143.5L500.3 1144.6L499.6 1145.9L498.9 1146.2L497.2 1164.6L497.4 1147.9L498.4 1150.8L500.1 1153.9L498.6 1150.8L498.2 1151.6L498.8 1152.6L497.3 1153.4L498.5 1154.4L497.5 1155.2L499.8 1156.3L499.9 1157.2L496.7 1157.9L496.0 1158.7L498.8 1159.9L498.1 1160.7L498.1 1169.2L499.2 1162.6L499.2 1163.5L497.9 1164.3L497.1 1165.2L496.7 1166.1L496.7 1167.0L498.4 1168.0L495.6 1171.1L497.0 1169.7L497.6 1170.6L498.0 1171.6L498.0 1172.5L497.3 1173.3L498.1 1174.3L499.3 1177.3L496.9 1185.8L499.1 1182.7L495.7 1177.8L496.6 1178.8L497.4 1179.7L496.0 1201.3L495.8 1181.4L495.4 1182.3L494.5 1183.2L495.7 1184.2L495.5 1237.1L498.6 1186.0L497.9 1186.9L497.1 1187.8L495.7 1188.7L496.4 1189.6L498.8 1190.6L496.0 1191.4L496.6 1192.3L495.8 1224.4L496.4 1194.1L496.7 1195.1L498.6 1196.0L498.5 1196.9L495.5 1208.9L497.7 1199.6L493.5 1199.5L496.0 1200.5L495.5 1201.4L495.8 1208.6L498.7 1228.2L498.1 1204.1L496.6 1205.0" fill="none" stroke="#3a3a3a" stroke-width="1.6" stroke-linejoin="round"/>
<path d="M627.2 1003.6L627.7 1008.4L626.8 1008.3L625.4 1006.2L625.0 1007.7L623.9 1006.7L622.9 1006.2L623.4 1011.0L621.6 1007.5L621.9 1014.4L619.5 1011.1L619.1 1007.6L618.1 1006.5L617.4 1007.2L617.0 1008.8L616.3 1009.5L615.9 1011.0L614.5 1009.0L613.5 1008.0L613.8 1012.9L611.9 1008.4L611.6 1010.7L610.4 1008.9L609.2 1006.8L609.6 1012.9L608.9 1013.3L607.4 1010.2L606.9 1011.6L606.7 1016.4L605.1 1010.7L604.3 1010.9L603.3 1009.8L603.0 1012.6L602.4 1012.2L601.7 1015.0L600.3 1010.8L599.5 1011.2L599.4 1014.7L598.6 1016.1L596.9 1010.1L596.4 1012.1L596.2 1016.1L595.4 1016.1L594.8 1017.2L593.6 1015.0L592.4 1013.0L591.4 1011.4L590.7 1012.5L590.3 1013.9L589.1 1012.3L588.8 1015.3L587.3 1011.8L587.1 1014.9L586.6 1016.3L585.5 1018.4L584.5 1014.3L583.9 1012.7L582.8 1014.1L582.3 1015.5L582.0 1017.5L581.7 1019.4L578.9 1012.1L580.5 1020.9L578.1 1015.3L578.1 1018.1L577.8 1020.2L574.8 1012.7L575.6 1018.1L574.8 1018.5L574.0 1022.9L572.8 1017.3L572.1 1017.6L571.8 1024.0L570.6 1018.4L570.5 1025.1L568.9 1018.3L568.1 1018.2L567.3 1016.9L566.4 1018.2L565.8 1018.9L565.7 1032.2L565.2 1023.3L564.2 1009.7L563.3 1022.5L562.6 1023.0L560.6 1019.5L560.5 1020.5L560.0 1022.2L559.3 1023.0L558.0 1020.4L557.4 1021.4L556.4 1020.5L556.2 1024.1L554.5 1018.7L553.6 1018.5L553.6 1023.1L552.3 1008.6L551.6 1017.8L551.1 1022.6L550.1 1021.9L549.5 1022.9L548.6 1022.7L548.7 1027.8L547.2 1029.8L546.3 1023.6L544.8 1019.6L544.7 1023.4L544.1 1019.9L543.7 1026.7L542.4 1024.4L541.4 1023.4L540.8 1024.6L539.4 1022.2L538.8 1023.4L537.7 1022.4L537.3 1024.1L536.2 1023.2L536.5 1027.1L535.1 1025.2L534.5 1032.4L533.9 1026.7L533.3 1027.4L532.3 1027.2L532.2 1029.1L532.2 1031.5L529.4 1026.0L529.4 1028.6L529.1 999.4L527.6 1028.1L526.9 1028.6L524.8 1022.7L525.2 1028.5L524.8 1029.9L525.3 1034.1L524.4 1032.1L522.8 1031.6L521.6 1037.1L521.1 1031.6L520.7 1033.2L519.0 1030.0L519.7 1036.7L517.3 1029.9L516.0 1028.1L516.6 1033.4L515.6 1032.6L515.2 1037.0L514.7 1035.6L513.4 1029.6L512.3 1033.0L511.1 1031.3L510.8 1050.4L509.7 1032.4L509.0 1032.9L508.6 1034.7L507.7 1034.1L507.6 1037.1L505.6 1032.7L505.2 1034.2L504.4 1034.2L503.3 1033.3L502.4 1032.8L502.1 1035.2L501.1 1034.4L499.7 1032.1L499.3 1024.9L499.4 1037.3L498.1 1035.5L496.9 1034.3L497.2 1038.7L496.6 1048.0L496.1 1040.7L495.0 1039.8L493.3 1036.4L492.8 1037.6L492.2 1038.5L491.7 1039.6L491.4 1041.8L490.3 1040.5L489.3 1039.9L488.6 1040.5L488.4 1042.7L486.4 1038.7L485.2 1037.2L485.4 1040.9L484.2 1042.4L484.5 1043.6L482.6 1043.7L482.6 1042.8L480.1 1037.0L480.9 1042.8L479.9 1050.2L479.1 1042.4L477.5 1033.2L478.2 1044.7L478.3 1047.9L476.6 1045.1L474.9 1042.4L474.7 1043.4L474.3 1045.6L472.3 1042.2L471.9 1043.5L471.2 1043.9L469.8 1042.2L469.9 1045.0L469.1 1045.3L468.3 1045.4L468.1 1047.2L467.6 1048.2L465.3 1040.4L465.0 1045.8L465.4 1049.3L463.9 1047.6L462.7 1046.5L462.5 1048.4L461.0 1046.5L461.2 1049.4L459.4 1041.8L458.3 1046.2L459.0 1047.0L458.2 1049.6L457.2 1050.3L456.9 1051.3L455.5 1045.5L455.0 1051.1L454.2 1051.3L453.6 1051.7L451.7 1049.1L452.2 1053.0L451.8 1054.3L450.3 1052.2L449.7 1053.8L448.6 1052.3L446.8 1049.4L446.7 1054.5L445.4 1048.1L446.6 1056.6L444.6 1053.1L443.4 1049.9L443.7 1055.3L442.7 1055.1L441.0 1052.2L440.4 1052.7L439.8 1053.9L439.9 1056.8L439.1 1054.7L437.8 1055.4L437.0 1055.5L436.2 1055.6L435.3 1049.5L435.0 1057.4L434.4 1058.3L432.6 1054.2L432.3 1056.3L431.6 1050.0L431.4 1059.7L430.7 1060.3L429.4 1057.9L428.8 1059.4L427.8 1056.5L427.0 1058.0L426.0 1057.3L425.6 1061.1L424.4 1056.9L423.5 1056.6L422.7 1056.8L422.4 1059.8L421.8 1061.1L420.9 1060.9L419.3 1050.6L419.1 1059.8L417.9 1057.0L417.3 1058.2L416.2 1056.7L415.9 1060.2L414.7 1057.0L414.4 1057.2L413.4 1061.3L412.4 1057.5L411.6 1058.6L410.5 1056.4L410.2 1060.1L409.6 1061.2L408.7 1058.0L408.0 1056.7L407.2 1061.5L406.6 1063.6L405.9 1056.7L404.3 1059.4L403.6 1055.5L403.0 1061.1L402.3 1061.5L401.4 1057.0L400.6 1061.5L399.9 1061.9L399.2 1062.6L399.2 1065.5L398.2 1064.8L396.7 1062.8L396.2 1063.7L396.2 1066.5L394.3 1063.3L394.3 1102.6L393.4 1065.6L394.1 1070.4L391.9 1066.3L390.7 1065.3L389.6 1064.5L389.1 1065.6L388.5 1066.1L388.7 1069.1L386.3 1065.0L386.6 1070.3L385.5 1067.4L385.5 1069.6L385.1 1080.7L382.9 1067.4L383.5 1071.0L382.2 1069.9L380.6 1068.3L381.4 1079.9L379.7 1070.1L379.3 1071.4L376.7 1067.2L378.1 1072.6L376.8 1071.6L377.3 1079.9L373.7 1068.5L374.9 1076.1L374.3 1073.9L374.1 1081.8L374.4 1078.0L372.0 1092.0L370.5 1073.2L369.8 1073.6L369.9 1075.8L368.6 1074.9L368.0 1075.6L367.0 1075.3L366.5 1076.1L366.1 1094.9L364.3 1075.2L364.8 1076.0L364.6 1079.6L362.4 1076.8L359.6 1072.8L362.7 1071.8L360.0 1077.4L359.6 1078.4L360.4 1074.0L360.7 1084.1L356.9 1078.4L357.4 1108.3L356.3 1080.8L356.3 1058.4L354.5 1080.8L354.0 1081.6L352.2 1080.0L353.2 1079.7L353.9 1085.6L351.4 1083.6L350.9 1084.4L349.1 1082.8L349.0 1084.3L348.7 1089.2L347.3 1084.5L345.6 1083.3L345.9 1085.4L346.8 1088.1L344.4 1086.1L343.6 1086.2L344.7 1089.5L342.5 1087.5L341.6 1087.7L342.0 1089.7L339.4 1087.3L340.3 1081.4L338.2 1088.5L341.1 1093.9L338.7 1092.0L338.8 1093.5L335.3 1098.2L338.2 1095.9L334.7 1092.3L337.9 1097.2L334.9 1095.0L332.6 1100.1L333.2 1100.3L333.7 1097.2L333.4 1102.9L329.7 1095.8L329.9 1094.4L328.1 1096.8L327.6 1097.6L331.4 1101.3L331.7 1102.5L328.5 1101.3L329.7 1103.0L328.6 1103.3L330.0 1105.1L327.3 1104.3L328.0 1105.7L329.4 1107.4L327.9 1107.4L327.0 1107.9L328.2 1125.0L323.1 1107.6L326.8 1110.5L324.3 1110.1L322.5 1110.1L323.3 1111.4L322.6 1111.9L324.0 1127.5L324.5 1114.7L323.4 1115.0L321.3 1114.8L322.3 1116.3L320.7 1116.3L319.9 1116.8L320.9 1118.2L318.6 1118.0L322.5 1120.9L319.5 1109.9L319.6 1121.2L318.9 1121.7L318.2 1122.3L319.6 1123.8L318.6 1124.2L316.8 1124.3L316.8 1125.2L318.1 1125.5L317.1 1127.0L318.6 1128.3L315.9 1128.3L318.3 1129.9L315.3 1129.8L315.1 1130.6L313.5 1124.4L314.2 1132.0L315.3 1133.1L317.0 1134.3L313.3 1134.3L311.4 1134.8L314.4 1136.2L317.6 1139.7L313.8 1137.7L312.1 1138.2L312.6 1139.1L314.1 1140.2L316.9 1141.4L312.5 1141.6L313.4 1137.8L313.0 1143.3L311.9 1143.9L311.3 1144.7L312.8 1145.7L305.8 1145.7L310.3 1154.8L316.1 1148.7L312.7 1175.7L310.2 1149.4L308.6 1150.1L315.5 1149.8L309.6 1156.3L312.8 1152.9L312.2 1153.7L313.1 1154.5L314.0 1155.4L312.1 1156.1L309.2 1165.3L310.8 1152.6L312.9 1151.8L312.5 1159.3L311.8 1171.8L310.5 1160.8L313.2 1161.7L311.7 1162.5L312.3 1163.3L305.8 1163.9L312.0 1164.9L312.9 1169.4L310.0 1166.4L310.5 1167.3L310.0 1168.0L311.9 1168.9L311.3 1169.7L311.5 1170.5L311.1 1171.3L312.8 1172.1L311.2 1172.9L312.6 1173.7L311.8 1174.5L310.6 1175.3L309.4 1176.1L310.9 1176.9L311.8 1177.7L311.7 1178.5L312.6 1179.3L312.8 1180.1L313.4 1176.2L310.6 1181.7L308.4 1164.0L307.5 1183.3L310.5 1184.1L312.5 1184.9L310.9 1185.7L311.3 1167.7L309.1 1187.3L313.0 1188.2L310.1 1188.9L310.9 1189.7L310.2 1190.6L310.1 1191.4L316.6 1192.2L312.5 1193.0L310.1 1193.5L311.6 1194.6L310.0 1195.4L312.0 1196.2L311.0 1200.1L313.3 1197.8L310.0 1198.6L310.9 1199.4L310.4 1200.2L314.3 1201.0L307.9 1201.4L311.7 1202.6L311.0 1203.4L307.5 1206.1L311.9 1205.0" fill="none" stroke="#e8333a" stroke-width="1.6" stroke-linejoin="round"/>
<path d="M627.5 1003.3L627.1 1006.4L626.6 1007.6L625.5 1006.4L625.5 1009.5L624.4 1008.5L622.9 1006.3L621.0 1002.4L621.6 1007.3L622.1 1012.3L619.9 1007.3L618.7 1006.2L618.7 1009.2L616.7 1004.5L616.6 1007.3L616.1 1008.5L615.9 1010.9L614.9 1010.4L613.3 1007.3L613.3 1023.3L613.3 1014.2L611.3 1009.0L610.6 1009.9L609.9 1014.5L609.0 1009.7L608.5 1008.4L607.4 1009.8L606.4 1008.6L605.8 1010.3L605.4 1011.6L604.4 1011.1L603.5 1004.3L602.4 1009.0L602.1 1012.4L601.3 1012.6L599.8 1008.0L599.7 1012.3L599.7 1018.3L598.1 1012.4L597.2 1012.0L596.9 1015.6L595.3 1010.2L594.9 1013.1L594.5 1015.7L593.4 1001.8L592.0 1013.3L591.9 1014.2L590.9 1013.5L590.0 1013.0L589.2 1014.9L588.4 1013.4L587.4 1012.5L587.2 1015.4L586.5 1015.9L584.6 1011.0L584.7 1005.4L583.9 1021.8L583.2 1015.6L582.3 1015.4L580.9 1013.3L581.3 1018.5L579.8 1015.4L579.4 1016.8L579.2 1019.4L578.7 1020.3L576.8 1016.6L575.4 1014.7L575.2 1016.9L574.8 1008.1L573.4 1016.5L573.5 1019.5L572.6 1019.6L572.0 1020.4L571.4 1021.2L570.4 1020.7L569.9 1021.9L568.5 1019.9L568.3 1022.0L566.3 1017.6L566.2 1018.1L565.2 1019.6L564.2 1019.0L564.0 1021.6L563.0 1020.8L562.3 1021.4L561.0 1019.2L560.2 1029.5L560.3 1024.2L558.6 1019.6L558.2 1014.8L557.5 1022.1L556.7 1022.2L555.9 1022.6L554.5 1019.0L554.1 1012.1L553.1 1020.4L553.0 1024.7L551.5 1020.4L551.5 1025.2L550.1 1021.9L549.3 1022.0L549.1 1025.3L548.1 1024.5L547.1 1023.5L546.2 1023.1L545.7 1024.4L544.7 1023.7L543.7 1022.9L543.2 1024.1L541.8 1021.4L542.4 1028.1L541.2 1026.3L540.9 1028.2L540.0 1027.9L538.3 1024.6L538.0 1026.4L537.1 1026.3L537.0 1022.8L535.4 1034.5L534.7 1026.5L534.0 1027.0L532.6 1024.8L532.4 1027.4L532.4 1033.0L530.9 1027.9L530.5 1029.1L529.2 1027.8L528.1 1027.4L527.1 1026.6L526.8 1031.0L526.4 1029.7L525.6 1029.9L524.1 1027.8L524.4 1031.4L524.4 1034.3L522.1 1029.4L522.0 1031.7L521.3 1032.3L519.5 1028.9L520.1 1034.0L519.2 1033.6L517.9 1032.2L518.1 1035.8L516.4 1032.8L515.8 1033.5L514.4 1028.2L514.7 1024.6L513.4 1034.0L512.7 1034.6L511.7 1033.8L510.5 1032.1L509.9 1033.3L509.8 1035.9L509.2 1034.7L507.9 1039.7L507.4 1036.3L505.5 1032.1L505.8 1036.6L505.8 1039.6L503.8 1035.4L502.8 1030.7L502.1 1035.2L502.6 1040.1L500.7 1035.9L500.3 1037.7L499.1 1036.4L498.1 1035.6L497.8 1037.7L497.7 1040.5L496.2 1038.0L495.8 1030.7L494.2 1036.7L494.6 1039.9L492.6 1036.7L492.5 1045.4L491.5 1039.0L491.1 1033.3L489.5 1037.7L490.0 1042.8L488.4 1039.7L487.3 1038.9L486.2 1056.3L486.2 1040.8L485.8 1042.6L484.0 1036.9L484.6 1042.7L482.8 1040.7L481.1 1035.0L482.2 1044.4L482.1 1046.7L480.1 1047.8L479.0 1021.6L479.6 1046.5L477.5 1036.3L476.0 1040.3L475.9 1052.6L475.1 1042.9L475.1 1045.7L473.5 1046.1L471.4 1039.5L473.2 1047.5L470.8 1045.8L470.6 1044.7L470.0 1045.4L468.5 1043.5L468.0 1057.9L467.7 1046.3L467.1 1046.7L466.1 1046.6L466.3 1049.5L463.5 1043.9L461.7 1041.4L463.5 1048.8L462.3 1047.8L462.8 1051.7L460.3 1046.9L461.8 1053.5L459.4 1047.9L457.6 1046.6L458.8 1052.2L456.4 1048.0L457.2 1054.0L456.8 1053.8L454.7 1050.4L454.4 1051.8L453.1 1050.7L451.4 1048.3L452.1 1052.5L451.4 1053.0L449.6 1050.2L450.0 1054.1L449.1 1053.8L447.8 1053.3L447.4 1053.7L446.6 1054.0L446.0 1054.6L445.9 1057.2L443.8 1061.2L443.5 1054.9L442.4 1053.9L442.0 1055.4L440.6 1053.4L440.3 1055.2L439.1 1054.1L438.2 1061.0L437.4 1053.8L437.5 1057.3L435.9 1054.3L436.1 1058.5L435.6 1059.7L434.4 1058.0L433.1 1056.3L432.2 1055.8L432.0 1058.8L431.1 1058.3L430.0 1057.1L429.8 1060.0L428.5 1057.4L427.9 1058.6L426.6 1055.9L425.4 1053.6L425.7 1059.9L424.7 1058.9L424.1 1060.5L423.0 1058.4L422.8 1073.1L421.6 1060.3L420.7 1067.6L419.6 1057.7L418.8 1057.3L418.0 1057.7L417.8 1062.2L416.9 1061.1L415.9 1059.9L415.4 1061.8L414.3 1060.2L413.3 1058.6L412.7 1060.5L411.4 1057.3L411.4 1062.3L410.6 1062.6L409.9 1072.4L408.6 1060.3L407.8 1060.4L407.1 1061.2L407.0 1065.0L405.5 1061.4L404.9 1062.1L404.2 1062.8L402.7 1059.4L402.3 1054.1L402.2 1064.5L401.3 1064.4L400.2 1063.2L399.8 1064.9L398.8 1070.6L397.3 1061.8L397.4 1065.2L396.0 1063.2L395.3 1063.6L394.5 1069.1L393.2 1073.9L393.4 1065.6L392.2 1064.5L391.4 1064.8L391.7 1067.9L389.6 1064.6L388.6 1064.2L388.4 1080.8L388.6 1068.9L387.7 1068.7L387.8 1075.2L385.4 1067.2L383.8 1065.4L384.0 1068.1L381.8 1064.7L382.9 1069.5L380.8 1066.6L380.5 1068.0L379.6 1073.4L378.4 1075.0L378.7 1069.9L378.4 1071.3L377.3 1070.7L376.6 1071.1L375.9 1068.4L375.5 1072.7L374.4 1072.1L373.9 1073.0L371.6 1071.5L373.2 1075.3L372.3 1075.4L371.1 1074.6L371.6 1077.6L367.5 1070.4L368.6 1074.8L367.7 1074.9L366.3 1073.6L366.2 1075.4L365.3 1071.6L364.4 1075.3L364.1 1066.7L363.1 1076.4L361.6 1075.0L361.0 1075.8L361.8 1079.2L362.5 1082.6L359.9 1079.0L359.1 1079.2L358.8 1080.4L357.3 1079.3L356.7 1079.9L356.7 1081.6L354.6 1079.4L355.1 1095.1L354.4 1082.3L352.3 1080.2L351.7 1080.9L351.6 1069.3L352.0 1084.7L350.6 1083.8L349.7 1083.8L348.3 1076.9L348.7 1086.1L347.9 1085.5L344.6 1081.7L345.7 1085.1L346.0 1087.1L344.9 1086.8L344.5 1087.7L343.6 1087.7L344.3 1090.4L342.2 1057.3L343.3 1091.6L341.8 1090.9L341.4 1083.3L339.3 1088.3L336.5 1087.7L338.8 1092.2L336.6 1090.8L335.4 1090.4L335.6 1092.1L334.2 1091.7L336.3 1095.3L336.2 1089.5L332.3 1093.5L335.1 1097.5L331.3 1094.9L332.6 1097.2L331.8 1097.6L332.2 1115.8L331.8 1099.7L330.1 1099.4L332.3 1102.0L330.3 1101.5L327.7 1100.7L328.7 1102.4L328.8 1093.4L329.6 1134.8L329.5 1105.7L326.9 1105.1L327.6 1126.0L325.5 1106.1L327.3 1108.0L327.1 1105.7L322.9 1128.9L322.7 1108.3L320.8 1108.3L324.2 1110.9L326.2 1112.8L327.2 1114.2L322.2 1112.6L320.3 1112.6L320.4 1113.5L323.1 1115.8L321.2 1115.7L316.5 1114.2L320.3 1117.0L320.9 1108.9L320.7 1137.0L322.1 1120.7L320.1 1120.5L316.3 1119.5L315.0 1114.3L318.4 1127.9L319.4 1123.7L316.2 1123.2L316.5 1124.2L319.7 1126.3L317.0 1126.1L316.4 1126.8L316.0 1127.5L316.6 1128.5L314.7 1128.8L318.7 1130.7L318.0 1132.6L318.3 1132.2L313.6 1131.9L311.6 1132.3L316.2 1134.1L318.0 1135.3L313.3 1135.1L314.1 1136.1L313.2 1136.8L314.2 1137.8L313.3 1138.4L310.8 1138.8L310.9 1139.7L312.1 1140.7L313.9 1141.6L316.2 1142.9L312.7 1143.2L313.8 1140.5L313.3 1144.9L315.0 1148.5L313.1 1146.5L314.0 1147.4L310.8 1156.9L311.1 1148.7L312.6 1149.7L312.9 1150.5L313.8 1151.4L312.6 1152.1L311.1 1152.8L314.8 1159.2L310.1 1167.7L312.2 1155.3L312.8 1153.5L311.6 1156.8L309.8 1157.5L313.4 1158.6L310.4 1159.2L311.7 1160.1L310.8 1160.8L311.7 1161.7L314.0 1162.6L311.3 1163.3L311.4 1164.1L313.6 1164.9L312.7 1165.7L310.9 1166.5L312.3 1167.3L310.9 1168.1L309.2 1168.8L309.8 1169.7L310.7 1170.5L309.4 1160.2L310.9 1173.2L311.7 1172.9L311.6 1168.3L311.9 1174.5L308.2 1175.3L311.6 1176.1L314.6 1177.0L308.7 1177.7L309.3 1178.5L313.6 1179.3L313.9 1180.1L315.7 1181.0L310.9 1181.7L308.5 1182.5L309.8 1184.2L308.0 1184.1L313.6 1184.9L308.8 1185.7L308.6 1186.5L311.2 1187.3L309.7 1188.1L308.7 1188.9L311.1 1189.7L312.9 1188.0L309.1 1191.4L309.8 1192.2L311.6 1193.0L312.6 1198.5L310.3 1203.1L308.4 1195.4L310.4 1196.2L309.1 1197.2L307.0 1197.8L310.4 1198.6L310.5 1199.4L310.7 1200.2L311.8 1201.0L310.2 1201.8L309.0 1202.6L308.8 1214.0L310.8 1204.2L308.6 1205.0" fill="none" stroke="#e8333a" stroke-width="1.6" stroke-linejoin="round"/>
<path d="M627.1 1006.8L627.4 1008.9L626.9 1009.7L624.7 1007.5L626.2 1011.6L625.1 1011.3L622.5 1008.6L624.9 1017.6L622.2 1011.2L621.2 1008.5L624.0 1016.9L618.1 1009.4L618.0 1010.7L619.2 1013.9L617.9 1005.5L619.5 1017.0L617.5 1010.3L615.0 1013.7L614.6 1014.5L616.0 1017.5L613.3 1015.6L614.1 1018.1L612.7 1017.4L614.5 1020.6L612.5 1010.9L609.1 1016.9L611.2 1020.5L611.5 1022.0L607.7 1033.3L608.3 1020.9L609.6 1023.7L606.7 1021.4L606.8 1026.5L605.0 1021.8L607.9 1026.8L606.6 1024.6L605.5 1023.8L603.7 1025.3L605.3 1029.0L602.4 1026.2L601.8 1026.8L600.9 1032.0L601.4 1029.4L600.4 1023.0L599.8 1030.1L597.4 1026.2L597.5 1028.7L596.3 1007.2L596.3 1030.1L595.3 1032.1L594.3 1028.7L593.6 1029.5L593.0 1030.5L592.3 1030.8L591.9 1032.6L590.9 1031.9L590.7 1034.5L589.7 1033.9L588.1 1030.6L587.7 1032.3L586.9 1032.6L586.4 1034.6L585.0 1034.5L584.5 1033.2L583.7 1032.8L582.4 1030.5L581.6 1031.0L581.7 1034.8L580.2 1032.3L579.6 1032.9L579.1 1038.1L579.4 1037.8L578.0 1036.1L576.5 1033.9L576.5 1036.4L574.6 1033.5L575.4 1037.8L573.2 1034.2L573.0 1036.4L572.7 1037.6L570.8 1034.7L570.3 1035.8L567.9 1032.0L568.9 1036.6L568.4 1034.5L566.6 1031.2L567.3 1039.1L566.2 1038.4L564.5 1036.6L564.3 1038.0L564.9 1041.6L564.3 1042.2L562.3 1039.6L561.3 1039.2L561.3 1041.4L560.6 1041.7L560.5 1043.7L558.2 1036.9L556.7 1034.7L556.8 1041.1L556.7 1042.9L554.7 1039.1L555.3 1043.8L554.3 1043.4L553.4 1042.9L552.1 1042.1L553.6 1048.3L551.2 1044.4L549.7 1042.5L551.8 1050.4L548.2 1053.5L546.6 1041.2L546.2 1042.5L546.7 1038.9L545.0 1043.9L546.1 1049.0L544.0 1045.8L543.0 1045.3L543.5 1048.8L542.4 1048.3L542.3 1050.2L542.0 1051.4L539.7 1048.0L539.9 1055.1L538.1 1048.3L537.0 1047.9L537.1 1050.0L536.5 1050.7L535.4 1041.7L534.1 1049.5L533.0 1049.0L534.3 1053.4L533.0 1052.6L532.8 1053.1L531.1 1052.5L531.5 1054.9L529.6 1053.0L529.5 1054.6L527.7 1053.0L528.8 1056.4L527.8 1056.3L527.8 1057.8L523.8 1053.0L525.8 1057.6L522.2 1053.6L522.1 1055.0L524.3 1059.6L521.9 1057.6L522.9 1060.3L521.0 1058.0L521.2 1060.7L519.1 1059.2L518.0 1059.1L517.2 1059.4L519.1 1063.2L517.7 1062.7L517.9 1064.3L517.9 1065.4L514.1 1062.0L516.8 1066.5L513.1 1095.6L513.8 1065.4L513.9 1066.7L513.2 1067.1L511.8 1066.8L509.2 1065.5L509.6 1074.5L509.4 1067.9L512.5 1071.5L509.3 1070.0L508.5 1070.3L505.5 1069.1L506.1 1080.3L510.3 1074.6L506.3 1072.7L503.3 1071.7L507.4 1075.4L505.6 1075.2L502.0 1073.9L503.4 1075.7L504.8 1077.5L502.6 1077.2L501.1 1077.3L502.9 1079.1L502.8 1080.0L502.1 1080.6L499.8 1080.4L501.8 1082.2L501.1 1082.8L499.0 1082.8L501.9 1084.8L499.1 1084.6L503.4 1087.1L500.8 1086.9L497.6 1086.7L494.2 1087.4L500.5 1089.3L496.7 1089.0L497.2 1090.0L499.9 1091.6L500.0 1092.5L498.9 1093.0L498.3 1093.7L495.6 1093.8L496.6 1094.9L501.7 1096.9L499.1 1097.1L496.4 1097.3L497.0 1098.3L494.6 1098.6L499.6 1100.4L496.1 1100.6L497.8 1101.7L495.6 1112.0L493.6 1102.6L495.9 1103.8L494.7 1104.5L494.9 1109.2L494.1 1106.0L494.0 1106.9L497.5 1107.9L495.3 1108.6L494.4 1110.5L493.8 1110.1L495.5 1111.0L494.4 1111.8L497.6 1112.6L495.7 1115.8L496.2 1114.2L493.7 1115.0L493.4 1115.8L493.3 1116.6L496.3 1115.2L493.0 1118.2L494.0 1119.0L495.8 1119.8L495.7 1120.6L493.0 1121.4L495.3 1122.2L493.1 1123.0L493.8 1123.8L491.4 1124.7L496.8 1125.4L495.9 1126.2L494.8 1127.0L494.3 1127.9L495.7 1128.7L496.7 1129.5L496.5 1131.6L496.2 1130.4L495.1 1131.9L492.7 1132.6L492.3 1133.4L493.7 1138.7L491.2 1135.0L494.5 1135.9L492.5 1136.7L492.5 1137.3L492.2 1138.3L495.9 1139.1L494.2 1139.9L495.7 1140.7L494.1 1141.5L497.3 1142.3L495.2 1143.1L496.0 1143.9L501.3 1144.7L492.8 1145.5L496.4 1146.3L494.0 1149.0L495.7 1147.9L493.2 1148.8L495.9 1149.5L495.1 1150.2L493.6 1151.2L496.1 1153.5L496.1 1152.8L495.7 1153.6L498.0 1154.4L494.1 1155.2L495.2 1156.0L496.4 1156.8L495.4 1157.6L495.1 1158.4L494.7 1159.2L495.8 1160.0L489.6 1160.8L495.2 1161.6L493.6 1162.4L494.2 1163.2L496.1 1164.0L493.7 1164.8L497.0 1165.6L493.7 1158.8L494.1 1167.2L492.1 1168.1L495.0 1168.8L496.8 1169.6L493.7 1170.5L494.0 1171.3L496.0 1172.0L495.0 1172.9L496.7 1173.6L494.7 1174.5L492.8 1175.3L493.5 1176.1L496.9 1176.9L497.2 1177.7L499.3 1178.4L495.1 1179.3L495.7 1171.8L497.7 1181.2L495.5 1181.7L494.5 1182.5L495.2 1183.3L490.4 1184.2L493.0 1184.9L497.9 1190.2L492.8 1186.5L495.8 1187.3L495.2 1188.1L493.4 1190.0L493.4 1189.8L498.7 1190.5L495.3 1191.3L493.0 1186.7L499.3 1192.9L495.9 1193.7L494.9 1194.6L496.9 1195.3L495.8 1196.2L491.5 1197.0L489.5 1197.8L497.4 1198.5L496.0 1199.4L496.4 1200.2L495.8 1201.0L497.5 1201.8L496.9 1202.6L497.9 1203.4L497.2 1204.2L499.6 1205.0" fill="none" stroke="#e8333a" stroke-width="1.6" stroke-linejoin="round"/>
<path d="M628.1 1008.2L627.4 1002.8L626.9 1009.6L624.2 1006.5L625.3 1010.1L624.0 1009.4L622.5 1008.5L623.4 1011.5L620.7 1008.8L620.9 1010.6L619.6 1010.1L621.4 1017.5L621.7 1016.2L617.9 1012.1L619.1 1015.1L614.8 1010.6L617.8 1015.9L617.6 1017.0L614.4 1014.4L615.3 1016.7L614.8 1017.4L614.7 1018.4L613.2 1018.0L612.5 1018.4L613.5 1020.7L609.3 1017.2L610.6 1019.8L609.5 1019.8L610.8 1022.6L610.5 1023.4L609.7 1023.7L608.0 1023.0L607.5 1023.7L608.0 1025.6L604.2 1022.1L602.0 1020.5L605.2 1025.9L604.1 1025.9L603.6 1026.5L601.1 1024.1L602.2 1027.3L601.9 1028.5L599.2 1025.0L600.7 1029.9L598.7 1027.4L599.1 1030.7L598.5 1031.7L596.3 1016.7L596.0 1029.0L596.0 1032.6L595.7 1034.8L593.8 1030.2L593.5 1032.8L592.7 1032.8L591.0 1028.7L592.5 1051.5L589.4 1029.4L589.1 1026.3L588.3 1029.8L587.7 1032.3L586.3 1029.5L585.2 1027.5L585.1 1031.9L584.6 1033.6L583.7 1033.3L582.7 1032.0L581.6 1031.0L581.5 1034.0L581.3 1036.4L580.2 1035.3L578.4 1031.9L578.3 1034.4L577.1 1033.1L575.9 1032.2L576.1 1035.2L574.4 1031.1L574.9 1036.4L573.1 1034.0L573.3 1036.9L572.5 1037.0L571.2 1034.7L570.2 1035.4L568.8 1036.9L568.7 1036.1L568.1 1036.9L568.7 1040.4L565.9 1035.7L566.2 1038.5L564.2 1035.7L564.3 1038.1L564.2 1039.9L564.1 1041.8L562.5 1040.1L561.4 1039.5L560.6 1039.8L560.1 1040.6L559.1 1040.1L560.0 1044.6L558.4 1042.7L557.6 1042.9L555.5 1039.9L555.9 1043.0L555.8 1044.9L554.0 1042.7L554.1 1045.0L553.0 1044.5L552.1 1044.3L551.2 1044.2L549.9 1043.0L550.0 1045.5L548.9 1045.1L548.1 1058.0L549.1 1049.9L546.2 1044.8L546.4 1047.4L544.3 1044.3L544.7 1047.6L542.1 1043.1L542.5 1046.2L541.6 1046.2L541.2 1047.3L541.3 1049.7L539.5 1047.6L538.3 1046.8L538.6 1065.1L538.1 1050.4L536.2 1048.1L534.3 1045.9L534.2 1047.6L535.5 1052.4L533.2 1049.3L532.6 1050.1L533.4 1054.1L530.7 1049.9L532.1 1054.4L531.1 1057.5L530.3 1054.3L529.8 1055.0L529.8 1046.4L528.5 1043.8L528.5 1057.5L527.9 1066.2L527.3 1059.6L522.7 1052.8L522.8 1054.5L524.1 1057.9L523.7 1052.7L522.5 1058.4L521.1 1057.8L521.2 1059.3L522.0 1061.8L519.6 1059.8L517.9 1058.9L518.3 1060.8L515.9 1059.0L516.3 1060.8L517.4 1063.6L518.8 1066.6L516.5 1065.0L514.1 1063.3L513.3 1063.6L515.2 1067.0L511.8 1064.5L512.2 1066.1L511.5 1066.5L513.9 1080.8L510.7 1068.0L509.6 1068.1L508.0 1067.8L508.3 1069.1L506.7 1068.9L508.7 1071.5L506.9 1071.2L507.3 1074.4L508.1 1073.9L507.0 1074.2L506.5 1074.8L507.6 1076.4L505.4 1076.0L503.2 1075.6L504.1 1077.0L504.3 1078.1L503.5 1078.5L503.2 1079.3L501.1 1079.2L502.9 1078.2L502.7 1088.2L500.8 1081.8L503.4 1083.7L502.8 1084.3L498.7 1083.6L501.2 1093.8L499.8 1085.7L495.6 1085.1L499.1 1087.2L499.8 1087.3L498.8 1088.8L499.9 1090.0L499.7 1090.8L499.5 1075.8L499.5 1094.7L497.9 1088.4L498.8 1093.8L497.7 1094.3L497.8 1092.7L500.0 1095.6L500.8 1097.5L498.2 1097.7L495.1 1097.9L494.6 1098.6L495.9 1099.7L496.6 1100.7L497.2 1103.9L497.0 1102.3L493.3 1102.6L491.0 1103.2L494.0 1104.4L495.5 1105.4L496.6 1106.3L494.3 1104.6L497.5 1107.9L495.1 1108.6L498.0 1109.5L493.1 1119.9L494.7 1111.0L494.5 1111.8L498.7 1112.7L497.8 1104.2L497.4 1114.2L498.6 1115.0L496.9 1115.8L493.4 1116.6L494.3 1120.5L491.8 1118.2L499.3 1119.0L494.2 1119.8L496.6 1120.6L495.5 1121.4L497.1 1116.4L495.5 1123.0L491.3 1123.8L495.5 1124.6L494.6 1126.3L495.5 1126.2L494.9 1127.0L494.5 1127.9L495.9 1128.7L496.1 1126.1L493.5 1130.3L490.0 1131.0L495.0 1131.9L495.3 1132.7L492.9 1133.5L491.7 1134.2L497.5 1137.0L496.8 1135.9L494.9 1136.7L492.2 1136.7L493.9 1138.3L496.9 1139.1L495.0 1139.9L492.6 1140.7L494.8 1141.5L494.9 1151.6L496.9 1143.1L495.0 1145.5L492.7 1144.7L493.6 1145.5L492.6 1146.3L496.1 1147.1L492.4 1148.0L496.1 1157.3L494.5 1151.4L495.9 1150.3L495.9 1151.2L495.0 1152.0L497.9 1152.7L495.1 1153.6L498.8 1154.3L493.3 1155.2L493.8 1156.0L494.7 1156.8L494.2 1157.6L497.0 1152.2L496.4 1159.2L495.2 1160.0L492.5 1160.8L495.8 1161.7L495.3 1162.4L498.6 1163.2L498.1 1164.0L496.1 1164.8L497.0 1165.6L493.9 1166.4L495.0 1167.2L494.5 1168.0L494.6 1162.4L495.1 1169.6L495.8 1170.4L497.9 1171.2L493.9 1172.1L496.4 1172.8L496.3 1173.6L494.3 1174.5L494.5 1175.3L492.8 1176.1L495.2 1176.9L498.7 1177.6L493.0 1178.5L491.4 1164.2L493.8 1163.9L494.6 1180.9L491.6 1181.7L498.2 1182.5L494.2 1183.3L492.2 1184.1L497.3 1184.9L492.0 1184.4L497.0 1186.5L496.4 1187.3L495.5 1188.1L499.0 1188.9L494.0 1189.7L497.7 1190.5L492.7 1191.4L495.4 1192.1L493.2 1193.0L490.4 1193.8L496.9 1194.5L495.2 1195.4L495.7 1196.2L496.4 1197.0L493.8 1197.8L494.5 1198.6L495.3 1199.4L493.2 1200.2L496.6 1199.4L493.2 1201.8L496.2 1202.6L494.9 1203.4L493.5 1204.2L494.3 1205.0" fill="none" stroke="#e8333a" stroke-width="1.6" stroke-linejoin="round"/>
<path d="M297.0 1221.8L297.0 1100.0L297.5 1100.0L297.5 1221.8L297.5 1221.8L299.0 1221.8L299.0 1120.0L299.5 1120.0L299.5 1221.8L299.5 1221.8L301.0 1221.8L301.0 1096.0L301.5 1096.0L301.5 1221.8L301.5 1221.8L303.0 1221.8L303.0 1110.0L303.5 1110.0L303.5 1221.8L303.5 1221.8L305.5 1221.8L305.5 1098.0L306.0 1098.0L306.0 1221.8L306.0 1221.8L308.0 1221.8L308.0 1095.0L308.5 1095.0L308.5 1221.8L308.5 1221.8L313.0 1221.8L313.0 1100.0L313.5 1100.0L313.5 1221.8L313.5 1221.8L315.0 1221.8L315.0 1120.0L315.5 1120.0L315.5 1221.8L315.5 1221.8" fill="none" stroke="#e8333a" stroke-width="1.6" stroke-linejoin="miter"/>
<path d="M627.8 1000.2L626.8 1000.4L625.8 1000.5L624.8 1000.6L623.8 1000.2L622.8 1001.1L621.8 999.5L620.7 999.1L619.8 1001.0L618.8 1000.3L617.7 999.2L616.8 1000.8L615.8 1000.4L614.8 1001.1L613.9 1001.9L612.9 1001.6L611.9 1001.9L610.9 1002.1L609.8 1001.6L608.6 1000.0L607.8 1001.7L606.8 1001.1L605.6 999.9L604.9 1002.4L603.8 1001.6L602.7 1001.2L602.1 1003.7L601.0 1003.4L599.8 1002.1L599.0 1000.1L597.7 1001.6L597.0 1003.7L595.9 1003.2L594.8 1002.8L593.9 1003.4L592.9 1003.3L592.2 1004.9L591.1 1004.7L590.1 1005.0L589.1 1004.8L588.3 1005.8L587.0 1004.8L586.4 1006.6L585.2 1005.7L583.9 1004.9L583.4 1006.7L582.0 1005.6L581.4 1007.3L580.4 1007.2L579.2 1006.9L578.2 1006.9L577.4 1007.7L576.5 1008.1L575.2 1007.3L574.5 1008.3L573.7 1009.5L572.7 1009.5L571.1 1007.4L570.3 1008.2L569.4 1008.9L568.7 1010.3L567.8 1010.8L566.6 1010.1L565.7 1010.5L564.4 1009.6L563.5 1010.2L562.5 1010.3L561.7 1011.2L560.6 1010.6L559.8 1011.8L558.9 1012.5L557.9 1012.4L556.8 1012.0L555.7 1012.0L555.3 1014.6L554.0 1013.3L552.8 1012.5L552.3 1014.8L551.1 1014.2L550.2 1014.7L549.1 1014.5L548.2 1015.2L547.2 1015.0L546.1 1014.9L545.4 1016.0L544.4 1016.2L543.6 1017.2L541.9 1014.8L541.3 1016.3L540.6 1017.5L539.6 1017.8L538.6 1018.0L537.5 1017.5L535.9 1015.9L535.6 1018.2L534.9 1019.4L533.9 1019.6L532.3 1017.8L531.5 1018.5L530.5 1018.9L529.6 1026.8L528.9 1020.3L528.2 1021.3L527.0 1020.9L526.1 1021.4L525.3 1022.2L524.4 1022.6L523.2 1022.2L522.3 1022.9L521.5 1023.8L520.4 1023.6L519.2 1022.8L518.2 1022.9L517.6 1024.6L516.5 1024.4L515.5 1024.6L514.8 1025.8L513.5 1024.9L512.7 1025.6L511.7 1025.8L510.3 1024.6L509.6 1025.7L508.6 1025.9L507.7 1026.4L506.9 1027.5L505.6 1026.5L504.9 1027.5L503.6 1026.5L503.0 1028.1L501.4 1025.9L500.6 1026.8L500.1 1029.0L498.9 1028.4L497.9 1028.2L496.7 1028.0L495.9 1029.0L495.0 1029.6L494.2 1030.2L493.3 1031.0L492.5 1031.7L491.4 1031.3L490.7 1032.7L489.3 1031.2L488.0 1030.3L487.0 1030.7L486.9 1033.8L485.3 1032.0L484.1 1031.5L483.1 1031.6L482.4 1032.7L481.3 1032.5L480.4 1033.2L479.8 1034.5L478.3 1033.2L477.3 1033.2L476.9 1035.4L475.8 1035.3L474.3 1033.7L473.8 1035.4L472.9 1035.9L471.8 1035.9L471.2 1037.4L469.8 1036.3L468.9 1036.7L468.1 1037.5L466.8 1036.6L465.8 1036.9L465.3 1038.6L464.4 1039.0L463.4 1039.1L462.1 1038.5L461.5 1040.0L460.3 1039.4L459.6 1040.5L458.4 1040.0L457.8 1041.4L457.0 1042.2L455.7 1045.9L454.9 1042.4L454.1 1044.8L452.7 1042.0L451.6 1041.8L450.5 1041.8L450.5 1055.9L449.3 1044.4L448.2 1044.2L447.1 1044.1L446.8 1046.4L445.2 1044.8L444.7 1046.4L443.3 1045.6L442.0 1044.6L441.5 1046.4L440.1 1045.4L439.6 1047.1L438.8 1047.9L437.8 1048.0L436.8 1048.2L435.8 1048.5L434.6 1047.9L434.3 1050.4L433.2 1050.4L431.7 1048.6L431.0 1049.7L429.9 1049.6L429.1 1050.5L428.0 1050.2L427.3 1051.5L426.4 1052.2L424.9 1050.2L424.1 1051.3L423.5 1052.9L422.5 1053.2L421.1 1051.7L420.5 1053.3L419.0 1051.2L418.2 1052.2L417.3 1053.0L416.4 1053.6L415.6 1054.5L414.4 1053.8L413.2 1053.1L412.4 1054.2L411.6 1054.9L410.6 1055.1L409.4 1054.6L408.3 1055.6L407.1 1053.7L406.7 1056.2L405.9 1056.9L404.5 1055.7L403.4 1055.2L402.8 1057.0L401.8 1057.2L401.0 1057.8L399.9 1057.8L398.7 1057.2L398.4 1059.6L396.9 1058.3L396.0 1058.6L394.9 1058.4L394.1 1059.3L392.9 1056.5L392.4 1060.7L391.0 1060.3L390.0 1059.8L388.9 1059.7L389.0 1063.0L387.4 1061.6L386.3 1061.3L385.5 1070.8L384.7 1063.0L383.7 1063.1L382.8 1070.9L381.2 1061.9L380.6 1063.2L380.2 1065.1L378.6 1063.8L377.4 1063.4L377.7 1066.9L376.0 1065.2L375.4 1064.6L374.3 1066.5L373.0 1065.8L372.5 1067.5L371.2 1066.9L370.0 1066.6L369.8 1068.6L368.6 1068.3L366.9 1067.0L367.0 1069.8L365.7 1069.2L365.1 1072.2L364.8 1072.1L363.0 1070.6L363.1 1073.3L360.9 1071.0L360.1 1071.6L359.1 1071.8L358.7 1073.2L357.7 1073.4L357.0 1074.4L356.3 1075.1L354.4 1073.6L354.1 1075.2L352.7 1074.7L352.4 1076.3L351.7 1077.1L350.6 1077.2L349.8 1077.8L348.7 1078.0L347.2 1077.5L347.5 1079.8L346.0 1079.4L345.1 1079.7L344.8 1081.1L343.8 1081.5L343.0 1082.0L342.6 1083.1L340.9 1082.7L340.9 1084.2L339.5 1084.1L339.1 1085.2L337.9 1085.3L337.1 1086.0L337.6 1088.0L336.4 1088.2L335.8 1089.0L334.6 1089.2L333.7 1089.8L333.0 1090.5L333.4 1092.2L332.1 1092.4L331.6 1093.3L331.1 1094.2L330.5 1095.0L329.8 1095.8L327.4 1094.9L327.8 1096.7L328.2 1098.3L327.4 1098.9L327.4 1100.1L325.4 1099.9L325.2 1101.0L325.4 1102.2L323.7 1102.4L324.7 1104.1L323.1 1104.4L323.4 1105.6L323.8 1106.8L322.7 1107.5L322.7 1108.5L320.8 1108.9L320.2 1109.8L320.7 1111.0L320.9 1112.1L320.3 1113.0L319.8 1113.9L319.4 1114.8L318.9 1115.7L321.9 1117.3L317.7 1117.5L318.8 1118.8L319.4 1119.9L319.1 1120.9L318.6 1121.8L319.3 1123.0L319.2 1123.9L317.9 1124.7L317.0 1125.6L316.0 1126.4L316.8 1127.6L318.4 1128.9L315.9 1129.4L317.2 1130.7L315.6 1131.4L316.4 1132.6L316.8 1133.7L316.6 1134.7L315.0 1135.4L316.7 1136.8L315.2 1137.5L315.8 1138.6L314.6 1139.4L315.5 1140.6L315.3 1141.6L314.1 1141.8L313.9 1143.4L313.3 1144.3L313.5 1145.3L313.5 1146.4L312.0 1147.1L313.4 1148.4L313.1 1149.3L312.7 1150.3L313.8 1151.5L311.9 1152.2L312.0 1153.2L311.1 1154.1L310.8 1155.0L310.2 1156.0L310.9 1157.1L310.6 1158.1L312.2 1149.1L310.6 1160.1L310.1 1161.0L309.9 1162.0L311.3 1155.5L310.3 1164.1L310.2 1165.1L310.5 1166.2L309.6 1167.1L310.3 1168.2L309.8 1169.1L309.7 1170.1L309.5 1169.4L309.7 1172.1L308.0 1172.9L308.8 1174.0L309.9 1175.2L309.0 1168.2L308.4 1177.0L309.3 1178.1L308.8 1179.1L307.9 1180.0L308.0 1181.0L308.5 1182.1L308.4 1183.1L308.2 1184.1L307.8 1185.0L309.5 1186.2L307.0 1187.0L309.0 1188.2L308.6 1189.1L307.3 1190.0L306.8 1191.0L307.7 1192.1L306.0 1192.9L307.9 1194.1L305.8 1194.9L307.5 1191.3L305.8 1196.9L305.0 1197.8L306.2 1199.0L305.3 1199.9L307.1 1201.1L306.8 1202.0L306.2 1203.0L306.1 1204.0L306.4 1205.0" fill="none" stroke="#3a66dd" stroke-width="2.0" stroke-linejoin="round"/>
<path d="M627.0 1000.7L626.6 1002.0L625.6 1002.3L624.8 1002.9L623.8 1003.1L622.8 1003.4L621.8 1003.7L621.0 1004.3L619.3 1003.3L619.3 1005.5L617.8 1004.7L617.5 1006.4L616.9 1007.4L615.2 1006.4L614.7 1007.5L614.3 1008.9L612.5 1007.8L611.9 1009.2L611.6 1010.1L610.3 1010.0L609.7 1010.9L608.8 1011.4L608.1 1012.1L606.3 1011.1L605.9 1012.3L605.2 1013.2L604.3 1013.7L603.1 1013.7L601.9 1013.6L601.8 1015.4L601.4 1016.7L599.6 1015.6L598.6 1015.9L598.4 1017.5L597.0 1017.1L596.9 1018.9L595.7 1018.8L595.2 1020.0L594.3 1020.5L592.1 1015.0L592.3 1021.1L591.2 1021.0L590.4 1021.6L589.2 1021.3L588.3 1021.8L587.9 1023.6L586.9 1019.7L585.6 1023.4L584.6 1023.5L583.7 1023.9L582.6 1023.9L582.5 1026.5L580.5 1024.1L580.0 1025.5L578.9 1025.5L578.1 1026.2L577.2 1026.6L576.1 1026.5L574.8 1026.2L574.2 1027.2L573.7 1028.7L572.7 1029.0L571.2 1028.1L570.7 1029.4L570.5 1031.3L569.4 1031.5L568.1 1030.8L567.5 1032.0L566.2 1031.6L565.5 1032.6L564.6 1032.2L563.9 1034.0L562.3 1032.6L561.4 1033.1L561.1 1035.0L559.6 1034.1L559.3 1035.9L557.5 1034.4L556.8 1035.2L556.0 1029.4L554.9 1035.8L554.2 1036.8L553.3 1037.3L552.5 1037.9L551.1 1037.2L550.5 1038.5L549.3 1038.1L548.6 1039.0L547.8 1039.8L546.5 1039.1L545.8 1040.1L544.9 1040.8L543.4 1039.6L542.5 1040.1L541.8 1041.1L541.1 1051.3L540.2 1042.3L539.0 1042.2L539.0 1044.3L537.5 1043.6L535.8 1042.7L535.6 1046.2L534.0 1043.7L533.6 1044.9L532.8 1045.6L532.4 1046.8L531.9 1047.9L530.6 1047.8L529.2 1052.6L529.4 1049.7L528.0 1049.3L527.2 1049.9L526.1 1050.1L524.9 1050.0L525.1 1052.4L523.7 1051.9L523.3 1053.3L521.7 1052.5L520.9 1053.2L520.2 1052.6L519.2 1054.2L518.1 1054.4L518.4 1056.4L517.0 1056.3L515.9 1056.6L516.1 1058.4L514.7 1058.3L514.3 1059.3L513.9 1060.4L512.6 1060.4L511.3 1060.5L511.6 1062.3L510.6 1062.7L510.0 1063.5L508.2 1063.1L508.0 1064.3L506.5 1064.4L506.6 1065.8L506.5 1066.9L504.0 1066.3L504.6 1068.0L504.6 1069.2L504.7 1070.5L502.8 1070.5L502.7 1071.6L501.8 1072.3L501.6 1073.3L500.8 1074.0L500.7 1075.1L500.4 1076.0L499.2 1076.6L499.9 1078.0L498.8 1078.6L497.5 1079.2L498.9 1080.9L497.4 1081.3L497.0 1082.3L497.6 1083.6L496.4 1084.2L496.2 1085.2L495.6 1086.0L495.4 1087.0L495.9 1088.3L494.3 1088.8L494.1 1089.8L494.3 1090.9L494.4 1092.0L494.2 1093.0L494.3 1094.1L494.1 1095.0L493.1 1095.8L494.4 1097.1L492.7 1097.8L492.8 1098.9L492.7 1099.9L490.8 1097.5L492.5 1101.9L489.6 1102.3L490.2 1103.5L490.0 1104.4L490.8 1105.6L490.7 1113.4L489.7 1107.5L490.3 1108.6L490.6 1109.7L489.3 1110.5L489.4 1111.5L489.6 1112.6L489.6 1113.6L489.3 1114.6L487.5 1115.2L488.5 1116.5L490.8 1118.0L488.8 1118.6L489.1 1119.7L488.7 1120.6L488.0 1121.5L486.0 1122.1L486.8 1123.3L487.5 1124.5L487.1 1124.8L487.0 1126.4L487.6 1127.6L486.0 1128.3L486.1 1129.3L486.2 1130.4L486.3 1131.4L486.6 1132.5L484.8 1133.2L485.1 1134.3L484.9 1135.2L484.6 1136.2L485.7 1137.4L484.7 1138.3L484.4 1139.2L484.3 1140.2L484.5 1141.3L484.1 1142.2L483.3 1143.1L483.4 1144.2L484.0 1145.3L482.5 1146.1L483.2 1147.2L482.5 1148.1L483.0 1149.2L481.4 1150.0L483.6 1151.3L482.3 1152.1L482.2 1153.1L482.5 1154.2L480.4 1154.9L481.2 1156.1L482.2 1157.2L481.4 1158.1L480.0 1158.9L480.7 1160.0L481.9 1161.2L480.6 1162.1L480.9 1163.1L480.8 1164.1L478.8 1164.9L479.6 1166.0L480.6 1156.2L480.0 1168.1L479.8 1169.1L477.6 1169.8L479.3 1171.0L480.4 1172.2L479.2 1173.0L479.2 1174.1L478.3 1174.9L479.3 1176.1L478.4 1177.0L479.5 1178.2L479.0 1179.1L479.2 1180.2L479.1 1186.2L477.5 1181.9L479.2 1183.2L477.8 1179.1L476.6 1184.9L477.3 1186.0L477.6 1197.5L476.6 1187.9L476.8 1189.0L476.5 1189.9L477.2 1197.5L476.8 1192.0L476.8 1193.0L476.4 1194.0L476.2 1195.0L476.7 1196.0L475.6 1184.6L475.6 1197.9L476.6 1199.1L475.2 1193.5L475.6 1201.0L476.1 1202.0L474.9 1203.0L475.3 1204.0L475.5 1205.0" fill="none" stroke="#3a66dd" stroke-width="2.0" stroke-linejoin="round"/>
<path d="M627.8 988.9L626.8 988.5L625.8 988.8L624.8 989.0L623.8 988.8L622.8 989.1L621.8 988.8L620.8 989.2L619.8 988.7L618.8 988.3L617.8 988.6L616.7 989.2L615.8 988.6L614.7 989.4L613.7 989.0L612.7 988.6L611.7 988.7L610.7 988.8L609.7 989.0L608.7 988.8L607.8 989.3L606.8 989.3L605.7 989.0L604.8 989.4L603.8 989.7L602.8 989.9L601.8 989.8L600.9 990.6L599.6 989.3L598.8 990.5L597.8 990.3L596.8 990.5L595.7 990.2L594.9 991.3L593.9 991.5L592.9 991.6L592.0 992.0L591.0 992.0L590.1 992.8L589.0 992.6L587.7 991.5L587.1 993.1L585.8 992.1L585.0 992.9L584.2 993.9L583.3 995.5L582.1 994.0L581.0 993.5L580.3 995.0L579.1 994.3L578.4 995.4L577.2 994.9L576.3 995.4L575.4 996.0L574.3 995.7L573.4 996.4L572.5 996.7L571.5 996.9L570.3 996.3L569.5 997.2L568.3 996.6L567.4 997.1L566.3 996.9L565.5 997.6L564.5 998.0L563.7 999.2L562.4 997.8L561.5 998.1L560.5 998.3L559.4 998.2L558.7 999.9L557.6 999.2L556.4 998.5L555.5 999.2L554.6 999.6L553.7 1000.3L552.6 1000.1L551.5 999.6L550.6 1000.3L549.5 999.6L548.7 1000.7L547.7 1000.8L546.7 1000.9L545.7 1001.1L544.9 1002.4L543.8 1002.1L542.8 1002.0L541.9 1002.7L540.9 1002.7L539.7 1002.3L538.6 1002.0L538.2 1004.2L537.0 1003.7L535.9 1003.5L535.3 1005.0L534.2 1004.9L532.9 1003.8L532.2 1005.1L531.4 1006.0L530.4 1006.3L529.1 1005.2L528.1 1005.3L527.3 1006.3L526.3 1006.7L525.2 1006.4L524.3 1006.8L523.5 1007.6L522.5 1007.8L521.5 1007.9L520.4 1007.9L519.5 1008.3L518.7 1009.1L517.4 1008.1L516.6 1009.2L515.5 1008.7L514.4 1008.7L513.4 1008.9L512.4 1009.1L511.6 1009.7L510.8 1010.8L509.8 1011.0L508.6 1010.4L508.0 1011.8L506.7 1011.1L505.8 1011.4L504.9 1011.9L504.0 1012.6L503.0 1012.5L502.1 1013.3L500.9 1012.5L499.9 1012.8L499.3 1014.3L498.0 1013.5L497.0 1013.6L495.9 1013.5L495.2 1014.4L494.1 1014.3L493.0 1014.2L492.3 1015.4L491.2 1015.0L490.4 1016.2L489.4 1016.3L488.1 1015.1L487.2 1015.7L486.4 1016.6L485.3 1016.4L484.3 1016.4L483.5 1017.5L482.4 1017.1L481.7 1018.5L480.7 1018.7L479.8 1019.3L478.7 1018.9L477.6 1018.8L476.9 1020.0L475.7 1019.5L474.7 1019.6L473.7 1019.9L472.7 1019.7L472.0 1021.0L470.7 1020.0L470.0 1021.4L468.8 1020.8L468.0 1021.7L466.9 1021.6L465.9 1021.5L465.1 1022.4L464.2 1023.3L463.0 1022.6L462.0 1022.6L461.3 1020.5L460.3 1023.9L459.2 1023.7L458.0 1023.3L457.3 1024.4L456.2 1024.5L455.2 1024.4L454.2 1024.5L453.4 1025.6L452.3 1025.3L451.2 1025.2L450.8 1027.1L449.3 1026.0L448.8 1027.4L447.7 1027.3L446.2 1026.5L445.7 1027.9L444.7 1028.0L444.2 1029.3L442.9 1028.9L442.1 1029.7L441.4 1030.6L440.4 1030.8L439.1 1030.2L438.3 1030.9L437.2 1030.6L436.6 1032.2L435.6 1032.3L434.6 1032.4L433.5 1032.4L432.5 1032.7L431.2 1031.7L430.5 1032.8L429.4 1032.8L428.7 1034.0L427.6 1033.6L426.8 1034.6L425.7 1034.3L424.7 1034.6L424.1 1038.2L422.7 1035.0L422.0 1036.0L421.2 1036.9L419.9 1036.0L418.8 1036.8L418.0 1036.7L417.1 1037.1L416.2 1037.7L415.3 1038.1L414.1 1037.8L413.5 1039.3L412.3 1038.7L411.3 1038.8L410.4 1039.3L409.6 1040.2L408.4 1039.7L407.4 1039.7L406.4 1039.9L405.5 1040.6L404.7 1041.1L403.5 1040.9L402.9 1042.1L401.9 1042.4L401.0 1043.1L399.8 1042.5L398.7 1042.3L397.8 1042.9L396.9 1043.1L396.1 1044.1L395.0 1040.4L394.1 1044.6L392.9 1043.8L391.8 1043.8L391.1 1045.0L390.3 1045.8L389.4 1046.3L388.3 1047.7L387.4 1046.5L386.2 1046.1L385.2 1046.2L384.3 1046.8L383.6 1047.9L382.4 1047.3L381.3 1047.1L380.5 1048.0L379.6 1048.4L378.5 1048.3L377.5 1048.3L376.9 1049.9L375.6 1049.0L374.8 1050.0L373.7 1049.9L373.0 1050.9L371.7 1050.1L370.5 1049.7L369.7 1050.6L369.0 1051.5L367.8 1051.3L367.3 1052.5L366.1 1052.5L365.3 1053.1L364.5 1053.6L363.4 1053.7L362.4 1053.9L361.9 1055.2L361.0 1055.6L359.7 1055.4L359.4 1056.9L358.1 1056.6L357.3 1057.2L356.3 1057.5L355.9 1058.7L354.6 1058.6L353.7 1059.0L353.1 1059.9L352.1 1060.2L351.3 1060.8L350.9 1062.0L350.2 1062.8L348.8 1062.5L348.4 1063.8L347.3 1061.6L346.8 1064.9L345.7 1065.1L344.6 1065.4L343.5 1065.5L342.9 1066.4L342.2 1067.2L341.5 1067.9L340.3 1068.0L340.0 1069.3L339.5 1070.3L338.0 1070.0L337.4 1070.8L337.0 1071.9L335.8 1072.1L335.6 1073.3L334.4 1073.4L333.7 1074.2L332.6 1074.5L332.8 1076.1L331.2 1076.0L331.3 1077.4L331.0 1078.5L329.8 1078.8L329.7 1079.9L328.7 1080.4L327.8 1081.1L327.2 1081.8L326.3 1082.5L326.5 1083.8L325.5 1084.4L325.2 1085.4L325.9 1086.9L324.4 1087.2L324.3 1088.3L324.3 1089.4L323.7 1090.2L323.3 1091.1L322.7 1092.0L322.7 1093.1L322.3 1094.0L321.8 1094.9L321.9 1095.9L320.9 1096.7L321.1 1097.8L320.9 1098.8L321.0 1099.8L320.9 1100.8L320.1 1101.7L320.5 1102.8L319.4 1103.6L320.9 1104.9L319.9 1105.7L319.3 1106.7L319.1 1107.6L319.1 1108.7L317.9 1109.5L319.1 1110.7L318.6 1111.6L317.9 1112.5L318.3 1113.6L318.0 1114.6L317.1 1115.5L317.9 1116.6L317.7 1117.6L317.7 1118.6L317.9 1119.7L316.6 1120.5L315.7 1121.3L316.8 1122.5L316.2 1123.4L316.8 1124.6L316.0 1125.5L315.5 1126.4L316.0 1127.5L315.2 1128.4L315.3 1129.4L315.5 1130.5L315.3 1131.4L315.7 1132.5L313.6 1133.2L316.0 1134.6L313.9 1135.3L313.7 1136.3L314.2 1137.4L313.4 1138.3L313.4 1139.3L314.2 1140.4L314.0 1141.4L313.9 1144.1L313.9 1143.4L312.9 1144.3L313.5 1145.4L313.5 1146.4L313.5 1147.4L312.6 1148.3L312.1 1149.3L312.4 1150.3L312.2 1151.3L311.3 1152.2L312.2 1153.3L312.2 1154.3L311.1 1155.2L311.2 1156.2L311.3 1157.3L310.9 1158.2L311.2 1159.3L310.4 1160.2L311.4 1161.3L310.5 1162.2L311.0 1163.3L309.9 1164.2L310.6 1165.3L310.1 1166.2L309.5 1167.1L309.3 1168.1L309.6 1169.2L309.2 1170.1L309.6 1171.2L309.4 1172.2L309.0 1171.0L309.4 1174.2L309.1 1175.2L309.6 1176.3L307.5 1177.0L309.0 1178.2L308.1 1179.1L308.2 1180.2L309.3 1181.3L307.4 1182.1L307.3 1183.1L307.6 1184.1L307.1 1185.1L307.4 1186.1L307.4 1188.3L306.4 1188.0L305.1 1188.8L306.1 1190.0L305.9 1191.0L306.0 1192.0L305.6 1193.0L306.1 1194.1L305.5 1195.0L304.9 1195.9L305.5 1197.0L305.1 1198.0L304.8 1199.0L305.4 1200.0L304.8 1202.0L305.8 1202.0L305.6 1203.0L304.8 1204.0L305.1 1205.0" fill="none" stroke="#3fae62" stroke-width="1.9" stroke-linejoin="round"/>
<path d="M627.0 989.0L627.1 990.5L625.8 990.7L625.3 991.6L623.9 991.6L624.0 993.1L623.3 993.8L622.4 994.4L621.9 995.2L621.1 995.9L620.7 996.9L619.5 997.1L618.5 997.5L618.6 999.1L617.4 999.3L616.5 999.8L614.3 998.9L615.2 1000.4L614.2 1001.7L612.8 1001.7L612.8 1003.2L611.3 1003.0L611.5 1011.4L610.8 1005.0L609.5 1005.4L609.2 1006.7L608.8 1007.7L607.4 1007.7L606.7 1008.4L605.5 1008.4L605.0 1009.5L604.1 1009.9L603.0 1010.1L602.6 1011.3L602.0 1012.3L601.0 1012.4L600.0 1012.7L599.2 1013.5L598.1 1013.5L597.8 1015.0L596.2 1014.1L595.4 1014.9L594.9 1016.1L594.1 1016.6L593.2 1017.1L592.2 1017.4L591.1 1017.3L590.7 1018.8L589.8 1019.2L588.5 1018.9L587.6 1019.3L586.8 1020.0L585.8 1020.3L584.9 1020.8L583.9 1021.0L583.2 1021.9L582.3 1022.2L581.7 1023.3L580.6 1023.3L579.6 1023.6L578.6 1023.8L577.7 1024.3L576.7 1024.5L576.0 1025.3L575.2 1026.1L573.9 1025.6L573.0 1026.1L572.2 1026.7L571.5 1027.7L570.2 1027.3L569.3 1027.7L568.4 1028.2L567.5 1028.6L567.0 1029.8L565.7 1029.4L564.7 1029.7L564.0 1030.5L562.6 1029.9L562.1 1031.2L561.1 1031.4L560.0 1031.5L559.3 1032.3L558.4 1032.9L557.6 1033.6L556.4 1033.2L555.7 1034.1L554.7 1034.3L553.6 1034.4L552.8 1034.9L551.7 1034.8L550.9 1035.9L549.8 1035.7L548.9 1036.1L547.8 1035.9L546.8 1036.0L545.9 1036.5L544.9 1036.8L543.9 1036.8L543.1 1037.7L542.2 1038.0L541.3 1038.5L540.5 1039.1L539.0 1038.2L538.5 1039.5L537.4 1039.6L536.8 1040.6L535.9 1041.1L535.1 1041.6L533.9 1041.6L533.5 1042.9L532.6 1043.3L531.1 1042.8L530.6 1043.9L529.6 1044.1L528.5 1044.4L527.7 1044.9L527.7 1046.9L526.0 1046.0L525.3 1046.7L524.4 1047.3L523.3 1047.4L523.0 1048.8L521.6 1048.4L521.1 1049.5L520.8 1050.9L519.4 1050.6L519.0 1051.8L518.3 1052.5L517.1 1052.5L515.8 1052.5L515.3 1053.6L514.7 1054.3L513.4 1054.4L513.2 1055.8L511.9 1055.8L511.0 1056.3L511.3 1058.1L509.7 1057.8L509.8 1059.4L508.3 1059.3L507.8 1060.2L506.8 1060.7L506.8 1062.0L505.9 1062.7L506.1 1064.1L505.2 1064.6L504.6 1065.4L503.1 1065.5L502.7 1066.5L502.5 1067.6L501.4 1068.1L501.3 1069.2L500.1 1069.7L499.9 1070.7L499.5 1071.6L499.0 1072.5L498.5 1073.4L498.2 1074.4L497.0 1074.9L497.2 1076.1L496.2 1076.8L496.2 1077.9L495.9 1078.8L495.4 1079.7L496.1 1081.1L494.3 1081.5L494.8 1082.7L494.2 1083.6L494.1 1084.6L493.5 1085.5L493.8 1086.6L492.8 1087.3L492.1 1088.2L492.7 1089.4L492.5 1090.4L491.7 1091.2L490.8 1092.0L491.4 1093.2L491.6 1094.3L490.8 1095.1L489.5 1095.8L489.9 1097.0L489.5 1097.9L490.0 1099.0L489.3 1099.9L488.9 1100.9L489.2 1101.9L488.5 1102.8L489.4 1104.1L487.9 1104.8L489.0 1106.0L488.0 1106.8L487.6 1107.8L487.5 1108.8L487.9 1109.9L487.1 1110.8L486.8 1111.7L486.8 1112.7L486.4 1113.7L486.8 1114.8L485.6 1115.6L486.4 1116.8L484.9 1117.5L486.1 1118.8L486.0 1119.8L484.5 1120.5L484.7 1121.5L485.1 1122.6L484.3 1123.5L483.9 1124.4L484.7 1125.6L483.8 1126.5L483.9 1127.5L483.4 1128.4L484.1 1129.6L482.6 1130.3L482.8 1131.4L482.9 1132.4L482.4 1133.4L481.4 1134.2L482.1 1135.4L482.2 1136.4L481.5 1137.3L481.8 1137.5L481.8 1139.4L481.0 1140.3L481.1 1141.3L481.7 1142.4L480.9 1143.3L480.7 1144.3L479.9 1146.1L479.9 1146.2L480.4 1147.3L480.7 1148.4L479.9 1149.3L480.5 1150.3L480.4 1151.4L480.0 1152.3L479.7 1153.3L478.8 1154.2L479.0 1155.2L479.3 1156.3L479.9 1157.4L478.6 1158.2L477.7 1159.1L478.1 1160.2L479.3 1161.3L477.8 1162.1L477.9 1163.2L479.0 1164.3L477.2 1165.1L478.0 1166.2L478.7 1167.3L476.8 1168.1L476.7 1169.1L477.6 1170.2L476.2 1171.0L477.0 1172.2L476.7 1173.1L476.8 1174.2L476.9 1175.2L475.6 1176.0L475.4 1181.4L475.9 1178.1L475.3 1179.0L475.6 1180.1L476.4 1181.2L475.8 1182.1L474.7 1183.0L475.6 1184.1L474.4 1187.9L474.8 1186.1L474.7 1187.1L474.3 1173.6L474.9 1189.1L474.6 1190.1L473.9 1191.0L473.9 1192.0L472.8 1192.9L472.8 1193.9L474.1 1195.1L473.2 1196.0L472.8 1196.9L472.8 1197.9L473.0 1199.0L473.5 1200.0L472.8 1201.0L472.9 1202.0L473.2 1203.0L473.2 1204.0L472.9 1205.0" fill="none" stroke="#3fae62" stroke-width="1.9" stroke-linejoin="round"/>
<path d="M627.2 946.5L626.7 946.2L626.1 945.9L625.5 945.5L624.7 945.0L623.9 944.5L623.0 944.0L622.0 943.5L621.0 943.0L619.9 942.6L618.8 942.3L617.6 942.0L616.4 941.8L615.0 941.6L613.6 941.4L612.1 941.2L610.7 941.1L609.2 941.0L607.7 940.9L606.2 940.8L604.8 940.7L603.5 940.6L602.2 940.5L601.1 940.4L599.9 940.3L598.7 940.3L597.5 940.2L596.1 940.3L594.6 940.4L592.9 940.6L590.9 940.9L588.7 941.3L586.4 941.8L584.0 942.4L581.4 943.0L578.7 943.7L575.8 944.5L572.8 945.3L569.6 946.1L566.3 947.0L562.9 947.9L559.3 948.8L555.4 949.9L551.3 951.0L547.1 952.1L542.8 953.2L538.4 954.4L533.9 955.6L529.5 956.8L525.2 958.0L520.9 959.1L516.7 960.2L512.5 961.4L508.3 962.5L504.1 963.7L499.9 964.9L495.7 966.0L491.5 967.1L487.3 968.2L483.1 969.3L478.9 970.3L474.7 971.3L470.5 972.2L466.3 973.0L462.1 973.9L457.9 974.7L453.8 975.5L449.6 976.3L445.4 977.1L441.2 977.9L437.0 978.7L432.7 979.5L428.2 980.4L423.5 981.2L418.9 982.1L414.3 982.9L409.8 983.8L405.6 984.5L401.6 985.2L398.1 985.9L395.0 986.4L392.5 986.8L390.5 987.1L388.9 987.2L387.6 987.3L386.6 987.4L385.6 987.5L384.7 987.6L383.6 987.8L382.4 988.1L380.8 988.5L378.9 989.1L376.9 989.8L374.7 990.6L372.5 991.5L370.2 992.4L367.9 993.3L365.7 994.3L363.6 995.2L361.6 996.1L359.8 996.9L358.2 997.6L356.7 998.3L355.3 999.0L354.0 999.6L352.8 1000.2L351.6 1000.9L350.5 1001.5L349.4 1002.3L348.3 1003.0L347.2 1003.9L346.1 1004.8L345.0 1005.9L343.9 1007.0L342.9 1008.1L341.9 1009.2L340.9 1010.4L340.0 1011.6L339.1 1012.8L338.3 1014.0L337.5 1015.1L336.8 1016.2L336.1 1017.3L335.6 1018.3L335.0 1019.4L334.5 1020.5L334.0 1021.6L333.6 1022.7L333.0 1023.8L332.5 1025.0L331.9 1026.3L331.3 1027.5L330.6 1028.7L329.9 1029.8L329.3 1031.0L328.6 1032.2L327.9 1033.5L327.1 1035.0L326.4 1036.7L325.7 1038.7L324.9 1041.0L324.1 1043.7L323.3 1046.8L322.4 1050.2L321.5 1053.9L320.6 1057.7L319.7 1061.5L318.9 1065.4L318.0 1069.1L317.2 1072.7L316.5 1076.0L315.8 1079.1L315.2 1082.0L314.6 1084.9L314.1 1087.7L313.5 1090.4L313.0 1093.1L312.5 1095.7L312.0 1098.4L311.4 1101.1L310.9 1103.9L310.3 1106.7L309.8 1109.5L309.2 1112.3L308.7 1115.1L308.1 1117.9L307.5 1120.7L307.0 1123.5L306.4 1126.3L305.9 1129.1L305.3 1131.9L304.7 1134.7L304.2 1137.5L303.6 1140.3L303.1 1143.1L302.5 1145.9L301.9 1148.7L301.4 1151.5L300.8 1154.3L300.3 1157.1L299.7 1159.9L299.1 1162.8L298.5 1165.8L297.9 1168.9L297.3 1172.0L296.6 1175.1L296.0 1178.1L295.5 1180.9L295.0 1183.6L294.5 1185.9L294.1 1187.9L293.8 1189.5L293.5 1190.8L293.3 1191.9L293.2 1192.7L293.1 1193.3L293.0 1193.9L292.9 1194.4L292.9 1194.9L292.8 1195.5L292.7 1196.3L292.6 1197.2L292.5 1198.2L292.4 1199.2L292.3 1200.2L292.3 1201.2L292.2 1202.1L292.1 1203.0L292.1 1203.8L292.0 1204.5L292.0 1205.0" fill="none" stroke="#a67ee0" stroke-width="1.9" stroke-linejoin="round"/>
<path d="M627.2 946.5L626.9 947.3L626.6 948.3L626.2 949.4L625.7 950.7L625.2 952.1L624.7 953.6L624.1 955.2L623.4 956.8L622.7 958.4L622.0 960.0L621.2 961.6L620.4 963.3L619.5 965.0L618.5 966.8L617.5 968.6L616.5 970.5L615.4 972.4L614.3 974.2L613.2 976.1L612.0 978.0L610.8 979.9L609.5 981.8L608.1 983.8L606.7 985.7L605.3 987.7L603.8 989.7L602.4 991.6L601.0 993.6L599.6 995.5L598.3 997.3L597.1 999.1L595.9 1000.9L594.8 1002.7L593.7 1004.4L592.6 1006.2L591.5 1007.9L590.3 1009.6L589.2 1011.2L587.9 1012.8L586.6 1014.4L585.2 1016.0L583.7 1017.5L582.2 1019.0L580.7 1020.5L579.1 1022.0L577.5 1023.4L575.9 1024.8L574.3 1026.1L572.7 1027.3L571.1 1028.4L569.5 1029.4L568.0 1030.4L566.4 1031.3L564.8 1032.1L563.2 1032.8L561.6 1033.5L560.0 1034.2L558.5 1034.8L557.0 1035.5L555.5 1036.1L554.1 1036.7L552.8 1037.2L551.5 1037.6L550.3 1038.0L549.0 1038.4L547.8 1038.8L546.5 1039.3L545.1 1039.8L543.6 1040.3L541.9 1041.0L540.1 1041.8L538.1 1042.6L535.9 1043.5L533.7 1044.5L531.4 1045.5L529.2 1046.5L526.9 1047.6L524.8 1048.7L522.7 1049.7L520.9 1050.8L519.2 1051.9L517.6 1052.9L516.1 1054.0L514.6 1055.0L513.2 1056.1L511.9 1057.3L510.6 1058.4L509.3 1059.6L508.1 1060.8L506.9 1062.0L505.7 1063.3L504.6 1064.6L503.6 1066.0L502.5 1067.4L501.6 1068.8L500.6 1070.3L499.7 1071.7L498.8 1073.2L497.9 1074.6L497.1 1076.0L496.3 1077.4L495.5 1078.7L494.8 1080.0L494.0 1081.3L493.3 1082.6L492.7 1083.9L492.0 1085.3L491.4 1086.8L490.7 1088.3L490.1 1090.0L489.5 1091.8L488.9 1093.6L488.3 1095.5L487.7 1097.5L487.1 1099.6L486.6 1101.7L486.0 1103.9L485.5 1106.2L485.0 1108.5L484.5 1110.9L484.0 1113.4L483.6 1116.0L483.1 1118.8L482.7 1121.6L482.3 1124.5L481.9 1127.4L481.5 1130.3L481.1 1133.2L480.7 1136.1L480.3 1138.9L479.9 1141.7L479.5 1144.5L479.0 1147.3L478.6 1150.0L478.2 1152.8L477.8 1155.6L477.4 1158.4L476.9 1161.2L476.5 1164.0L476.1 1166.9L475.7 1169.9L475.2 1173.0L474.7 1176.3L474.2 1179.6L473.8 1182.8L473.3 1186.0L472.9 1189.0L472.5 1191.7L472.2 1194.2L471.9 1196.3L471.7 1198.0L471.6 1199.5L471.5 1200.7L471.4 1201.7L471.4 1202.5L471.4 1203.1L471.5 1203.7L471.5 1204.1L471.5 1204.6L471.5 1205.0" fill="none" stroke="#a67ee0" stroke-width="1.9" stroke-linejoin="round"/>
<path d="M627.2 938.1L626.7 937.8L626.1 937.5L625.3 937.1L624.4 936.6L623.5 936.1L622.6 935.6L621.6 935.1L620.6 934.7L619.7 934.3L618.8 933.9L618.0 933.6L617.3 933.3L616.6 933.0L616.0 932.8L615.3 932.6L614.6 932.4L613.7 932.2L612.8 932.1L611.7 931.9L610.4 931.8L608.9 931.7L607.3 931.5L605.6 931.4L603.8 931.3L601.9 931.2L599.8 931.1L597.7 931.2L595.5 931.3L593.2 931.5L590.9 931.8L588.5 932.2L586.1 932.8L583.6 933.4L581.0 934.2L578.3 934.9L575.5 935.8L572.6 936.7L569.5 937.6L566.3 938.6L562.9 939.5L559.3 940.5L555.4 941.5L551.3 942.6L547.1 943.7L542.8 944.9L538.4 946.1L533.9 947.2L529.5 948.4L525.2 949.6L520.9 950.7L516.7 951.8L512.5 953.0L508.3 954.1L504.1 955.2L499.9 956.4L495.7 957.5L491.5 958.6L487.3 959.7L483.1 960.8L478.9 961.9L474.7 963.0L470.5 964.0L466.2 965.1L461.9 966.1L457.7 967.1L453.5 968.1L449.3 969.1L445.1 970.0L441.0 970.9L437.0 971.7L433.0 972.4L428.8 973.1L424.7 973.7L420.6 974.3L416.5 974.9L412.6 975.4L408.8 975.9L405.3 976.3L402.0 976.8L399.0 977.3L396.4 977.8L394.1 978.2L392.2 978.5L390.4 978.9L388.8 979.2L387.3 979.6L385.8 980.0L384.3 980.4L382.6 980.9L380.8 981.5L378.8 982.2L376.7 982.9L374.6 983.7L372.4 984.5L370.2 985.4L368.0 986.2L365.9 987.1L363.8 988.1L361.7 989.0L359.8 989.9L357.9 990.8L356.0 991.8L354.2 992.7L352.4 993.7L350.6 994.7L348.9 995.7L347.3 996.7L345.8 997.7L344.3 998.7L343.0 999.7L341.8 1000.7L340.7 1001.6L339.7 1002.6L338.8 1003.6L338.0 1004.5L337.2 1005.5L336.5 1006.5L335.9 1007.5L335.2 1008.5L334.6 1009.5L334.0 1010.6L333.5 1011.7L333.1 1012.8L332.7 1014.0L332.3 1015.1L331.9 1016.3L331.6 1017.4L331.3 1018.6L330.9 1019.7L330.5 1020.7L330.1 1021.7L329.7 1022.7L329.2 1023.6L328.8 1024.5L328.4 1025.4L328.0 1026.2L327.6 1027.1L327.1 1028.1L326.7 1029.0L326.3 1030.0L325.9 1031.0L325.5 1031.8L325.1 1032.6L324.8 1033.5L324.4 1034.3L324.0 1035.3L323.6 1036.4L323.1 1037.7L322.6 1039.2L322.1 1041.0L321.5 1043.1L320.9 1045.5L320.2 1048.2L319.5 1051.0L318.8 1053.9L318.0 1057.0L317.3 1060.1L316.5 1063.1L315.8 1066.1L315.1 1069.0L314.4 1071.8L313.7 1074.6L313.0 1077.4L312.3 1080.2L311.6 1083.0L310.9 1085.7L310.2 1088.5L309.5 1091.3L308.8 1094.1L308.1 1096.9L307.4 1099.7L306.7 1102.5L306.0 1105.3L305.2 1108.1L304.5 1110.9L303.8 1113.7L303.1 1116.5L302.4 1119.3L301.7 1122.1L301.1 1124.9L300.5 1127.7L299.9 1130.6L299.3 1133.5L298.7 1136.4L298.1 1139.3L297.6 1142.2L297.0 1145.0L296.5 1147.7L296.0 1150.4L295.5 1152.9L295.0 1155.3L294.6 1157.5L294.1 1159.7L293.7 1161.7L293.3 1163.8L292.9 1165.7L292.5 1167.7L292.1 1169.7L291.7 1171.8L291.3 1173.9L290.9 1176.1L290.4 1178.5L289.9 1180.9L289.5 1183.4L289.0 1185.9L288.6 1188.3L288.1 1190.5L287.7 1192.7L287.4 1194.6L287.1 1196.3L286.9 1197.8L286.7 1199.1L286.5 1200.2L286.4 1201.2L286.3 1202.0L286.2 1202.8L286.2 1203.5L286.1 1204.0L286.1 1204.5L286.0 1205.0" fill="none" stroke="#c49c2e" stroke-width="1.9" stroke-linejoin="round"/>
<path d="M627.2 938.1L626.9 938.7L626.6 939.4L626.2 940.2L625.8 941.2L625.3 942.2L624.8 943.3L624.4 944.5L623.9 945.6L623.4 946.8L623.0 947.9L622.6 949.0L622.3 950.1L621.9 951.3L621.6 952.4L621.3 953.6L620.9 954.8L620.6 956.1L620.2 957.4L619.8 958.7L619.3 960.0L618.8 961.4L618.2 962.9L617.5 964.5L616.8 966.1L616.1 967.7L615.4 969.3L614.7 970.9L614.1 972.4L613.5 973.8L613.0 975.0L612.6 976.1L612.2 977.0L612.0 977.8L611.8 978.5L611.5 979.1L611.3 979.8L611.1 980.5L610.8 981.3L610.4 982.2L609.9 983.3L609.3 984.5L608.7 985.9L607.9 987.3L607.2 988.8L606.3 990.4L605.5 992.0L604.7 993.7L603.8 995.4L603.0 997.2L602.2 998.9L601.4 1000.7L600.6 1002.7L599.8 1004.7L599.0 1006.8L598.2 1008.8L597.4 1010.9L596.6 1012.9L595.9 1014.9L595.1 1016.7L594.4 1018.3L593.7 1019.8L593.0 1021.1L592.4 1022.4L591.8 1023.5L591.2 1024.6L590.6 1025.6L590.0 1026.7L589.4 1027.7L588.8 1028.8L588.2 1029.9L587.6 1031.1L587.1 1032.3L586.6 1033.5L586.1 1034.6L585.5 1035.8L585.0 1037.0L584.5 1038.2L583.9 1039.4L583.3 1040.5L582.7 1041.6L582.0 1042.7L581.3 1043.8L580.5 1044.8L579.7 1045.8L578.9 1046.9L578.1 1047.9L577.3 1048.9L576.5 1049.8L575.8 1050.8L575.0 1051.7L574.3 1052.6L573.6 1053.4L573.0 1054.2L572.4 1055.0L571.8 1055.7L571.1 1056.5L570.5 1057.3L569.7 1058.1L568.9 1059.0L568.0 1060.0L567.0 1061.0L565.9 1062.1L564.8 1063.3L563.6 1064.5L562.4 1065.7L561.1 1067.0L559.8 1068.2L558.5 1069.4L557.2 1070.6L555.9 1071.8L554.6 1073.0L553.2 1074.1L551.8 1075.3L550.4 1076.4L549.0 1077.5L547.6 1078.7L546.2 1079.8L544.7 1080.9L543.3 1081.9L541.9 1083.0L540.5 1084.0L539.1 1085.0L537.7 1086.0L536.3 1087.0L534.9 1087.9L533.5 1088.9L532.1 1089.8L530.7 1090.8L529.3 1091.7L527.9 1092.7L526.5 1093.7L525.0 1094.6L523.6 1095.5L522.1 1096.5L520.6 1097.4L519.2 1098.4L517.8 1099.4L516.4 1100.4L515.1 1101.4L513.9 1102.5L512.7 1103.6L511.6 1104.8L510.6 1106.0L509.5 1107.3L508.6 1108.5L507.6 1109.8L506.7 1111.1L505.8 1112.4L504.9 1113.8L504.1 1115.1L503.3 1116.4L502.5 1117.7L501.8 1118.9L501.1 1120.1L500.4 1121.4L499.8 1122.7L499.1 1124.1L498.5 1125.7L497.8 1127.3L497.1 1129.1L496.4 1131.1L495.7 1133.3L495.0 1135.7L494.2 1138.2L493.5 1140.7L492.8 1143.3L492.1 1145.9L491.4 1148.3L490.7 1150.7L490.1 1152.9L489.5 1154.9L488.9 1156.8L488.3 1158.6L487.7 1160.2L487.1 1161.9L486.6 1163.6L486.0 1165.3L485.5 1167.1L485.0 1169.0L484.5 1171.1L484.0 1173.4L483.5 1176.0L483.0 1178.7L482.6 1181.5L482.1 1184.3L481.7 1187.1L481.3 1189.7L480.9 1192.2L480.6 1194.4L480.3 1196.3L480.1 1197.9L479.9 1199.2L479.8 1200.4L479.7 1201.4L479.6 1202.2L479.6 1202.9L479.6 1203.5L479.6 1204.1L479.5 1204.6L479.5 1205.0" fill="none" stroke="#c49c2e" stroke-width="1.9" stroke-linejoin="round"/>
<path d="M627.2 873.8L626.7 873.4L626.1 873.0L625.5 872.4L624.7 871.8L623.9 871.1L623.0 870.4L622.0 869.7L621.0 869.1L619.9 868.6L618.8 868.2L617.7 867.9L616.6 867.6L615.4 867.3L614.3 867.0L613.0 866.8L611.7 866.7L610.2 866.6L608.6 866.6L606.8 866.7L604.8 866.8L602.6 867.0L600.3 867.3L597.9 867.6L595.3 868.0L592.6 868.4L589.7 868.9L586.7 869.5L583.6 870.2L580.3 870.9L576.9 871.7L573.3 872.6L569.4 873.6L565.3 874.8L561.1 876.0L556.8 877.3L552.4 878.6L547.9 879.9L543.5 881.2L539.2 882.4L534.9 883.6L530.7 884.8L526.5 885.9L522.3 887.1L518.1 888.2L513.9 889.3L509.7 890.5L505.5 891.6L501.3 892.7L497.1 893.7L492.9 894.8L488.8 895.8L484.7 896.9L480.6 897.9L476.6 898.9L472.6 899.8L468.5 900.8L464.3 901.8L460.0 902.7L455.6 903.7L451.0 904.6L446.1 905.6L440.7 906.5L435.1 907.5L429.3 908.5L423.5 909.5L417.9 910.4L412.4 911.3L407.4 912.2L402.9 913.0L399.0 913.7L395.8 914.4L393.2 914.9L391.0 915.5L389.2 915.9L387.7 916.4L386.4 916.8L385.1 917.2L383.8 917.6L382.4 918.1L380.8 918.6L379.1 919.1L377.3 919.6L375.6 920.1L373.8 920.6L372.1 921.1L370.5 921.7L368.8 922.2L367.2 922.8L365.6 923.4L364.0 924.1L362.5 924.8L361.0 925.5L359.5 926.3L358.0 927.1L356.6 927.9L355.2 928.8L353.8 929.7L352.5 930.6L351.2 931.5L350.0 932.5L348.8 933.5L347.7 934.5L346.7 935.5L345.6 936.6L344.7 937.7L343.7 938.8L342.8 939.9L341.9 941.1L341.0 942.4L340.2 943.7L339.4 945.1L338.6 946.5L337.9 948.0L337.2 949.6L336.6 951.1L335.9 952.7L335.3 954.3L334.6 956.0L334.0 957.5L333.3 959.1L332.6 960.6L331.9 962.2L331.2 963.7L330.5 965.2L329.8 966.7L329.1 968.2L328.4 969.8L327.7 971.3L327.0 972.9L326.3 974.5L325.6 976.1L324.9 977.7L324.2 979.4L323.5 981.1L322.8 982.7L322.1 984.4L321.4 986.1L320.7 987.8L320.0 989.6L319.3 991.3L318.6 993.1L317.9 995.0L317.1 996.9L316.4 998.8L315.6 1000.8L314.9 1002.7L314.2 1004.6L313.5 1006.3L312.9 1008.0L312.3 1009.5L311.8 1010.8L311.3 1012.0L310.8 1013.0L310.4 1013.9L310.0 1014.7L309.6 1015.6L309.2 1016.5L308.8 1017.5L308.4 1018.7L308.0 1020.0L307.6 1021.5L307.3 1023.1L306.9 1024.9L306.6 1026.7L306.3 1028.6L305.9 1030.6L305.5 1032.5L305.1 1034.4L304.5 1036.3L303.9 1038.2L303.2 1040.1L302.3 1042.0L301.4 1043.9L300.5 1045.8L299.4 1047.7L298.4 1049.6L297.3 1051.5L296.2 1053.2L295.2 1054.9L294.1 1056.4L293.0 1057.8L292.0 1059.1L290.9 1060.4L289.9 1061.5L288.8 1062.6L287.6 1063.7L286.5 1064.7L285.3 1065.7L284.1 1066.6L282.9 1067.6L281.6 1068.6L280.3 1069.5L278.9 1070.4L277.5 1071.2L276.1 1072.1L274.6 1072.9L273.2 1073.7L271.7 1074.5L270.3 1075.2L268.9 1076.0L267.5 1076.8L266.1 1077.5L264.7 1078.2L263.3 1078.9L261.9 1079.6L260.5 1080.3L259.1 1080.9L257.7 1081.6L256.3 1082.3L254.9 1083.0L253.5 1083.7L252.1 1084.4L250.7 1085.0L249.3 1085.7L247.9 1086.3L246.5 1087.0L245.1 1087.7L243.7 1088.4L242.3 1089.2L240.9 1090.0L239.5 1090.9L238.0 1091.7L236.6 1092.7L235.1 1093.6L233.6 1094.6L232.2 1095.6L230.8 1096.6L229.4 1097.6L228.1 1098.7L226.9 1099.7L225.7 1100.7L224.6 1101.8L223.6 1102.9L222.5 1103.9L221.6 1105.0L220.6 1106.1L219.7 1107.3L218.8 1108.5L217.9 1109.7L217.1 1110.9L216.3 1112.2L215.5 1113.5L214.8 1114.9L214.0 1116.3L213.3 1117.7L212.7 1119.2L212.0 1120.6L211.4 1122.1L210.7 1123.5L210.1 1124.9L209.5 1126.3L208.9 1127.7L208.3 1129.1L207.7 1130.5L207.1 1131.9L206.6 1133.3L206.0 1134.7L205.5 1136.1L205.0 1137.5L204.5 1138.9L204.0 1140.3L203.5 1141.7L203.1 1143.1L202.6 1144.4L202.2 1145.8L201.8 1147.2L201.4 1148.6L201.0 1150.0L200.7 1151.4L200.3 1152.9L200.0 1154.4L199.7 1155.8L199.4 1157.3L199.1 1158.8L198.9 1160.2L198.6 1161.8L198.4 1163.3L198.1 1164.9L197.9 1166.6L197.6 1168.3L197.3 1170.1L197.0 1172.1L196.7 1174.2L196.4 1176.4L196.1 1178.5L195.8 1180.7L195.5 1182.7L195.3 1184.6L195.0 1186.4L194.8 1187.9L194.6 1189.2L194.4 1190.3L194.2 1191.2L194.1 1192.1L194.0 1192.8L193.8 1193.5L193.7 1194.1L193.6 1194.8L193.5 1195.5L193.4 1196.3L193.3 1197.2L193.2 1198.2L193.2 1199.2L193.1 1200.2L193.1 1201.2L193.1 1202.1L193.1 1203.0L193.0 1203.8L193.0 1204.5L193.0 1205.0" fill="none" stroke="#52dcd0" stroke-width="1.9" stroke-linejoin="round"/>
<path d="M627.2 873.8L627.0 874.4L626.9 875.2L626.7 876.0L626.4 877.0L626.1 878.1L625.9 879.3L625.5 880.6L625.2 882.0L624.8 883.4L624.4 885.0L624.0 886.7L623.5 888.5L623.0 890.4L622.4 892.4L621.9 894.5L621.3 896.6L620.7 898.9L620.1 901.2L619.4 903.6L618.8 906.0L618.2 908.5L617.5 911.1L616.8 913.9L616.1 916.7L615.4 919.5L614.7 922.4L613.9 925.3L613.2 928.2L612.5 931.1L611.8 933.9L611.1 936.7L610.4 939.7L609.7 942.6L609.0 945.6L608.3 948.5L607.6 951.5L606.9 954.3L606.2 957.0L605.5 959.5L604.8 961.9L604.1 964.1L603.4 966.1L602.7 968.0L602.0 969.7L601.4 971.4L600.7 973.0L600.0 974.6L599.4 976.2L598.8 977.8L598.3 979.4L597.8 981.0L597.4 982.6L596.9 984.1L596.6 985.6L596.2 987.1L595.8 988.6L595.5 990.1L595.1 991.7L594.8 993.3L594.4 995.0L594.0 996.8L593.6 998.7L593.2 1000.7L592.8 1002.7L592.5 1004.7L592.1 1006.7L591.7 1008.7L591.3 1010.7L590.9 1012.6L590.5 1014.4L590.1 1016.1L589.7 1017.7L589.3 1019.3L588.9 1020.9L588.5 1022.4L588.2 1023.9L587.8 1025.4L587.4 1026.9L587.0 1028.4L586.6 1029.9L586.2 1031.5L585.8 1033.0L585.4 1034.6L585.0 1036.2L584.6 1037.8L584.3 1039.3L583.9 1040.9L583.5 1042.4L583.1 1044.0L582.7 1045.5L582.3 1046.9L582.0 1048.2L581.7 1049.4L581.4 1050.6L581.1 1051.8L580.8 1053.1L580.4 1054.5L580.0 1056.1L579.5 1057.9L578.9 1060.0L578.2 1062.3L577.5 1064.8L576.7 1067.5L575.8 1070.3L574.9 1073.3L573.9 1076.4L572.9 1079.6L571.9 1083.0L570.9 1086.4L569.9 1090.0L568.9 1093.7L567.8 1097.7L566.7 1101.9L565.5 1106.2L564.4 1110.6L563.2 1115.1L562.0 1119.5L560.9 1123.8L559.8 1127.9L558.7 1131.9L557.7 1135.7L556.6 1139.4L555.6 1143.1L554.6 1146.7L553.6 1150.2L552.7 1153.6L551.7 1157.0L550.7 1160.4L549.8 1163.7L548.9 1166.9L548.0 1170.2L547.0 1173.5L546.1 1176.8L545.1 1180.1L544.2 1183.2L543.3 1186.3L542.5 1189.2L541.7 1191.8L541.1 1194.2L540.5 1196.3L540.1 1198.0L539.7 1199.5L539.5 1200.7L539.3 1201.7L539.2 1202.5L539.2 1203.1L539.1 1203.7L539.1 1204.1L539.1 1204.6L539.0 1205.0" fill="none" stroke="#52dcd0" stroke-width="1.9" stroke-linejoin="round"/>
<path d="M626.5 854.2L626.3 854.1L626.0 853.9L625.8 853.7L625.5 853.4L625.1 853.2L624.7 852.9L624.1 852.7L623.4 852.4L622.6 852.3L621.6 852.1L620.4 852.0L619.0 851.9L617.3 851.8L615.6 851.7L613.8 851.6L611.9 851.6L610.0 851.6L608.2 851.6L606.4 851.6L604.8 851.7L603.4 851.8L602.1 851.9L600.9 852.1L599.7 852.3L598.5 852.5L597.3 852.7L596.0 853.0L594.5 853.4L592.8 853.8L590.9 854.2L588.7 854.7L586.4 855.2L584.0 855.8L581.4 856.5L578.7 857.2L575.8 857.9L572.8 858.6L569.6 859.5L566.3 860.3L562.9 861.2L559.3 862.1L555.4 863.2L551.3 864.3L547.1 865.4L542.8 866.5L538.4 867.7L533.9 868.9L529.5 870.1L525.2 871.3L520.9 872.4L516.7 873.5L512.5 874.7L508.3 875.8L504.1 877.0L499.9 878.2L495.7 879.3L491.5 880.4L487.3 881.5L483.1 882.6L478.9 883.6L474.7 884.6L470.5 885.5L466.2 886.4L461.9 887.3L457.7 888.1L453.5 888.9L449.3 889.7L445.1 890.5L441.0 891.3L437.0 892.0L433.0 892.7L428.8 893.4L424.7 894.1L420.6 894.8L416.5 895.5L412.6 896.1L408.8 896.7L405.3 897.3L402.0 897.8L399.0 898.3L396.4 898.8L394.0 899.1L392.0 899.5L390.1 899.8L388.4 900.1L386.8 900.4L385.3 900.7L383.9 901.0L382.4 901.4L380.8 901.8L379.2 902.3L377.7 902.8L376.3 903.3L374.9 903.8L373.5 904.4L372.2 905.0L370.9 905.6L369.5 906.2L368.2 906.8L366.8 907.4L365.4 908.0L363.9 908.7L362.4 909.4L360.9 910.0L359.5 910.7L358.0 911.4L356.6 912.2L355.2 912.9L354.0 913.6L352.8 914.4L351.7 915.2L350.7 915.9L349.8 916.7L349.0 917.5L348.2 918.3L347.4 919.1L346.6 920.0L345.9 920.8L345.2 921.7L344.4 922.7L343.6 923.7L342.9 924.7L342.2 925.8L341.5 926.8L340.9 927.9L340.2 929.1L339.5 930.2L338.9 931.4L338.2 932.7L337.5 933.9L336.8 935.2L336.1 936.5L335.4 937.9L334.6 939.3L333.9 940.7L333.2 942.2L332.5 943.6L331.8 945.1L331.1 946.5L330.5 947.9L329.9 949.3L329.3 950.7L328.8 952.0L328.2 953.4L327.7 954.7L327.2 956.1L326.6 957.5L326.1 958.9L325.5 960.4L324.9 961.9L324.3 963.5L323.6 965.1L322.9 966.7L322.2 968.4L321.5 970.1L320.8 971.8L320.0 973.6L319.3 975.3L318.6 977.0L317.9 978.7L317.2 980.4L316.5 982.1L315.8 983.8L315.1 985.6L314.4 987.3L313.7 989.0L313.0 990.7L312.3 992.3L311.6 993.9L310.9 995.5L310.2 997.0L309.5 998.5L308.7 1000.0L308.0 1001.5L307.2 1002.9L306.5 1004.3L305.8 1005.6L305.1 1007.0L304.5 1008.3L303.9 1009.5L303.4 1010.7L303.0 1011.8L302.7 1013.0L302.4 1014.0L302.1 1015.1L301.9 1016.1L301.5 1017.1L301.0 1018.0L300.4 1019.0L299.7 1020.0L298.7 1021.0L297.6 1022.0L296.3 1023.0L294.9 1023.9L293.4 1024.9L291.9 1025.8L290.5 1026.7L289.2 1027.6L288.1 1028.4L287.1 1029.1L286.4 1029.8L285.9 1030.3L285.5 1030.8L285.3 1031.3L285.1 1031.7L284.9 1032.1L284.6 1032.5L284.2 1033.0L283.7 1033.4L282.9 1034.0L281.9 1034.6L280.8 1035.2L279.6 1035.8L278.3 1036.4L276.9 1037.0L275.5 1037.7L273.9 1038.4L272.3 1039.2L270.6 1040.1L268.9 1041.0L267.1 1042.0L265.0 1043.2L262.9 1044.5L260.7 1045.8L258.4 1047.1L256.1 1048.5L253.9 1049.8L251.8 1051.2L249.7 1052.4L247.9 1053.6L246.2 1054.7L244.6 1055.7L243.1 1056.7L241.6 1057.7L240.2 1058.7L238.9 1059.6L237.6 1060.5L236.3 1061.5L235.1 1062.4L233.9 1063.4L232.7 1064.4L231.6 1065.3L230.6 1066.3L229.5 1067.3L228.6 1068.2L227.6 1069.2L226.7 1070.2L225.8 1071.2L224.9 1072.2L224.1 1073.2L223.3 1074.2L222.5 1075.3L221.8 1076.3L221.0 1077.3L220.3 1078.4L219.7 1079.5L219.0 1080.6L218.4 1081.8L217.7 1083.1L217.1 1084.4L216.5 1085.8L215.8 1087.4L215.2 1089.0L214.6 1090.7L214.0 1092.4L213.5 1094.1L212.9 1095.9L212.4 1097.7L211.9 1099.4L211.5 1101.1L211.1 1102.8L210.8 1104.4L210.5 1106.0L210.2 1107.6L209.9 1109.2L209.7 1110.9L209.5 1112.5L209.2 1114.3L209.0 1116.0L208.7 1117.9L208.4 1119.8L208.1 1121.8L207.9 1123.9L207.6 1126.0L207.3 1128.1L207.0 1130.3L206.7 1132.5L206.5 1134.6L206.2 1136.8L205.9 1138.9L205.6 1141.0L205.3 1143.1L205.1 1145.2L204.8 1147.3L204.5 1149.4L204.2 1151.5L203.9 1153.6L203.7 1155.7L203.4 1157.8L203.1 1159.9L202.8 1162.0L202.5 1164.2L202.2 1166.4L201.9 1168.6L201.6 1170.8L201.3 1172.9L201.0 1175.0L200.8 1177.1L200.5 1179.0L200.3 1180.9L200.1 1182.7L199.9 1184.4L199.8 1186.1L199.6 1187.8L199.5 1189.4L199.4 1190.9L199.3 1192.3L199.2 1193.7L199.1 1195.1L199.0 1196.3L198.9 1197.5L198.8 1198.6L198.8 1199.7L198.7 1200.7L198.7 1201.6L198.6 1202.5L198.6 1203.2L198.6 1203.9L198.5 1204.5L198.5 1205.0" fill="none" stroke="#5a2730" stroke-width="1.9" stroke-linejoin="round"/>
<path d="M626.5 854.2L626.0 855.6L625.5 857.4L624.8 859.5L624.0 861.8L623.2 864.4L622.3 867.0L621.4 869.8L620.5 872.6L619.6 875.3L618.8 878.0L618.0 880.6L617.1 883.3L616.3 886.1L615.4 888.9L614.5 891.7L613.7 894.6L612.8 897.5L612.0 900.3L611.2 903.2L610.4 906.0L609.6 908.8L608.9 911.6L608.2 914.4L607.5 917.2L606.9 920.0L606.2 922.7L605.5 925.5L604.9 928.3L604.2 931.1L603.5 933.9L602.8 936.7L602.1 939.6L601.4 942.5L600.7 945.4L599.9 948.3L599.2 951.2L598.5 954.0L597.8 956.7L597.2 959.4L596.5 961.9L595.9 964.3L595.2 966.6L594.6 968.9L593.9 971.0L593.3 973.1L592.7 975.2L592.1 977.2L591.5 979.3L591.0 981.3L590.5 983.3L590.0 985.3L589.6 987.3L589.2 989.3L588.8 991.2L588.4 993.1L588.1 995.0L587.7 996.9L587.3 998.8L587.0 1000.8L586.6 1002.7L586.2 1004.6L585.8 1006.6L585.4 1008.5L585.0 1010.5L584.6 1012.5L584.3 1014.4L583.9 1016.4L583.5 1018.3L583.1 1020.3L582.7 1022.2L582.3 1024.1L581.9 1026.1L581.6 1028.1L581.2 1030.0L580.8 1032.0L580.4 1033.9L580.0 1035.9L579.7 1037.8L579.3 1039.7L578.9 1041.6L578.5 1043.5L578.1 1045.3L577.8 1047.0L577.4 1048.8L577.0 1050.6L576.7 1052.4L576.3 1054.2L575.9 1056.0L575.4 1058.0L575.0 1060.0L574.6 1062.1L574.1 1064.1L573.7 1066.2L573.2 1068.3L572.7 1070.5L572.2 1072.7L571.7 1075.1L571.2 1077.6L570.5 1080.2L569.9 1083.0L569.2 1086.0L568.4 1089.1L567.6 1092.4L566.8 1095.8L565.9 1099.3L565.0 1102.9L564.1 1106.5L563.2 1110.3L562.4 1114.1L561.5 1117.9L560.7 1121.8L559.8 1125.9L558.9 1130.2L558.1 1134.5L557.2 1138.8L556.4 1143.2L555.5 1147.5L554.7 1151.7L553.9 1155.9L553.1 1159.9L552.3 1163.9L551.5 1168.0L550.7 1172.1L549.9 1176.2L549.1 1180.2L548.4 1184.0L547.7 1187.6L547.1 1190.9L546.6 1193.8L546.1 1196.3L545.7 1198.3L545.5 1200.0L545.3 1201.2L545.2 1202.2L545.1 1202.9L545.1 1203.5L545.1 1203.9L545.1 1204.3L545.0 1204.6L545.0 1205.0" fill="none" stroke="#5a2730" stroke-width="1.9" stroke-linejoin="round"/>
</g>
<clipPath id="clipe"><rect x="875.1" y="698.4" width="531.4" height="498.4"/></clipPath><g clip-path="url(#clipe)">
<path d="M1165.7 1221.8L1165.7 1188.0L1166.2 1188.0L1166.2 1221.8L1166.2 1221.8L1229.0 1221.8L1229.0 1175.0L1229.5 1175.0L1229.5 1221.8L1229.5 1221.8L1231.5 1221.8L1231.5 1165.5L1232.0 1165.5L1232.0 1221.8L1232.0 1221.8L1233.5 1221.8L1233.5 1185.0L1234.0 1185.0L1234.0 1221.8L1234.0 1221.8L1249.0 1221.8L1249.0 1175.0L1249.5 1175.0L1249.5 1221.8L1249.5 1221.8L1251.0 1221.8L1251.0 1168.0L1251.5 1168.0L1251.5 1221.8L1251.5 1221.8L1253.0 1221.8L1253.0 1180.0L1253.5 1180.0L1253.5 1221.8L1253.5 1221.8" fill="none" stroke="#3a66dd" stroke-width="1.4" stroke-linejoin="miter"/>
<path d="M1371.1 1069.8L1370.7 1068.8L1370.3 1067.8L1370.6 1066.2L1369.5 1065.8L1369.5 1064.2L1368.0 1064.4L1366.7 1064.6L1366.4 1063.0L1365.2 1064.2L1364.3 1062.7L1363.5 1062.9L1362.5 1061.3L1361.3 1062.1L1360.4 1061.5L1359.3 1062.1L1358.3 1062.1L1357.4 1061.3L1356.4 1060.3L1355.3 1061.6L1354.4 1060.9L1353.3 1061.5L1352.3 1060.7L1351.3 1061.6L1350.3 1061.7L1349.3 1060.1L1348.3 1061.1L1347.3 1060.8L1346.3 1060.8L1345.3 1061.7L1344.3 1061.1L1343.3 1061.4L1342.3 1061.2L1341.3 1061.7L1340.3 1062.0L1339.2 1060.9L1338.3 1061.7L1337.2 1066.2L1336.3 1062.3L1335.4 1062.7L1334.2 1061.6L1333.4 1062.9L1332.3 1062.5L1331.4 1063.4L1330.2 1078.8L1329.4 1063.2L1328.3 1062.7L1327.3 1062.9L1326.3 1063.1L1325.4 1063.6L1324.4 1063.8L1323.5 1064.5L1322.4 1064.2L1321.3 1063.5L1320.3 1063.8L1319.5 1064.7L1318.3 1064.1L1317.5 1065.1L1316.6 1066.0L1315.5 1071.2L1314.5 1065.3L1313.3 1064.8L1312.6 1066.1L1311.4 1065.6L1310.4 1065.7L1309.5 1066.3L1308.5 1066.5L1307.6 1066.9L1306.8 1067.8L1305.7 1067.5L1304.7 1067.6L1303.8 1068.2L1302.7 1068.1L1302.1 1069.2L1300.8 1068.7L1299.9 1082.5L1298.7 1068.9L1298.1 1076.9L1297.1 1070.4L1296.2 1070.6L1295.4 1071.4L1294.3 1071.4L1293.4 1071.7L1292.5 1075.4L1291.5 1072.5L1290.3 1072.1L1289.6 1073.0L1288.6 1073.3L1287.7 1073.7L1286.6 1073.7L1285.6 1073.7L1285.0 1075.2L1283.5 1073.8L1282.6 1074.1L1281.7 1074.5L1281.0 1076.1L1280.1 1076.4L1278.8 1075.6L1278.0 1082.5L1276.9 1076.2L1275.9 1076.2L1274.9 1076.3L1273.9 1076.6L1272.6 1075.7L1272.1 1077.7L1271.4 1078.7L1270.0 1077.4L1269.2 1078.6L1268.4 1079.4L1267.4 1079.5L1266.5 1080.0L1265.2 1079.0L1264.5 1080.2L1263.4 1080.1L1262.5 1080.5L1261.5 1080.6L1260.0 1078.9L1259.6 1081.3L1258.5 1081.2L1257.4 1080.9L1256.7 1082.3L1255.6 1082.0L1254.6 1082.1L1253.7 1082.7L1252.7 1082.7L1251.7 1082.9L1250.8 1085.7L1249.9 1083.9L1248.8 1083.7L1248.2 1085.2L1247.0 1084.7L1246.2 1085.7L1245.1 1085.3L1243.7 1084.4L1243.0 1085.4L1242.2 1086.3L1241.1 1086.1L1240.1 1086.3L1239.0 1086.1L1238.3 1087.1L1237.5 1088.1L1236.4 1087.8L1235.5 1088.2L1234.3 1088.0L1233.6 1088.9L1232.3 1088.2L1231.6 1089.4L1231.0 1090.8L1230.1 1091.3L1228.7 1090.2L1227.9 1090.9L1226.7 1090.5L1225.7 1093.6L1224.8 1091.1L1224.4 1093.0L1223.2 1092.6L1221.9 1091.9L1221.0 1092.6L1220.4 1093.9L1219.4 1094.0L1218.4 1094.1L1217.1 1093.3L1216.2 1093.9L1215.4 1094.7L1214.5 1095.2L1213.9 1096.5L1212.9 1096.5L1211.9 1096.7L1211.0 1097.3L1209.6 1096.2L1208.9 1097.2L1207.8 1097.2L1207.1 1098.2L1206.4 1099.1L1205.2 1098.8L1204.0 1098.7L1203.5 1100.2L1202.1 1099.3L1201.2 1099.7L1200.5 1100.6L1199.8 1101.5L1198.7 1101.5L1197.7 1101.8L1197.1 1102.9L1195.8 1102.4L1194.8 1102.7L1194.2 1103.8L1193.5 1104.6L1192.5 1104.8L1191.8 1105.8L1190.8 1105.9L1189.6 1105.8L1188.3 1105.5L1187.5 1106.0L1187.0 1107.3L1185.2 1105.8L1184.9 1107.5L1184.1 1108.3L1183.4 1109.1L1182.4 1109.4L1181.5 1116.5L1179.8 1108.5L1179.5 1110.2L1178.5 1110.5L1177.4 1110.5L1176.5 1110.8L1176.1 1112.5L1175.0 1112.6L1173.6 1112.6L1173.1 1113.1L1172.2 1113.6L1171.1 1119.1L1170.2 1114.1L1169.2 1114.3L1168.4 1114.8L1167.7 1115.9L1166.5 1115.5L1165.7 1116.2L1164.5 1116.0L1163.5 1116.2L1162.6 1116.6L1161.8 1117.3L1161.1 1118.3L1160.1 1118.5L1159.3 1119.1L1157.9 1118.3L1157.4 1119.9L1155.9 1118.8L1155.2 1119.7L1154.1 1119.8L1153.5 1120.9L1152.3 1120.7L1151.5 1123.6L1150.5 1121.5L1149.9 1124.4L1149.2 1123.4L1148.1 1123.4L1147.0 1123.6L1147.0 1125.3L1145.7 1125.2L1144.1 1124.9L1144.4 1126.9L1143.3 1127.1L1142.8 1128.0L1141.0 1127.5L1140.9 1139.8L1139.7 1128.9L1139.3 1130.1L1138.1 1130.1L1137.6 1131.1L1136.7 1131.6L1135.9 1132.2L1134.9 1132.6L1133.6 1131.9L1133.1 1133.5L1132.0 1133.2L1131.5 1135.1L1129.9 1133.4L1129.2 1134.3L1128.3 1135.1L1127.1 1134.5L1126.4 1135.8L1125.2 1135.0L1124.4 1136.0L1123.3 1135.7L1122.7 1137.1L1121.5 1136.6L1120.1 1135.9L1119.5 1136.9L1118.7 1137.7L1117.5 1137.6L1116.7 1138.2L1116.0 1139.0L1114.9 1139.0L1114.4 1140.3L1113.3 1140.3L1112.1 1140.1L1111.3 1140.8L1110.5 1141.4L1110.0 1142.7L1108.0 1140.9L1107.6 1142.3L1106.8 1143.1L1106.3 1144.4L1105.0 1143.8L1103.9 1144.1L1103.4 1145.2L1102.4 1145.4L1101.4 1145.7L1100.5 1146.2L1099.2 1145.8L1098.8 1147.2L1098.1 1147.9L1097.8 1149.3L1096.3 1148.8L1095.3 1149.2L1094.7 1150.0L1094.0 1150.8L1092.8 1150.9L1092.2 1151.7L1091.5 1152.4L1090.0 1152.2L1090.1 1153.9L1088.6 1153.7L1087.9 1154.4L1087.2 1155.1L1086.8 1156.2L1086.4 1157.3L1085.4 1157.6L1085.1 1158.8L1084.9 1160.0L1083.5 1160.0L1082.8 1160.7L1081.5 1160.8L1080.7 1161.5L1080.8 1162.9L1079.4 1163.1L1079.0 1164.0L1077.5 1166.9L1077.1 1165.1L1077.1 1166.3L1075.8 1166.8L1076.7 1168.4L1076.7 1169.5L1075.6 1170.1L1075.2 1171.0L1075.5 1172.2L1074.8 1173.0L1075.1 1174.1L1075.2 1175.1L1074.2 1179.4L1073.7 1176.9L1073.9 1178.0L1074.3 1179.0L1073.4 1179.9L1073.1 1180.9L1074.2 1182.1L1073.2 1182.9L1072.6 1183.9L1073.0 1185.0L1072.7 1185.9L1072.9 1187.0L1073.5 1188.0L1072.9 1189.0L1072.6 1190.0L1072.3 1191.8L1073.3 1192.0L1072.4 1193.0L1072.2 1194.0L1072.9 1195.0L1073.3 1196.0L1071.6 1196.9L1072.0 1198.0L1072.1 1199.0L1071.9 1206.5L1071.2 1201.0L1072.4 1204.6L1072.2 1203.0L1072.3 1204.0L1071.8 1209.3" fill="none" stroke="#3a3a3a" stroke-width="1.6" stroke-linejoin="round"/>
<path d="M1373.0 1069.3L1372.4 1070.2L1370.7 1070.7L1371.4 1072.0L1371.2 1073.0L1369.6 1073.5L1371.2 1075.2L1371.1 1076.3L1368.9 1076.4L1369.5 1077.9L1367.5 1077.7L1367.8 1079.2L1367.3 1080.2L1366.3 1076.4L1365.6 1081.3L1364.5 1080.3L1365.0 1083.9L1363.1 1083.1L1362.5 1084.0L1362.5 1085.7L1360.5 1084.7L1359.3 1084.7L1359.0 1086.0L1358.6 1087.2L1357.9 1087.9L1356.4 1087.7L1355.1 1087.6L1354.4 1088.2L1354.8 1090.5L1353.8 1097.5L1352.6 1090.9L1352.8 1093.1L1350.8 1091.9L1350.1 1092.6L1349.2 1093.2L1348.4 1093.8L1347.1 1093.6L1347.1 1095.4L1346.1 1095.8L1345.2 1096.2L1343.9 1095.6L1343.6 1097.5L1342.7 1097.9L1342.0 1098.7L1340.9 1098.9L1340.4 1099.9L1339.2 1095.3L1338.6 1100.8L1337.7 1101.3L1337.2 1102.3L1336.1 1102.7L1334.3 1102.3L1335.4 1104.8L1335.3 1108.8L1333.6 1105.8L1333.5 1107.1L1332.2 1107.3L1330.9 1107.4L1330.3 1108.3L1330.0 1109.3L1329.2 1110.0L1329.1 1111.2L1328.7 1104.1L1327.3 1112.4L1327.0 1113.5L1326.7 1114.5L1325.6 1114.9L1326.1 1116.5L1325.2 1124.9L1324.4 1117.8L1323.3 1118.3L1323.4 1119.6L1321.9 1119.8L1322.0 1121.0L1322.2 1122.3L1321.2 1122.9L1320.4 1123.6L1320.3 1124.7L1318.7 1128.6L1319.6 1126.6L1318.5 1127.2L1317.0 1127.5L1317.5 1128.9L1315.9 1129.2L1315.3 1130.0L1316.3 1131.3L1316.8 1133.1L1314.8 1133.2L1314.3 1134.1L1313.4 1134.7L1313.4 1135.8L1313.2 1136.9L1313.3 1138.1L1312.5 1138.8L1311.0 1139.3L1311.1 1140.4L1310.6 1141.2L1310.0 1142.1L1310.0 1143.2L1309.5 1144.1L1308.5 1145.9L1308.8 1146.0L1307.8 1146.6L1306.9 1147.3L1307.0 1148.4L1307.2 1149.7L1307.0 1150.7L1305.4 1151.0L1305.4 1152.1L1305.4 1150.4L1305.0 1154.2L1303.1 1154.4L1302.3 1155.1L1302.2 1156.2L1303.7 1158.0L1302.1 1158.4L1302.2 1159.6L1300.8 1160.0L1301.7 1161.6L1299.6 1161.7L1300.3 1163.1L1300.4 1164.3L1300.2 1165.3L1299.6 1166.1L1297.7 1166.4L1298.8 1168.6L1297.7 1168.6L1297.4 1169.6L1296.5 1170.3L1297.3 1171.7L1296.6 1172.5L1295.2 1173.0L1295.5 1174.3L1294.6 1175.0L1294.1 1175.9L1292.7 1176.6L1293.3 1177.8L1294.1 1168.9L1294.3 1180.2L1293.4 1181.0L1292.7 1181.9L1293.6 1183.1L1293.7 1184.2L1292.3 1175.7L1292.7 1186.0L1292.2 1186.9L1291.6 1189.7L1290.8 1188.7L1291.7 1189.9L1291.6 1189.2L1292.0 1192.0L1291.5 1194.3L1290.8 1193.9L1291.9 1195.1L1290.7 1195.9L1290.5 1196.9L1289.6 1197.8L1289.5 1198.9L1290.9 1200.0L1291.4 1201.0L1290.7 1202.0L1290.0 1203.0L1290.7 1204.0L1290.8 1205.0" fill="none" stroke="#3a3a3a" stroke-width="1.6" stroke-linejoin="round"/>
<path d="M1372.0 1053.8L1371.0 1053.1L1369.9 1054.4L1369.0 1050.7L1368.0 1052.8L1367.0 1053.1L1366.0 1052.9L1365.0 1053.9L1364.0 1053.5L1362.9 1052.9L1361.9 1052.7L1361.2 1050.9L1360.1 1054.0L1359.0 1053.8L1357.7 1052.8L1357.0 1054.3L1355.7 1053.3L1355.1 1054.8L1353.9 1054.2L1353.4 1056.1L1352.0 1054.9L1350.9 1054.8L1349.8 1054.7L1349.1 1055.8L1348.3 1056.5L1347.4 1057.1L1346.4 1057.2L1345.6 1058.3L1344.8 1058.9L1343.3 1057.5L1342.5 1058.3L1341.5 1058.5L1340.6 1058.8L1339.8 1059.7L1338.7 1059.7L1337.7 1059.7L1336.4 1058.9L1335.8 1060.2L1334.9 1061.0L1333.7 1060.3L1332.4 1059.3L1332.1 1062.0L1331.0 1061.9L1329.4 1059.7L1329.1 1062.5L1328.2 1062.9L1326.9 1062.1L1326.0 1062.4L1325.1 1063.2L1324.3 1064.2L1323.2 1063.9L1322.4 1064.9L1321.0 1063.2L1320.2 1064.0L1319.2 1064.3L1318.4 1065.3L1317.3 1065.1L1316.2 1064.7L1315.4 1061.3L1314.2 1065.0L1313.5 1066.4L1312.9 1068.2L1311.5 1066.6L1310.5 1067.0L1309.7 1067.3L1308.4 1066.5L1307.6 1067.6L1306.5 1067.5L1305.6 1067.8L1304.7 1068.3L1303.7 1068.7L1302.8 1069.2L1301.7 1068.7L1300.6 1068.8L1300.2 1071.2L1298.7 1069.4L1297.7 1069.6L1297.1 1071.1L1295.6 1069.4L1295.3 1072.1L1293.8 1066.2L1293.0 1071.1L1292.0 1071.4L1290.5 1069.6L1290.1 1072.0L1289.4 1073.4L1288.1 1072.3L1287.3 1073.5L1286.2 1073.1L1285.5 1074.3L1284.1 1072.9L1283.3 1073.9L1282.4 1074.6L1281.2 1073.9L1280.3 1074.4L1279.7 1076.1L1278.3 1074.7L1277.3 1074.7L1276.1 1074.2L1275.6 1076.1L1274.5 1075.9L1273.2 1075.1L1272.7 1077.1L1271.3 1075.7L1270.5 1076.5L1269.6 1077.1L1268.7 1079.7L1267.7 1077.8L1266.7 1077.8L1265.9 1078.6L1265.1 1062.0L1263.8 1078.8L1262.8 1079.0L1262.0 1079.6L1260.7 1078.8L1259.8 1079.1L1259.0 1080.1L1257.8 1079.8L1256.9 1080.3L1256.2 1080.2L1255.1 1081.2L1254.0 1080.9L1253.6 1075.9L1252.3 1082.2L1251.4 1082.8L1250.2 1082.3L1249.2 1082.4L1248.3 1083.1L1247.7 1084.3L1246.7 1084.4L1246.0 1085.8L1244.6 1084.5L1243.6 1084.9L1242.9 1085.9L1241.5 1084.8L1240.4 1081.9L1239.3 1084.3L1238.5 1085.2L1237.5 1085.5L1236.9 1086.7L1235.8 1086.6L1234.9 1087.3L1233.7 1086.9L1233.0 1087.9L1232.1 1088.3L1231.5 1089.7L1230.5 1089.8L1228.9 1088.2L1228.5 1090.3L1227.6 1090.7L1227.0 1092.1L1225.1 1089.5L1224.7 1091.6L1223.8 1092.0L1222.3 1090.8L1222.1 1093.1L1220.2 1090.8L1220.0 1093.3L1218.2 1091.2L1218.0 1093.7L1217.2 1094.3L1216.0 1094.0L1215.1 1094.5L1213.7 1093.5L1213.1 1094.7L1212.3 1095.4L1211.2 1101.0L1210.5 1096.4L1208.9 1095.0L1208.1 1095.8L1207.2 1096.3L1206.1 1096.1L1205.5 1097.3L1204.2 1096.9L1203.3 1097.4L1202.6 1098.3L1201.3 1097.8L1200.6 1098.7L1200.6 1101.2L1199.4 1101.1L1198.9 1102.3L1197.4 1101.4L1195.9 1100.6L1196.0 1103.1L1194.4 1102.1L1193.4 1102.2L1192.9 1103.6L1191.8 1103.7L1191.0 1104.2L1189.6 1103.7L1188.3 1103.3L1187.6 1104.2L1187.3 1105.9L1185.8 1105.1L1185.7 1103.0L1184.2 1106.4L1183.6 1107.5L1182.1 1106.6L1181.0 1106.5L1180.9 1108.8L1179.2 1107.5L1178.7 1108.8L1177.6 1108.7L1177.6 1111.3L1176.2 1110.6L1175.2 1110.9L1174.4 1100.3L1173.9 1112.9L1172.7 1112.7L1171.8 1113.1L1170.7 1112.9L1169.5 1112.7L1168.9 1114.0L1167.7 1113.6L1167.2 1115.2L1166.2 1115.4L1165.0 1114.9L1164.0 1115.2L1163.7 1117.2L1162.4 1116.6L1160.8 1115.4L1160.4 1117.1L1159.6 1117.7L1158.4 1117.5L1157.8 1118.5L1156.7 1118.7L1155.8 1119.1L1155.0 1119.6L1154.5 1121.0L1153.2 1120.6L1151.9 1120.0L1151.8 1122.3L1150.0 1120.7L1148.8 1120.6L1147.8 1120.9L1147.2 1121.9L1146.9 1123.5L1145.4 1122.9L1144.7 1123.6L1143.9 1124.3L1143.5 1125.6L1141.8 1124.8L1141.7 1126.5L1140.2 1125.9L1139.7 1127.0L1138.8 1127.6L1138.0 1128.1L1137.4 1129.3L1136.2 1129.1L1134.8 1128.5L1133.8 1134.6L1132.7 1128.6L1132.7 1131.1L1131.7 1131.4L1130.4 1130.8L1130.1 1132.8L1128.9 1132.3L1127.7 1132.2L1126.5 1131.8L1125.9 1133.0L1125.4 1134.4L1124.5 1134.9L1123.3 1134.7L1122.8 1136.1L1120.9 1134.2L1120.2 1135.2L1119.6 1136.2L1118.2 1135.6L1117.8 1137.0L1116.7 1132.2L1116.3 1138.0L1115.6 1139.6L1114.2 1139.0L1113.2 1145.4L1112.5 1141.3L1111.8 1140.8L1110.3 1139.9L1109.4 1140.5L1108.6 1141.2L1107.6 1141.3L1106.6 1141.7L1106.3 1143.4L1104.5 1141.9L1103.9 1143.0L1102.6 1145.3L1101.9 1143.4L1100.8 1143.5L1100.0 1144.2L1100.0 1146.2L1098.3 1145.3L1097.9 1146.6L1097.3 1147.5L1096.3 1147.9L1095.3 1141.4L1094.4 1148.6L1094.2 1150.0L1093.6 1150.8L1092.4 1151.0L1090.6 1150.3L1090.3 1151.5L1090.3 1149.6L1089.1 1153.3L1087.6 1153.0L1087.0 1153.9L1087.1 1155.5L1086.3 1156.1L1085.8 1157.1L1085.0 1157.7L1083.8 1157.9L1082.8 1158.2L1083.2 1160.1L1082.9 1161.2L1079.8 1159.6L1079.4 1160.6L1079.8 1162.4L1079.2 1163.1L1079.7 1164.7L1078.1 1164.8L1077.7 1165.7L1076.6 1166.2L1077.0 1167.5L1076.8 1168.5L1074.0 1168.6L1075.4 1170.1L1075.2 1171.1L1073.3 1171.7L1073.6 1172.8L1074.5 1174.0L1073.4 1174.9L1073.1 1175.8L1074.3 1177.0L1073.9 1178.0L1073.9 1179.0L1073.5 1179.9L1073.7 1181.0L1073.4 1176.7L1073.3 1183.0L1073.5 1184.0L1073.8 1185.0L1073.3 1186.0L1073.6 1194.0L1071.2 1187.8L1071.8 1188.9L1072.9 1190.0L1072.3 1190.9L1073.2 1192.0L1071.7 1192.9L1073.4 1192.9L1072.5 1195.0L1075.0 1196.2L1071.8 1196.9L1071.3 1197.9L1073.5 1199.0L1071.6 1200.0L1073.4 1201.0L1072.4 1202.0L1071.5 1203.0L1071.8 1204.0L1071.6 1205.0" fill="none" stroke="#e8333a" stroke-width="1.9" stroke-linejoin="round"/>
<path d="M1372.6 1053.9L1372.1 1054.8L1371.5 1055.6L1370.5 1056.2L1370.6 1057.4L1369.7 1058.1L1368.5 1058.5L1367.7 1059.1L1367.3 1059.9L1367.9 1061.9L1366.5 1062.0L1365.4 1062.2L1364.9 1063.2L1364.5 1064.5L1363.4 1064.7L1362.4 1064.9L1360.8 1064.1L1360.0 1064.6L1359.9 1066.7L1358.0 1065.2L1357.6 1066.7L1356.9 1066.7L1355.4 1066.7L1355.3 1068.7L1353.8 1068.1L1352.5 1068.0L1353.1 1070.8L1352.0 1071.0L1350.6 1070.6L1350.6 1072.5L1349.1 1072.0L1348.5 1072.9L1347.7 1073.5L1346.9 1074.2L1345.7 1074.2L1345.5 1075.6L1344.3 1075.7L1343.5 1076.4L1342.6 1076.7L1342.2 1077.9L1340.4 1077.2L1340.9 1079.5L1340.2 1080.3L1338.8 1080.0L1338.0 1080.7L1336.4 1080.3L1336.7 1082.3L1335.5 1082.4L1334.1 1082.2L1334.1 1083.9L1333.3 1084.5L1331.8 1084.2L1331.3 1085.3L1331.2 1086.7L1330.4 1087.3L1329.7 1088.0L1329.0 1088.7L1327.3 1088.3L1326.2 1088.5L1325.8 1089.6L1324.1 1089.0L1324.1 1090.6L1323.5 1091.5L1322.3 1091.7L1322.8 1094.0L1320.7 1092.9L1320.8 1094.7L1319.4 1094.5L1319.4 1096.2L1318.1 1096.1L1316.6 1095.8L1316.4 1097.2L1315.3 1097.4L1314.6 1098.2L1314.4 1097.8L1313.7 1100.1L1312.0 1099.9L1311.7 1100.9L1311.3 1102.0L1310.4 1102.5L1309.5 1103.0L1309.2 1101.2L1307.7 1104.2L1307.7 1105.5L1306.7 1106.0L1306.0 1106.7L1305.4 1107.5L1305.6 1109.0L1303.8 1108.8L1303.7 1110.1L1303.9 1111.4L1302.7 1111.8L1302.2 1112.7L1300.8 1112.9L1300.1 1113.6L1300.7 1115.3L1299.4 1115.6L1299.2 1116.7L1298.2 1117.2L1298.3 1118.5L1297.5 1119.2L1297.2 1120.2L1298.1 1122.0L1295.9 1121.7L1294.5 1122.1L1295.7 1123.9L1292.7 1123.2L1293.6 1125.1L1293.0 1125.9L1292.9 1126.9L1292.4 1127.8L1290.5 1128.0L1291.9 1129.8L1290.1 1130.1L1290.4 1131.3L1289.5 1132.0L1290.4 1133.5L1288.4 1133.7L1288.9 1135.1L1288.3 1135.9L1288.1 1136.9L1286.5 1137.3L1286.9 1138.6L1286.4 1139.5L1285.7 1140.2L1286.0 1141.0L1284.1 1141.8L1285.0 1141.8L1285.5 1144.5L1283.3 1144.7L1283.7 1146.0L1283.6 1147.0L1283.5 1148.0L1282.7 1148.8L1282.0 1149.6L1282.9 1151.1L1281.5 1151.6L1282.8 1153.1L1281.3 1153.7L1279.5 1155.3L1280.4 1156.7L1278.7 1155.9L1279.9 1157.5L1279.6 1158.4L1278.0 1158.9L1278.1 1160.0L1279.2 1161.5L1277.3 1161.9L1276.2 1162.5L1277.3 1164.0L1278.0 1165.3L1276.9 1166.0L1275.4 1166.5L1275.9 1167.8L1274.9 1168.5L1275.1 1169.6L1275.2 1170.7L1275.4 1171.8L1274.3 1172.5L1274.9 1173.8L1275.0 1174.9L1272.6 1175.2L1273.1 1176.4L1273.0 1177.4L1272.5 1178.3L1272.1 1179.4L1271.3 1180.1L1270.8 1181.0L1271.5 1182.2L1270.6 1183.0L1270.7 1184.1L1271.6 1185.3L1270.4 1186.1L1269.8 1187.0L1269.8 1188.0L1270.6 1189.2L1269.1 1189.9L1270.0 1191.1L1269.5 1192.1L1268.4 1192.9L1269.5 1194.1L1267.8 1194.8L1269.3 1196.1L1268.9 1197.0L1268.2 1198.0L1267.6 1198.9L1268.0 1200.0L1267.1 1200.9L1267.7 1202.0L1267.1 1203.0L1268.8 1204.0L1267.2 1205.0" fill="none" stroke="#e8333a" stroke-width="1.9" stroke-linejoin="round"/>
<path d="M1372.0 1043.0L1371.2 1040.6L1370.4 1041.4L1369.6 1040.8L1368.7 1042.8L1368.1 1038.3L1367.2 1040.8L1366.4 1039.7L1365.6 1040.2L1364.8 1040.4L1364.0 1039.9L1363.1 1043.1L1362.5 1037.0L1361.6 1040.8L1360.8 1040.6L1360.0 1040.1L1359.1 1043.7L1358.4 1043.2L1357.5 1042.7L1356.7 1043.0L1356.0 1039.3L1355.2 1040.9L1354.4 1042.6L1353.5 1039.1L1352.6 1036.7L1352.0 1042.5L1351.1 1040.3L1350.5 1043.1L1349.6 1042.0L1348.5 1038.8L1347.6 1037.3L1347.0 1040.1L1346.2 1040.1L1345.6 1039.4L1344.8 1041.6L1344.0 1041.8L1343.3 1042.2L1342.3 1041.4L1341.8 1043.1L1340.7 1045.6L1339.9 1041.8L1338.9 1040.8L1338.8 1043.9L1337.5 1042.0L1336.8 1042.7L1336.1 1043.1L1335.7 1044.8L1334.7 1044.0L1333.4 1042.4L1333.1 1044.3L1331.9 1043.0L1331.2 1043.4L1330.0 1036.1L1329.9 1044.9L1329.6 1046.6L1327.7 1043.0L1327.1 1043.9L1327.2 1047.0L1325.6 1044.3L1325.5 1047.1L1324.8 1047.3L1323.7 1046.4L1323.1 1052.7L1322.5 1048.1L1321.8 1047.3L1320.9 1048.3L1319.6 1046.6L1319.0 1047.3L1318.4 1048.3L1317.5 1067.9L1316.3 1046.8L1316.7 1051.4L1315.4 1049.8L1314.3 1048.5L1313.5 1048.7L1313.3 1051.0L1312.1 1049.7L1311.6 1038.9L1310.8 1051.1L1309.6 1049.5L1308.9 1040.3L1308.5 1051.9L1307.6 1051.4L1306.7 1051.1L1305.6 1050.2L1304.8 1082.0L1304.6 1052.7L1303.7 1052.6L1302.5 1051.0L1301.3 1049.4L1300.9 1051.1L1300.7 1053.7L1299.4 1051.8L1298.4 1051.2L1298.8 1055.9L1297.3 1053.3L1297.1 1055.7L1295.8 1054.2L1295.2 1055.0L1294.4 1054.9L1293.3 1053.8L1293.0 1056.2L1291.7 1066.5L1290.9 1054.3L1290.2 1054.6L1289.3 1054.6L1288.7 1055.3L1288.3 1057.1L1287.2 1055.9L1286.6 1057.1L1285.5 1055.9L1285.0 1057.3L1284.1 1057.0L1283.2 1056.8L1282.9 1058.9L1281.4 1056.1L1281.3 1058.8L1279.8 1056.1L1279.5 1061.8L1278.8 1059.2L1277.6 1057.4L1276.8 1057.5L1276.7 1060.5L1275.5 1058.7L1274.4 1058.0L1274.6 1061.7L1272.9 1058.5L1272.3 1059.5L1272.0 1061.3L1271.1 1061.2L1270.1 1060.4L1269.4 1060.9L1268.7 1061.4L1267.8 1061.3L1267.0 1061.5L1265.8 1070.9L1265.0 1060.2L1264.8 1062.5L1264.3 1063.5L1262.8 1061.3L1262.3 1062.2L1261.9 1064.1L1260.8 1063.0L1260.1 1063.3L1258.9 1062.2L1258.5 1063.9L1257.8 1064.1L1256.9 1064.0L1256.2 1064.3L1255.7 1065.7L1254.4 1063.9L1253.9 1065.2L1253.5 1066.4L1252.6 1066.4L1251.5 1066.4L1250.8 1065.8L1250.1 1066.4L1249.5 1067.2L1248.6 1067.0L1247.8 1067.0L1247.4 1068.4L1245.6 1065.6L1246.5 1062.1L1244.2 1066.3L1244.0 1068.3L1242.9 1067.5L1241.8 1066.9L1242.1 1072.8L1241.3 1070.4L1239.3 1067.1L1239.2 1069.3L1238.0 1066.2L1238.1 1074.5L1237.0 1070.1L1236.2 1060.0L1235.3 1067.8L1234.6 1070.7L1233.4 1069.7L1233.9 1073.4L1231.5 1069.1L1232.2 1073.5L1231.1 1072.7L1230.4 1073.2L1229.4 1076.9L1228.5 1072.8L1228.0 1073.6L1227.2 1073.8L1226.2 1073.5L1225.5 1067.7L1225.5 1076.0L1224.4 1069.2L1222.8 1073.5L1222.3 1074.5L1222.3 1076.7L1222.1 1078.6L1220.6 1077.9L1218.8 1081.3L1219.4 1078.2L1218.7 1065.6L1217.3 1077.1L1216.8 1075.7L1216.3 1079.1L1215.1 1078.0L1214.9 1079.7L1213.6 1078.6L1213.9 1063.2L1212.1 1079.3L1210.8 1078.2L1210.8 1080.3L1209.2 1078.4L1209.8 1082.2L1208.3 1080.7L1207.9 1081.4L1207.2 1082.1L1206.1 1081.6L1205.3 1081.7L1205.1 1083.6L1203.8 1110.0L1202.4 1080.9L1202.9 1084.4L1201.3 1082.4L1200.6 1075.1L1201.1 1086.5L1199.7 1085.1L1198.7 1084.4L1197.6 1084.1L1197.5 1070.9L1196.4 1085.4L1195.8 1086.1L1195.0 1086.2L1195.5 1089.6L1193.4 1086.6L1192.2 1085.7L1192.8 1089.5L1191.8 1089.0L1190.4 1087.8L1189.9 1088.6L1188.9 1088.3L1188.8 1090.1L1187.7 1089.7L1187.3 1090.7L1186.9 1091.9L1184.3 1087.5L1183.7 1088.2L1183.7 1090.6L1182.8 1090.4L1183.0 1084.7L1182.5 1093.9L1180.3 1090.7L1179.9 1091.7L1179.1 1092.0L1178.3 1092.0L1177.6 1092.6L1177.2 1093.6L1176.0 1092.9L1175.1 1092.6L1174.9 1094.5L1174.4 1086.9L1172.6 1085.6L1173.2 1096.8L1171.8 1095.3L1172.0 1098.0L1170.2 1095.6L1169.0 1088.4L1168.8 1096.4L1168.3 1088.6L1167.8 1098.3L1166.6 1097.5L1166.3 1098.9L1165.8 1099.7L1164.2 1082.8L1164.3 1100.2L1162.2 1097.3L1161.9 1098.7L1161.4 1099.6L1161.4 1101.7L1159.3 1098.6L1159.6 1101.5L1158.5 1100.9L1157.3 1100.0L1156.7 1100.8L1155.5 1100.0L1155.3 1101.5L1154.3 1101.4L1154.3 1103.4L1153.4 1103.4L1152.9 1104.2L1152.0 1104.2L1151.3 1104.4L1149.6 1102.7L1147.8 1100.7L1148.5 1104.2L1148.2 1097.1L1147.5 1105.8L1146.2 1105.0L1146.0 1106.3L1145.2 1106.7L1144.1 1106.2L1143.9 1107.5L1142.4 1106.3L1142.2 1107.7L1142.4 1109.9L1139.7 1106.5L1139.9 1108.6L1140.0 1110.5L1138.4 1109.2L1137.9 1109.9L1136.5 1109.1L1136.7 1111.1L1136.6 1114.0L1135.2 1111.7L1135.1 1113.2L1134.6 1113.9L1133.7 1114.0L1134.2 1116.4L1131.1 1111.2L1131.8 1115.5L1130.4 1114.6L1129.5 1114.6L1129.6 1116.5L1127.9 1115.2L1128.3 1132.1L1127.2 1117.1L1127.2 1118.7L1124.0 1114.8L1123.9 1116.2L1125.4 1120.5L1124.4 1123.4L1122.3 1118.3L1121.8 1119.0L1122.0 1121.1L1121.0 1120.9L1120.3 1121.2L1119.2 1120.9L1119.5 1123.2L1118.0 1122.2L1116.6 1121.2L1116.5 1122.7L1114.6 1117.9L1115.4 1124.0L1115.3 1125.7L1112.5 1121.9L1114.2 1127.1L1112.0 1124.4L1111.9 1126.0L1111.0 1126.1L1111.2 1128.3L1109.7 1127.1L1108.6 1126.7L1106.8 1124.9L1107.5 1119.8L1105.6 1126.1L1106.2 1129.1L1105.5 1129.4L1105.0 1130.1L1104.6 1131.0L1102.4 1128.8L1103.0 1131.5L1102.7 1132.6L1100.8 1130.8L1100.6 1131.9L1098.7 1130.4L1097.0 1129.3L1097.5 1131.6L1096.1 1130.9L1097.3 1134.1L1094.0 1130.7L1094.7 1133.3L1096.1 1136.7L1094.0 1134.3L1091.6 1133.1L1092.7 1136.1L1090.8 1134.8L1090.8 1136.2L1090.4 1137.0L1089.6 1137.4L1089.1 1138.0L1088.8 1138.9L1087.7 1138.8L1087.5 1139.8L1087.1 1140.6L1086.0 1140.6L1086.3 1142.1L1086.0 1143.0L1084.8 1142.8L1085.6 1144.8L1082.5 1142.8L1083.8 1145.2L1084.0 1146.5L1081.5 1145.2L1079.7 1144.8L1081.9 1147.8L1081.5 1102.8L1080.7 1148.8L1082.2 1151.1L1080.8 1150.9L1078.5 1150.1L1078.1 1150.9L1079.3 1152.7L1077.7 1152.5L1076.8 1152.9L1074.6 1148.8L1076.2 1154.4L1076.5 1155.6L1075.1 1155.6L1075.5 1143.0L1073.1 1156.2L1073.5 1157.4L1073.6 1158.4L1071.1 1154.6L1074.5 1158.4L1072.9 1156.7L1073.1 1157.6L1069.2 1160.6L1072.8 1163.4L1070.7 1163.2L1067.1 1163.5L1068.7 1169.8L1069.3 1165.2L1070.0 1166.4L1070.3 1167.4L1067.9 1167.2L1072.0 1169.8L1067.9 1168.9L1067.9 1169.8L1069.7 1171.4L1065.9 1158.7L1068.3 1172.5L1067.5 1173.1L1067.2 1173.8L1065.0 1173.9L1065.8 1175.0L1063.1 1174.9L1063.6 1175.9L1066.0 1173.7L1064.2 1177.8L1066.0 1179.3L1064.3 1179.6L1061.9 1179.6L1064.2 1181.2L1062.9 1181.6L1065.7 1183.3L1062.6 1183.2L1059.6 1183.2L1062.0 1184.7L1059.8 1184.9L1061.4 1186.2L1061.1 1187.0L1062.2 1188.2L1058.2 1187.7L1060.5 1189.3L1058.9 1189.6L1057.4 1189.9L1057.1 1190.6L1056.8 1191.4L1061.2 1193.8L1056.8 1193.2L1056.5 1194.0L1059.3 1195.6L1055.7 1195.7L1058.0 1197.0L1056.6 1197.6L1058.5 1198.6L1059.6 1199.4L1059.5 1200.2L1057.5 1201.0L1058.3 1201.8L1056.9 1199.5L1057.9 1203.4L1058.4 1204.2L1061.1 1205.0" fill="none" stroke="#3a66dd" stroke-width="2.0" stroke-linejoin="round"/>
<path d="M1370.6 1038.6L1370.9 1046.7L1369.9 1040.5L1368.8 1040.1L1368.2 1040.3L1368.7 1043.4L1367.3 1042.5L1367.8 1045.0L1366.1 1043.6L1365.7 1044.6L1364.1 1043.5L1364.0 1045.0L1363.7 1046.0L1362.2 1045.2L1360.8 1044.8L1361.7 1047.3L1361.1 1047.9L1362.0 1050.1L1361.2 1050.3L1360.2 1050.4L1360.0 1051.3L1358.6 1051.1L1357.1 1050.6L1356.5 1050.1L1358.1 1053.8L1355.0 1052.0L1354.4 1052.5L1354.9 1054.1L1354.8 1054.0L1354.5 1055.9L1351.5 1045.3L1352.2 1056.0L1350.7 1055.7L1351.2 1057.3L1349.7 1079.1L1351.3 1059.6L1349.5 1059.0L1346.5 1057.1L1347.4 1059.2L1346.9 1059.8L1346.9 1057.2L1346.2 1061.3L1345.3 1061.6L1345.6 1062.2L1346.4 1065.3L1344.6 1064.4L1344.9 1066.0L1343.4 1065.5L1341.0 1063.8L1343.3 1067.9L1342.1 1067.7L1340.2 1066.6L1339.7 1067.2L1338.9 1067.5L1339.5 1069.6L1338.2 1069.3L1338.1 1070.5L1336.9 1069.9L1335.7 1070.1L1335.9 1071.6L1333.9 1070.3L1333.7 1071.4L1333.4 1072.4L1332.1 1061.2L1331.8 1073.0L1331.1 1069.7L1331.7 1075.3L1332.4 1077.3L1328.3 1068.3L1330.3 1077.4L1329.6 1079.6L1327.5 1076.6L1327.4 1077.7L1328.0 1079.7L1329.2 1083.1L1324.9 1078.6L1325.0 1079.9L1325.7 1081.9L1324.1 1081.2L1322.3 1089.7L1324.0 1083.5L1322.2 1082.7L1321.7 1083.4L1321.7 1102.1L1320.6 1084.6L1320.0 1089.4L1320.5 1086.7L1318.1 1085.5L1317.5 1086.0L1318.8 1085.3L1317.5 1088.3L1316.5 1088.4L1315.5 1088.6L1314.6 1088.9L1313.6 1089.0L1314.1 1090.6L1313.9 1101.7L1312.5 1091.4L1312.8 1092.7L1310.9 1092.1L1308.5 1091.0L1311.6 1094.9L1308.9 1093.5L1311.9 1097.3L1308.2 1095.1L1308.9 1096.7L1305.0 1094.5L1308.0 1098.1L1306.9 1098.3L1306.8 1099.2L1306.5 1100.0L1305.5 1100.2L1303.1 1099.2L1304.2 1101.2L1304.1 1102.2L1304.6 1103.6L1303.8 1104.1L1302.9 1104.3L1301.4 1104.2L1301.5 1105.3L1299.5 1104.7L1301.8 1107.6L1302.5 1074.0L1298.8 1107.2L1297.1 1107.0L1299.4 1109.8L1297.1 1109.0L1297.1 1110.1L1296.0 1120.8L1297.8 1112.6L1295.6 1111.9L1297.7 1114.5L1295.6 1113.9L1293.7 1113.5L1294.2 1114.9L1292.3 1114.5L1291.0 1114.6L1291.5 1115.9L1292.8 1117.8L1292.3 1118.5L1290.8 1115.1L1290.9 1119.5L1289.9 1119.7L1288.5 1119.7L1289.4 1121.4L1289.0 1120.7L1288.0 1122.3L1288.4 1123.6L1288.9 1135.2L1288.5 1125.7L1286.5 1114.9L1284.6 1120.7L1284.7 1126.0L1285.9 1127.7L1284.5 1127.8L1287.5 1130.7L1286.0 1130.7L1282.2 1129.2L1281.6 1129.7L1280.5 1130.0L1281.3 1131.4L1279.5 1131.3L1281.8 1133.7L1280.2 1133.6L1283.2 1136.5L1278.9 1134.8L1281.7 1137.4L1277.5 1135.8L1280.3 1172.6L1277.3 1137.6L1277.1 1138.4L1275.8 1138.6L1275.9 1139.6L1277.4 1141.3L1277.3 1142.2L1276.3 1142.5L1272.4 1141.5L1273.9 1143.2L1274.0 1144.1L1276.6 1146.2L1273.8 1145.8L1275.4 1147.4L1272.3 1146.9L1273.0 1142.7L1270.5 1147.9L1273.5 1150.1L1272.7 1150.6L1273.7 1151.9L1271.5 1151.9L1270.9 1152.5L1268.2 1149.4L1272.7 1154.9L1271.5 1155.3L1268.9 1154.3L1269.4 1156.2L1267.8 1156.5L1269.8 1155.3L1268.2 1158.4L1268.5 1159.3L1267.4 1157.1L1267.7 1160.8L1268.1 1161.7L1269.2 1163.0L1267.9 1163.4L1265.8 1163.5L1268.3 1165.2L1268.7 1166.2L1264.8 1165.8L1266.4 1182.4L1265.7 1167.7L1263.8 1168.0L1266.5 1169.7L1268.3 1171.1L1265.1 1170.9L1265.7 1171.9L1263.5 1172.2L1266.2 1173.7L1264.4 1174.1L1263.9 1174.8L1264.8 1175.8L1264.6 1176.6L1263.3 1177.1L1262.8 1177.8L1262.7 1178.6L1261.3 1179.2L1263.9 1180.5L1262.9 1181.1L1262.3 1181.8L1262.8 1182.7L1262.3 1183.5L1261.9 1184.2L1259.2 1184.6L1261.9 1185.8L1261.9 1176.8L1261.3 1182.5L1260.5 1188.1L1260.3 1188.9L1261.6 1189.9L1261.7 1190.7L1261.4 1191.4L1262.4 1192.4L1259.8 1192.9L1261.0 1193.8L1259.5 1194.5L1258.3 1195.1L1262.5 1196.4L1259.8 1196.9L1259.9 1197.7L1260.8 1198.6L1260.4 1199.4L1260.5 1200.2L1262.2 1201.0L1261.7 1201.7L1256.3 1202.7L1259.3 1130.6L1258.3 1204.3L1262.7 1204.9" fill="none" stroke="#3a66dd" stroke-width="2.0" stroke-linejoin="round"/>
<path d="M1372.1 1023.9L1371.1 1024.2L1370.3 1023.4L1369.6 1022.8L1368.4 1023.8L1368.0 1021.2L1366.6 1024.1L1365.9 1022.3L1364.9 1022.8L1363.9 1025.6L1363.1 1023.6L1362.2 1022.2L1361.4 1023.4L1360.6 1024.5L1359.6 1023.2L1358.6 1022.3L1357.7 1022.4L1356.6 1021.1L1355.7 1021.1L1355.0 1022.6L1354.4 1025.8L1353.2 1022.8L1352.3 1023.3L1351.4 1023.4L1350.5 1023.6L1349.5 1023.1L1348.8 1024.4L1348.1 1025.6L1347.5 1027.6L1346.0 1024.0L1345.4 1026.1L1344.3 1024.6L1343.6 1025.7L1342.5 1025.1L1341.5 1024.4L1340.7 1025.3L1339.6 1024.1L1339.1 1026.4L1338.2 1026.4L1336.9 1024.3L1336.5 1027.3L1335.4 1028.5L1334.3 1048.6L1334.1 1029.2L1333.0 1028.3L1332.3 1028.9L1330.9 1026.9L1330.1 1027.5L1329.3 1027.8L1328.8 1029.8L1327.5 1028.0L1326.4 1027.4L1325.4 1027.1L1324.8 1028.5L1324.2 1029.7L1322.9 1028.5L1322.4 1030.2L1321.1 1028.7L1320.6 1030.2L1319.6 1030.1L1318.8 1030.4L1318.0 1030.9L1316.9 1030.2L1315.8 1029.9L1315.1 1030.8L1314.5 1031.9L1313.8 1032.8L1312.3 1030.6L1312.1 1033.5L1311.0 1032.7L1309.9 1032.3L1309.4 1033.8L1307.9 1031.5L1307.5 1033.6L1306.9 1034.8L1305.8 1034.3L1305.1 1035.2L1303.8 1033.9L1303.3 1035.6L1302.0 1034.0L1301.5 1035.5L1300.1 1033.8L1300.1 1037.4L1298.8 1041.5L1298.0 1036.6L1297.0 1036.5L1296.1 1036.3L1294.8 1035.2L1294.4 1037.0L1293.4 1036.7L1292.7 1037.8L1291.6 1037.1L1291.0 1038.3L1289.9 1040.1L1288.8 1037.1L1288.2 1038.4L1287.4 1038.8L1287.0 1041.0L1285.3 1037.8L1284.4 1038.2L1284.3 1041.3L1283.0 1039.7L1281.8 1038.9L1281.2 1040.0L1280.1 1039.6L1279.4 1040.4L1278.5 1040.5L1277.7 1040.8L1277.0 1041.8L1276.4 1043.2L1274.6 1043.6L1274.1 1041.4L1273.1 1041.1L1272.7 1043.1L1271.3 1045.3L1271.0 1043.9L1269.5 1041.8L1269.0 1043.3L1268.2 1043.8L1267.1 1043.2L1266.5 1044.6L1265.9 1045.7L1264.9 1045.3L1263.8 1044.7L1262.9 1045.1L1262.0 1045.1L1261.2 1045.1L1260.5 1046.4L1259.6 1046.7L1258.6 1046.2L1257.8 1046.9L1256.9 1043.3L1256.0 1047.1L1255.5 1048.6L1254.6 1048.8L1253.3 1047.5L1252.8 1049.0L1251.7 1048.6L1250.5 1047.5L1249.9 1048.8L1249.0 1048.8L1248.1 1048.9L1247.6 1050.4L1246.3 1049.3L1245.9 1051.2L1244.4 1049.3L1243.9 1050.6L1242.4 1049.0L1241.9 1050.4L1241.3 1051.5L1239.9 1049.8L1239.3 1051.0L1238.4 1051.2L1238.3 1054.2L1237.0 1052.7L1235.9 1052.2L1235.1 1052.8L1233.9 1054.2L1233.5 1053.6L1232.4 1053.3L1232.2 1055.6L1230.9 1054.6L1230.3 1055.7L1229.4 1055.8L1228.4 1055.5L1227.1 1054.3L1226.5 1055.6L1225.0 1054.0L1225.3 1057.6L1223.6 1055.5L1223.2 1057.1L1222.1 1056.6L1221.2 1056.8L1220.7 1058.1L1219.9 1058.6L1218.8 1058.1L1217.7 1057.8L1217.2 1059.1L1216.0 1058.4L1215.2 1062.0L1214.8 1060.2L1213.4 1059.2L1213.5 1062.0L1212.0 1060.6L1211.3 1061.2L1210.7 1062.2L1209.6 1062.0L1208.5 1061.4L1208.0 1062.7L1207.2 1063.2L1206.3 1065.8L1205.9 1064.9L1204.8 1064.4L1203.0 1062.2L1203.5 1066.2L1201.4 1063.2L1201.2 1065.2L1199.8 1064.1L1198.9 1064.1L1198.3 1065.1L1197.8 1066.4L1196.8 1066.3L1196.1 1067.0L1195.4 1067.8L1194.3 1067.3L1193.6 1068.0L1192.4 1067.5L1191.4 1067.4L1190.7 1068.1L1190.4 1069.8L1189.7 1095.5L1187.7 1067.7L1187.8 1070.6L1187.3 1071.7L1186.2 1071.3L1184.5 1069.4L1184.7 1072.5L1183.0 1070.7L1182.5 1071.8L1181.9 1072.9L1181.1 1073.2L1179.8 1072.2L1179.8 1075.0L1178.4 1073.7L1177.0 1072.6L1177.0 1075.1L1176.2 1075.6L1174.0 1072.3L1174.2 1075.3L1173.1 1074.9L1171.8 1074.2L1171.5 1075.9L1170.5 1075.9L1169.7 1076.3L1168.9 1076.6L1168.0 1076.9L1167.3 1077.5L1166.7 1078.5L1164.9 1076.3L1165.0 1079.1L1164.2 1079.6L1162.6 1077.8L1162.3 1079.7L1160.7 1077.9L1161.0 1081.3L1159.5 1079.8L1158.7 1080.3L1157.6 1080.0L1157.1 1081.1L1156.3 1081.5L1155.2 1081.3L1154.9 1083.0L1154.1 1083.3L1153.4 1084.2L1152.5 1084.4L1151.0 1082.9L1150.6 1084.5L1149.8 1084.8L1148.7 1084.5L1147.8 1084.7L1146.6 1084.0L1145.7 1084.3L1145.8 1086.9L1144.5 1086.2L1143.4 1085.7L1142.6 1086.3L1141.9 1086.9L1141.6 1088.7L1140.5 1088.3L1139.2 1087.4L1138.6 1088.3L1137.6 1088.2L1137.1 1069.5L1136.6 1090.8L1134.9 1088.7L1134.1 1089.1L1133.5 1090.2L1132.6 1090.3L1131.8 1090.8L1131.3 1092.0L1130.0 1091.0L1129.7 1092.9L1128.4 1092.0L1127.5 1092.1L1126.9 1093.0L1124.8 1085.0L1124.7 1092.5L1124.3 1093.9L1123.3 1093.7L1122.6 1094.4L1120.9 1093.0L1120.5 1094.1L1120.3 1096.0L1118.8 1094.9L1118.0 1095.3L1118.7 1098.6L1116.2 1095.8L1116.6 1098.6L1114.7 1096.9L1114.7 1098.9L1114.1 1099.6L1112.9 1099.2L1112.2 1099.8L1111.7 1100.7L1111.2 1101.6L1110.1 1101.5L1107.9 1099.7L1108.4 1102.2L1107.6 1102.7L1106.6 1102.8L1105.6 1102.8L1105.1 1103.7L1104.3 1104.2L1103.2 1104.1L1103.3 1105.9L1102.2 1105.8L1101.8 1106.9L1100.1 1105.2L1099.9 1107.3L1099.5 1108.3L1098.2 1108.0L1099.2 1110.8L1096.4 1108.8L1096.3 1110.1L1096.4 1111.6L1095.4 1111.7L1094.5 1113.8L1094.1 1113.0L1093.2 1113.4L1092.3 1113.7L1092.6 1115.4L1091.6 1115.5L1090.5 1115.7L1088.9 1115.4L1089.6 1117.4L1087.9 1117.0L1086.4 1116.7L1085.9 1117.5L1085.3 1118.1L1085.8 1120.0L1083.8 1119.2L1085.9 1122.6L1084.4 1122.4L1083.8 1123.1L1081.9 1122.4L1081.0 1122.8L1082.4 1125.5L1080.1 1124.4L1080.6 1126.2L1080.6 1127.5L1078.9 1127.0L1077.8 1127.3L1076.4 1127.2L1077.2 1129.2L1073.3 1126.8L1075.9 1130.4L1076.7 1125.9L1075.0 1132.0L1072.7 1131.3L1073.5 1133.1L1072.5 1133.5L1072.3 1134.4L1071.7 1135.1L1070.2 1135.1L1071.5 1137.2L1071.1 1138.0L1068.8 1137.5L1070.9 1140.0L1068.4 1139.4L1067.2 1139.7L1067.4 1140.9L1065.8 1135.7L1065.3 1141.8L1067.3 1143.9L1064.8 1143.7L1065.8 1145.2L1066.1 1146.3L1064.8 1146.7L1063.8 1145.5L1064.6 1148.5L1065.6 1155.6L1062.9 1149.8L1064.1 1151.2L1064.4 1152.2L1063.1 1152.7L1062.2 1153.4L1061.2 1154.1L1062.4 1157.1L1062.1 1156.2L1060.1 1156.7L1060.9 1157.8L1060.2 1158.6L1061.4 1159.7L1060.1 1160.4L1062.3 1154.8L1060.9 1162.4L1060.4 1163.2L1060.9 1164.2L1059.6 1164.9L1059.6 1165.8L1060.3 1166.9L1058.0 1167.3L1060.1 1168.7L1058.1 1169.2L1059.0 1170.3L1057.7 1170.9L1059.3 1172.2L1059.9 1173.2L1058.3 1173.8L1058.1 1174.7L1058.5 1175.7L1057.2 1176.4L1057.1 1187.3L1055.8 1177.9L1057.1 1180.9L1055.1 1179.6L1058.8 1181.3L1058.4 1182.1L1056.5 1182.7L1055.7 1183.4L1057.4 1184.7L1058.1 1196.8L1055.7 1186.2L1053.8 1186.7L1055.7 1188.0L1053.4 1188.5L1055.7 1189.9L1055.7 1190.8L1057.1 1192.0L1055.4 1192.5L1054.0 1193.2L1054.1 1194.2L1053.9 1195.1L1054.0 1196.0L1052.4 1196.8L1054.2 1197.8L1052.8 1198.7L1054.8 1199.6L1053.6 1200.5L1054.1 1201.4L1054.7 1202.3L1052.7 1203.2L1054.4 1204.1L1054.0 1205.0" fill="none" stroke="#3fae62" stroke-width="1.9" stroke-linejoin="round"/>
<path d="M1371.6 1023.9L1371.9 1025.3L1370.4 1025.3L1370.6 1026.5L1369.8 1027.1L1368.9 1024.4L1369.8 1024.6L1368.7 1029.6L1368.4 1030.6L1367.2 1030.8L1367.0 1031.8L1366.3 1031.2L1364.1 1031.8L1364.5 1033.2L1362.8 1033.0L1364.2 1035.3L1363.2 1035.7L1362.3 1036.1L1362.5 1037.5L1361.8 1038.1L1360.9 1038.5L1359.5 1038.4L1359.7 1039.8L1357.9 1039.4L1357.3 1040.1L1358.9 1042.8L1357.3 1042.5L1355.3 1041.9L1356.2 1044.0L1354.8 1043.9L1354.2 1044.6L1354.2 1045.8L1352.9 1045.8L1352.5 1046.7L1351.7 1047.2L1351.2 1048.0L1350.6 1048.7L1350.1 1049.4L1349.4 1050.0L1349.0 1050.9L1345.8 1048.8L1347.0 1051.4L1346.9 1052.6L1345.6 1052.6L1346.5 1055.0L1344.6 1054.2L1345.3 1056.4L1343.3 1051.9L1342.5 1055.8L1341.4 1055.9L1341.3 1057.3L1340.7 1057.9L1339.9 1058.4L1338.1 1057.6L1338.0 1059.0L1337.3 1059.5L1336.9 1060.4L1335.9 1060.6L1333.8 1062.0L1335.7 1063.3L1332.7 1061.0L1332.2 1061.9L1333.6 1064.9L1331.9 1064.3L1331.2 1064.9L1330.2 1065.2L1330.2 1066.5L1330.5 1071.6L1329.5 1068.4L1327.1 1067.1L1327.1 1068.4L1327.1 1069.8L1325.8 1069.6L1324.4 1069.5L1323.7 1070.0L1323.8 1071.5L1323.5 1072.5L1323.0 1073.3L1321.5 1073.0L1320.1 1072.8L1321.2 1075.4L1319.2 1074.5L1319.6 1076.3L1317.9 1075.8L1318.6 1077.9L1315.9 1076.2L1318.1 1080.0L1314.6 1077.5L1314.3 1078.5L1314.4 1080.0L1314.6 1081.5L1313.1 1081.3L1311.7 1081.0L1311.8 1082.5L1311.9 1084.0L1310.9 1084.2L1308.1 1082.4L1308.9 1084.7L1308.9 1086.0L1308.8 1087.3L1307.0 1086.6L1306.7 1087.7L1304.9 1087.0L1304.9 1088.4L1303.9 1088.5L1303.1 1089.0L1302.1 1089.2L1302.1 1090.6L1301.6 1091.4L1301.5 1092.7L1300.3 1092.6L1299.3 1092.9L1299.2 1094.2L1297.0 1092.9L1297.0 1094.4L1297.1 1095.9L1296.9 1100.1L1294.6 1095.8L1295.0 1097.6L1294.2 1098.1L1292.8 1097.9L1291.9 1100.8L1293.0 1100.6L1292.0 1100.9L1291.4 1101.5L1290.4 1101.9L1289.3 1102.1L1288.9 1102.9L1289.2 1104.4L1287.3 1104.0L1287.2 1106.6L1286.0 1105.3L1285.8 1106.3L1286.0 1107.6L1285.5 1108.3L1284.6 1108.8L1284.2 1109.7L1283.2 1115.5L1283.0 1111.0L1282.1 1111.4L1281.4 1112.1L1281.2 1113.1L1281.0 1114.0L1279.9 1114.3L1280.1 1115.6L1279.3 1116.2L1279.5 1117.3L1277.3 1117.1L1278.6 1118.9L1277.9 1119.5L1276.4 1119.7L1274.9 1119.9L1278.1 1122.7L1275.5 1122.3L1276.1 1123.6L1273.9 1123.6L1273.7 1124.5L1274.3 1125.8L1274.6 1126.9L1274.7 1127.9L1274.7 1137.7L1273.7 1129.4L1271.6 1129.6L1272.6 1130.9L1270.7 1131.2L1270.4 1132.0L1270.9 1133.2L1271.5 1134.4L1270.9 1135.1L1270.3 1135.9L1270.9 1137.1L1270.6 1137.9L1268.7 1138.2L1268.4 1139.0L1271.3 1141.1L1268.3 1140.9L1266.4 1141.1L1268.5 1142.9L1267.3 1143.4L1268.3 1144.8L1268.7 1145.9L1267.3 1146.3L1264.9 1146.4L1267.5 1148.3L1264.8 1148.3L1267.4 1150.2L1265.4 1150.4L1264.0 1150.9L1263.4 1151.7L1265.6 1153.4L1263.9 1153.7L1263.1 1154.4L1264.6 1155.9L1262.2 1156.0L1262.8 1157.2L1262.2 1157.9L1261.3 1158.6L1260.5 1159.3L1260.2 1160.1L1261.3 1161.5L1263.3 1163.0L1261.4 1163.4L1261.7 1164.4L1259.0 1164.5L1260.5 1165.9L1260.9 1167.0L1260.7 1167.8L1258.8 1168.3L1257.7 1168.9L1258.8 1170.1L1260.1 1171.4L1258.8 1172.0L1258.7 1172.9L1258.9 1173.8L1256.8 1174.3L1256.6 1175.2L1259.2 1176.6L1257.1 1177.2L1258.1 1178.3L1256.8 1179.0L1256.5 1179.8L1256.3 1180.7L1256.0 1181.6L1255.8 1182.5L1256.4 1183.5L1258.8 1184.8L1257.7 1185.5L1255.6 1186.1L1256.0 1187.1L1256.2 1188.0L1255.7 1188.9L1253.6 1189.5L1255.3 1190.6L1253.5 1191.3L1257.1 1192.7L1254.6 1193.3L1255.1 1194.3L1255.0 1195.1L1254.2 1195.9L1254.4 1196.9L1255.5 1197.9L1254.6 1198.7L1255.5 1199.7L1253.7 1200.5L1255.1 1201.4L1254.0 1202.3L1253.3 1203.2L1254.3 1204.1L1254.0 1205.0" fill="none" stroke="#3fae62" stroke-width="1.9" stroke-linejoin="round"/>
<path d="M1372.0 978.0L1371.5 977.8L1370.9 977.6L1370.3 977.3L1369.5 977.0L1368.7 976.7L1367.8 976.4L1366.8 976.0L1365.8 975.7L1364.7 975.4L1363.6 975.2L1362.4 975.0L1361.2 974.8L1359.9 974.6L1358.6 974.4L1357.2 974.2L1355.7 974.1L1354.3 974.0L1352.8 973.9L1351.2 973.8L1349.7 973.8L1348.1 973.8L1346.5 973.9L1344.8 974.0L1343.1 974.1L1341.3 974.3L1339.6 974.5L1337.8 974.6L1336.1 974.8L1334.5 975.0L1332.9 975.2L1331.5 975.3L1330.4 975.4L1329.4 975.5L1328.4 975.6L1327.5 975.6L1326.4 975.8L1325.1 976.0L1323.4 976.3L1321.4 976.7L1318.9 977.3L1315.8 978.1L1312.3 979.0L1308.4 980.0L1304.1 981.1L1299.7 982.3L1295.0 983.6L1290.4 984.9L1285.7 986.1L1281.2 987.3L1276.9 988.5L1272.7 989.6L1268.5 990.7L1264.3 991.8L1260.1 992.9L1255.9 994.0L1251.7 995.1L1247.5 996.2L1243.3 997.4L1239.1 998.5L1234.9 999.7L1230.7 1000.9L1226.6 1002.1L1222.5 1003.3L1218.4 1004.5L1214.3 1005.7L1210.2 1007.0L1206.0 1008.3L1201.8 1009.6L1197.4 1010.9L1193.0 1012.3L1188.4 1013.7L1183.5 1015.2L1178.6 1016.8L1173.5 1018.4L1168.4 1020.0L1163.4 1021.6L1158.4 1023.1L1153.7 1024.7L1149.2 1026.2L1145.0 1027.7L1141.1 1029.1L1137.4 1030.5L1133.8 1031.8L1130.4 1033.1L1127.2 1034.4L1124.1 1035.6L1121.1 1036.9L1118.3 1038.2L1115.5 1039.6L1112.8 1041.0L1110.2 1042.5L1107.8 1044.0L1105.5 1045.6L1103.3 1047.1L1101.2 1048.7L1099.2 1050.3L1097.2 1051.9L1095.4 1053.5L1093.6 1055.0L1091.8 1056.4L1090.1 1057.8L1088.5 1059.1L1086.9 1060.3L1085.4 1061.6L1084.0 1062.8L1082.6 1064.0L1081.3 1065.2L1080.1 1066.4L1079.0 1067.7L1077.9 1069.0L1076.9 1070.3L1076.1 1071.6L1075.4 1072.8L1074.7 1074.0L1074.1 1075.3L1073.6 1076.6L1073.0 1078.0L1072.4 1079.6L1071.7 1081.2L1070.9 1083.0L1070.0 1085.0L1069.1 1087.1L1068.1 1089.3L1067.0 1091.7L1066.0 1094.1L1065.0 1096.6L1063.9 1099.2L1062.9 1101.7L1062.0 1104.2L1061.1 1106.7L1060.3 1109.1L1059.5 1111.6L1058.8 1114.1L1058.0 1116.5L1057.3 1119.0L1056.7 1121.5L1056.0 1124.1L1055.4 1126.7L1054.7 1129.3L1054.1 1131.9L1053.5 1134.6L1052.9 1137.4L1052.3 1140.3L1051.7 1143.2L1051.1 1146.2L1050.6 1149.1L1050.0 1151.9L1049.5 1154.7L1049.0 1157.4L1048.5 1159.9L1048.0 1162.3L1047.5 1164.6L1047.0 1166.9L1046.6 1169.1L1046.1 1171.2L1045.7 1173.2L1045.3 1175.2L1044.9 1177.2L1044.6 1179.1L1044.3 1180.9L1044.0 1182.7L1043.8 1184.4L1043.6 1186.1L1043.5 1187.8L1043.4 1189.4L1043.3 1190.9L1043.2 1192.3L1043.1 1193.7L1043.0 1195.1L1042.9 1196.3L1042.8 1197.5L1042.7 1198.6L1042.7 1199.7L1042.6 1200.7L1042.6 1201.6L1042.6 1202.5L1042.6 1203.2L1042.5 1203.9L1042.5 1204.5L1042.5 1205.0" fill="none" stroke="#a67ee0" stroke-width="1.9" stroke-linejoin="round"/>
<path d="M1372.0 978.0L1371.7 979.1L1371.3 980.5L1370.8 982.2L1370.3 984.1L1369.7 986.1L1369.1 988.3L1368.5 990.5L1367.8 992.7L1367.1 994.8L1366.4 996.9L1365.7 999.0L1364.9 1001.1L1364.0 1003.3L1363.1 1005.6L1362.2 1007.8L1361.3 1010.0L1360.4 1012.2L1359.5 1014.2L1358.7 1016.2L1358.0 1017.9L1357.4 1019.4L1356.8 1020.7L1356.3 1021.8L1355.9 1022.8L1355.5 1023.7L1355.0 1024.7L1354.5 1025.7L1353.9 1026.9L1353.2 1028.3L1352.4 1030.0L1351.5 1032.0L1350.4 1034.2L1349.3 1036.6L1348.2 1039.1L1346.9 1041.8L1345.6 1044.5L1344.3 1047.2L1342.9 1049.9L1341.4 1052.5L1339.9 1055.0L1338.3 1057.4L1336.7 1059.9L1335.0 1062.3L1333.3 1064.7L1331.5 1067.1L1329.7 1069.4L1327.8 1071.8L1325.8 1074.2L1323.8 1076.5L1321.7 1078.8L1319.5 1081.1L1317.1 1083.4L1314.7 1085.7L1312.1 1088.0L1309.5 1090.2L1307.0 1092.4L1304.5 1094.7L1302.1 1096.8L1299.9 1099.0L1297.9 1101.1L1296.1 1103.2L1294.5 1105.1L1292.9 1107.1L1291.5 1109.0L1290.2 1110.9L1288.9 1112.8L1287.7 1114.7L1286.5 1116.6L1285.2 1118.6L1283.9 1120.7L1282.6 1122.8L1281.2 1125.0L1279.9 1127.3L1278.6 1129.5L1277.2 1131.8L1276.0 1134.1L1274.7 1136.4L1273.5 1138.7L1272.4 1140.9L1271.3 1143.1L1270.3 1145.2L1269.3 1147.3L1268.4 1149.4L1267.6 1151.5L1266.8 1153.5L1266.0 1155.6L1265.2 1157.6L1264.4 1159.7L1263.7 1161.9L1262.9 1164.1L1262.1 1166.4L1261.3 1168.9L1260.6 1171.5L1259.8 1174.2L1259.1 1176.8L1258.3 1179.4L1257.6 1181.8L1257.0 1184.1L1256.4 1186.1L1255.9 1187.9L1255.4 1189.4L1255.0 1190.6L1254.7 1191.5L1254.4 1192.4L1254.1 1193.0L1253.9 1193.7L1253.6 1194.2L1253.5 1194.8L1253.3 1195.5L1253.1 1196.3L1252.9 1197.2L1252.8 1198.2L1252.7 1199.2L1252.7 1200.2L1252.6 1201.2L1252.6 1202.1L1252.6 1203.0L1252.5 1203.8L1252.5 1204.5L1252.5 1205.0" fill="none" stroke="#a67ee0" stroke-width="1.9" stroke-linejoin="round"/>
<path d="M1372.0 950.0L1371.3 949.6L1370.5 949.1L1369.5 948.4L1368.3 947.7L1367.1 946.9L1365.8 946.1L1364.5 945.4L1363.2 944.7L1362.0 944.1L1360.8 943.7L1359.7 943.4L1358.7 943.2L1357.6 943.1L1356.6 943.0L1355.6 943.0L1354.5 943.0L1353.4 943.0L1352.3 943.0L1351.0 943.0L1349.7 943.0L1348.2 943.0L1346.7 942.9L1345.0 942.9L1343.3 942.8L1341.5 942.8L1339.7 942.8L1337.9 942.8L1336.2 942.9L1334.5 942.9L1332.9 943.0L1331.5 943.1L1330.4 943.1L1329.4 943.2L1328.4 943.3L1327.5 943.4L1326.4 943.5L1325.1 943.7L1323.4 944.1L1321.4 944.5L1318.9 945.1L1315.8 945.9L1312.3 946.8L1308.4 947.8L1304.1 948.9L1299.7 950.1L1295.0 951.4L1290.4 952.7L1285.7 953.9L1281.2 955.1L1276.9 956.3L1272.7 957.4L1268.5 958.5L1264.3 959.7L1260.1 960.8L1255.9 961.9L1251.7 963.0L1247.5 964.1L1243.3 965.3L1239.1 966.4L1234.9 967.5L1230.7 968.6L1226.6 969.8L1222.5 970.9L1218.4 972.0L1214.3 973.2L1210.2 974.3L1206.0 975.4L1201.8 976.5L1197.4 977.6L1193.0 978.7L1188.3 979.8L1183.3 980.8L1178.1 981.9L1172.8 982.9L1167.5 984.0L1162.3 984.9L1157.4 985.9L1152.8 986.8L1148.6 987.7L1145.0 988.5L1142.0 989.2L1139.5 989.9L1137.4 990.4L1135.7 991.0L1134.2 991.5L1132.9 992.0L1131.5 992.4L1130.1 993.0L1128.6 993.5L1126.8 994.1L1124.8 994.7L1122.7 995.3L1120.6 996.0L1118.4 996.6L1116.2 997.2L1114.0 997.9L1111.9 998.6L1109.8 999.4L1107.7 1000.2L1105.8 1001.1L1103.9 1002.0L1102.1 1003.0L1100.3 1003.9L1098.5 1005.0L1096.8 1006.0L1095.1 1007.2L1093.5 1008.3L1091.9 1009.6L1090.4 1010.9L1089.0 1012.3L1087.6 1013.9L1086.3 1015.6L1085.0 1017.6L1083.8 1019.6L1082.7 1021.6L1081.6 1023.6L1080.5 1025.5L1079.6 1027.2L1078.7 1028.8L1077.9 1030.0L1077.2 1030.9L1076.7 1031.4L1076.2 1031.7L1075.9 1031.8L1075.5 1031.8L1075.3 1031.8L1074.9 1032.0L1074.6 1032.3L1074.2 1033.0L1073.7 1034.0L1073.1 1035.4L1072.5 1037.0L1071.9 1038.8L1071.2 1040.8L1070.6 1043.0L1069.8 1045.3L1069.1 1047.7L1068.3 1050.1L1067.5 1052.5L1066.7 1055.0L1065.8 1057.5L1064.9 1060.2L1064.0 1062.9L1063.0 1065.7L1062.0 1068.6L1061.0 1071.5L1059.9 1074.4L1058.9 1077.3L1057.9 1080.2L1056.9 1083.0L1055.9 1085.8L1054.9 1088.6L1053.9 1091.4L1052.9 1094.2L1051.9 1097.0L1050.9 1099.7L1049.9 1102.5L1049.0 1105.3L1048.0 1108.1L1047.1 1110.9L1046.2 1113.7L1045.3 1116.5L1044.5 1119.4L1043.6 1122.2L1042.8 1125.1L1042.0 1127.9L1041.2 1130.7L1040.4 1133.5L1039.5 1136.2L1038.7 1138.9L1037.9 1141.5L1037.0 1144.0L1036.2 1146.4L1035.4 1148.8L1034.6 1151.2L1033.8 1153.7L1032.9 1156.1L1032.1 1158.7L1031.2 1161.3L1030.3 1164.1L1029.3 1167.1L1028.3 1170.5L1027.2 1174.0L1026.1 1177.6L1025.0 1181.2L1024.0 1184.8L1022.9 1188.1L1022.0 1191.3L1021.2 1194.0L1020.5 1196.3L1019.9 1198.2L1019.5 1199.7L1019.1 1200.9L1018.9 1201.9L1018.6 1202.7L1018.5 1203.3L1018.3 1203.8L1018.2 1204.2L1018.1 1204.6L1018.0 1205.0" fill="none" stroke="#c49c2e" stroke-width="1.9" stroke-linejoin="round"/>
<path d="M1372.0 950.0L1371.7 951.3L1371.3 952.9L1370.8 954.8L1370.2 956.9L1369.6 959.3L1369.0 961.7L1368.4 964.2L1367.7 966.8L1367.0 969.3L1366.4 971.7L1365.8 974.1L1365.1 976.6L1364.4 979.1L1363.7 981.7L1363.0 984.3L1362.3 987.0L1361.5 989.5L1360.8 992.1L1360.1 994.5L1359.4 996.9L1358.7 999.2L1358.0 1001.5L1357.3 1003.8L1356.5 1006.0L1355.8 1008.2L1355.1 1010.3L1354.4 1012.4L1353.7 1014.3L1353.0 1016.2L1352.4 1017.9L1351.8 1019.4L1351.3 1020.7L1350.8 1021.8L1350.3 1022.8L1349.9 1023.7L1349.4 1024.7L1348.8 1025.7L1348.2 1026.9L1347.6 1028.3L1346.8 1030.0L1345.9 1031.9L1345.0 1034.0L1344.1 1036.2L1343.0 1038.5L1342.0 1040.9L1340.8 1043.5L1339.6 1046.2L1338.4 1049.0L1337.1 1051.9L1335.7 1055.0L1334.3 1058.2L1332.8 1061.7L1331.2 1065.3L1329.6 1069.1L1327.9 1073.0L1326.2 1076.9L1324.4 1080.9L1322.6 1084.9L1320.8 1088.8L1318.9 1092.7L1317.0 1096.6L1314.9 1100.5L1312.8 1104.5L1310.7 1108.5L1308.5 1112.5L1306.3 1116.5L1304.1 1120.4L1302.0 1124.3L1299.9 1128.1L1297.9 1131.9L1295.9 1135.6L1294.0 1139.3L1292.1 1142.9L1290.1 1146.5L1288.3 1150.0L1286.4 1153.5L1284.7 1156.9L1282.9 1160.3L1281.3 1163.6L1279.7 1166.9L1278.2 1170.2L1276.7 1173.5L1275.2 1176.8L1273.8 1180.1L1272.5 1183.2L1271.3 1186.3L1270.1 1189.2L1269.0 1191.8L1268.0 1194.2L1267.1 1196.3L1266.3 1198.0L1265.7 1199.5L1265.1 1200.7L1264.7 1201.7L1264.3 1202.5L1263.9 1203.1L1263.7 1203.7L1263.4 1204.1L1263.2 1204.6L1263.0 1205.0" fill="none" stroke="#c49c2e" stroke-width="1.9" stroke-linejoin="round"/>
<path d="M1372.0 888.5L1371.6 888.4L1371.1 888.2L1370.5 888.0L1369.8 887.8L1369.1 887.6L1368.3 887.4L1367.5 887.2L1366.7 887.0L1365.8 886.8L1365.0 886.7L1364.2 886.6L1363.3 886.5L1362.4 886.5L1361.5 886.4L1360.6 886.4L1359.7 886.4L1358.6 886.4L1357.6 886.4L1356.4 886.4L1355.2 886.4L1353.9 886.4L1352.6 886.3L1351.2 886.3L1349.7 886.2L1348.3 886.2L1346.7 886.2L1345.1 886.2L1343.4 886.3L1341.7 886.5L1339.9 886.7L1338.1 887.0L1336.4 887.3L1334.7 887.7L1332.9 888.2L1331.1 888.7L1329.1 889.2L1326.9 889.8L1324.5 890.5L1321.9 891.2L1318.9 892.0L1315.6 892.9L1311.8 893.9L1307.8 895.0L1303.6 896.1L1299.2 897.3L1294.7 898.5L1290.2 899.8L1285.6 901.0L1281.2 902.1L1276.9 903.2L1272.7 904.2L1268.5 905.3L1264.3 906.2L1260.1 907.2L1255.9 908.2L1251.7 909.2L1247.5 910.1L1243.3 911.1L1239.1 912.0L1234.9 913.0L1230.7 914.0L1226.6 915.0L1222.5 916.0L1218.4 917.0L1214.3 918.0L1210.2 919.0L1206.0 919.9L1201.8 920.9L1197.4 921.8L1193.0 922.7L1188.3 923.6L1183.3 924.4L1178.1 925.2L1172.8 926.0L1167.5 926.8L1162.3 927.5L1157.4 928.3L1152.8 929.0L1148.6 929.7L1145.0 930.4L1142.0 931.1L1139.5 931.7L1137.4 932.3L1135.7 932.9L1134.2 933.5L1132.9 934.1L1131.5 934.7L1130.1 935.3L1128.6 936.0L1126.8 936.7L1124.8 937.4L1122.7 938.2L1120.6 939.0L1118.5 939.8L1116.3 940.6L1114.1 941.4L1112.0 942.3L1109.9 943.2L1107.8 944.1L1105.8 945.1L1103.8 946.1L1101.9 947.1L1099.9 948.2L1098.0 949.3L1096.0 950.4L1094.2 951.6L1092.4 952.7L1090.7 953.9L1089.2 955.1L1087.7 956.3L1086.4 957.5L1085.2 958.7L1084.1 959.9L1083.0 961.2L1082.1 962.4L1081.2 963.7L1080.4 965.0L1079.5 966.3L1078.7 967.6L1077.9 968.9L1077.1 970.2L1076.3 971.6L1075.6 973.0L1074.8 974.4L1074.1 975.8L1073.5 977.2L1072.8 978.7L1072.2 980.1L1071.5 981.5L1070.9 982.9L1070.3 984.3L1069.7 985.7L1069.2 987.1L1068.6 988.5L1068.1 989.9L1067.6 991.3L1067.0 992.7L1066.5 994.1L1065.9 995.5L1065.3 996.9L1064.6 998.3L1063.9 999.8L1063.2 1001.3L1062.4 1002.7L1061.6 1004.2L1060.9 1005.7L1060.1 1007.1L1059.5 1008.4L1058.8 1009.7L1058.3 1010.9L1057.9 1012.0L1057.6 1012.9L1057.3 1013.7L1057.1 1014.5L1057.0 1015.3L1056.8 1016.0L1056.6 1016.9L1056.4 1017.8L1056.0 1018.8L1055.5 1020.0L1054.9 1021.4L1054.2 1022.9L1053.5 1024.5L1052.7 1026.2L1051.8 1027.9L1050.9 1029.7L1050.0 1031.5L1049.0 1033.3L1048.1 1035.1L1047.1 1036.8L1046.1 1038.5L1045.1 1040.2L1044.0 1041.9L1043.0 1043.7L1041.8 1045.4L1040.7 1047.1L1039.6 1048.8L1038.4 1050.4L1037.1 1052.0L1035.9 1053.6L1034.6 1055.1L1033.3 1056.7L1031.9 1058.2L1030.4 1059.7L1029.0 1061.1L1027.5 1062.5L1026.1 1063.9L1024.7 1065.2L1023.3 1066.4L1021.9 1067.6L1020.6 1068.7L1019.3 1069.6L1018.1 1070.5L1016.9 1071.3L1015.7 1072.1L1014.5 1072.8L1013.2 1073.6L1012.0 1074.3L1010.7 1075.1L1009.3 1076.0L1007.9 1076.9L1006.4 1077.8L1004.8 1078.8L1003.2 1079.7L1001.6 1080.6L1000.0 1081.6L998.4 1082.6L996.8 1083.6L995.3 1084.7L993.9 1085.8L992.5 1086.9L991.1 1088.1L989.8 1089.4L988.5 1090.7L987.2 1092.0L985.9 1093.3L984.7 1094.6L983.5 1095.8L982.4 1097.1L981.3 1098.3L980.3 1099.5L979.3 1100.6L978.4 1101.7L977.6 1102.8L976.7 1103.9L976.0 1105.0L975.2 1106.1L974.4 1107.2L973.7 1108.3L972.9 1109.5L972.1 1110.7L971.4 1111.9L970.7 1113.1L969.9 1114.4L969.2 1115.6L968.5 1116.9L967.9 1118.2L967.2 1119.5L966.5 1120.8L965.9 1122.1L965.3 1123.4L964.7 1124.8L964.1 1126.1L963.5 1127.5L962.9 1128.8L962.4 1130.2L961.8 1131.7L961.3 1133.1L960.8 1134.6L960.3 1136.1L959.8 1137.7L959.3 1139.3L958.9 1141.0L958.5 1142.7L958.0 1144.4L957.6 1146.1L957.2 1147.9L956.8 1149.6L956.5 1151.3L956.1 1152.9L955.8 1154.5L955.5 1156.1L955.2 1157.7L954.9 1159.3L954.6 1160.9L954.4 1162.4L954.1 1163.9L953.8 1165.4L953.6 1166.9L953.3 1168.3L953.0 1169.7L952.7 1171.0L952.4 1172.2L952.1 1173.4L951.8 1174.6L951.5 1175.8L951.2 1177.0L951.0 1178.2L950.7 1179.5L950.5 1180.9L950.3 1182.4L950.1 1183.9L949.9 1185.5L949.8 1187.2L949.6 1188.8L949.5 1190.5L949.4 1192.1L949.3 1193.6L949.2 1195.0L949.1 1196.3L949.0 1197.5L949.0 1198.6L948.9 1199.7L948.9 1200.7L948.9 1201.6L948.8 1202.5L948.8 1203.2L948.8 1203.9L948.8 1204.5L948.8 1205.0" fill="none" stroke="#52dcd0" stroke-width="1.9" stroke-linejoin="round"/>
<path d="M1372.0 888.5L1371.8 889.5L1371.5 890.8L1371.1 892.3L1370.8 893.9L1370.3 895.8L1369.9 897.7L1369.4 899.7L1368.9 901.8L1368.4 903.9L1367.8 906.0L1367.2 908.1L1366.6 910.3L1365.9 912.5L1365.3 914.8L1364.6 917.2L1363.8 919.6L1363.1 922.1L1362.3 924.6L1361.6 927.1L1360.8 929.7L1360.0 932.3L1359.2 935.0L1358.4 937.8L1357.5 940.6L1356.7 943.4L1355.8 946.3L1355.0 949.2L1354.1 952.0L1353.2 954.9L1352.4 957.7L1351.6 960.5L1350.7 963.3L1349.9 966.2L1349.1 969.0L1348.2 971.9L1347.4 974.7L1346.6 977.5L1345.8 980.3L1344.9 983.0L1344.1 985.7L1343.3 988.4L1342.4 991.2L1341.5 994.0L1340.6 996.8L1339.7 999.5L1338.9 1002.1L1338.0 1004.6L1337.2 1006.9L1336.4 1009.0L1335.7 1010.9L1335.1 1012.3L1334.5 1013.0L1334.1 1013.3L1333.7 1013.4L1333.2 1013.5L1332.8 1013.8L1332.3 1014.3L1331.7 1015.4L1331.0 1017.3L1330.1 1020.0L1329.0 1023.7L1327.9 1028.2L1326.6 1033.4L1325.2 1039.0L1323.7 1045.1L1322.2 1051.4L1320.7 1057.7L1319.1 1064.1L1317.6 1070.2L1316.1 1076.0L1314.6 1081.6L1313.1 1087.2L1311.6 1092.8L1310.0 1098.4L1308.5 1104.0L1306.9 1109.5L1305.4 1115.1L1303.8 1120.7L1302.2 1126.3L1300.7 1131.9L1299.1 1137.7L1297.4 1143.9L1295.6 1150.2L1293.9 1156.6L1292.1 1162.9L1290.5 1168.9L1288.9 1174.6L1287.5 1179.7L1286.3 1184.2L1285.3 1187.9L1284.6 1190.7L1284.1 1192.6L1283.8 1193.9L1283.7 1194.7L1283.7 1195.1L1283.7 1195.2L1283.8 1195.3L1283.9 1195.4L1283.9 1195.7L1283.9 1196.3L1283.8 1197.2L1283.7 1198.2L1283.7 1199.2L1283.6 1200.2L1283.6 1201.2L1283.6 1202.1L1283.6 1203.0L1283.5 1203.8L1283.5 1204.5L1283.5 1205.0" fill="none" stroke="#52dcd0" stroke-width="1.9" stroke-linejoin="round"/>
<path d="M1372.0 854.2L1371.5 854.1L1370.9 853.9L1370.2 853.7L1369.4 853.4L1368.6 853.2L1367.7 852.9L1366.7 852.7L1365.7 852.4L1364.6 852.3L1363.6 852.1L1362.5 852.0L1361.4 851.9L1360.3 851.7L1359.1 851.6L1357.9 851.6L1356.6 851.5L1355.3 851.5L1353.9 851.5L1352.5 851.6L1351.0 851.7L1349.5 851.8L1348.1 852.0L1346.7 852.2L1345.3 852.4L1343.8 852.7L1342.1 853.0L1340.3 853.4L1338.1 853.8L1335.7 854.3L1332.9 854.9L1329.7 855.6L1326.0 856.3L1322.1 857.2L1317.8 858.1L1313.4 859.1L1308.8 860.1L1304.3 861.1L1299.7 862.1L1295.2 863.1L1290.9 864.0L1286.7 864.9L1282.5 865.8L1278.3 866.8L1274.1 867.7L1269.9 868.6L1265.7 869.5L1261.5 870.4L1257.3 871.3L1253.1 872.2L1248.9 873.1L1244.7 874.0L1240.5 874.8L1236.3 875.7L1232.1 876.6L1228.0 877.4L1223.8 878.3L1219.6 879.1L1215.4 879.9L1211.2 880.7L1207.0 881.5L1202.7 882.3L1198.3 883.1L1193.7 883.9L1189.2 884.6L1184.6 885.4L1180.2 886.1L1176.0 886.8L1172.0 887.4L1168.3 888.0L1165.0 888.5L1162.1 888.9L1159.6 889.2L1157.3 889.4L1155.3 889.6L1153.5 889.7L1151.8 889.8L1150.2 890.0L1148.5 890.1L1146.8 890.3L1145.0 890.6L1143.1 890.9L1141.3 891.2L1139.5 891.6L1137.7 891.9L1136.0 892.3L1134.2 892.7L1132.4 893.2L1130.6 893.7L1128.7 894.2L1126.8 894.8L1124.8 895.4L1122.7 896.1L1120.6 896.8L1118.4 897.6L1116.2 898.4L1114.0 899.2L1111.9 900.1L1109.8 901.1L1107.7 902.1L1105.8 903.2L1103.9 904.4L1102.1 905.6L1100.3 906.9L1098.5 908.3L1096.8 909.8L1095.1 911.2L1093.5 912.7L1091.9 914.2L1090.4 915.7L1089.0 917.2L1087.7 918.7L1086.4 920.2L1085.2 921.7L1084.1 923.2L1083.0 924.8L1082.0 926.3L1081.0 927.9L1079.9 929.4L1078.9 931.0L1077.9 932.5L1076.9 934.0L1075.8 935.6L1074.8 937.2L1073.8 938.8L1072.8 940.4L1071.9 941.9L1070.9 943.5L1069.9 945.0L1069.0 946.5L1068.1 947.9L1067.2 949.3L1066.4 950.6L1065.6 952.0L1064.8 953.3L1064.0 954.5L1063.2 955.8L1062.4 957.0L1061.5 958.2L1060.6 959.4L1059.7 960.5L1058.7 961.6L1057.7 962.6L1056.6 963.6L1055.5 964.6L1054.4 965.6L1053.2 966.5L1052.1 967.4L1050.9 968.4L1049.7 969.3L1048.5 970.3L1047.3 971.3L1046.1 972.3L1044.9 973.3L1043.6 974.4L1042.4 975.4L1041.1 976.4L1039.8 977.4L1038.5 978.3L1037.2 979.2L1035.9 980.1L1034.6 980.9L1033.2 981.7L1031.8 982.4L1030.4 983.1L1029.0 983.8L1027.6 984.4L1026.1 985.1L1024.7 985.7L1023.3 986.4L1021.9 987.1L1020.5 987.8L1019.1 988.5L1017.6 989.2L1016.2 989.8L1014.7 990.5L1013.3 991.2L1011.9 991.9L1010.5 992.6L1009.2 993.3L1007.9 994.1L1006.6 994.9L1005.4 995.7L1004.2 996.5L1003.0 997.4L1001.9 998.2L1000.7 999.1L999.7 999.9L998.6 1000.8L997.6 1001.7L996.7 1002.5L995.8 1003.3L995.0 1004.2L994.2 1005.0L993.5 1005.8L992.9 1006.7L992.2 1007.5L991.6 1008.3L990.9 1009.2L990.3 1010.0L989.7 1010.9L989.1 1011.8L988.5 1012.6L988.0 1013.4L987.5 1014.3L987.0 1015.1L986.5 1016.0L985.9 1016.9L985.4 1017.9L984.8 1018.9L984.1 1020.0L983.4 1021.2L982.6 1022.4L981.7 1023.8L980.9 1025.1L980.0 1026.5L979.1 1028.0L978.2 1029.4L977.3 1030.9L976.5 1032.5L975.7 1034.0L974.9 1035.5L974.2 1037.1L973.5 1038.7L972.7 1040.2L972.0 1041.9L971.3 1043.5L970.7 1045.3L970.0 1047.0L969.3 1048.9L968.7 1050.8L968.1 1052.8L967.5 1054.9L966.9 1057.1L966.3 1059.3L965.7 1061.6L965.2 1063.9L964.6 1066.2L964.1 1068.5L963.6 1070.9L963.1 1073.2L962.6 1075.5L962.1 1077.9L961.7 1080.3L961.3 1082.7L960.8 1085.1L960.4 1087.6L960.0 1089.9L959.6 1092.3L959.3 1094.6L958.9 1096.9L958.6 1099.1L958.2 1101.3L957.9 1103.4L957.6 1105.5L957.4 1107.6L957.1 1109.6L956.8 1111.7L956.6 1113.7L956.3 1115.8L956.1 1117.9L955.9 1120.0L955.6 1122.1L955.4 1124.2L955.2 1126.3L955.0 1128.4L954.8 1130.5L954.6 1132.6L954.4 1134.7L954.2 1136.8L954.0 1138.9L953.8 1141.0L953.7 1143.1L953.5 1145.2L953.4 1147.3L953.3 1149.4L953.1 1151.5L953.0 1153.6L952.9 1155.7L952.7 1157.8L952.6 1159.9L952.5 1162.0L952.3 1164.2L952.2 1166.4L952.0 1168.6L951.9 1170.8L951.7 1172.9L951.6 1175.0L951.4 1177.1L951.3 1179.0L951.2 1180.9L951.1 1182.7L951.0 1184.4L950.9 1186.1L950.8 1187.8L950.8 1189.4L950.7 1190.9L950.7 1192.3L950.6 1193.7L950.5 1195.1L950.5 1196.3L950.5 1197.5L950.4 1198.6L950.4 1199.7L950.4 1200.7L950.4 1201.6L950.3 1202.5L950.3 1203.2L950.3 1203.9L950.3 1204.5L950.3 1205.0" fill="none" stroke="#5a2730" stroke-width="1.9" stroke-linejoin="round"/>
<path d="M1372.0 854.2L1371.5 855.4L1370.9 856.8L1370.1 858.6L1369.3 860.5L1368.4 862.6L1367.5 864.8L1366.5 867.1L1365.5 869.4L1364.5 871.6L1363.6 873.8L1362.7 876.0L1361.7 878.2L1360.7 880.5L1359.6 882.8L1358.6 885.2L1357.6 887.5L1356.6 889.8L1355.6 892.0L1354.7 894.2L1353.8 896.2L1353.0 898.1L1352.2 899.8L1351.5 901.4L1350.8 903.0L1350.1 904.5L1349.5 906.1L1348.8 907.6L1348.1 909.3L1347.5 911.1L1346.8 913.0L1346.1 915.1L1345.4 917.3L1344.7 919.6L1344.0 921.9L1343.4 924.3L1342.7 926.8L1342.0 929.3L1341.3 931.8L1340.6 934.2L1339.9 936.7L1339.2 939.1L1338.5 941.6L1337.8 944.1L1337.1 946.5L1336.4 949.0L1335.7 951.5L1335.0 954.1L1334.3 956.7L1333.6 959.3L1332.9 961.9L1332.2 964.6L1331.5 967.3L1330.8 970.0L1330.1 972.8L1329.4 975.6L1328.7 978.4L1328.0 981.3L1327.3 984.1L1326.6 987.0L1325.9 989.9L1325.2 992.7L1324.6 995.4L1323.9 998.0L1323.3 1000.5L1322.7 1003.2L1322.0 1006.0L1321.3 1009.0L1320.6 1012.3L1319.8 1015.9L1318.9 1020.0L1317.9 1024.6L1316.9 1029.5L1315.8 1034.9L1314.7 1040.5L1313.5 1046.4L1312.3 1052.4L1311.1 1058.4L1309.9 1064.4L1308.8 1070.3L1307.7 1076.0L1306.7 1081.6L1305.7 1087.1L1304.7 1092.5L1303.7 1098.0L1302.7 1103.4L1301.8 1108.9L1300.8 1114.5L1299.8 1120.2L1298.9 1126.0L1297.9 1131.9L1296.9 1138.2L1295.8 1145.1L1294.7 1152.3L1293.5 1159.7L1292.4 1167.0L1291.4 1174.1L1290.4 1180.8L1289.5 1186.8L1288.7 1192.1L1288.1 1196.3L1287.7 1199.5L1287.4 1201.7L1287.2 1203.3L1287.2 1204.2L1287.2 1204.7L1287.3 1204.8L1287.3 1204.8L1287.4 1204.7L1287.5 1204.7L1287.5 1205.0" fill="none" stroke="#5a2730" stroke-width="1.9" stroke-linejoin="round"/>
</g>
<clipPath id="clipf"><rect x="1628.3" y="698.4" width="531.4" height="498.4"/></clipPath><g clip-path="url(#clipf)">
<path d="M2125.2 1120.7L2124.7 1119.8L2124.3 1118.8L2122.4 1119.7L2122.3 1118.5L2122.4 1116.9L2121.4 1116.7L2120.9 1115.9L2120.0 1115.5L2119.7 1114.3L2117.7 1115.8L2118.6 1112.3L2117.0 1113.5L2116.4 1112.2L2115.2 1112.8L2114.0 1113.9L2113.3 1113.4L2112.2 1114.6L2111.5 1112.8L2110.7 1111.6L2109.7 1112.9L2108.9 1112.5L2108.0 1111.7L2107.1 1111.4L2106.2 1111.3L2105.2 1112.6L2104.2 1114.1L2103.5 1110.9L2102.5 1112.6L2101.7 1110.3L2100.8 1113.9L2099.8 1111.3L2098.9 1112.4L2098.0 1111.2L2097.2 1112.6L2096.3 1112.6L2095.3 1111.4L2094.3 1110.9L2093.5 1111.8L2092.6 1112.2L2091.9 1113.9L2090.7 1111.7L2089.9 1112.7L2089.0 1112.6L2088.3 1114.0L2087.2 1113.0L2086.4 1113.2L2085.8 1114.9L2084.6 1113.7L2083.6 1113.3L2082.9 1114.5L2082.1 1115.3L2081.4 1115.9L2080.0 1113.8L2079.4 1115.4L2078.3 1114.7L2077.4 1114.6L2076.7 1115.6L2075.6 1114.8L2075.1 1116.5L2073.8 1115.1L2073.1 1116.0L2072.3 1116.5L2071.5 1117.0L2070.3 1115.9L2069.5 1116.6L2068.8 1117.5L2067.6 1116.5L2067.0 1118.0L2066.2 1118.2L2065.2 1118.0L2064.5 1119.1L2063.6 1119.3L2062.3 1117.6L2061.5 1118.1L2061.1 1120.5L2059.5 1117.4L2058.5 1117.4L2058.3 1120.1L2056.9 1118.5L2056.0 1118.4L2055.6 1120.6L2054.6 1120.3L2053.5 1119.5L2053.0 1121.5L2051.8 1132.2L2050.9 1120.6L2050.3 1121.8L2049.3 1121.3L2048.5 1122.0L2047.7 1122.6L2046.6 1121.7L2045.9 1126.7L2044.9 1122.6L2043.9 1122.4L2043.2 1121.8L2042.2 1122.9L2041.3 1123.2L2040.7 1124.3L2039.5 1123.4L2038.9 1124.7L2037.5 1122.9L2036.7 1123.3L2036.5 1126.1L2035.0 1124.1L2034.5 1125.5L2034.0 1127.2L2032.7 1126.0L2031.9 1126.3L2031.0 1126.7L2030.3 1127.4L2029.2 1128.5L2028.2 1126.5L2027.2 1126.6L2026.6 1127.6L2025.9 1128.6L2024.9 1128.1L2024.0 1128.4L2023.0 1128.2L2021.9 1127.5L2021.4 1129.2L2020.9 1130.7L2019.9 1130.4L2018.9 1130.6L2017.5 1140.1L2017.3 1131.4L2016.1 1130.4L2015.2 1130.4L2014.4 1131.1L2013.8 1132.1L2012.8 1132.1L2011.8 1131.8L2010.6 1130.8L2010.3 1132.9L2009.1 1132.2L2008.4 1132.9L2008.0 1134.9L2006.4 1132.7L2005.8 1133.8L2004.6 1132.8L2003.8 1133.2L2003.1 1134.3L2002.1 1133.8L2001.6 1135.4L2000.5 1134.9L1999.5 1134.8L1998.6 1134.7L1997.8 1135.5L1997.0 1136.0L1996.1 1136.2L1995.1 1135.8L1994.2 1136.0L1993.5 1137.0L1992.8 1137.8L1991.6 1136.8L1990.8 1137.2L1989.9 1137.5L1989.1 1137.8L1988.5 1138.9L1987.2 1142.0L1986.7 1139.4L1985.8 1138.8L1984.5 1138.1L1984.0 1139.7L1983.0 1139.7L1982.3 1140.3L1981.4 1140.5L1980.4 1140.4L1979.5 1140.6L1978.5 1140.2L1977.6 1140.4L1977.2 1142.1L1976.2 1141.9L1975.2 1141.8L1974.2 1139.7L1973.1 1141.3L1972.7 1143.0L1971.9 1143.6L1970.9 1143.3L1970.3 1144.5L1969.5 1134.6L1968.4 1144.5L1967.3 1143.8L1966.3 1143.8L1965.8 1145.0L1964.7 1144.7L1964.0 1145.5L1963.0 1145.4L1962.2 1145.8L1961.8 1147.3L1960.4 1146.1L1960.0 1147.7L1959.1 1147.9L1958.3 1149.8L1957.0 1147.4L1956.3 1148.0L1955.5 1148.7L1954.0 1147.0L1953.6 1148.6L1953.0 1149.7L1952.2 1150.0L1951.1 1149.6L1950.8 1151.4L1948.9 1148.9L1948.5 1150.4L1947.9 1151.5L1946.9 1151.4L1946.5 1152.9L1945.3 1152.3L1944.8 1153.4L1943.3 1147.7L1943.3 1154.7L1942.0 1153.7L1940.9 1153.2L1940.1 1153.8L1939.1 1153.6L1938.8 1155.5L1937.5 1154.4L1936.8 1155.3L1936.1 1156.1L1934.7 1154.8L1934.5 1157.0L1933.4 1156.6L1932.5 1156.7L1931.1 1155.2L1930.8 1157.3L1930.2 1158.2L1928.9 1157.2L1928.2 1158.1L1927.4 1158.6L1926.6 1159.1L1926.0 1160.2L1924.7 1159.1L1923.6 1158.5L1922.8 1159.1L1922.1 1159.6L1921.2 1160.0L1920.6 1158.8L1919.4 1160.3L1918.8 1161.3L1917.9 1161.4L1917.1 1162.0L1916.6 1163.4L1915.1 1161.4L1914.1 1161.4L1913.7 1163.2L1912.6 1162.7L1912.3 1164.8L1910.9 1163.4L1910.4 1164.7L1909.2 1164.0L1908.5 1176.0L1907.5 1169.2L1907.1 1166.5L1906.1 1166.3L1904.7 1164.5L1904.4 1166.8L1902.9 1178.2L1902.6 1167.2L1901.5 1166.8L1900.4 1178.8L1899.8 1167.5L1898.5 1165.9L1898.0 1167.7L1897.3 1181.2L1895.8 1166.3L1895.0 1171.7L1894.7 1169.4L1893.2 1176.0L1892.4 1167.4L1891.9 1180.6L1890.9 1177.8L1889.8 1168.4L1888.9 1168.5L1888.2 1169.4L1887.1 1168.4L1886.2 1176.6L1885.7 1170.5L1884.6 1180.9L1884.1 1171.9L1882.7 1169.5L1882.1 1184.4L1881.1 1170.9L1880.3 1175.9L1879.5 1171.8L1878.3 1177.4L1877.8 1181.3L1876.8 1172.6L1876.0 1173.0L1875.0 1184.0L1874.2 1183.9L1873.1 1172.3L1872.2 1172.1L1871.2 1171.7L1870.3 1171.9L1869.5 1203.6L1868.7 1189.6L1867.7 1173.0L1866.8 1173.1L1865.9 1173.3L1865.4 1188.6L1864.8 1176.0L1863.6 1175.3L1863.2 1192.4L1861.7 1203.5L1861.0 1202.8L1860.1 1176.0L1859.2 1176.3L1858.0 1175.6L1857.5 1176.8L1856.7 1215.7L1855.5 1207.2L1855.1 1178.2L1854.5 1201.0L1853.3 1201.1L1852.2 1178.3L1851.3 1178.4L1850.4 1204.3L1850.0 1185.6L1849.6 1204.1L1847.8 1179.7L1847.6 1181.2L1847.5 1182.9L1846.3 1217.2L1845.1 1217.7L1844.5 1197.9L1844.4 1184.6L1842.9 1213.6L1843.2 1209.4L1840.6 1183.9L1841.0 1186.0L1840.6 1214.3L1838.9 1186.4L1838.3 1187.0L1836.4 1223.5L1837.3 1204.2L1837.5 1191.5L1837.0 1217.3L1835.4 1192.2L1834.2 1190.6L1834.2 1210.5L1833.4 1206.9L1833.7 1230.8L1831.4 1193.2L1831.3 1194.3L1832.3 1195.9L1830.3 1195.8L1830.5 1197.0L1830.2 1197.9L1829.8 1198.7L1829.2 1199.5L1826.9 1200.0L1829.8 1201.5L1829.8 1202.4L1830.0 1203.3L1827.4 1203.8L1829.2 1205.0" fill="none" stroke="#3a3a3a" stroke-width="1.7" stroke-linejoin="round"/>
<path d="M2126.1 1120.3L2125.5 1121.2L2123.4 1120.7L2124.6 1123.1L2123.3 1123.3L2122.1 1123.6L2120.7 1123.5L2119.8 1120.4L2119.5 1125.1L2119.4 1126.6L2118.3 1126.8L2117.6 1127.6L2117.4 1129.1L2116.1 1129.0L2114.9 1129.0L2113.3 1128.5L2113.5 1130.6L2112.6 1131.0L2112.0 1132.0L2110.7 1131.9L2109.6 1132.0L2109.9 1134.4L2107.8 1132.9L2107.7 1134.7L2106.6 1134.9L2105.6 1135.1L2105.3 1136.3L2103.9 1136.4L2102.8 1136.3L2101.0 1135.4L2101.5 1138.1L2101.0 1139.4L2100.4 1140.4L2099.2 1140.2L2098.5 1141.1L2096.6 1139.9L2095.7 1140.3L2094.9 1141.0L2094.0 1141.5L2094.0 1143.3L2092.3 1142.6L2091.5 1143.3L2091.2 1144.6L2090.4 1145.3L2089.6 1145.9L2088.2 1145.7L2088.2 1147.4L2086.4 1146.6L2087.6 1149.9L2085.1 1148.2L2084.8 1149.6L2083.6 1149.6L2082.2 1149.4L2081.4 1150.1L2081.9 1152.5L2080.9 1152.9L2079.7 1153.0L2078.1 1152.3L2077.8 1153.8L2076.0 1152.7L2075.2 1153.4L2075.3 1155.5L2073.9 1155.1L2073.6 1156.7L2072.1 1156.1L2071.3 1156.7L2070.3 1157.5L2069.4 1157.4L2068.2 1157.5L2067.8 1158.8L2067.3 1159.9L2066.5 1160.6L2065.8 1161.3L2064.6 1161.3L2064.7 1163.1L2062.3 1161.7L2062.5 1163.6L2061.9 1164.5L2060.6 1164.4L2060.4 1165.8L2059.5 1166.2L2059.6 1167.8L2057.8 1167.4L2056.5 1167.5L2056.4 1168.9L2056.1 1170.0L2055.3 1170.6L2053.8 1170.5L2053.7 1171.9L2051.7 1171.4L2051.8 1172.9L2051.6 1174.0L2051.6 1175.3L2049.6 1175.0L2049.0 1175.9L2049.3 1177.3L2047.6 1177.4L2047.2 1178.4L2047.7 1179.8L2047.3 1180.8L2045.0 1180.8L2045.2 1182.0L2045.3 1183.2L2045.7 1184.4L2044.9 1185.2L2044.7 1186.2L2046.0 1187.7L2041.8 1187.3L2043.4 1189.0L2042.0 1189.6L2043.2 1195.8L2042.3 1191.8L2044.3 1193.3L2042.1 1193.9L2040.6 1194.6L2041.5 1195.8L2041.0 1196.8L2042.5 1198.0L2042.3 1199.0L2041.9 1199.9L2041.3 1200.9L2041.9 1202.0L2040.7 1203.0L2042.5 1204.0L2042.3 1205.0" fill="none" stroke="#3a3a3a" stroke-width="1.7" stroke-linejoin="round"/>
<path d="M2126.1 1098.3L2124.5 1099.3L2124.5 1097.9L2124.0 1097.1L2123.6 1095.5L2122.2 1096.9L2121.0 1099.0L2120.7 1095.8L2119.7 1097.0L2118.7 1098.8L2118.0 1107.9L2117.7 1093.4L2116.6 1095.9L2115.9 1094.5L2114.9 1097.3L2114.3 1093.0L2113.4 1096.5L2112.6 1096.4L2111.8 1094.1L2111.0 1091.8L2110.2 1096.6L2109.3 1093.6L2108.5 1095.0L2107.7 1094.2L2106.9 1095.1L2106.2 1097.2L2105.4 1097.0L2104.6 1097.2L2103.7 1096.0L2103.0 1097.9L2102.1 1096.5L2101.5 1098.6L2100.7 1098.5L2099.8 1098.0L2099.0 1098.1L2098.0 1095.4L2097.2 1095.2L2096.5 1097.1L2095.6 1096.1L2094.8 1096.0L2094.1 1106.1L2093.4 1097.6L2092.4 1096.3L2091.5 1095.5L2091.3 1100.4L2090.2 1098.5L2089.3 1097.2L2088.7 1099.0L2087.7 1097.7L2086.9 1097.6L2086.3 1098.9L2085.1 1096.8L2084.2 1096.4L2083.8 1098.7L2082.9 1098.1L2082.0 1097.6L2081.5 1099.5L2080.4 1098.1L2079.8 1104.3L2079.3 1101.1L2078.0 1098.5L2077.3 1099.3L2076.2 1097.5L2075.7 1099.1L2075.1 1100.5L2074.3 1100.6L2073.9 1102.8L2072.3 1098.8L2071.8 1100.5L2071.8 1104.1L2070.2 1100.5L2069.9 1102.9L2068.9 1102.3L2067.9 1101.2L2067.2 1102.0L2066.3 1101.5L2065.3 1100.7L2064.9 1102.5L2064.1 1102.9L2063.1 1101.8L2062.6 1103.5L2061.7 1102.9L2061.1 1104.2L2060.5 1105.3L2059.1 1102.7L2058.6 1103.7L2057.9 1104.6L2056.7 1102.7L2056.1 1103.6L2055.3 1103.7L2054.4 1103.3L2053.4 1102.8L2053.3 1105.8L2052.7 1106.8L2051.4 1105.1L2050.8 1119.2L2050.0 1105.8L2049.1 1105.8L2048.2 1105.1L2047.3 1104.8L2047.1 1107.7L2046.0 1106.3L2044.9 1105.3L2044.2 1106.0L2043.4 1105.9L2042.6 1106.0L2041.8 1106.1L2041.3 1107.4L2040.3 1106.8L2039.7 1107.9L2038.8 1107.3L2038.0 1112.6L2037.2 1107.7L2036.6 1108.6L2036.1 1109.9L2035.4 1110.4L2034.3 1109.6L2033.5 1109.7L2032.6 1109.1L2031.7 1108.9L2031.5 1111.4L2030.6 1111.2L2029.6 1110.4L2029.0 1111.5L2027.8 1109.9L2027.2 1110.7L2026.2 1110.1L2025.7 1111.3L2024.5 1110.2L2023.5 1109.6L2023.4 1112.0L2022.0 1110.4L2021.5 1111.6L2021.0 1112.7L2020.2 1112.6L2019.6 1113.4L2018.7 1113.3L2017.5 1112.3L2017.5 1115.0L2016.8 1115.3L2015.4 1113.6L2015.5 1116.6L2014.4 1115.6L2012.6 1112.6L2012.5 1115.2L2011.3 1113.9L2011.0 1115.6L2010.5 1116.7L2010.0 1117.8L2009.2 1117.9L2008.3 1117.8L2007.0 1116.3L2006.0 1115.8L2005.2 1116.2L2004.9 1117.6L2004.6 1135.7L2003.9 1119.9L2002.8 1118.9L2001.7 1118.1L2001.6 1113.0L2000.7 1120.4L1999.7 1119.9L1999.4 1121.5L1998.4 1120.9L1996.5 1118.0L1996.3 1119.9L1996.0 1121.4L1994.7 1120.2L1994.3 1123.0L1993.5 1121.5L1993.0 1122.8L1992.1 1122.3L1992.0 1101.6L1990.8 1123.7L1990.3 1124.8L1989.1 1123.8L1988.0 1123.0L1988.0 1125.8L1986.3 1122.8L1986.0 1124.7L1985.1 1124.2L1984.7 1125.8L1983.6 1124.9L1982.4 1123.7L1981.6 1123.6L1981.5 1134.9L1980.3 1125.0L1979.4 1124.6L1978.7 1125.4L1977.9 1125.4L1976.9 1125.0L1977.0 1128.2L1975.5 1125.8L1975.3 1128.0L1974.2 1127.1L1973.6 1127.9L1972.3 1126.2L1971.6 1126.6L1971.1 1128.2L1969.9 1126.6L1969.3 1127.6L1968.9 1129.3L1968.2 1129.6L1967.7 1130.8L1966.0 1127.4L1965.5 1128.8L1965.2 1135.7L1963.8 1128.8L1963.3 1133.5L1962.4 1129.8L1961.2 1128.2L1960.8 1129.9L1960.4 1131.6L1959.6 1131.6L1958.2 1129.5L1957.8 1131.0L1957.8 1134.1L1956.3 1131.8L1955.8 1133.0L1954.5 1131.3L1953.9 1131.9L1952.9 1131.6L1952.7 1133.7L1952.0 1134.3L1950.4 1131.5L1950.0 1133.0L1949.5 1134.3L1948.7 1134.3L1947.6 1133.4L1946.9 1133.9L1946.0 1133.6L1946.1 1137.0L1944.9 1135.6L1944.3 1136.5L1943.6 1137.1L1942.0 1134.4L1941.9 1136.8L1940.7 1135.8L1940.0 1136.2L1939.1 1136.0L1938.7 1131.0L1938.1 1138.1L1936.3 1135.1L1937.3 1141.1L1935.3 1137.4L1934.0 1135.8L1933.9 1138.3L1934.0 1141.0L1933.0 1140.8L1931.7 1139.3L1930.9 1139.5L1930.0 1139.2L1929.9 1141.5L1928.3 1139.3L1927.6 1139.6L1927.3 1141.3L1926.6 1141.8L1926.0 1142.4L1924.5 1140.4L1924.0 1141.4L1923.1 1141.5L1923.2 1144.3L1921.9 1142.8L1921.4 1144.1L1920.4 1143.5L1918.8 1141.2L1918.5 1143.0L1917.9 1143.8L1917.8 1146.6L1915.9 1142.7L1915.6 1144.4L1914.7 1144.3L1914.4 1145.7L1912.7 1143.3L1912.2 1144.3L1912.3 1147.1L1910.4 1144.0L1910.2 1145.8L1909.6 1146.6L1908.7 1146.7L1908.2 1147.7L1907.5 1148.1L1906.6 1147.8L1906.3 1149.6L1904.8 1147.5L1904.5 1149.2L1903.6 1146.9L1902.2 1147.3L1902.4 1150.4L1901.0 1148.9L1900.4 1149.5L1899.3 1148.9L1899.0 1150.4L1898.2 1150.6L1897.6 1151.6L1896.3 1149.8L1895.6 1150.5L1894.8 1150.3L1893.9 1150.2L1893.5 1151.6L1892.7 1151.8L1890.8 1147.9L1891.1 1152.1L1890.7 1154.0L1889.6 1152.7L1888.9 1153.2L1887.7 1151.9L1887.3 1153.6L1886.9 1155.7L1885.2 1151.7L1884.8 1153.7L1883.7 1152.6L1882.5 1151.1L1882.2 1153.2L1881.6 1154.1L1881.0 1155.0L1880.1 1154.6L1879.4 1155.0L1878.2 1153.9L1877.7 1155.0L1877.2 1156.2L1876.5 1156.7L1875.5 1156.0L1874.6 1155.9L1873.7 1151.0L1872.5 1154.9L1872.6 1144.0L1871.7 1157.3L1871.5 1159.1L1870.9 1159.7L1868.6 1156.3L1869.0 1159.3L1867.6 1158.0L1867.2 1159.1L1867.2 1161.1L1865.4 1159.2L1864.9 1160.0L1864.5 1161.0L1863.6 1161.0L1861.9 1159.2L1862.1 1161.6L1861.1 1161.3L1859.8 1160.5L1859.3 1157.8L1859.0 1162.6L1858.7 1163.7L1858.3 1164.8L1857.1 1164.1L1856.2 1164.2L1855.0 1163.6L1855.2 1165.7L1854.7 1166.5L1853.1 1165.1L1852.7 1166.2L1851.7 1165.8L1851.9 1174.4L1851.2 1168.5L1850.0 1168.0L1849.5 1168.7L1848.7 1168.8L1847.7 1168.8L1847.1 1169.3L1847.5 1171.6L1846.1 1170.7L1844.9 1170.4L1844.9 1171.9L1843.2 1170.7L1842.5 1171.0L1842.0 1171.7L1841.2 1172.0L1841.7 1168.5L1840.4 1173.7L1839.1 1173.3L1839.1 1174.7L1838.9 1175.8L1837.7 1175.4L1837.2 1184.9L1837.8 1178.2L1836.9 1178.3L1835.4 1177.7L1834.5 1177.9L1834.3 1178.8L1833.4 1179.1L1832.6 1179.4L1831.2 1179.0L1831.6 1180.7L1832.5 1182.8L1831.0 1182.4L1829.7 1182.1L1826.3 1179.8L1828.5 1183.2L1828.3 1184.2L1829.7 1186.8L1826.6 1184.7L1826.0 1185.3L1825.3 1185.7L1824.6 1186.2L1825.2 1187.9L1823.3 1187.3L1823.2 1188.2L1824.9 1190.8L1821.2 1188.6L1822.6 1190.8L1822.3 1191.5L1819.3 1190.4L1819.9 1191.8L1822.2 1194.1L1820.1 1193.8L1818.0 1193.6L1817.8 1194.5L1818.9 1195.9L1818.2 1196.4L1819.3 1197.7L1816.6 1197.6L1816.4 1198.4L1817.2 1199.5L1818.2 1200.6L1815.9 1200.8L1817.8 1202.1L1815.5 1202.4L1817.3 1203.6L1814.8 1203.9L1815.7 1206.3" fill="none" stroke="#e8333a" stroke-width="1.9" stroke-linejoin="round"/>
<path d="M2126.1 1099.1L2126.0 1100.0L2125.7 1100.7L2127.4 1102.1L2124.4 1102.0L2124.1 1102.7L2124.4 1103.6L2123.1 1104.0L2122.9 1104.8L2120.4 1104.5L2124.7 1107.5L2123.5 1107.8L2122.7 1108.3L2121.3 1108.3L2120.7 1108.8L2120.7 1110.0L2120.9 1111.7L2118.2 1109.1L2118.3 1110.6L2118.7 1113.5L2116.7 1110.9L2116.6 1112.8L2115.9 1113.3L2115.4 1114.4L2113.7 1112.0L2112.7 1111.5L2113.0 1114.9L2111.5 1112.9L2110.6 1113.0L2110.2 1114.2L2110.0 1115.7L2108.9 1115.1L2108.0 1115.1L2108.0 1117.0L2106.3 1115.4L2105.9 1116.4L2105.6 1117.5L2104.1 1116.4L2103.3 1116.6L2103.4 1118.6L2101.4 1129.0L2101.3 1118.0L2101.2 1119.6L2099.5 1118.1L2099.9 1120.5L2097.4 1117.7L2098.6 1121.4L2096.9 1120.1L2098.2 1124.0L2095.8 1121.5L2094.8 1121.2L2094.1 1121.7L2094.1 1123.3L2093.5 1123.8L2092.8 1124.2L2092.0 1124.5L2092.3 1126.3L2089.2 1123.2L2088.9 1124.1L2088.1 1124.5L2089.5 1127.8L2087.2 1126.0L2086.8 1126.8L2087.5 1129.2L2084.7 1126.7L2085.2 1128.7L2084.6 1129.2L2083.2 1128.7L2081.8 1128.2L2083.4 1131.7L2082.0 1131.2L2081.8 1132.3L2080.7 1132.1L2080.1 1132.7L2079.5 1133.3L2079.2 1134.3L2077.9 1133.8L2076.9 1133.7L2077.1 1135.5L2075.1 1133.8L2074.8 1137.8L2074.9 1136.5L2073.9 1136.5L2074.0 1138.1L2072.7 1137.5L2073.1 1139.8L2070.6 1137.2L2070.0 1137.7L2070.6 1140.3L2068.7 1138.7L2068.1 1139.3L2067.7 1140.2L2067.1 1140.8L2066.6 1141.4L2065.2 1140.6L2064.0 1140.1L2064.3 1142.4L2063.8 1143.2L2062.7 1142.8L2061.5 1142.2L2060.4 1141.6L2059.5 1141.7L2059.9 1144.5L2058.4 1143.2L2058.6 1145.4L2058.0 1146.0L2056.9 1145.5L2057.1 1148.0L2056.1 1147.6L2053.7 1144.6L2054.6 1148.1L2053.9 1148.6L2053.0 1148.5L2051.9 1148.2L2051.4 1148.9L2049.0 1146.5L2049.8 1149.4L2049.7 1150.7L2048.0 1149.6L2048.8 1152.3L2047.6 1151.9L2045.7 1150.5L2045.9 1152.3L2046.0 1153.8L2044.2 1152.6L2043.2 1152.5L2042.6 1153.1L2043.7 1156.0L2042.0 1155.0L2041.3 1155.4L2041.5 1157.1L2040.2 1156.7L2039.4 1157.0L2037.6 1155.9L2037.8 1157.4L2037.6 1158.5L2037.7 1160.0L2036.6 1159.8L2034.7 1158.7L2035.0 1160.5L2034.3 1160.9L2031.6 1158.8L2033.3 1162.2L2031.6 1161.3L2031.8 1162.8L2030.4 1162.4L2029.8 1157.8L2029.3 1163.7L2029.3 1159.7L2030.2 1167.0L2029.0 1166.9L2027.9 1166.9L2026.8 1166.9L2026.3 1167.6L2024.8 1167.4L2026.4 1169.8L2026.1 1170.5L2024.6 1170.4L2023.8 1173.5L2022.8 1171.0L2023.5 1172.6L2021.7 1172.2L2022.5 1173.8L2023.5 1175.5L2022.0 1175.4L2022.0 1176.3L2020.8 1176.5L2019.7 1176.7L2019.1 1177.3L2019.3 1178.3L2019.2 1179.2L2019.0 1180.0L2016.9 1179.8L2016.5 1176.1L2017.3 1181.8L2016.7 1182.4L2016.0 1182.9L2014.7 1183.3L2015.0 1184.3L2014.8 1185.1L2017.0 1192.0L2015.4 1187.0L2016.2 1188.4L2014.4 1188.4L2013.0 1188.7L2014.8 1190.3L2013.5 1190.6L2012.3 1191.0L2010.5 1190.9L2012.8 1193.1L2009.2 1191.9L2010.8 1193.8L2010.6 1194.6L2010.1 1195.3L2012.5 1207.0L2011.1 1197.3L2010.0 1197.8L2011.5 1198.9L2008.7 1199.3L2010.8 1200.4L2009.5 1201.0L2010.9 1202.0L2009.0 1202.6L2008.9 1203.4L2007.7 1204.0L2010.6 1205.2" fill="none" stroke="#e8333a" stroke-width="1.9" stroke-linejoin="round"/>
<path d="M2125.8 1064.5L2125.8 1063.0L2124.8 1063.2L2124.3 1062.3L2123.1 1062.8L2121.8 1063.6L2120.5 1063.9L2121.0 1061.4L2119.6 1063.0L2119.2 1061.7L2118.6 1060.8L2117.4 1062.1L2117.1 1060.0L2116.0 1061.1L2115.5 1059.6L2114.5 1060.4L2113.5 1061.5L2112.6 1062.1L2112.0 1060.6L2111.3 1060.1L2110.6 1059.4L2109.6 1061.0L2108.8 1060.8L2108.3 1056.3L2107.2 1060.8L2106.5 1059.6L2105.6 1060.1L2105.0 1057.7L2104.0 1060.0L2103.1 1062.9L2102.4 1061.4L2101.6 1061.6L2100.9 1057.6L2100.2 1056.3L2099.3 1059.4L2098.5 1058.6L2097.7 1057.9L2096.9 1064.6L2096.0 1061.4L2095.2 1056.6L2094.4 1058.6L2093.6 1059.8L2092.8 1059.4L2092.0 1057.3L2091.3 1075.2L2090.5 1061.2L2089.6 1059.2L2088.9 1061.3L2087.8 1057.4L2087.4 1061.5L2086.2 1057.8L2085.7 1060.5L2084.8 1059.7L2084.2 1061.2L2083.2 1060.3L2082.5 1060.4L2081.6 1060.3L2080.8 1059.9L2080.0 1060.0L2079.3 1060.9L2078.5 1061.0L2077.6 1060.6L2077.0 1061.7L2076.5 1063.5L2075.6 1075.2L2074.6 1062.1L2073.9 1062.4L2073.2 1063.4L2072.1 1061.7L2071.4 1062.3L2070.8 1063.2L2070.1 1063.8L2069.1 1063.3L2068.0 1061.6L2068.0 1065.5L2066.5 1062.3L2065.9 1063.6L2065.0 1063.1L2064.6 1064.9L2063.7 1064.6L2062.3 1061.8L2061.6 1062.4L2061.0 1063.7L2060.2 1067.2L2059.1 1062.2L2058.6 1063.8L2057.8 1063.6L2057.6 1066.8L2056.2 1064.1L2055.5 1064.6L2055.1 1066.4L2053.8 1064.3L2053.1 1064.8L2052.7 1066.9L2051.4 1064.9L2050.4 1063.8L2049.7 1064.5L2049.5 1067.3L2048.8 1067.5L2047.9 1067.1L2047.1 1067.4L2046.2 1066.9L2045.5 1067.8L2044.8 1068.4L2044.4 1066.0L2042.9 1067.2L2041.7 1065.4L2041.6 1068.5L2040.7 1068.2L2040.3 1070.3L2039.5 1070.2L2038.5 1069.3L2037.7 1069.6L2036.7 1068.7L2036.1 1069.7L2035.7 1071.4L2034.6 1070.5L2033.5 1069.1L2032.6 1069.0L2032.4 1071.5L2031.1 1069.7L2030.2 1069.2L2029.8 1071.2L2029.0 1071.2L2027.6 1068.6L2027.2 1070.4L2026.8 1072.4L2026.1 1072.6L2024.6 1065.2L2024.0 1071.0L2023.4 1072.0L2022.3 1070.5L2022.0 1073.0L2020.9 1071.6L2020.6 1072.7L2019.4 1057.2L2019.1 1074.4L2017.9 1073.0L2017.7 1075.4L2016.4 1073.8L2016.0 1075.4L2015.1 1075.2L2014.1 1074.5L2013.4 1074.7L2013.0 1076.4L2012.2 1076.7L2011.0 1075.2L2010.1 1075.0L2009.3 1075.0L2008.7 1076.1L2008.0 1081.4L2007.3 1076.9L2006.6 1077.6L2005.8 1077.3L2005.4 1079.3L2003.9 1076.6L2002.9 1082.0L2002.8 1080.5L2001.5 1076.8L2001.3 1079.5L2000.9 1080.9L1999.5 1078.6L1998.8 1079.2L1998.2 1080.0L1997.2 1079.4L1996.8 1081.0L1996.0 1081.1L1994.4 1078.3L1993.8 1079.3L1993.6 1081.6L1992.3 1079.7L1992.0 1081.8L1991.3 1082.3L1990.2 1081.3L1989.8 1092.9L1988.7 1081.9L1988.2 1083.1L1986.8 1081.0L1986.1 1081.3L1985.2 1081.3L1985.3 1084.6L1984.7 1085.5L1983.4 1083.8L1982.3 1082.8L1981.8 1084.0L1980.6 1082.7L1980.2 1097.8L1979.6 1085.1L1979.3 1086.9L1978.1 1085.7L1976.9 1084.2L1975.0 1080.7L1975.8 1086.4L1974.5 1084.7L1974.0 1085.9L1973.4 1086.7L1973.4 1089.4L1971.9 1087.1L1971.4 1088.2L1970.0 1086.5L1969.7 1070.6L1969.0 1088.6L1967.8 1087.6L1966.9 1087.5L1966.6 1088.9L1965.8 1089.3L1965.2 1089.9L1964.1 1093.9L1962.6 1087.1L1962.8 1090.3L1960.9 1087.2L1961.0 1090.0L1960.0 1089.6L1959.4 1093.0L1958.8 1091.0L1957.9 1090.7L1957.1 1090.8L1956.4 1089.5L1956.0 1092.6L1955.0 1092.3L1954.2 1092.5L1953.2 1081.1L1952.5 1092.5L1952.0 1093.4L1950.9 1092.5L1949.9 1092.1L1950.1 1095.2L1949.1 1094.9L1948.7 1096.0L1947.7 1095.6L1945.9 1093.0L1945.8 1095.0L1945.0 1095.3L1944.3 1095.5L1943.1 1094.7L1942.4 1095.1L1942.3 1097.2L1941.3 1096.9L1940.9 1098.2L1939.5 1096.5L1939.1 1097.9L1938.4 1104.0L1936.6 1095.5L1936.6 1097.9L1936.6 1100.5L1935.6 1100.1L1934.3 1098.6L1934.3 1101.4L1932.9 1099.4L1931.8 1098.7L1931.8 1101.3L1931.5 1103.3L1930.2 1101.6L1929.1 1101.0L1928.7 1102.2L1926.6 1098.0L1926.5 1100.3L1925.9 1101.2L1925.2 1101.7L1924.5 1102.1L1923.6 1102.1L1922.6 1101.4L1921.8 1101.5L1921.1 1101.9L1920.1 1113.3L1919.7 1102.9L1919.3 1104.4L1918.1 1103.2L1917.2 1103.1L1916.6 1103.8L1916.0 1104.5L1915.1 1104.5L1914.6 1105.7L1914.1 1107.0L1912.9 1105.6L1912.8 1108.1L1910.8 1103.7L1910.7 1106.5L1909.8 1106.5L1909.1 1106.9L1907.8 1105.0L1907.3 1106.3L1906.8 1107.4L1904.9 1103.2L1904.5 1104.8L1904.1 1106.8L1903.4 1107.3L1902.7 1107.6L1902.1 1108.7L1901.7 1110.2L1900.2 1107.7L1899.3 1107.3L1899.2 1110.1L1898.7 1111.3L1897.1 1108.4L1896.5 1109.3L1895.4 1108.3L1895.4 1111.4L1894.5 1111.3L1893.2 1109.2L1892.4 1109.4L1891.3 1108.4L1891.4 1112.0L1890.3 1111.2L1889.6 1111.3L1888.3 1109.5L1887.9 1111.1L1886.8 1110.1L1886.6 1112.9L1885.6 1112.0L1884.6 1111.4L1884.4 1113.9L1883.4 1113.0L1882.4 1102.7L1882.1 1100.2L1880.5 1111.5L1880.2 1113.4L1879.2 1112.9L1878.7 1114.2L1878.1 1115.2L1877.1 1109.8L1875.8 1112.6L1875.5 1114.6L1874.6 1114.3L1873.6 1114.0L1872.9 1114.3L1872.9 1117.2L1872.2 1117.5L1871.1 1116.6L1869.9 1115.7L1869.7 1117.5L1868.7 1117.0L1866.9 1114.4L1868.3 1120.5L1866.2 1117.3L1865.9 1118.6L1864.9 1118.4L1863.4 1116.7L1862.3 1116.3L1862.8 1119.6L1861.7 1119.0L1861.0 1119.3L1860.1 1119.2L1859.5 1121.1L1859.2 1121.3L1857.9 1120.3L1857.6 1121.7L1856.8 1121.8L1855.8 1121.6L1855.8 1123.4L1855.0 1129.8L1854.3 1124.0L1853.2 1134.7L1852.7 1124.3L1852.4 1125.5L1850.3 1123.2L1850.8 1126.0L1850.2 1126.5L1849.8 1124.1L1848.0 1125.7L1847.8 1127.1L1847.3 1127.9L1846.3 1127.7L1845.7 1128.1L1843.6 1126.0L1842.6 1125.9L1843.3 1128.7L1843.7 1131.1L1842.3 1130.2L1840.5 1128.9L1840.2 1130.0L1840.0 1131.1L1838.9 1130.9L1836.9 1129.2L1837.0 1131.0L1839.3 1135.5L1837.0 1133.7L1833.7 1131.0L1835.9 1134.7L1833.9 1133.8L1834.1 1135.1L1833.0 1135.4L1832.0 1135.8L1833.3 1137.4L1832.3 1137.8L1832.8 1138.9L1832.6 1139.7L1828.7 1138.8L1831.5 1141.0L1831.5 1141.9L1832.2 1143.2L1828.8 1142.2L1831.5 1144.6L1828.2 1143.8L1829.8 1145.5L1829.6 1146.3L1826.0 1146.5L1830.2 1148.3L1828.5 1148.4L1827.5 1148.8L1827.2 1149.6L1826.0 1149.9L1827.6 1151.5L1826.0 1151.7L1825.9 1152.5L1826.0 1153.5L1825.4 1154.1L1823.9 1154.2L1824.4 1155.4L1822.8 1155.4L1822.6 1156.2L1822.1 1156.8L1823.7 1158.7L1823.6 1159.6L1821.8 1159.4L1820.3 1156.8L1820.6 1160.6L1821.3 1162.0L1820.6 1162.5L1819.5 1161.5L1820.5 1164.3L1815.9 1162.3L1817.8 1164.5L1818.3 1165.8L1815.2 1164.8L1815.3 1165.9L1814.5 1166.4L1814.9 1167.5L1815.3 1168.6L1815.8 1169.8L1815.6 1170.6L1817.0 1172.4L1813.5 1171.3L1815.1 1173.1L1812.8 1172.7L1812.4 1173.5L1812.6 1174.5L1811.5 1163.7L1812.1 1176.0L1809.9 1175.9L1811.5 1167.6L1810.8 1178.1L1812.7 1179.7L1811.2 1179.9L1810.0 1180.3L1810.0 1181.2L1809.2 1181.8L1809.4 1182.7L1810.7 1183.8L1810.5 1184.5L1809.8 1185.2L1809.8 1186.0L1807.5 1186.5L1810.9 1187.7L1809.2 1188.3L1809.7 1189.2L1807.6 1189.8L1808.5 1190.6L1806.5 1191.3L1806.1 1192.1L1808.0 1193.0L1808.7 1193.9L1808.9 1194.7L1807.2 1195.4L1808.3 1196.3L1808.1 1197.1L1806.4 1197.7L1807.4 1198.6L1809.7 1199.6L1807.3 1200.2L1806.3 1200.9L1805.3 1201.6L1805.5 1202.5L1808.3 1203.5L1808.7 1204.3L1807.4 1205.0" fill="none" stroke="#3a66dd" stroke-width="2.0" stroke-linejoin="round"/>
<path d="M2125.8 1064.8L2124.9 1065.3L2125.4 1066.4L2124.3 1066.8L2125.0 1068.0L2123.1 1068.0L2123.7 1069.2L2123.0 1069.7L2125.0 1071.6L2120.0 1070.1L2122.4 1072.1L2120.8 1067.3L2122.6 1074.0L2122.3 1074.8L2120.8 1074.9L2122.0 1076.4L2121.4 1077.0L2119.3 1076.9L2120.2 1078.2L2118.2 1078.1L2117.8 1078.8L2118.6 1080.1L2118.0 1080.7L2117.8 1081.5L2118.6 1083.0L2117.0 1082.9L2115.8 1083.1L2114.8 1083.4L2115.5 1084.9L2112.9 1083.9L2114.2 1085.9L2113.8 1099.0L2114.3 1088.0L2114.0 1088.7L2114.0 1089.8L2112.1 1089.4L2112.1 1090.4L2111.0 1090.5L2111.3 1091.8L2110.1 1091.8L2110.3 1093.1L2111.0 1106.4L2110.1 1095.1L2108.0 1094.3L2106.9 1094.4L2107.1 1095.7L2103.6 1093.6L2105.3 1096.2L2106.4 1098.3L2104.1 1097.3L2104.0 1098.2L2104.6 1099.9L2104.0 1100.4L2102.7 1100.3L2100.8 1099.7L2100.0 1100.1L2101.6 1111.1L2100.8 1102.9L2099.4 1102.7L2099.5 1103.9L2098.3 1103.9L2096.5 1103.3L2099.2 1107.1L2095.2 1104.1L2097.0 1107.2L2095.2 1106.4L2095.7 1108.2L2093.1 1106.5L2093.7 1108.3L2093.3 1109.1L2092.5 1109.4L2092.2 1110.3L2090.2 1108.8L2091.4 1112.2L2091.4 1113.7L2089.3 1111.8L2088.9 1112.8L2088.3 1113.3L2086.4 1111.5L2087.0 1114.2L2086.6 1115.3L2085.2 1114.3L2084.2 1099.7L2083.9 1115.3L2083.2 1115.6L2082.9 1116.7L2082.1 1116.9L2079.7 1114.7L2080.0 1116.6L2078.7 1116.1L2079.8 1119.0L2078.5 1118.6L2078.4 1119.8L2077.0 1119.3L2076.7 1120.2L2074.8 1119.3L2075.7 1121.5L2074.1 1105.5L2074.9 1122.9L2074.5 1123.7L2072.2 1122.5L2073.4 1124.8L2071.2 1123.8L2070.3 1124.0L2072.8 1127.7L2071.2 1127.2L2069.0 1126.0L2068.7 1124.2L2067.8 1125.6L2068.2 1128.7L2067.6 1129.4L2065.1 1127.6L2065.6 1129.5L2066.4 1131.8L2064.6 1130.8L2064.6 1132.2L2063.6 1132.2L2061.4 1130.3L2061.7 1132.1L2061.0 1132.6L2060.0 1132.5L2060.5 1134.9L2059.1 1134.0L2058.2 1134.1L2057.6 1134.8L2057.0 1135.2L2056.5 1135.9L2055.7 1136.2L2056.3 1139.0L2053.8 1136.1L2053.8 1137.7L2053.5 1138.8L2052.3 1138.4L2050.2 1136.5L2049.8 1137.4L2049.9 1170.8L2048.5 1138.4L2049.5 1142.2L2048.7 1141.7L2046.8 1142.8L2047.2 1142.3L2046.2 1142.3L2045.7 1137.8L2044.0 1141.8L2044.1 1143.4L2042.1 1141.9L2043.3 1145.1L2040.8 1143.0L2042.4 1146.5L2041.7 1146.9L2039.9 1163.6L2039.7 1146.9L2038.4 1146.5L2037.6 1146.9L2036.9 1147.2L2038.7 1150.8L2034.9 1147.4L2035.6 1149.5L2034.7 1149.7L2034.1 1150.2L2034.1 1151.5L2034.0 1152.6L2032.5 1152.0L2031.7 1152.4L2032.1 1154.0L2031.5 1154.5L2029.7 1157.6L2029.4 1154.7L2029.5 1155.9L2029.0 1169.3L2026.9 1155.5L2028.4 1158.3L2025.7 1156.5L2027.6 1159.8L2024.4 1157.5L2025.1 1159.5L2025.3 1160.8L2022.1 1158.6L2023.2 1160.9L2022.6 1161.5L2022.9 1163.0L2021.6 1162.8L2020.2 1162.4L2020.3 1163.7L2019.2 1163.8L2018.8 1164.2L2017.9 1164.7L2018.0 1166.0L2016.8 1173.2L2017.6 1167.9L2017.6 1168.9L2015.0 1167.5L2014.6 1168.3L2013.6 1168.5L2013.1 1169.2L2012.8 1170.0L2013.4 1171.5L2014.6 1173.7L2010.8 1171.4L2009.8 1171.6L2010.4 1173.2L2010.6 1174.5L2010.0 1175.0L2007.7 1174.1L2010.1 1177.1L2008.4 1176.8L2010.0 1179.0L2010.2 1180.1L2005.2 1177.5L2006.8 1179.6L2007.1 1180.6L2004.6 1180.1L2005.9 1181.7L2003.6 1181.5L2003.5 1187.1L2004.3 1183.6L2006.2 1185.0L2002.2 1184.7L2000.5 1185.1L2003.8 1186.8L2001.9 1187.2L2002.9 1188.2L2003.0 1189.0L2001.4 1189.6L2003.6 1190.7L2002.3 1191.4L2002.4 1192.2L2003.2 1193.1L2001.6 1193.7L2000.1 1194.3L2002.7 1195.5L2000.9 1196.1L2001.1 1196.9L2002.8 1197.9L2001.0 1198.5L2003.2 1199.5L2001.2 1200.2L2000.5 1201.0L2001.8 1201.8L2001.3 1202.6L2001.4 1203.4L2000.3 1204.2L2001.9 1205.0" fill="none" stroke="#3a66dd" stroke-width="2.0" stroke-linejoin="round"/>
<path d="M2126.1 1030.4L2124.9 1034.3L2124.5 1033.3L2122.8 1034.2L2122.7 1032.7L2121.7 1032.6L2121.2 1031.7L2120.4 1031.1L2119.3 1031.6L2118.7 1030.4L2117.6 1031.0L2116.9 1030.1L2116.1 1029.5L2114.9 1031.0L2114.0 1030.9L2113.2 1030.1L2112.5 1029.0L2111.6 1028.9L2110.6 1029.2L2109.6 1029.8L2108.7 1029.6L2108.0 1027.9L2107.0 1028.7L2106.1 1028.6L2105.1 1029.7L2104.4 1027.7L2103.5 1028.1L2102.3 1030.6L2101.6 1028.5L2100.7 1028.3L2099.8 1028.7L2098.9 1028.1L2098.0 1027.5L2097.1 1027.6L2096.2 1027.2L2095.3 1027.3L2094.4 1028.1L2093.5 1028.0L2092.6 1029.0L2091.7 1028.4L2090.8 1029.1L2089.9 1028.5L2088.9 1027.9L2088.1 1028.8L2087.1 1027.5L2086.2 1028.3L2085.4 1028.8L2084.5 1029.5L2083.5 1028.7L2082.7 1028.9L2081.9 1029.9L2080.9 1029.1L2079.8 1027.5L2079.2 1030.6L2078.3 1030.3L2077.1 1028.5L2076.4 1030.1L2075.4 1029.4L2074.7 1030.4L2073.8 1030.7L2072.9 1030.9L2071.9 1030.3L2070.9 1029.6L2070.2 1031.0L2069.3 1030.9L2068.3 1030.5L2067.4 1030.4L2066.6 1031.1L2065.7 1031.7L2064.7 1030.8L2064.0 1032.1L2063.0 1031.6L2062.2 1032.3L2061.2 1031.7L2060.3 1032.1L2059.5 1032.7L2058.7 1033.4L2057.6 1032.1L2056.9 1033.3L2056.1 1033.9L2055.2 1034.0L2054.1 1033.2L2053.4 1034.3L2052.5 1034.2L2051.5 1034.0L2050.7 1034.6L2049.6 1033.5L2048.7 1033.8L2047.9 1040.5L2047.2 1035.3L2046.4 1036.1L2045.4 1035.6L2044.5 1036.0L2043.5 1035.4L2042.8 1036.3L2041.8 1036.2L2040.7 1035.5L2040.1 1036.6L2039.4 1037.7L2038.3 1037.1L2037.3 1039.7L2036.4 1036.9L2035.6 1037.5L2034.5 1036.3L2034.0 1038.7L2032.9 1037.8L2032.0 1037.6L2031.3 1038.6L2030.2 1037.9L2029.5 1039.2L2028.6 1039.0L2027.5 1038.1L2026.4 1037.5L2025.9 1039.6L2024.9 1039.2L2023.9 1038.8L2023.2 1039.6L2022.5 1040.6L2021.4 1039.8L2020.5 1040.0L2019.5 1039.6L2018.8 1040.8L2017.7 1040.1L2017.1 1041.2L2016.3 1041.9L2015.3 1041.5L2014.0 1040.0L2013.5 1041.7L2012.8 1042.8L2011.8 1042.6L2010.9 1042.7L2010.0 1042.8L2009.2 1043.3L2008.3 1043.3L2007.3 1043.3L2006.3 1042.8L2005.6 1043.6L2005.2 1046.0L2004.0 1044.7L2003.0 1044.4L2002.0 1044.1L2001.0 1043.8L2000.4 1045.0L1999.6 1045.7L1998.7 1045.9L1997.7 1045.7L1996.8 1045.9L1996.1 1046.7L1995.0 1046.1L1994.1 1045.9L1993.3 1046.4L1992.3 1046.2L1991.5 1047.0L1990.6 1047.0L1989.9 1047.9L1989.0 1047.9L1988.0 1047.8L1986.9 1046.9L1986.1 1047.5L1985.4 1048.4L1984.4 1048.3L1983.5 1048.1L1982.9 1049.4L1981.7 1048.6L1980.7 1048.4L1980.1 1049.4L1979.2 1060.1L1978.4 1050.1L1977.4 1049.9L1976.6 1050.2L1975.9 1051.2L1974.8 1050.6L1973.8 1048.1L1972.9 1050.4L1972.0 1050.6L1971.0 1052.4L1970.1 1050.5L1969.4 1051.4L1968.5 1051.7L1967.4 1050.9L1966.9 1052.3L1966.1 1053.1L1965.3 1053.6L1964.1 1052.6L1963.5 1054.0L1962.9 1055.1L1961.3 1052.6L1960.8 1054.3L1959.8 1053.9L1959.2 1055.2L1958.2 1055.1L1957.2 1054.7L1956.6 1055.8L1955.4 1055.4L1954.6 1055.6L1953.6 1055.2L1953.1 1057.0L1952.0 1056.0L1950.8 1055.2L1950.0 1055.8L1949.5 1057.5L1948.4 1056.5L1947.6 1057.4L1946.8 1057.9L1946.2 1059.1L1944.9 1057.6L1944.2 1058.3L1943.4 1059.0L1942.5 1059.2L1941.2 1057.7L1940.6 1058.8L1939.7 1059.3L1939.2 1060.9L1937.9 1059.3L1936.9 1058.9L1936.3 1060.5L1935.3 1059.9L1934.6 1061.2L1933.7 1061.3L1932.6 1060.5L1932.1 1062.2L1931.1 1061.7L1930.0 1061.2L1929.0 1061.0L1928.4 1062.4L1927.6 1062.7L1926.5 1061.9L1925.6 1064.0L1925.0 1063.0L1924.4 1064.7L1923.0 1063.0L1922.0 1062.5L1921.5 1064.6L1920.6 1064.7L1919.5 1063.8L1918.6 1064.0L1917.8 1064.3L1916.9 1064.8L1916.2 1065.6L1915.1 1064.7L1914.3 1065.4L1913.6 1066.3L1912.6 1065.9L1911.5 1065.2L1910.8 1066.3L1909.9 1066.5L1909.0 1066.6L1907.9 1065.8L1907.2 1066.8L1906.1 1065.9L1905.5 1067.4L1904.7 1067.8L1903.9 1068.3L1903.0 1068.5L1901.9 1068.0L1901.5 1069.8L1900.4 1070.6L1899.5 1069.4L1899.0 1071.1L1897.7 1069.5L1896.8 1069.7L1896.0 1070.4L1895.0 1070.1L1894.4 1071.3L1893.6 1071.8L1892.4 1071.0L1891.7 1071.5L1891.1 1072.6L1890.0 1072.1L1889.4 1073.3L1888.4 1073.2L1886.9 1071.6L1886.2 1072.5L1885.5 1073.1L1884.8 1073.7L1883.4 1072.7L1883.3 1074.9L1882.1 1074.2L1881.5 1075.2L1880.9 1076.1L1879.6 1075.4L1878.9 1076.0L1878.4 1077.1L1877.4 1077.2L1876.4 1077.0L1875.3 1077.0L1874.8 1078.0L1874.5 1079.4L1873.1 1078.6L1872.2 1078.9L1872.0 1080.5L1871.1 1080.7L1869.5 1079.5L1869.3 1081.0L1868.1 1080.8L1867.7 1082.0L1867.0 1082.5L1865.8 1082.2L1865.4 1083.4L1864.0 1082.6L1863.7 1084.0L1862.6 1083.9L1861.8 1084.3L1861.3 1085.2L1861.2 1086.4L1859.8 1086.3L1859.0 1086.7L1857.5 1085.6L1856.9 1086.5L1856.3 1087.3L1855.6 1087.9L1854.5 1087.9L1853.4 1087.6L1853.0 1088.9L1852.7 1090.2L1851.1 1089.2L1850.9 1090.6L1850.3 1091.5L1849.7 1092.2L1848.6 1092.1L1847.8 1092.6L1847.4 1093.6L1845.6 1092.4L1845.5 1094.0L1844.8 1094.6L1844.0 1094.9L1843.5 1095.8L1842.8 1093.9L1841.6 1096.2L1840.3 1095.8L1840.1 1097.2L1839.2 1097.4L1838.8 1098.5L1838.4 1099.4L1836.5 1098.5L1836.9 1100.4L1835.4 1100.1L1835.3 1101.2L1833.5 1100.7L1833.6 1102.1L1833.7 1103.5L1832.3 1103.4L1832.0 1104.4L1831.4 1105.0L1831.9 1106.6L1829.2 1105.5L1828.8 1106.4L1829.2 1107.9L1829.1 1108.9L1828.5 1109.5L1827.3 1109.8L1827.2 1110.8L1826.9 1111.7L1825.3 1111.8L1826.5 1113.6L1825.0 1113.7L1824.3 1114.3L1824.1 1115.2L1822.9 1115.6L1823.5 1117.0L1823.1 1117.8L1821.9 1118.1L1821.9 1119.2L1822.1 1120.3L1822.2 1121.4L1821.3 1121.9L1819.9 1113.7L1820.5 1123.5L1819.0 1123.8L1818.7 1124.6L1817.9 1125.2L1817.4 1126.0L1817.4 1127.0L1816.5 1127.6L1817.1 1128.9L1816.0 1129.4L1816.3 1130.5L1816.5 1131.6L1815.2 1132.0L1814.7 1132.8L1814.1 1133.5L1814.2 1134.5L1815.2 1135.9L1813.4 1136.2L1813.3 1137.1L1813.1 1138.0L1813.1 1138.9L1811.7 1139.4L1811.6 1140.3L1812.0 1141.4L1811.5 1142.2L1811.9 1143.3L1811.3 1144.8L1811.4 1145.0L1810.7 1145.7L1809.5 1146.3L1809.3 1147.2L1809.6 1148.2L1808.9 1149.0L1808.8 1149.9L1808.9 1150.8L1807.9 1151.5L1808.4 1152.6L1808.5 1153.5L1809.3 1154.6L1807.7 1155.2L1807.7 1156.1L1807.5 1157.0L1807.2 1157.9L1807.5 1158.9L1807.0 1159.7L1807.5 1158.9L1807.4 1161.6L1807.6 1162.6L1805.8 1163.1L1805.8 1164.0L1806.0 1165.0L1806.3 1166.0L1807.2 1167.1L1805.0 1167.5L1804.7 1168.4L1804.6 1169.3L1804.2 1170.1L1804.3 1171.1L1806.0 1172.3L1805.7 1173.2L1803.4 1173.7L1803.2 1174.6L1805.0 1175.8L1804.7 1176.7L1803.2 1177.3L1803.6 1178.3L1803.4 1179.2L1803.4 1180.1L1803.7 1181.1L1803.4 1181.9L1803.2 1182.8L1801.7 1183.4L1801.2 1184.3L1802.2 1185.4L1803.0 1186.5L1801.3 1187.0L1801.5 1188.0L1802.6 1189.1L1801.2 1189.8L1801.8 1190.8L1800.0 1191.4L1801.9 1192.7L1800.4 1193.3L1800.2 1194.2L1799.1 1194.9L1799.7 1195.9L1800.5 1197.0L1799.9 1197.8L1799.8 1198.7L1800.6 1199.7L1800.3 1200.5L1799.7 1201.4L1800.7 1202.3L1799.8 1203.2L1801.3 1204.2L1800.1 1205.0" fill="none" stroke="#3fae62" stroke-width="1.9" stroke-linejoin="round"/>
<path d="M2125.8 1034.7L2124.6 1035.2L2124.0 1035.9L2124.7 1037.2L2124.3 1038.0L2123.7 1038.8L2124.7 1040.2L2123.2 1040.5L2123.3 1041.6L2122.4 1042.2L2121.8 1042.9L2121.6 1043.8L2122.3 1045.1L2120.2 1045.2L2121.9 1046.9L2119.1 1046.7L2120.5 1048.3L2120.0 1049.0L2118.7 1049.4L2118.4 1050.3L2118.5 1051.3L2117.6 1051.9L2117.9 1053.1L2117.7 1054.0L2116.7 1054.5L2116.6 1055.5L2115.6 1056.0L2115.4 1056.9L2115.0 1057.7L2115.6 1059.0L2113.3 1058.8L2113.9 1060.2L2114.0 1061.3L2114.1 1062.4L2111.6 1062.0L2112.5 1063.6L2112.8 1064.8L2111.5 1065.1L2111.0 1065.8L2110.9 1066.9L2109.4 1067.0L2109.5 1068.2L2108.5 1068.5L2108.8 1069.8L2110.1 1071.8L2108.0 1071.5L2106.7 1071.7L2105.8 1072.2L2104.7 1072.5L2104.7 1073.6L2105.1 1075.1L2104.2 1075.5L2103.9 1076.4L2103.9 1077.6L2102.1 1077.3L2101.6 1078.1L2101.3 1079.0L2101.3 1080.2L2100.6 1080.8L2098.9 1080.6L2098.5 1081.4L2098.4 1082.5L2098.0 1083.4L2096.2 1083.0L2096.5 1084.4L2095.7 1085.0L2095.4 1085.8L2094.4 1086.2L2094.9 1087.9L2093.1 1087.5L2093.3 1088.9L2092.4 1089.3L2091.5 1089.6L2091.2 1090.7L2089.6 1090.2L2089.6 1091.7L2090.0 1093.6L2087.6 1091.9L2087.6 1093.4L2086.9 1094.0L2085.6 1093.2L2085.8 1095.6L2083.7 1094.2L2083.9 1096.1L2082.8 1096.1L2082.3 1096.3L2081.4 1097.3L2080.5 1097.6L2080.0 1098.4L2079.6 1099.4L2078.3 1099.3L2078.4 1100.7L2078.0 1101.7L2076.6 1101.5L2076.4 1102.6L2075.3 1102.7L2074.6 1103.3L2074.6 1104.7L2072.8 1104.0L2072.0 1104.6L2073.0 1106.9L2070.6 1105.7L2070.8 1107.3L2069.4 1107.0L2070.6 1109.7L2068.4 1108.7L2068.4 1109.9L2068.0 1111.0L2066.0 1110.1L2065.9 1111.3L2065.7 1112.4L2064.4 1112.3L2065.0 1114.5L2062.6 1112.9L2062.6 1114.4L2062.2 1115.3L2060.7 1114.9L2060.8 1116.5L2059.8 1116.7L2057.5 1115.4L2058.0 1117.3L2057.0 1117.6L2056.6 1118.5L2056.0 1119.3L2055.8 1120.4L2054.4 1120.1L2054.0 1121.0L2053.3 1121.6L2051.4 1120.5L2051.0 1121.4L2051.5 1123.9L2050.4 1123.7L2049.1 1123.3L2049.6 1126.0L2048.2 1125.5L2046.9 1124.9L2046.4 1125.9L2045.0 1125.1L2044.9 1126.9L2043.8 1126.7L2043.8 1129.0L2041.5 1126.1L2040.8 1126.7L2040.7 1128.6L2040.4 1130.1L2039.3 1129.9L2038.6 1130.5L2037.2 1129.8L2035.9 1129.5L2036.4 1132.0L2035.0 1131.5L2034.4 1132.2L2034.0 1133.4L2033.1 1133.6L2032.4 1134.2L2031.4 1134.3L2030.4 1134.4L2029.1 1134.1L2028.6 1134.9L2028.5 1136.4L2027.8 1137.0L2026.0 1136.1L2025.7 1137.3L2025.8 1138.8L2024.1 1138.1L2023.8 1139.3L2022.1 1138.8L2022.8 1140.8L2021.3 1140.6L2020.4 1141.0L2020.3 1142.2L2019.9 1143.1L2019.8 1144.2L2018.7 1144.5L2018.4 1145.4L2017.8 1146.1L2016.6 1146.3L2016.7 1147.5L2017.1 1148.9L2015.3 1148.7L2015.3 1149.8L2015.0 1150.7L2013.4 1150.8L2013.7 1152.0L2012.9 1152.6L2013.3 1153.9L2012.3 1154.4L2012.0 1155.2L2010.2 1155.3L2010.6 1156.5L2011.1 1157.8L2010.1 1158.3L2008.8 1158.7L2009.6 1160.1L2007.8 1160.2L2007.4 1161.1L2007.0 1161.9L2006.5 1162.7L2006.5 1163.6L2007.1 1164.9L2006.4 1165.6L2006.8 1166.8L2006.3 1167.5L2005.5 1168.2L2006.9 1169.8L2004.1 1169.5L2004.7 1170.8L2002.9 1171.0L2003.4 1172.2L2002.6 1172.8L2001.3 1173.3L2002.2 1174.6L2002.6 1175.8L2003.4 1177.1L2002.2 1177.6L2001.8 1178.4L2001.7 1179.3L2001.8 1180.3L2001.1 1192.4L2000.7 1181.8L1998.7 1182.2L2000.0 1183.5L1999.6 1184.3L1999.0 1185.1L1999.6 1186.2L1999.5 1187.1L1999.5 1188.0L1999.0 1188.8L1998.3 1189.6L1998.6 1190.6L1997.7 1191.4L1997.3 1192.2L1998.3 1193.3L1997.9 1194.2L1997.8 1195.1L1997.1 1195.9L1997.4 1196.8L1997.8 1197.8L1996.7 1198.6L1997.0 1199.5L1996.2 1200.4L1996.3 1201.3L1997.3 1202.3L1998.5 1203.3L1996.8 1204.1L1996.7 1205.0" fill="none" stroke="#3fae62" stroke-width="1.9" stroke-linejoin="round"/>
<path d="M2125.0 957.7L2124.1 957.2L2123.0 956.4L2121.8 955.5L2120.3 954.5L2118.8 953.5L2117.1 952.5L2115.3 951.5L2113.5 950.6L2111.5 949.8L2109.6 949.3L2107.6 948.9L2105.5 948.7L2103.2 948.6L2100.9 948.5L2098.5 948.5L2096.1 948.6L2093.6 948.7L2091.0 948.9L2088.5 949.1L2085.9 949.3L2083.3 949.5L2080.8 949.8L2078.3 950.1L2075.7 950.5L2073.0 950.9L2070.3 951.3L2067.5 951.8L2064.5 952.3L2061.3 952.9L2057.9 953.5L2054.3 954.2L2050.4 954.9L2046.3 955.7L2042.1 956.6L2037.8 957.4L2033.4 958.3L2028.9 959.2L2024.5 960.2L2020.2 961.0L2015.9 961.9L2011.7 962.7L2007.5 963.6L2003.3 964.4L1999.1 965.3L1994.9 966.1L1990.7 966.9L1986.5 967.8L1982.3 968.6L1978.1 969.5L1973.9 970.3L1969.7 971.2L1965.4 972.0L1961.1 972.9L1956.8 973.8L1952.5 974.7L1948.2 975.5L1944.0 976.4L1939.9 977.2L1935.9 978.0L1932.0 978.7L1928.2 979.4L1924.4 980.0L1920.7 980.6L1917.1 981.2L1913.5 981.8L1910.1 982.3L1906.8 982.8L1903.7 983.3L1900.7 983.8L1898.0 984.3L1895.6 984.8L1893.4 985.2L1891.5 985.6L1889.7 985.9L1888.1 986.3L1886.5 986.7L1885.0 987.1L1883.4 987.5L1881.7 988.0L1879.8 988.5L1877.8 989.1L1875.6 989.7L1873.4 990.4L1871.1 991.2L1868.8 991.9L1866.5 992.7L1864.4 993.4L1862.3 994.1L1860.5 994.8L1858.8 995.5L1857.4 996.1L1856.1 996.6L1855.0 997.2L1854.0 997.6L1853.1 998.1L1852.3 998.6L1851.5 999.2L1850.7 999.7L1849.9 1000.4L1849.0 1001.1L1848.1 1001.9L1847.2 1002.8L1846.2 1003.8L1845.3 1004.8L1844.4 1005.8L1843.6 1006.8L1842.8 1007.9L1842.0 1008.9L1841.3 1009.9L1840.6 1010.9L1840.0 1011.8L1839.5 1012.8L1839.1 1013.7L1838.7 1014.7L1838.4 1015.6L1838.0 1016.5L1837.7 1017.4L1837.3 1018.3L1837.0 1019.1L1836.5 1020.0L1836.0 1020.8L1835.5 1021.5L1835.0 1022.2L1834.4 1022.9L1833.9 1023.6L1833.3 1024.3L1832.7 1025.0L1832.1 1025.8L1831.5 1026.7L1830.9 1027.7L1830.3 1028.8L1829.6 1029.9L1829.0 1031.0L1828.3 1032.2L1827.7 1033.5L1827.0 1034.9L1826.2 1036.3L1825.5 1037.8L1824.7 1039.3L1823.9 1041.0L1823.0 1042.8L1822.1 1044.7L1821.2 1046.7L1820.2 1048.8L1819.2 1051.0L1818.2 1053.2L1817.1 1055.5L1816.1 1057.7L1815.1 1059.9L1814.1 1062.0L1813.1 1064.1L1812.1 1066.2L1811.1 1068.3L1810.1 1070.4L1809.1 1072.5L1808.1 1074.6L1807.1 1076.7L1806.2 1078.8L1805.2 1080.9L1804.3 1083.0L1803.4 1085.1L1802.6 1087.3L1801.8 1089.4L1801.0 1091.6L1800.2 1093.7L1799.4 1095.8L1798.6 1097.9L1797.7 1100.0L1796.8 1102.0L1795.9 1103.9L1794.9 1105.8L1793.9 1107.6L1792.9 1109.4L1791.9 1111.2L1790.8 1112.9L1789.7 1114.6L1788.6 1116.2L1787.3 1117.8L1786.1 1119.3L1784.7 1120.7L1783.3 1122.0L1781.8 1123.3L1780.2 1124.5L1778.6 1125.6L1776.9 1126.7L1775.2 1127.7L1773.4 1128.7L1771.6 1129.7L1769.8 1130.8L1767.9 1131.9L1766.0 1133.0L1764.0 1134.1L1761.9 1135.3L1759.8 1136.4L1757.7 1137.5L1755.5 1138.6L1753.3 1139.7L1751.2 1140.9L1749.0 1142.0L1746.9 1143.1L1744.8 1144.2L1742.6 1145.3L1740.5 1146.4L1738.3 1147.5L1736.1 1148.6L1734.0 1149.7L1731.9 1150.8L1729.8 1152.0L1727.8 1153.1L1725.9 1154.3L1724.0 1155.5L1722.1 1156.7L1720.3 1157.9L1718.5 1159.2L1716.7 1160.4L1715.0 1161.7L1713.4 1163.0L1711.9 1164.3L1710.4 1165.6L1709.1 1166.9L1707.9 1168.2L1706.8 1169.6L1705.9 1171.0L1705.0 1172.3L1704.2 1173.7L1703.4 1175.1L1702.7 1176.6L1702.1 1178.0L1701.4 1179.4L1700.7 1180.9L1700.0 1182.4L1699.3 1184.0L1698.7 1185.6L1698.1 1187.3L1697.5 1188.9L1697.0 1190.6L1696.4 1192.1L1696.0 1193.6L1695.6 1195.0L1695.2 1196.3L1694.9 1197.5L1694.7 1198.6L1694.5 1199.7L1694.4 1200.7L1694.3 1201.6L1694.2 1202.5L1694.1 1203.2L1694.1 1203.9L1694.1 1204.5L1694.0 1205.0" fill="none" stroke="#a67ee0" stroke-width="1.9" stroke-linejoin="round"/>
<path d="M2125.0 957.7L2124.8 958.7L2124.5 960.0L2124.1 961.5L2123.8 963.2L2123.3 965.1L2122.9 967.0L2122.4 969.1L2121.9 971.3L2121.4 973.6L2120.8 975.9L2120.2 978.4L2119.6 981.1L2118.9 984.0L2118.1 987.0L2117.4 990.0L2116.6 993.1L2115.9 996.1L2115.2 998.9L2114.5 1001.5L2113.8 1003.9L2113.2 1005.8L2112.7 1007.4L2112.3 1008.6L2111.9 1009.6L2111.5 1010.6L2111.1 1011.8L2110.5 1013.1L2109.9 1014.9L2109.1 1017.1L2108.2 1020.0L2107.1 1023.6L2105.8 1027.7L2104.4 1032.3L2102.9 1037.2L2101.2 1042.5L2099.6 1047.8L2097.9 1053.3L2096.2 1058.7L2094.5 1064.0L2092.9 1069.0L2091.3 1074.0L2089.7 1079.0L2088.0 1084.1L2086.4 1089.2L2084.7 1094.3L2083.0 1099.3L2081.3 1104.3L2079.6 1109.0L2077.8 1113.6L2076.1 1117.9L2074.3 1122.0L2072.6 1125.9L2070.8 1129.6L2069.0 1133.1L2067.2 1136.5L2065.3 1139.9L2063.5 1143.1L2061.7 1146.4L2059.8 1149.6L2057.9 1152.9L2056.0 1156.2L2053.9 1159.6L2051.9 1163.0L2049.8 1166.4L2047.7 1169.7L2045.6 1172.9L2043.6 1175.9L2041.7 1178.8L2039.9 1181.4L2038.3 1183.7L2036.8 1185.7L2035.5 1187.4L2034.2 1188.9L2033.0 1190.2L2031.9 1191.4L2030.9 1192.4L2029.9 1193.4L2028.9 1194.3L2028.0 1195.3L2027.1 1196.3L2026.2 1197.4L2025.3 1198.4L2024.4 1199.5L2023.6 1200.5L2022.8 1201.4L2022.1 1202.3L2021.5 1203.2L2020.9 1203.9L2020.4 1204.5L2020.0 1205.0" fill="none" stroke="#a67ee0" stroke-width="1.9" stroke-linejoin="round"/>
<path d="M2125.0 931.1L2124.5 930.8L2123.9 930.3L2123.1 929.8L2122.3 929.2L2121.4 928.5L2120.5 927.9L2119.5 927.2L2118.5 926.6L2117.5 926.0L2116.6 925.5L2115.7 925.0L2114.9 924.6L2114.1 924.2L2113.3 923.7L2112.5 923.4L2111.6 923.0L2110.6 922.7L2109.5 922.4L2108.2 922.2L2106.8 922.0L2105.2 921.9L2103.4 921.8L2101.6 921.7L2099.6 921.7L2097.5 921.8L2095.3 921.9L2093.0 922.0L2090.7 922.2L2088.3 922.4L2085.9 922.7L2083.5 923.0L2081.0 923.4L2078.5 923.9L2075.9 924.4L2073.2 924.9L2070.4 925.5L2067.6 926.2L2064.5 926.8L2061.3 927.5L2057.9 928.3L2054.3 929.1L2050.4 930.0L2046.3 931.0L2042.1 932.0L2037.8 933.0L2033.4 934.1L2028.9 935.1L2024.5 936.2L2020.2 937.2L2015.9 938.1L2011.7 939.0L2007.5 939.9L2003.3 940.8L1999.1 941.6L1994.9 942.5L1990.7 943.3L1986.5 944.1L1982.3 944.9L1978.1 945.7L1973.9 946.5L1969.7 947.3L1965.4 948.0L1961.1 948.8L1956.8 949.6L1952.5 950.3L1948.2 951.0L1944.0 951.7L1939.9 952.3L1935.9 952.9L1932.0 953.5L1928.2 954.0L1924.4 954.4L1920.7 954.8L1917.1 955.2L1913.5 955.5L1910.1 955.8L1906.8 956.1L1903.7 956.4L1900.7 956.7L1898.0 957.0L1895.6 957.3L1893.4 957.6L1891.5 957.9L1889.7 958.2L1888.1 958.4L1886.5 958.7L1885.0 959.1L1883.4 959.5L1881.7 960.0L1879.8 960.5L1877.8 961.1L1875.7 961.8L1873.5 962.6L1871.3 963.4L1869.0 964.2L1866.8 965.1L1864.7 966.0L1862.6 967.0L1860.6 967.9L1858.8 968.9L1857.1 969.9L1855.5 970.9L1854.0 972.0L1852.6 973.0L1851.2 974.1L1849.9 975.3L1848.6 976.4L1847.3 977.6L1846.1 978.9L1844.8 980.1L1843.6 981.4L1842.4 982.7L1841.2 984.0L1840.1 985.4L1839.0 986.8L1837.9 988.2L1836.8 989.6L1835.8 991.1L1834.7 992.6L1833.7 994.1L1832.7 995.7L1831.6 997.2L1830.6 998.8L1829.6 1000.5L1828.6 1002.1L1827.6 1003.8L1826.7 1005.5L1825.7 1007.3L1824.8 1009.1L1823.9 1010.9L1823.1 1012.8L1822.3 1014.8L1821.5 1016.8L1820.8 1018.9L1820.1 1020.9L1819.3 1023.0L1818.6 1025.1L1817.8 1027.1L1816.9 1029.1L1816.0 1031.0L1815.0 1032.8L1814.0 1034.6L1812.9 1036.4L1811.8 1038.2L1810.6 1039.9L1809.4 1041.6L1808.2 1043.2L1806.9 1044.8L1805.6 1046.4L1804.3 1048.0L1802.9 1049.5L1801.5 1051.0L1800.1 1052.5L1798.7 1053.9L1797.2 1055.3L1795.6 1056.6L1794.0 1058.0L1792.4 1059.3L1790.7 1060.7L1788.9 1062.0L1787.0 1063.3L1785.1 1064.7L1783.0 1066.0L1780.9 1067.3L1778.8 1068.7L1776.6 1069.9L1774.4 1071.2L1772.2 1072.4L1770.0 1073.5L1767.9 1074.6L1765.8 1075.6L1763.7 1076.5L1761.5 1077.4L1759.4 1078.2L1757.2 1079.0L1755.1 1079.7L1753.0 1080.5L1750.9 1081.3L1748.9 1082.1L1746.9 1083.0L1744.9 1083.9L1743.0 1084.9L1741.0 1085.9L1739.1 1086.8L1737.2 1087.8L1735.3 1088.9L1733.6 1089.8L1731.8 1090.8L1730.2 1091.8L1728.7 1092.7L1727.3 1093.6L1726.0 1094.4L1724.8 1095.1L1723.6 1095.9L1722.6 1096.6L1721.5 1097.4L1720.5 1098.2L1719.5 1099.1L1718.5 1100.0L1717.5 1101.1L1716.5 1102.3L1715.4 1103.5L1714.4 1104.8L1713.3 1106.2L1712.3 1107.6L1711.4 1109.0L1710.4 1110.5L1709.5 1112.0L1708.6 1113.6L1707.7 1115.1L1706.9 1116.7L1706.1 1118.3L1705.3 1120.0L1704.6 1121.8L1703.8 1123.5L1703.2 1125.2L1702.5 1127.0L1701.9 1128.7L1701.3 1130.3L1700.7 1131.9L1700.2 1133.4L1699.7 1134.8L1699.2 1136.1L1698.8 1137.4L1698.4 1138.6L1698.1 1139.9L1697.7 1141.3L1697.3 1142.7L1697.0 1144.2L1696.6 1145.9L1696.2 1147.7L1695.8 1149.5L1695.5 1151.4L1695.1 1153.4L1694.7 1155.4L1694.4 1157.6L1694.0 1159.8L1693.7 1162.1L1693.4 1164.4L1693.1 1166.9L1692.8 1169.6L1692.6 1172.6L1692.3 1175.8L1692.1 1179.0L1691.9 1182.4L1691.7 1185.6L1691.5 1188.7L1691.3 1191.6L1691.1 1194.2L1691.0 1196.3L1690.9 1198.0L1690.8 1199.5L1690.7 1200.7L1690.7 1201.7L1690.6 1202.5L1690.6 1203.1L1690.6 1203.7L1690.5 1204.1L1690.5 1204.6L1690.5 1205.0" fill="none" stroke="#c49c2e" stroke-width="1.9" stroke-linejoin="round"/>
<path d="M2125.0 931.1L2124.7 932.3L2124.3 933.9L2123.8 935.7L2123.2 937.7L2122.6 939.9L2122.0 942.3L2121.4 944.7L2120.7 947.2L2120.0 949.7L2119.4 952.1L2118.8 954.5L2118.1 957.1L2117.4 959.7L2116.7 962.4L2116.0 965.1L2115.3 967.9L2114.5 970.6L2113.8 973.4L2113.1 976.1L2112.4 978.7L2111.7 981.3L2111.0 984.0L2110.3 986.6L2109.5 989.3L2108.8 992.0L2108.1 994.5L2107.4 997.1L2106.7 999.5L2106.0 1001.8L2105.4 1003.9L2104.8 1005.7L2104.3 1007.2L2103.9 1008.4L2103.5 1009.4L2103.1 1010.5L2102.6 1011.6L2102.1 1013.0L2101.5 1014.8L2100.8 1017.1L2099.9 1020.0L2098.8 1023.6L2097.6 1027.8L2096.3 1032.5L2094.9 1037.6L2093.4 1042.9L2091.9 1048.3L2090.4 1053.8L2088.8 1059.1L2087.3 1064.2L2085.9 1069.0L2084.5 1073.5L2083.1 1077.8L2081.7 1082.1L2080.3 1086.3L2078.9 1090.4L2077.5 1094.5L2076.1 1098.5L2074.7 1102.6L2073.3 1106.7L2071.9 1110.9L2070.5 1115.1L2069.1 1119.3L2067.7 1123.4L2066.3 1127.6L2064.9 1131.8L2063.5 1136.0L2062.1 1140.2L2060.7 1144.4L2059.3 1148.6L2057.9 1152.9L2056.4 1157.3L2054.9 1162.0L2053.3 1166.9L2051.7 1171.8L2050.1 1176.7L2048.6 1181.4L2047.2 1185.8L2045.9 1189.8L2044.8 1193.4L2043.9 1196.3L2043.2 1198.6L2042.7 1200.4L2042.4 1201.7L2042.2 1202.7L2042.1 1203.4L2042.0 1203.8L2042.0 1204.1L2042.1 1204.4L2042.1 1204.6L2042.0 1205.0" fill="none" stroke="#c49c2e" stroke-width="1.9" stroke-linejoin="round"/>
<path d="M2125.0 873.1L2124.5 873.0L2123.9 872.8L2123.3 872.6L2122.5 872.3L2121.7 872.1L2120.8 871.8L2119.8 871.5L2118.8 871.3L2117.7 871.1L2116.6 871.0L2115.5 870.9L2114.4 870.8L2113.3 870.6L2112.2 870.5L2111.0 870.4L2109.7 870.4L2108.2 870.4L2106.6 870.5L2104.7 870.7L2102.6 871.0L2100.3 871.4L2097.7 871.9L2095.0 872.5L2092.1 873.2L2089.0 873.9L2085.8 874.7L2082.5 875.5L2079.0 876.3L2075.5 877.2L2071.9 878.0L2068.2 878.9L2064.2 879.8L2060.1 880.8L2055.9 881.8L2051.6 882.8L2047.2 883.8L2042.9 884.9L2038.5 885.9L2034.2 886.9L2029.9 887.8L2025.7 888.7L2021.5 889.6L2017.3 890.5L2013.1 891.4L2008.9 892.3L2004.7 893.1L2000.5 893.9L1996.3 894.7L1992.1 895.5L1987.9 896.2L1983.7 896.9L1979.6 897.5L1975.5 898.1L1971.4 898.7L1967.3 899.3L1963.2 899.8L1959.0 900.3L1954.8 900.8L1950.4 901.3L1946.0 901.8L1941.3 902.3L1936.3 902.7L1931.1 903.1L1925.8 903.4L1920.5 903.8L1915.3 904.2L1910.4 904.6L1905.8 905.0L1901.6 905.5L1898.0 906.0L1895.0 906.6L1892.4 907.2L1890.2 907.9L1888.4 908.5L1886.8 909.2L1885.3 910.0L1884.0 910.7L1882.7 911.5L1881.3 912.2L1879.8 913.0L1878.2 913.8L1876.7 914.6L1875.3 915.3L1873.9 916.2L1872.5 917.0L1871.2 917.8L1869.9 918.7L1868.5 919.5L1867.2 920.4L1865.8 921.3L1864.4 922.2L1863.0 923.1L1861.5 924.0L1860.1 924.9L1858.6 925.8L1857.2 926.8L1855.8 927.8L1854.4 928.8L1853.1 929.9L1851.8 931.1L1850.6 932.3L1849.4 933.7L1848.2 935.1L1847.1 936.5L1846.0 938.0L1844.9 939.5L1843.9 941.0L1842.8 942.4L1841.7 943.8L1840.6 945.1L1839.5 946.3L1838.4 947.6L1837.3 948.8L1836.2 949.9L1835.1 951.0L1834.0 952.2L1832.9 953.2L1831.8 954.3L1830.7 955.3L1829.5 956.3L1828.3 957.3L1827.2 958.2L1826.1 959.0L1825.0 959.9L1823.8 960.7L1822.6 961.5L1821.3 962.3L1820.0 963.1L1818.5 963.9L1816.9 964.7L1815.1 965.6L1813.2 966.4L1811.2 967.3L1809.1 968.2L1806.9 969.1L1804.7 969.9L1802.5 970.8L1800.2 971.6L1798.0 972.4L1795.9 973.1L1793.8 973.8L1791.7 974.4L1789.6 975.0L1787.5 975.5L1785.4 976.1L1783.3 976.6L1781.2 977.1L1779.1 977.6L1777.0 978.2L1774.9 978.7L1772.7 979.3L1770.5 979.8L1768.2 980.4L1766.0 980.9L1763.7 981.5L1761.5 982.1L1759.4 982.6L1757.4 983.2L1755.5 983.7L1753.9 984.3L1752.4 984.8L1751.2 985.4L1750.0 985.9L1749.0 986.4L1748.0 986.9L1747.2 987.5L1746.4 988.0L1745.6 988.6L1744.9 989.2L1744.1 989.9L1743.4 990.6L1742.7 991.4L1742.2 992.1L1741.6 992.9L1741.1 993.8L1740.6 994.6L1740.2 995.5L1739.6 996.4L1739.1 997.3L1738.5 998.3L1737.9 999.3L1737.2 1000.4L1736.5 1001.5L1735.7 1002.6L1735.0 1003.7L1734.3 1004.9L1733.5 1006.1L1732.8 1007.2L1732.1 1008.4L1731.5 1009.5L1730.9 1010.6L1730.3 1011.8L1729.7 1012.9L1729.1 1014.1L1728.5 1015.2L1727.9 1016.4L1727.4 1017.5L1726.9 1018.6L1726.4 1019.7L1725.9 1020.7L1725.5 1021.7L1725.1 1022.5L1724.7 1023.4L1724.3 1024.1L1724.0 1024.9L1723.7 1025.7L1723.4 1026.6L1723.1 1027.6L1722.7 1028.7L1722.4 1030.0L1722.1 1031.4L1721.7 1032.9L1721.4 1034.4L1721.1 1036.1L1720.8 1037.8L1720.5 1039.7L1720.1 1041.6L1719.7 1043.6L1719.3 1045.8L1718.9 1048.0L1718.4 1050.4L1717.9 1052.8L1717.3 1055.4L1716.7 1058.1L1716.1 1060.9L1715.5 1063.8L1714.9 1066.8L1714.4 1069.8L1713.8 1072.9L1713.3 1076.0L1712.8 1079.2L1712.3 1082.5L1711.9 1086.0L1711.5 1089.5L1711.0 1093.0L1710.6 1096.6L1710.2 1100.2L1709.8 1103.8L1709.5 1107.4L1709.1 1110.9L1708.8 1114.3L1708.4 1117.6L1708.1 1120.9L1707.8 1124.2L1707.6 1127.4L1707.3 1130.8L1707.0 1134.3L1706.8 1137.9L1706.5 1141.8L1706.3 1145.9L1706.1 1150.5L1705.8 1155.7L1705.6 1161.2L1705.3 1167.0L1705.1 1172.7L1704.9 1178.4L1704.7 1183.8L1704.5 1188.6L1704.3 1192.9L1704.2 1196.3L1704.1 1198.9L1704.0 1200.8L1704.0 1202.2L1704.0 1203.2L1704.0 1203.8L1704.0 1204.1L1704.0 1204.3L1704.0 1204.5L1704.0 1204.7L1704.0 1205.0" fill="none" stroke="#52dcd0" stroke-width="1.9" stroke-linejoin="round"/>
<path d="M2125.0 873.1L2124.5 874.0L2123.9 875.2L2123.1 876.5L2122.3 878.0L2121.4 879.7L2120.5 881.4L2119.5 883.3L2118.5 885.2L2117.5 887.2L2116.6 889.2L2115.7 891.2L2114.7 893.4L2113.8 895.6L2112.8 898.0L2111.8 900.4L2110.8 902.8L2109.8 905.3L2108.8 907.9L2107.8 910.4L2106.8 913.0L2105.8 915.6L2104.8 918.3L2103.8 921.1L2102.8 923.9L2101.8 926.7L2100.8 929.5L2099.8 932.4L2098.9 935.2L2097.9 938.1L2097.0 940.9L2096.1 943.7L2095.2 946.5L2094.4 949.3L2093.6 952.1L2092.8 954.9L2092.0 957.7L2091.2 960.5L2090.3 963.3L2089.5 966.1L2088.7 968.9L2087.9 971.7L2087.0 974.6L2086.1 977.5L2085.2 980.3L2084.3 983.2L2083.5 986.1L2082.6 988.9L2081.8 991.6L2081.0 994.3L2080.3 996.9L2079.7 999.2L2079.1 1001.1L2078.6 1002.7L2078.1 1004.2L2077.7 1005.8L2077.2 1007.6L2076.7 1009.8L2076.1 1012.5L2075.5 1015.8L2074.7 1020.0L2073.8 1025.2L2072.8 1031.2L2071.8 1038.0L2070.6 1045.3L2069.4 1053.0L2068.2 1060.8L2067.0 1068.6L2065.8 1076.2L2064.6 1083.4L2063.5 1090.0L2062.4 1096.2L2061.2 1102.2L2060.0 1108.0L2058.8 1113.6L2057.6 1119.2L2056.5 1124.6L2055.4 1130.0L2054.3 1135.3L2053.2 1140.6L2052.3 1145.9L2051.4 1151.4L2050.5 1157.0L2049.7 1162.7L2048.9 1168.5L2048.2 1174.0L2047.5 1179.4L2046.8 1184.4L2046.3 1189.0L2045.8 1193.0L2045.3 1196.3L2044.9 1198.9L2044.7 1200.8L2044.5 1202.2L2044.3 1203.2L2044.2 1203.8L2044.2 1204.1L2044.1 1204.3L2044.1 1204.5L2044.1 1204.7L2044.0 1205.0" fill="none" stroke="#52dcd0" stroke-width="1.9" stroke-linejoin="round"/>
<path d="M2125.0 860.5L2124.5 860.4L2124.0 860.3L2123.4 860.1L2122.6 859.9L2121.8 859.7L2121.0 859.5L2120.0 859.3L2118.9 859.2L2117.8 859.1L2116.6 859.1L2115.4 859.1L2114.2 859.2L2113.0 859.3L2111.7 859.4L2110.3 859.5L2108.8 859.7L2107.0 860.0L2105.0 860.3L2102.6 860.7L2099.9 861.2L2096.7 861.8L2093.1 862.5L2089.2 863.3L2084.9 864.1L2080.5 865.0L2075.9 865.9L2071.3 866.9L2066.7 867.8L2062.2 868.7L2057.9 869.6L2053.7 870.5L2049.5 871.3L2045.3 872.2L2041.1 873.1L2036.9 874.0L2032.7 874.8L2028.5 875.7L2024.3 876.5L2020.1 877.3L2015.9 878.0L2011.7 878.7L2007.5 879.3L2003.3 879.8L1999.1 880.4L1994.9 880.9L1990.7 881.4L1986.5 881.9L1982.3 882.4L1978.1 883.0L1973.9 883.6L1969.7 884.3L1965.4 885.0L1961.1 885.7L1956.8 886.5L1952.5 887.2L1948.2 888.0L1944.0 888.7L1939.9 889.4L1935.9 890.0L1932.0 890.6L1928.2 891.1L1924.4 891.5L1920.7 891.9L1917.1 892.2L1913.5 892.5L1910.1 892.8L1906.8 893.1L1903.7 893.4L1900.7 893.7L1898.0 894.1L1895.5 894.5L1893.3 894.9L1891.2 895.3L1889.4 895.7L1887.7 896.2L1886.0 896.6L1884.5 897.1L1882.9 897.7L1881.4 898.3L1879.8 899.0L1878.2 899.8L1876.7 900.6L1875.3 901.5L1873.9 902.5L1872.5 903.5L1871.2 904.5L1869.9 905.6L1868.5 906.7L1867.2 907.7L1865.8 908.8L1864.4 909.9L1862.9 911.0L1861.4 912.1L1859.9 913.2L1858.4 914.3L1857.0 915.5L1855.6 916.6L1854.2 917.7L1853.0 918.9L1851.8 920.0L1850.8 921.1L1849.8 922.3L1849.0 923.4L1848.2 924.6L1847.5 925.7L1846.8 926.9L1846.0 928.0L1845.3 929.1L1844.4 930.1L1843.4 931.1L1842.3 932.1L1841.1 933.0L1839.9 933.9L1838.6 934.7L1837.2 935.6L1835.9 936.4L1834.6 937.2L1833.3 938.0L1832.1 938.7L1830.9 939.5L1829.8 940.3L1828.9 941.0L1828.0 941.7L1827.2 942.4L1826.4 943.1L1825.5 943.8L1824.6 944.4L1823.6 945.1L1822.4 945.8L1821.1 946.5L1819.6 947.2L1818.0 947.9L1816.3 948.7L1814.6 949.4L1812.7 950.2L1810.8 950.9L1808.8 951.6L1806.9 952.3L1804.9 952.9L1802.9 953.5L1800.9 954.0L1798.8 954.5L1796.7 955.0L1794.5 955.4L1792.3 955.8L1790.1 956.2L1788.0 956.5L1785.9 956.9L1783.8 957.3L1781.9 957.7L1780.0 958.1L1778.2 958.5L1776.4 958.9L1774.6 959.2L1772.9 959.6L1771.2 960.0L1769.6 960.4L1768.0 960.9L1766.5 961.4L1765.1 961.9L1763.7 962.5L1762.4 963.1L1761.2 963.7L1760.0 964.4L1758.9 965.0L1757.8 965.8L1756.8 966.5L1755.8 967.3L1754.8 968.1L1753.9 968.9L1753.0 969.8L1752.2 970.7L1751.4 971.6L1750.7 972.6L1750.1 973.5L1749.4 974.5L1748.8 975.6L1748.1 976.6L1747.5 977.7L1746.9 978.7L1746.3 979.8L1745.7 980.8L1745.1 981.9L1744.6 982.9L1744.0 984.0L1743.5 985.2L1742.9 986.3L1742.4 987.5L1741.9 988.7L1741.3 989.9L1740.7 991.2L1740.2 992.5L1739.6 993.9L1739.0 995.3L1738.4 996.7L1737.8 998.2L1737.3 999.6L1736.7 1001.1L1736.2 1002.5L1735.7 1003.9L1735.2 1005.3L1734.7 1006.7L1734.3 1008.2L1733.9 1009.6L1733.4 1011.0L1733.0 1012.4L1732.6 1013.8L1732.2 1015.2L1731.9 1016.6L1731.5 1017.9L1731.2 1019.2L1730.9 1020.3L1730.6 1021.5L1730.3 1022.6L1730.0 1023.7L1729.8 1024.8L1729.5 1026.0L1729.2 1027.2L1729.0 1028.6L1728.7 1030.0L1728.4 1031.5L1728.2 1033.0L1727.9 1034.4L1727.7 1036.0L1727.5 1037.6L1727.2 1039.3L1726.9 1041.2L1726.6 1043.2L1726.3 1045.5L1725.9 1048.0L1725.4 1050.8L1724.9 1054.0L1724.3 1057.5L1723.7 1061.1L1723.1 1064.9L1722.5 1068.7L1721.9 1072.5L1721.3 1076.2L1720.8 1079.7L1720.3 1083.0L1719.9 1086.0L1719.5 1088.9L1719.2 1091.7L1718.9 1094.3L1718.7 1097.0L1718.4 1099.6L1718.2 1102.2L1718.0 1105.0L1717.7 1107.9L1717.5 1110.9L1717.3 1114.0L1717.0 1117.2L1716.8 1120.4L1716.6 1123.6L1716.4 1127.0L1716.2 1130.5L1716.0 1134.0L1715.8 1137.8L1715.6 1141.7L1715.4 1145.9L1715.2 1150.5L1715.0 1155.7L1714.7 1161.2L1714.5 1167.0L1714.2 1172.7L1714.0 1178.4L1713.8 1183.8L1713.6 1188.6L1713.4 1192.9L1713.3 1196.3L1713.2 1198.9L1713.1 1200.8L1713.1 1202.2L1713.0 1203.2L1713.0 1203.8L1713.0 1204.1L1713.0 1204.3L1713.0 1204.5L1713.0 1204.7L1713.0 1205.0" fill="none" stroke="#5a2730" stroke-width="1.9" stroke-linejoin="round"/>
<path d="M2125.0 860.5L2124.3 862.0L2123.5 863.8L2122.5 866.1L2121.3 868.6L2120.1 871.3L2118.8 874.1L2117.5 876.9L2116.2 879.8L2115.0 882.5L2113.8 885.0L2112.7 887.4L2111.5 889.8L2110.4 892.2L2109.2 894.5L2108.1 896.9L2107.0 899.2L2105.8 901.6L2104.7 904.0L2103.7 906.4L2102.6 908.8L2101.6 911.2L2100.6 913.7L2099.6 916.1L2098.6 918.6L2097.7 921.1L2096.7 923.6L2095.8 926.1L2094.8 928.7L2093.9 931.3L2092.9 933.9L2091.9 936.6L2090.9 939.3L2089.9 942.1L2088.9 944.9L2087.9 947.7L2086.9 950.6L2085.9 953.4L2085.0 956.3L2084.0 959.1L2083.1 961.9L2082.2 964.7L2081.3 967.6L2080.4 970.5L2079.5 973.4L2078.6 976.3L2077.8 979.2L2077.0 982.0L2076.2 984.7L2075.4 987.4L2074.7 989.9L2074.0 992.3L2073.3 994.6L2072.7 996.8L2072.1 998.9L2071.5 1001.0L2071.0 1003.0L2070.4 1005.0L2070.0 1006.9L2069.5 1008.9L2069.1 1010.9L2068.8 1012.7L2068.6 1014.2L2068.4 1015.5L2068.3 1016.7L2068.3 1018.0L2068.2 1019.5L2068.0 1021.3L2067.8 1023.6L2067.5 1026.4L2067.0 1030.0L2066.4 1034.4L2065.6 1039.4L2064.8 1045.1L2063.9 1051.3L2062.9 1057.7L2061.9 1064.3L2060.9 1071.0L2059.9 1077.6L2058.9 1084.0L2057.9 1090.0L2056.9 1095.8L2055.9 1101.5L2054.9 1107.2L2053.9 1112.9L2052.9 1118.5L2051.9 1124.1L2050.9 1129.7L2049.9 1135.1L2049.0 1140.6L2048.1 1145.9L2047.3 1151.4L2046.4 1157.0L2045.6 1162.7L2044.8 1168.5L2044.1 1174.0L2043.3 1179.4L2042.7 1184.4L2042.1 1189.0L2041.5 1193.0L2041.1 1196.3L2040.7 1198.9L2040.5 1200.8L2040.3 1202.2L2040.2 1203.2L2040.1 1203.8L2040.1 1204.1L2040.1 1204.3L2040.1 1204.5L2040.0 1204.7L2040.0 1205.0" fill="none" stroke="#5a2730" stroke-width="1.9" stroke-linejoin="round"/>
</g>
<rect x="121.5" y="16.0" width="532.3" height="498.8" fill="none" stroke="#000" stroke-width="2"/>
<line x1="121.5" y1="57.2" x2="130.0" y2="57.2" stroke="#000" stroke-width="2"/>
<line x1="121.5" y1="195.8" x2="130.0" y2="195.8" stroke="#000" stroke-width="2"/>
<line x1="121.5" y1="334.4" x2="130.0" y2="334.4" stroke="#000" stroke-width="2"/>
<line x1="121.5" y1="473" x2="130.0" y2="473" stroke="#000" stroke-width="2"/>
<line x1="146.4" y1="514.8" x2="146.4" y2="507.8" stroke="#000" stroke-width="2"/>
<line x1="170.5" y1="514.8" x2="170.5" y2="511.3" stroke="#000" stroke-width="2"/>
<line x1="194.6" y1="514.8" x2="194.6" y2="507.8" stroke="#000" stroke-width="2"/>
<line x1="218.7" y1="514.8" x2="218.7" y2="511.3" stroke="#000" stroke-width="2"/>
<line x1="242.8" y1="514.8" x2="242.8" y2="507.8" stroke="#000" stroke-width="2"/>
<line x1="266.8" y1="514.8" x2="266.8" y2="511.3" stroke="#000" stroke-width="2"/>
<line x1="290.9" y1="514.8" x2="290.9" y2="507.8" stroke="#000" stroke-width="2"/>
<line x1="315" y1="514.8" x2="315" y2="511.3" stroke="#000" stroke-width="2"/>
<line x1="339.1" y1="514.8" x2="339.1" y2="507.8" stroke="#000" stroke-width="2"/>
<line x1="363.1" y1="514.8" x2="363.1" y2="511.3" stroke="#000" stroke-width="2"/>
<line x1="387.2" y1="514.8" x2="387.2" y2="507.8" stroke="#000" stroke-width="2"/>
<line x1="411.3" y1="514.8" x2="411.3" y2="511.3" stroke="#000" stroke-width="2"/>
<line x1="435.3" y1="514.8" x2="435.3" y2="507.8" stroke="#000" stroke-width="2"/>
<line x1="459.4" y1="514.8" x2="459.4" y2="511.3" stroke="#000" stroke-width="2"/>
<line x1="483.5" y1="514.8" x2="483.5" y2="507.8" stroke="#000" stroke-width="2"/>
<line x1="507.6" y1="514.8" x2="507.6" y2="511.3" stroke="#000" stroke-width="2"/>
<line x1="531.6" y1="514.8" x2="531.6" y2="507.8" stroke="#000" stroke-width="2"/>
<line x1="555.7" y1="514.8" x2="555.7" y2="511.3" stroke="#000" stroke-width="2"/>
<line x1="579.8" y1="514.8" x2="579.8" y2="507.8" stroke="#000" stroke-width="2"/>
<line x1="603.9" y1="514.8" x2="603.9" y2="511.3" stroke="#000" stroke-width="2"/>
<line x1="628" y1="514.8" x2="628" y2="507.8" stroke="#000" stroke-width="2"/>
<text x="111.2" y="67.4" font-size="27.8" text-anchor="end">10<tspan font-size="19.5" dy="-12">1</tspan></text>
<text x="111.2" y="206" font-size="27.8" text-anchor="end">10<tspan font-size="19.5" dy="-12">0</tspan></text>
<text x="111.2" y="344.6" font-size="27.8" text-anchor="end">10<tspan font-size="19.5" dy="-12">−1</tspan></text>
<text x="111.2" y="483.2" font-size="27.8" text-anchor="end">10<tspan font-size="19.5" dy="-12">−2</tspan></text>
<text x="146.4" y="544.3" font-size="27.5" text-anchor="middle">−5</text>
<text x="194.6" y="544.3" font-size="27.5" text-anchor="middle">−4</text>
<text x="242.8" y="544.3" font-size="27.5" text-anchor="middle">−3</text>
<text x="290.9" y="544.3" font-size="27.5" text-anchor="middle">−2</text>
<text x="339.1" y="544.3" font-size="27.5" text-anchor="middle">−1</text>
<text x="387.2" y="544.3" font-size="27.5" text-anchor="middle">0</text>
<text x="435.3" y="544.3" font-size="27.5" text-anchor="middle">1</text>
<text x="483.5" y="544.3" font-size="27.5" text-anchor="middle">2</text>
<text x="531.6" y="544.3" font-size="27.5" text-anchor="middle">3</text>
<text x="579.8" y="544.3" font-size="27.5" text-anchor="middle">4</text>
<text x="628" y="544.3" font-size="27.5" text-anchor="middle">5</text>
<text x="387.6" y="594.1" font-size="42.5" text-anchor="middle"><tspan font-style="italic">V</tspan><tspan font-size="29" dy="9.5">G</tspan><tspan dy="-9.5"> (V)</tspan></text>
<text transform="translate(34.6,263.5) rotate(-90)" font-size="42.5" text-anchor="middle"><tspan font-style="italic">I</tspan><tspan font-size="29" dy="9.5">D</tspan><tspan dy="-9.5"> (µA/µm)</tspan></text>
<text x="154.2" y="200.8" font-size="35.5">AR: 0.4</text>
<line x1="153.3" y1="57.9" x2="175.3" y2="57.9" stroke="#3a3a3a" stroke-width="1.6"/>
<text x="182.1" y="66.7" font-size="25" letter-spacing="0.5">50 µs</text>
<line x1="265.3" y1="57.9" x2="287.4" y2="57.9" stroke="#e8333a" stroke-width="1.6"/>
<text x="300" y="66.7" font-size="25" letter-spacing="0.5">100 µs</text>
<line x1="391.5" y1="57.9" x2="414" y2="57.9" stroke="#3a66dd" stroke-width="1.6"/>
<text x="427.1" y="66.7" font-size="25" letter-spacing="0.5">500 µs</text>
<line x1="153.3" y1="89.6" x2="175.3" y2="89.6" stroke="#3fae62" stroke-width="1.6"/>
<text x="189.1" y="98.4" font-size="25" letter-spacing="0.5">1 ms</text>
<line x1="265.3" y1="89.6" x2="287.4" y2="89.6" stroke="#a67ee0" stroke-width="1.6"/>
<text x="300" y="98.4" font-size="25" letter-spacing="0.5">5 ms</text>
<line x1="391.5" y1="89.6" x2="414" y2="89.6" stroke="#c49c2e" stroke-width="1.6"/>
<text x="427.1" y="98.4" font-size="25" letter-spacing="0.5">10 ms</text>
<line x1="153.3" y1="121.4" x2="175.3" y2="121.4" stroke="#52dcd0" stroke-width="1.6"/>
<text x="189.1" y="130.2" font-size="25" letter-spacing="0.5">50 ms</text>
<line x1="265.3" y1="121.4" x2="287.4" y2="121.4" stroke="#5a2730" stroke-width="1.6"/>
<text x="300" y="130.2" font-size="25" letter-spacing="0.5">100 ms</text>
<rect x="875.1" y="16.0" width="531.4" height="498.8" fill="none" stroke="#000" stroke-width="2"/>
<line x1="875.1" y1="57.2" x2="883.6" y2="57.2" stroke="#000" stroke-width="2"/>
<line x1="875.1" y1="195.8" x2="883.6" y2="195.8" stroke="#000" stroke-width="2"/>
<line x1="875.1" y1="334.4" x2="883.6" y2="334.4" stroke="#000" stroke-width="2"/>
<line x1="875.1" y1="473" x2="883.6" y2="473" stroke="#000" stroke-width="2"/>
<line x1="900" y1="514.8" x2="900" y2="507.8" stroke="#000" stroke-width="2"/>
<line x1="924.1" y1="514.8" x2="924.1" y2="511.3" stroke="#000" stroke-width="2"/>
<line x1="948.2" y1="514.8" x2="948.2" y2="507.8" stroke="#000" stroke-width="2"/>
<line x1="972.3" y1="514.8" x2="972.3" y2="511.3" stroke="#000" stroke-width="2"/>
<line x1="996.3" y1="514.8" x2="996.3" y2="507.8" stroke="#000" stroke-width="2"/>
<line x1="1020.4" y1="514.8" x2="1020.4" y2="511.3" stroke="#000" stroke-width="2"/>
<line x1="1044.5" y1="514.8" x2="1044.5" y2="507.8" stroke="#000" stroke-width="2"/>
<line x1="1068.6" y1="514.8" x2="1068.6" y2="511.3" stroke="#000" stroke-width="2"/>
<line x1="1092.6" y1="514.8" x2="1092.6" y2="507.8" stroke="#000" stroke-width="2"/>
<line x1="1116.7" y1="514.8" x2="1116.7" y2="511.3" stroke="#000" stroke-width="2"/>
<line x1="1140.8" y1="514.8" x2="1140.8" y2="507.8" stroke="#000" stroke-width="2"/>
<line x1="1164.9" y1="514.8" x2="1164.9" y2="511.3" stroke="#000" stroke-width="2"/>
<line x1="1189" y1="514.8" x2="1189" y2="507.8" stroke="#000" stroke-width="2"/>
<line x1="1213" y1="514.8" x2="1213" y2="511.3" stroke="#000" stroke-width="2"/>
<line x1="1237.1" y1="514.8" x2="1237.1" y2="507.8" stroke="#000" stroke-width="2"/>
<line x1="1261.2" y1="514.8" x2="1261.2" y2="511.3" stroke="#000" stroke-width="2"/>
<line x1="1285.2" y1="514.8" x2="1285.2" y2="507.8" stroke="#000" stroke-width="2"/>
<line x1="1309.3" y1="514.8" x2="1309.3" y2="511.3" stroke="#000" stroke-width="2"/>
<line x1="1333.4" y1="514.8" x2="1333.4" y2="507.8" stroke="#000" stroke-width="2"/>
<line x1="1357.5" y1="514.8" x2="1357.5" y2="511.3" stroke="#000" stroke-width="2"/>
<line x1="1381.5" y1="514.8" x2="1381.5" y2="507.8" stroke="#000" stroke-width="2"/>
<text x="864.8" y="67.4" font-size="27.8" text-anchor="end">10<tspan font-size="19.5" dy="-12">1</tspan></text>
<text x="864.8" y="206" font-size="27.8" text-anchor="end">10<tspan font-size="19.5" dy="-12">0</tspan></text>
<text x="864.8" y="344.6" font-size="27.8" text-anchor="end">10<tspan font-size="19.5" dy="-12">-1</tspan></text>
<text x="864.8" y="483.2" font-size="27.8" text-anchor="end">10<tspan font-size="19.5" dy="-12">-2</tspan></text>
<text x="900" y="544.3" font-size="27.5" text-anchor="middle">-5</text>
<text x="948.2" y="544.3" font-size="27.5" text-anchor="middle">-4</text>
<text x="996.3" y="544.3" font-size="27.5" text-anchor="middle">-3</text>
<text x="1044.5" y="544.3" font-size="27.5" text-anchor="middle">-2</text>
<text x="1092.6" y="544.3" font-size="27.5" text-anchor="middle">-1</text>
<text x="1140.8" y="544.3" font-size="27.5" text-anchor="middle">0</text>
<text x="1189" y="544.3" font-size="27.5" text-anchor="middle">1</text>
<text x="1237.1" y="544.3" font-size="27.5" text-anchor="middle">2</text>
<text x="1285.2" y="544.3" font-size="27.5" text-anchor="middle">3</text>
<text x="1333.4" y="544.3" font-size="27.5" text-anchor="middle">4</text>
<text x="1381.5" y="544.3" font-size="27.5" text-anchor="middle">5</text>
<text x="1140.8" y="594.1" font-size="42.5" text-anchor="middle"><tspan font-style="italic">V</tspan><tspan font-size="29" dy="9.5">G</tspan><tspan dy="-9.5"> (V)</tspan></text>
<text transform="translate(792.8,263.5) rotate(-90)" font-size="42.5" text-anchor="middle"><tspan font-style="italic">I</tspan><tspan font-size="29" dy="9.5">D</tspan><tspan dy="-9.5"> (µA/µm)</tspan></text>
<text x="909.3" y="200.9" font-size="35.5">AR: 0.3</text>
<line x1="906.9" y1="57.9" x2="928.9" y2="57.9" stroke="#3a3a3a" stroke-width="1.6"/>
<text x="935.7" y="66.7" font-size="25" letter-spacing="0.5">50 µs</text>
<line x1="1018.9" y1="57.9" x2="1041" y2="57.9" stroke="#e8333a" stroke-width="1.6"/>
<text x="1053.6" y="66.7" font-size="25" letter-spacing="0.5">100 µs</text>
<line x1="1145.1" y1="57.9" x2="1167.6" y2="57.9" stroke="#3a66dd" stroke-width="1.6"/>
<text x="1180.7" y="66.7" font-size="25" letter-spacing="0.5">500 µs</text>
<line x1="906.9" y1="89.6" x2="928.9" y2="89.6" stroke="#3fae62" stroke-width="1.6"/>
<text x="942.7" y="98.4" font-size="25" letter-spacing="0.5">1 ms</text>
<line x1="1018.9" y1="89.6" x2="1041" y2="89.6" stroke="#a67ee0" stroke-width="1.6"/>
<text x="1053.6" y="98.4" font-size="25" letter-spacing="0.5">5 ms</text>
<line x1="1145.1" y1="89.6" x2="1167.6" y2="89.6" stroke="#c49c2e" stroke-width="1.6"/>
<text x="1180.7" y="98.4" font-size="25" letter-spacing="0.5">10 ms</text>
<line x1="906.9" y1="121.4" x2="928.9" y2="121.4" stroke="#52dcd0" stroke-width="1.6"/>
<text x="942.7" y="130.2" font-size="25" letter-spacing="0.5">50 ms</text>
<line x1="1018.9" y1="121.4" x2="1041" y2="121.4" stroke="#5a2730" stroke-width="1.6"/>
<text x="1053.6" y="130.2" font-size="25" letter-spacing="0.5">100 ms</text>
<rect x="1628.3" y="16.0" width="531.4" height="498.8" fill="none" stroke="#000" stroke-width="2"/>
<line x1="1628.3" y1="57.2" x2="1636.8" y2="57.2" stroke="#000" stroke-width="2"/>
<line x1="1628.3" y1="195.8" x2="1636.8" y2="195.8" stroke="#000" stroke-width="2"/>
<line x1="1628.3" y1="334.4" x2="1636.8" y2="334.4" stroke="#000" stroke-width="2"/>
<line x1="1628.3" y1="473" x2="1636.8" y2="473" stroke="#000" stroke-width="2"/>
<line x1="1653.2" y1="514.8" x2="1653.2" y2="507.8" stroke="#000" stroke-width="2"/>
<line x1="1677.3" y1="514.8" x2="1677.3" y2="511.3" stroke="#000" stroke-width="2"/>
<line x1="1701.4" y1="514.8" x2="1701.4" y2="507.8" stroke="#000" stroke-width="2"/>
<line x1="1725.5" y1="514.8" x2="1725.5" y2="511.3" stroke="#000" stroke-width="2"/>
<line x1="1749.5" y1="514.8" x2="1749.5" y2="507.8" stroke="#000" stroke-width="2"/>
<line x1="1773.6" y1="514.8" x2="1773.6" y2="511.3" stroke="#000" stroke-width="2"/>
<line x1="1797.7" y1="514.8" x2="1797.7" y2="507.8" stroke="#000" stroke-width="2"/>
<line x1="1821.8" y1="514.8" x2="1821.8" y2="511.3" stroke="#000" stroke-width="2"/>
<line x1="1845.8" y1="514.8" x2="1845.8" y2="507.8" stroke="#000" stroke-width="2"/>
<line x1="1869.9" y1="514.8" x2="1869.9" y2="511.3" stroke="#000" stroke-width="2"/>
<line x1="1894" y1="514.8" x2="1894" y2="507.8" stroke="#000" stroke-width="2"/>
<line x1="1918.1" y1="514.8" x2="1918.1" y2="511.3" stroke="#000" stroke-width="2"/>
<line x1="1942.2" y1="514.8" x2="1942.2" y2="507.8" stroke="#000" stroke-width="2"/>
<line x1="1966.2" y1="514.8" x2="1966.2" y2="511.3" stroke="#000" stroke-width="2"/>
<line x1="1990.3" y1="514.8" x2="1990.3" y2="507.8" stroke="#000" stroke-width="2"/>
<line x1="2014.4" y1="514.8" x2="2014.4" y2="511.3" stroke="#000" stroke-width="2"/>
<line x1="2038.5" y1="514.8" x2="2038.5" y2="507.8" stroke="#000" stroke-width="2"/>
<line x1="2062.5" y1="514.8" x2="2062.5" y2="511.3" stroke="#000" stroke-width="2"/>
<line x1="2086.6" y1="514.8" x2="2086.6" y2="507.8" stroke="#000" stroke-width="2"/>
<line x1="2110.7" y1="514.8" x2="2110.7" y2="511.3" stroke="#000" stroke-width="2"/>
<line x1="2134.8" y1="514.8" x2="2134.8" y2="507.8" stroke="#000" stroke-width="2"/>
<text x="1618" y="67.4" font-size="27.8" text-anchor="end">10<tspan font-size="19.5" dy="-12">1</tspan></text>
<text x="1618" y="206" font-size="27.8" text-anchor="end">10<tspan font-size="19.5" dy="-12">0</tspan></text>
<text x="1618" y="344.6" font-size="27.8" text-anchor="end">10<tspan font-size="19.5" dy="-12">−1</tspan></text>
<text x="1618" y="483.2" font-size="27.8" text-anchor="end">10<tspan font-size="19.5" dy="-12">−2</tspan></text>
<text x="1653.2" y="544.3" font-size="27.5" text-anchor="middle">−5</text>
<text x="1701.4" y="544.3" font-size="27.5" text-anchor="middle">−4</text>
<text x="1749.5" y="544.3" font-size="27.5" text-anchor="middle">−3</text>
<text x="1797.7" y="544.3" font-size="27.5" text-anchor="middle">−2</text>
<text x="1845.8" y="544.3" font-size="27.5" text-anchor="middle">−1</text>
<text x="1894" y="544.3" font-size="27.5" text-anchor="middle">0</text>
<text x="1942.2" y="544.3" font-size="27.5" text-anchor="middle">1</text>
<text x="1990.3" y="544.3" font-size="27.5" text-anchor="middle">2</text>
<text x="2038.5" y="544.3" font-size="27.5" text-anchor="middle">3</text>
<text x="2086.6" y="544.3" font-size="27.5" text-anchor="middle">4</text>
<text x="2134.8" y="544.3" font-size="27.5" text-anchor="middle">5</text>
<text x="1894" y="594.1" font-size="42.5" text-anchor="middle"><tspan font-style="italic">V</tspan><tspan font-size="29" dy="9.5">G</tspan><tspan dy="-9.5"> (V)</tspan></text>
<text transform="translate(1541.4,263.5) rotate(-90)" font-size="42.5" text-anchor="middle"><tspan font-style="italic">I</tspan><tspan font-size="29" dy="9.5">D</tspan><tspan dy="-9.5"> (µA/µm)</tspan></text>
<text x="1663.7" y="200.9" font-size="35.5">AR: 0.1</text>
<line x1="1660.1" y1="57.9" x2="1682.1" y2="57.9" stroke="#3a3a3a" stroke-width="1.6"/>
<text x="1688.9" y="66.7" font-size="25" letter-spacing="0.5">50 µs</text>
<line x1="1772.1" y1="57.9" x2="1794.2" y2="57.9" stroke="#e8333a" stroke-width="1.6"/>
<text x="1806.8" y="66.7" font-size="25" letter-spacing="0.5">100 µs</text>
<line x1="1898.3" y1="57.9" x2="1920.8" y2="57.9" stroke="#3a66dd" stroke-width="1.6"/>
<text x="1933.9" y="66.7" font-size="25" letter-spacing="0.5">500 µs</text>
<line x1="1660.1" y1="89.6" x2="1682.1" y2="89.6" stroke="#3fae62" stroke-width="1.6"/>
<text x="1695.9" y="98.4" font-size="25" letter-spacing="0.5">1 ms</text>
<line x1="1772.1" y1="89.6" x2="1794.2" y2="89.6" stroke="#a67ee0" stroke-width="1.6"/>
<text x="1806.8" y="98.4" font-size="25" letter-spacing="0.5">5 ms</text>
<line x1="1898.3" y1="89.6" x2="1920.8" y2="89.6" stroke="#c49c2e" stroke-width="1.6"/>
<text x="1933.9" y="98.4" font-size="25" letter-spacing="0.5">10 ms</text>
<line x1="1660.1" y1="121.4" x2="1682.1" y2="121.4" stroke="#52dcd0" stroke-width="1.6"/>
<text x="1695.9" y="130.2" font-size="25" letter-spacing="0.5">50 ms</text>
<line x1="1772.1" y1="121.4" x2="1794.2" y2="121.4" stroke="#5a2730" stroke-width="1.6"/>
<text x="1806.8" y="130.2" font-size="25" letter-spacing="0.5">100 ms</text>
<rect x="129.2" y="698.4" width="531.8" height="498.4" fill="none" stroke="#000" stroke-width="2"/>
<line x1="129.2" y1="739.6" x2="137.7" y2="739.6" stroke="#000" stroke-width="2"/>
<line x1="129.2" y1="878.2" x2="137.7" y2="878.2" stroke="#000" stroke-width="2"/>
<line x1="129.2" y1="1016.8" x2="137.7" y2="1016.8" stroke="#000" stroke-width="2"/>
<line x1="129.2" y1="1155.4" x2="137.7" y2="1155.4" stroke="#000" stroke-width="2"/>
<line x1="154.1" y1="1196.8" x2="154.1" y2="1189.8" stroke="#000" stroke-width="2"/>
<line x1="178.2" y1="1196.8" x2="178.2" y2="1193.3" stroke="#000" stroke-width="2"/>
<line x1="202.3" y1="1196.8" x2="202.3" y2="1189.8" stroke="#000" stroke-width="2"/>
<line x1="226.4" y1="1196.8" x2="226.4" y2="1193.3" stroke="#000" stroke-width="2"/>
<line x1="250.4" y1="1196.8" x2="250.4" y2="1189.8" stroke="#000" stroke-width="2"/>
<line x1="274.5" y1="1196.8" x2="274.5" y2="1193.3" stroke="#000" stroke-width="2"/>
<line x1="298.6" y1="1196.8" x2="298.6" y2="1189.8" stroke="#000" stroke-width="2"/>
<line x1="322.7" y1="1196.8" x2="322.7" y2="1193.3" stroke="#000" stroke-width="2"/>
<line x1="346.8" y1="1196.8" x2="346.8" y2="1189.8" stroke="#000" stroke-width="2"/>
<line x1="370.8" y1="1196.8" x2="370.8" y2="1193.3" stroke="#000" stroke-width="2"/>
<line x1="394.9" y1="1196.8" x2="394.9" y2="1189.8" stroke="#000" stroke-width="2"/>
<line x1="419" y1="1196.8" x2="419" y2="1193.3" stroke="#000" stroke-width="2"/>
<line x1="443" y1="1196.8" x2="443" y2="1189.8" stroke="#000" stroke-width="2"/>
<line x1="467.1" y1="1196.8" x2="467.1" y2="1193.3" stroke="#000" stroke-width="2"/>
<line x1="491.2" y1="1196.8" x2="491.2" y2="1189.8" stroke="#000" stroke-width="2"/>
<line x1="515.3" y1="1196.8" x2="515.3" y2="1193.3" stroke="#000" stroke-width="2"/>
<line x1="539.3" y1="1196.8" x2="539.3" y2="1189.8" stroke="#000" stroke-width="2"/>
<line x1="563.4" y1="1196.8" x2="563.4" y2="1193.3" stroke="#000" stroke-width="2"/>
<line x1="587.5" y1="1196.8" x2="587.5" y2="1189.8" stroke="#000" stroke-width="2"/>
<line x1="611.6" y1="1196.8" x2="611.6" y2="1193.3" stroke="#000" stroke-width="2"/>
<line x1="635.6" y1="1196.8" x2="635.6" y2="1189.8" stroke="#000" stroke-width="2"/>
<text x="118.9" y="749.8" font-size="27.8" text-anchor="end">10<tspan font-size="19.5" dy="-12">1</tspan></text>
<text x="118.9" y="888.4" font-size="27.8" text-anchor="end">10<tspan font-size="19.5" dy="-12">0</tspan></text>
<text x="118.9" y="1027" font-size="27.8" text-anchor="end">10<tspan font-size="19.5" dy="-12">−1</tspan></text>
<text x="118.9" y="1165.6" font-size="27.8" text-anchor="end">10<tspan font-size="19.5" dy="-12">−2</tspan></text>
<text x="154.1" y="1226.3" font-size="27.5" text-anchor="middle">−5</text>
<text x="202.3" y="1226.3" font-size="27.5" text-anchor="middle">−4</text>
<text x="250.4" y="1226.3" font-size="27.5" text-anchor="middle">−3</text>
<text x="298.6" y="1226.3" font-size="27.5" text-anchor="middle">−2</text>
<text x="346.8" y="1226.3" font-size="27.5" text-anchor="middle">−1</text>
<text x="394.9" y="1226.3" font-size="27.5" text-anchor="middle">0</text>
<text x="443" y="1226.3" font-size="27.5" text-anchor="middle">1</text>
<text x="491.2" y="1226.3" font-size="27.5" text-anchor="middle">2</text>
<text x="539.3" y="1226.3" font-size="27.5" text-anchor="middle">3</text>
<text x="587.5" y="1226.3" font-size="27.5" text-anchor="middle">4</text>
<text x="635.6" y="1226.3" font-size="27.5" text-anchor="middle">5</text>
<text x="395.1" y="1276.1" font-size="42.5" text-anchor="middle"><tspan font-style="italic">V</tspan><tspan font-size="29" dy="9.5">G</tspan><tspan dy="-9.5"> (V)</tspan></text>
<text transform="translate(42.3,945.7) rotate(-90)" font-size="42.5" text-anchor="middle"><tspan font-style="italic">I</tspan><tspan font-size="29" dy="9.5">D</tspan><tspan dy="-9.5"> (µA/µm)</tspan></text>
<text x="154.7" y="897.6" font-size="35.5">AR: 0.06</text>
<line x1="154.1" y1="740.5" x2="190.1" y2="740.5" stroke="#3a3a3a" stroke-width="1.6"/>
<text x="196.2" y="748.8" font-size="25" letter-spacing="0.5">50 µs</text>
<line x1="259.5" y1="740.5" x2="295.6" y2="740.5" stroke="#e8333a" stroke-width="1.6"/>
<text x="300.8" y="748.8" font-size="25" letter-spacing="0.5">100 µs</text>
<line x1="386.1" y1="740.5" x2="421.2" y2="740.5" stroke="#3a66dd" stroke-width="1.6"/>
<text x="428.1" y="748.8" font-size="25" letter-spacing="0.5">500 µs</text>
<line x1="154.1" y1="772.1" x2="190.1" y2="772.1" stroke="#3fae62" stroke-width="1.6"/>
<text x="196.2" y="780.4" font-size="25" letter-spacing="0.5">1 ms</text>
<line x1="251.6" y1="772.1" x2="287.7" y2="772.1" stroke="#a67ee0" stroke-width="1.6"/>
<text x="293.6" y="780.4" font-size="25" letter-spacing="0.5">5 ms</text>
<line x1="356.2" y1="772.1" x2="392.2" y2="772.1" stroke="#c49c2e" stroke-width="1.6"/>
<text x="397.5" y="780.4" font-size="25" letter-spacing="0.5">10 ms</text>
<line x1="154.1" y1="803.8" x2="190.1" y2="803.8" stroke="#52dcd0" stroke-width="1.6"/>
<text x="196.2" y="812.1" font-size="25" letter-spacing="0.5">50 ms</text>
<line x1="266.6" y1="803.8" x2="302.1" y2="803.8" stroke="#5a2730" stroke-width="1.6"/>
<text x="307.8" y="812.1" font-size="25" letter-spacing="0.5">100 ms</text>
<rect x="875.1" y="698.4" width="531.4" height="498.4" fill="none" stroke="#000" stroke-width="2"/>
<line x1="875.1" y1="739.6" x2="883.6" y2="739.6" stroke="#000" stroke-width="2"/>
<line x1="875.1" y1="878.2" x2="883.6" y2="878.2" stroke="#000" stroke-width="2"/>
<line x1="875.1" y1="1016.8" x2="883.6" y2="1016.8" stroke="#000" stroke-width="2"/>
<line x1="875.1" y1="1155.4" x2="883.6" y2="1155.4" stroke="#000" stroke-width="2"/>
<line x1="900" y1="1196.8" x2="900" y2="1189.8" stroke="#000" stroke-width="2"/>
<line x1="924.1" y1="1196.8" x2="924.1" y2="1193.3" stroke="#000" stroke-width="2"/>
<line x1="948.2" y1="1196.8" x2="948.2" y2="1189.8" stroke="#000" stroke-width="2"/>
<line x1="972.3" y1="1196.8" x2="972.3" y2="1193.3" stroke="#000" stroke-width="2"/>
<line x1="996.3" y1="1196.8" x2="996.3" y2="1189.8" stroke="#000" stroke-width="2"/>
<line x1="1020.4" y1="1196.8" x2="1020.4" y2="1193.3" stroke="#000" stroke-width="2"/>
<line x1="1044.5" y1="1196.8" x2="1044.5" y2="1189.8" stroke="#000" stroke-width="2"/>
<line x1="1068.6" y1="1196.8" x2="1068.6" y2="1193.3" stroke="#000" stroke-width="2"/>
<line x1="1092.6" y1="1196.8" x2="1092.6" y2="1189.8" stroke="#000" stroke-width="2"/>
<line x1="1116.7" y1="1196.8" x2="1116.7" y2="1193.3" stroke="#000" stroke-width="2"/>
<line x1="1140.8" y1="1196.8" x2="1140.8" y2="1189.8" stroke="#000" stroke-width="2"/>
<line x1="1164.9" y1="1196.8" x2="1164.9" y2="1193.3" stroke="#000" stroke-width="2"/>
<line x1="1189" y1="1196.8" x2="1189" y2="1189.8" stroke="#000" stroke-width="2"/>
<line x1="1213" y1="1196.8" x2="1213" y2="1193.3" stroke="#000" stroke-width="2"/>
<line x1="1237.1" y1="1196.8" x2="1237.1" y2="1189.8" stroke="#000" stroke-width="2"/>
<line x1="1261.2" y1="1196.8" x2="1261.2" y2="1193.3" stroke="#000" stroke-width="2"/>
<line x1="1285.2" y1="1196.8" x2="1285.2" y2="1189.8" stroke="#000" stroke-width="2"/>
<line x1="1309.3" y1="1196.8" x2="1309.3" y2="1193.3" stroke="#000" stroke-width="2"/>
<line x1="1333.4" y1="1196.8" x2="1333.4" y2="1189.8" stroke="#000" stroke-width="2"/>
<line x1="1357.5" y1="1196.8" x2="1357.5" y2="1193.3" stroke="#000" stroke-width="2"/>
<line x1="1381.5" y1="1196.8" x2="1381.5" y2="1189.8" stroke="#000" stroke-width="2"/>
<text x="864.8" y="749.8" font-size="27.8" text-anchor="end">10<tspan font-size="19.5" dy="-12">1</tspan></text>
<text x="864.8" y="888.4" font-size="27.8" text-anchor="end">10<tspan font-size="19.5" dy="-12">0</tspan></text>
<text x="864.8" y="1027" font-size="27.8" text-anchor="end">10<tspan font-size="19.5" dy="-12">-1</tspan></text>
<text x="864.8" y="1165.6" font-size="27.8" text-anchor="end">10<tspan font-size="19.5" dy="-12">-2</tspan></text>
<text x="900" y="1226.3" font-size="27.5" text-anchor="middle">-5</text>
<text x="948.2" y="1226.3" font-size="27.5" text-anchor="middle">-4</text>
<text x="996.3" y="1226.3" font-size="27.5" text-anchor="middle">-3</text>
<text x="1044.5" y="1226.3" font-size="27.5" text-anchor="middle">-2</text>
<text x="1092.6" y="1226.3" font-size="27.5" text-anchor="middle">-1</text>
<text x="1140.8" y="1226.3" font-size="27.5" text-anchor="middle">0</text>
<text x="1189" y="1226.3" font-size="27.5" text-anchor="middle">1</text>
<text x="1237.1" y="1226.3" font-size="27.5" text-anchor="middle">2</text>
<text x="1285.2" y="1226.3" font-size="27.5" text-anchor="middle">3</text>
<text x="1333.4" y="1226.3" font-size="27.5" text-anchor="middle">4</text>
<text x="1381.5" y="1226.3" font-size="27.5" text-anchor="middle">5</text>
<text x="1140.8" y="1276.1" font-size="42.5" text-anchor="middle"><tspan font-style="italic">V</tspan><tspan font-size="29" dy="9.5">G</tspan><tspan dy="-9.5"> (V)</tspan></text>
<text transform="translate(792.8,945.7) rotate(-90)" font-size="42.5" text-anchor="middle"><tspan font-style="italic">I</tspan><tspan font-size="29" dy="9.5">D</tspan><tspan dy="-9.5"> (µA/µm)</tspan></text>
<text x="909.7" y="897.6" font-size="35.5">AR: 0.04</text>
<line x1="906.9" y1="740.2" x2="928.9" y2="740.2" stroke="#3a3a3a" stroke-width="1.6"/>
<text x="935.7" y="749" font-size="25" letter-spacing="0.5">50 µs</text>
<line x1="1018.9" y1="740.2" x2="1041" y2="740.2" stroke="#e8333a" stroke-width="1.6"/>
<text x="1053.6" y="749" font-size="25" letter-spacing="0.5">100 µs</text>
<line x1="1145.1" y1="740.2" x2="1167.6" y2="740.2" stroke="#3a66dd" stroke-width="1.6"/>
<text x="1180.7" y="749" font-size="25" letter-spacing="0.5">500 µs</text>
<line x1="906.9" y1="772" x2="928.9" y2="772" stroke="#3fae62" stroke-width="1.6"/>
<text x="942.7" y="780.8" font-size="25" letter-spacing="0.5">1 ms</text>
<line x1="1018.9" y1="772" x2="1041" y2="772" stroke="#a67ee0" stroke-width="1.6"/>
<text x="1053.6" y="780.8" font-size="25" letter-spacing="0.5">5 ms</text>
<line x1="1145.1" y1="772" x2="1167.6" y2="772" stroke="#c49c2e" stroke-width="1.6"/>
<text x="1180.7" y="780.8" font-size="25" letter-spacing="0.5">10 ms</text>
<line x1="906.9" y1="803.8" x2="928.9" y2="803.8" stroke="#52dcd0" stroke-width="1.6"/>
<text x="942.7" y="812.6" font-size="25" letter-spacing="0.5">50 ms</text>
<line x1="1018.9" y1="803.8" x2="1041" y2="803.8" stroke="#5a2730" stroke-width="1.6"/>
<text x="1053.6" y="812.6" font-size="25" letter-spacing="0.5">100 ms</text>
<rect x="1628.3" y="698.4" width="531.4" height="498.4" fill="none" stroke="#000" stroke-width="2"/>
<line x1="1628.3" y1="739.6" x2="1636.8" y2="739.6" stroke="#000" stroke-width="2"/>
<line x1="1628.3" y1="878.2" x2="1636.8" y2="878.2" stroke="#000" stroke-width="2"/>
<line x1="1628.3" y1="1016.8" x2="1636.8" y2="1016.8" stroke="#000" stroke-width="2"/>
<line x1="1628.3" y1="1155.4" x2="1636.8" y2="1155.4" stroke="#000" stroke-width="2"/>
<line x1="1653.2" y1="1196.8" x2="1653.2" y2="1189.8" stroke="#000" stroke-width="2"/>
<line x1="1677.3" y1="1196.8" x2="1677.3" y2="1193.3" stroke="#000" stroke-width="2"/>
<line x1="1701.4" y1="1196.8" x2="1701.4" y2="1189.8" stroke="#000" stroke-width="2"/>
<line x1="1725.5" y1="1196.8" x2="1725.5" y2="1193.3" stroke="#000" stroke-width="2"/>
<line x1="1749.5" y1="1196.8" x2="1749.5" y2="1189.8" stroke="#000" stroke-width="2"/>
<line x1="1773.6" y1="1196.8" x2="1773.6" y2="1193.3" stroke="#000" stroke-width="2"/>
<line x1="1797.7" y1="1196.8" x2="1797.7" y2="1189.8" stroke="#000" stroke-width="2"/>
<line x1="1821.8" y1="1196.8" x2="1821.8" y2="1193.3" stroke="#000" stroke-width="2"/>
<line x1="1845.8" y1="1196.8" x2="1845.8" y2="1189.8" stroke="#000" stroke-width="2"/>
<line x1="1869.9" y1="1196.8" x2="1869.9" y2="1193.3" stroke="#000" stroke-width="2"/>
<line x1="1894" y1="1196.8" x2="1894" y2="1189.8" stroke="#000" stroke-width="2"/>
<line x1="1918.1" y1="1196.8" x2="1918.1" y2="1193.3" stroke="#000" stroke-width="2"/>
<line x1="1942.2" y1="1196.8" x2="1942.2" y2="1189.8" stroke="#000" stroke-width="2"/>
<line x1="1966.2" y1="1196.8" x2="1966.2" y2="1193.3" stroke="#000" stroke-width="2"/>
<line x1="1990.3" y1="1196.8" x2="1990.3" y2="1189.8" stroke="#000" stroke-width="2"/>
<line x1="2014.4" y1="1196.8" x2="2014.4" y2="1193.3" stroke="#000" stroke-width="2"/>
<line x1="2038.5" y1="1196.8" x2="2038.5" y2="1189.8" stroke="#000" stroke-width="2"/>
<line x1="2062.5" y1="1196.8" x2="2062.5" y2="1193.3" stroke="#000" stroke-width="2"/>
<line x1="2086.6" y1="1196.8" x2="2086.6" y2="1189.8" stroke="#000" stroke-width="2"/>
<line x1="2110.7" y1="1196.8" x2="2110.7" y2="1193.3" stroke="#000" stroke-width="2"/>
<line x1="2134.8" y1="1196.8" x2="2134.8" y2="1189.8" stroke="#000" stroke-width="2"/>
<text x="1618" y="749.8" font-size="27.8" text-anchor="end">10<tspan font-size="19.5" dy="-12">1</tspan></text>
<text x="1618" y="888.4" font-size="27.8" text-anchor="end">10<tspan font-size="19.5" dy="-12">0</tspan></text>
<text x="1618" y="1027" font-size="27.8" text-anchor="end">10<tspan font-size="19.5" dy="-12">−1</tspan></text>
<text x="1618" y="1165.6" font-size="27.8" text-anchor="end">10<tspan font-size="19.5" dy="-12">−2</tspan></text>
<text x="1653.2" y="1226.3" font-size="27.5" text-anchor="middle">−5</text>
<text x="1701.4" y="1226.3" font-size="27.5" text-anchor="middle">−4</text>
<text x="1749.5" y="1226.3" font-size="27.5" text-anchor="middle">−3</text>
<text x="1797.7" y="1226.3" font-size="27.5" text-anchor="middle">−2</text>
<text x="1845.8" y="1226.3" font-size="27.5" text-anchor="middle">−1</text>
<text x="1894" y="1226.3" font-size="27.5" text-anchor="middle">0</text>
<text x="1942.2" y="1226.3" font-size="27.5" text-anchor="middle">1</text>
<text x="1990.3" y="1226.3" font-size="27.5" text-anchor="middle">2</text>
<text x="2038.5" y="1226.3" font-size="27.5" text-anchor="middle">3</text>
<text x="2086.6" y="1226.3" font-size="27.5" text-anchor="middle">4</text>
<text x="2134.8" y="1226.3" font-size="27.5" text-anchor="middle">5</text>
<text x="1894" y="1276.1" font-size="42.5" text-anchor="middle"><tspan font-style="italic">V</tspan><tspan font-size="29" dy="9.5">G</tspan><tspan dy="-9.5"> (V)</tspan></text>
<text transform="translate(1541.4,945.7) rotate(-90)" font-size="42.5" text-anchor="middle"><tspan font-style="italic">I</tspan><tspan font-size="29" dy="9.5">D</tspan><tspan dy="-9.5"> (µA/µm)</tspan></text>
<text x="1663.8" y="897.6" font-size="35.5">AR: 0.03</text>
<line x1="1660.1" y1="740.2" x2="1682.1" y2="740.2" stroke="#3a3a3a" stroke-width="1.6"/>
<text x="1688.9" y="749" font-size="25" letter-spacing="0.5">50 µs</text>
<line x1="1772.1" y1="740.2" x2="1794.2" y2="740.2" stroke="#e8333a" stroke-width="1.6"/>
<text x="1806.8" y="749" font-size="25" letter-spacing="0.5">100 µs</text>
<line x1="1898.3" y1="740.2" x2="1920.8" y2="740.2" stroke="#3a66dd" stroke-width="1.6"/>
<text x="1933.9" y="749" font-size="25" letter-spacing="0.5">500 µs</text>
<line x1="1660.1" y1="772" x2="1682.1" y2="772" stroke="#3fae62" stroke-width="1.6"/>
<text x="1695.9" y="780.8" font-size="25" letter-spacing="0.5">1 ms</text>
<line x1="1772.1" y1="772" x2="1794.2" y2="772" stroke="#a67ee0" stroke-width="1.6"/>
<text x="1806.8" y="780.8" font-size="25" letter-spacing="0.5">5 ms</text>
<line x1="1898.3" y1="772" x2="1920.8" y2="772" stroke="#c49c2e" stroke-width="1.6"/>
<text x="1933.9" y="780.8" font-size="25" letter-spacing="0.5">10 ms</text>
<line x1="1660.1" y1="803.8" x2="1682.1" y2="803.8" stroke="#52dcd0" stroke-width="1.6"/>
<text x="1695.9" y="812.6" font-size="25" letter-spacing="0.5">50 ms</text>
<line x1="1772.1" y1="803.8" x2="1794.2" y2="803.8" stroke="#5a2730" stroke-width="1.6"/>
<text x="1806.8" y="812.6" font-size="25" letter-spacing="0.5">100 ms</text>
<text x="-2.5" y="44.5" font-size="63">a</text>
<text x="748" y="44.5" font-size="63">b</text>
<text x="1499" y="44.5" font-size="63">c</text>
<text x="0" y="709.8" font-size="63">d</text>
<text x="749" y="709.8" font-size="63">e</text>
<text x="1498.5" y="709.8" font-size="63">f</text>
</svg>
</body></html>
